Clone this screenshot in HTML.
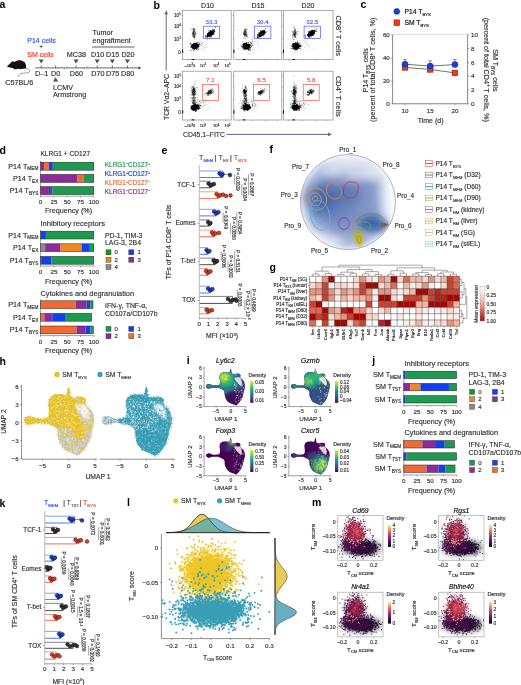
<!DOCTYPE html>
<html><head><meta charset="utf-8"><style>
html,body{margin:0;padding:0;background:#fff;}
body{width:521px;height:685px;overflow:hidden;}
svg{display:block;font-family:"Liberation Sans", sans-serif;will-change:transform;}
</style></head><body>
<svg width="521" height="685" viewBox="0 0 521 685">
<defs><radialGradient id="fg" cx="0.5" cy="0.5" r="0.5">
<stop offset="0" stop-color="#7a90c2"/><stop offset="0.6" stop-color="#8a9ccb"/>
<stop offset="0.88" stop-color="#b4c2e0"/><stop offset="1" stop-color="#e4e9f4"/></radialGradient>
<filter id="blur3" x="-50%" y="-50%" width="200%" height="200%"><feGaussianBlur stdDeviation="3.5"/></filter>
<filter id="blur6" x="-50%" y="-50%" width="200%" height="200%"><feGaussianBlur stdDeviation="6"/></filter>
<clipPath id="fclip"><circle cx="347.9" cy="202.1" r="47.6"/></clipPath>
<linearGradient id="cbr" x1="0" y1="0" x2="0" y2="1">
<stop offset="0" stop-color="#ffffff"/><stop offset="0.25" stop-color="#f7ddd6"/><stop offset="0.5" stop-color="#eba596"/>
<stop offset="0.75" stop-color="#d05848"/><stop offset="1" stop-color="#a80c0c"/></linearGradient>
<filter id="blur1" x="-50%" y="-50%" width="200%" height="200%"><feGaussianBlur stdDeviation="1.0"/></filter>
<clipPath id="hc1"><path d="M24.4 420C24.42 419.07 24.9 417.97 25.5 417.4C26.1 416.83 26.92 416.7 28 416.6C29.08 416.5 30.75 416.5 32 416.8C33.25 417.1 34.17 418.03 35.5 418.4C36.83 418.77 38.58 418.93 40 419C41.42 419.07 42.83 418.97 44 418.8C45.17 418.63 46.17 418.47 47 418C47.83 417.53 48.6 417.33 49 416C49.4 414.67 49.47 412 49.4 410C49.33 408 48.57 405.9 48.6 404C48.63 402.1 48.97 399.93 49.6 398.6C50.23 397.27 51.33 396.67 52.4 396C53.47 395.33 54.4 394.83 56 394.6C57.6 394.37 60.33 394.5 62 394.6C63.67 394.7 65.13 395.63 66 395.2C66.87 394.77 66.8 393.3 67.2 392C67.6 390.7 68 387.57 68.4 387.4C68.8 387.23 69.3 389.57 69.6 391C69.9 392.43 69.63 394.87 70.2 396C70.77 397.13 71.7 397.6 73 397.8C74.3 398 76.33 397.27 78 397.2C79.67 397.13 81.73 397.1 83 397.4C84.27 397.7 85.1 398.27 85.6 399C86.1 399.73 86.07 400.93 86 401.8C85.93 402.67 85 403.47 85.2 404.2C85.4 404.93 86.37 405.43 87.2 406.2C88.03 406.97 89.27 407.67 90.2 408.8C91.13 409.93 92.13 411.47 92.8 413C93.47 414.53 94.03 416.33 94.2 418C94.37 419.67 94.27 420.63 93.8 423C93.33 425.37 92.12 429.37 91.4 432.2C90.68 435.03 90.13 437.95 89.5 440C88.87 442.05 88.52 442.83 87.6 444.5C86.68 446.17 85.18 448.48 84 450C82.82 451.52 81.45 452.7 80.5 453.6C79.55 454.5 79.22 455.3 78.3 455.4C77.38 455.5 76.38 454.73 75 454.2C73.62 453.67 71.5 452.8 70 452.2C68.5 451.6 67.33 451.47 66 450.6C64.67 449.73 63.13 448.53 62 447C60.87 445.47 59.9 443.23 59.2 441.4C58.5 439.57 58.07 437.78 57.8 436C57.53 434.22 58.07 432.2 57.6 430.7C57.13 429.2 56.27 428.05 55 427C53.73 425.95 51.67 425.1 50 424.4C48.33 423.7 46.67 423.1 45 422.8C43.33 422.5 41.58 422.57 40 422.6C38.42 422.63 36.83 422.77 35.5 423C34.17 423.23 33.25 423.77 32 424C30.75 424.23 29.1 424.57 28 424.4C26.9 424.23 26 423.73 25.4 423C24.8 422.27 24.38 420.93 24.4 420Z"/></clipPath>
<clipPath id="hc2"><path d="M102 420C102.02 419.07 102.5 417.97 103.1 417.4C103.7 416.83 104.52 416.7 105.6 416.6C106.68 416.5 108.35 416.5 109.6 416.8C110.85 417.1 111.77 418.03 113.1 418.4C114.43 418.77 116.18 418.93 117.6 419C119.02 419.07 120.43 418.97 121.6 418.8C122.77 418.63 123.77 418.47 124.6 418C125.43 417.53 126.2 417.33 126.6 416C127 414.67 127.07 412 127 410C126.93 408 126.17 405.9 126.2 404C126.23 402.1 126.57 399.93 127.2 398.6C127.83 397.27 128.93 396.67 130 396C131.07 395.33 132 394.83 133.6 394.6C135.2 394.37 137.93 394.5 139.6 394.6C141.27 394.7 142.73 395.63 143.6 395.2C144.47 394.77 144.4 393.3 144.8 392C145.2 390.7 145.6 387.57 146 387.4C146.4 387.23 146.9 389.57 147.2 391C147.5 392.43 147.23 394.87 147.8 396C148.37 397.13 149.3 397.6 150.6 397.8C151.9 398 153.93 397.27 155.6 397.2C157.27 397.13 159.33 397.1 160.6 397.4C161.87 397.7 162.7 398.27 163.2 399C163.7 399.73 163.67 400.93 163.6 401.8C163.53 402.67 162.6 403.47 162.8 404.2C163 404.93 163.97 405.43 164.8 406.2C165.63 406.97 166.87 407.67 167.8 408.8C168.73 409.93 169.73 411.47 170.4 413C171.07 414.53 171.63 416.33 171.8 418C171.97 419.67 171.87 420.63 171.4 423C170.93 425.37 169.72 429.37 169 432.2C168.28 435.03 167.73 437.95 167.1 440C166.47 442.05 166.12 442.83 165.2 444.5C164.28 446.17 162.78 448.48 161.6 450C160.42 451.52 159.05 452.7 158.1 453.6C157.15 454.5 156.82 455.3 155.9 455.4C154.98 455.5 153.98 454.73 152.6 454.2C151.22 453.67 149.1 452.8 147.6 452.2C146.1 451.6 144.93 451.47 143.6 450.6C142.27 449.73 140.73 448.53 139.6 447C138.47 445.47 137.5 443.23 136.8 441.4C136.1 439.57 135.67 437.78 135.4 436C135.13 434.22 135.67 432.2 135.2 430.7C134.73 429.2 133.87 428.05 132.6 427C131.33 425.95 129.27 425.1 127.6 424.4C125.93 423.7 124.27 423.1 122.6 422.8C120.93 422.5 119.18 422.57 117.6 422.6C116.02 422.63 114.43 422.77 113.1 423C111.77 423.23 110.85 423.77 109.6 424C108.35 424.23 106.7 424.57 105.6 424.4C104.5 424.23 103.6 423.73 103 423C102.4 422.27 101.98 420.93 102 420Z"/></clipPath>
<filter id="blur2" x="-50%" y="-50%" width="200%" height="200%"><feGaussianBlur stdDeviation="1.6"/></filter>
<linearGradient id="vir" x1="0" y1="0" x2="0" y2="1"><stop offset="0" stop-color="#fde725"/><stop offset="0.11" stop-color="#b5de2b"/><stop offset="0.22" stop-color="#6ece58"/><stop offset="0.33" stop-color="#35b779"/><stop offset="0.44" stop-color="#1f9e89"/><stop offset="0.56" stop-color="#26828e"/><stop offset="0.67" stop-color="#31688e"/><stop offset="0.78" stop-color="#3e4989"/><stop offset="0.89" stop-color="#482878"/><stop offset="1" stop-color="#440154"/></linearGradient>
<clipPath id="ic1"><path d="M206.05 386.05C206.06 385.54 206.33 384.94 206.66 384.64C207 384.33 207.45 384.26 208.06 384.2C208.66 384.15 209.59 384.15 210.29 384.31C210.99 384.48 211.5 384.98 212.24 385.18C212.99 385.38 213.96 385.47 214.75 385.5C215.55 385.54 216.34 385.49 216.99 385.4C217.64 385.31 218.2 385.22 218.66 384.96C219.13 384.71 219.55 384.6 219.78 383.88C220 383.16 220.04 381.71 220 380.63C219.96 379.55 219.54 378.41 219.55 377.38C219.57 376.35 219.76 375.18 220.11 374.45C220.47 373.73 221.08 373.41 221.68 373.05C222.27 372.68 222.79 372.41 223.68 372.29C224.58 372.16 226.1 372.23 227.03 372.29C227.96 372.34 228.78 372.85 229.27 372.61C229.75 372.38 229.71 371.58 229.93 370.88C230.16 370.18 230.38 368.48 230.6 368.39C230.83 368.3 231.11 369.56 231.27 370.34C231.44 371.11 231.29 372.43 231.61 373.05C231.93 373.66 232.45 373.91 233.17 374.02C233.9 374.13 235.03 373.73 235.96 373.7C236.89 373.66 238.05 373.64 238.75 373.8C239.46 373.97 239.92 374.27 240.2 374.67C240.48 375.07 240.46 375.72 240.43 376.19C240.39 376.66 239.87 377.09 239.98 377.49C240.09 377.88 240.63 378.16 241.1 378.57C241.56 378.99 242.25 379.37 242.77 379.98C243.29 380.59 243.85 381.42 244.22 382.25C244.59 383.08 244.91 384.06 245 384.96C245.1 385.87 245.04 386.39 244.78 387.67C244.52 388.95 243.84 391.12 243.44 392.65C243.04 394.19 242.73 395.77 242.38 396.88C242.03 397.99 241.83 398.41 241.32 399.32C240.81 400.22 239.97 401.47 239.31 402.3C238.65 403.12 237.89 403.76 237.36 404.25C236.83 404.73 236.64 405.17 236.13 405.22C235.62 405.27 235.06 404.86 234.29 404.57C233.52 404.28 232.33 403.81 231.5 403.49C230.66 403.16 230.01 403.09 229.27 402.62C228.52 402.15 227.67 401.5 227.03 400.67C226.4 399.84 225.86 398.63 225.47 397.64C225.08 396.64 224.84 395.68 224.69 394.71C224.54 393.75 224.84 392.65 224.58 391.84C224.32 391.03 223.83 390.41 223.13 389.84C222.42 389.27 221.27 388.81 220.34 388.43C219.41 388.05 218.48 387.73 217.55 387.56C216.62 387.4 215.64 387.44 214.75 387.45C213.87 387.47 212.99 387.54 212.24 387.67C211.5 387.8 210.99 388.09 210.29 388.21C209.59 388.34 208.67 388.52 208.06 388.43C207.44 388.34 206.94 388.07 206.61 387.67C206.27 387.27 206.04 386.55 206.05 386.05Z"/></clipPath>
<clipPath id="ic2"><path d="M290.85 386.05C290.86 385.54 291.13 384.94 291.46 384.64C291.8 384.33 292.25 384.26 292.86 384.2C293.46 384.15 294.39 384.15 295.09 384.31C295.79 384.48 296.3 384.98 297.04 385.18C297.79 385.38 298.76 385.47 299.55 385.5C300.35 385.54 301.14 385.49 301.79 385.4C302.44 385.31 303 385.22 303.46 384.96C303.93 384.71 304.35 384.6 304.58 383.88C304.8 383.16 304.84 381.71 304.8 380.63C304.76 379.55 304.34 378.41 304.35 377.38C304.37 376.35 304.56 375.18 304.91 374.45C305.27 373.73 305.88 373.41 306.48 373.05C307.07 372.68 307.59 372.41 308.48 372.29C309.38 372.16 310.9 372.23 311.83 372.29C312.76 372.34 313.58 372.85 314.07 372.61C314.55 372.38 314.51 371.58 314.73 370.88C314.96 370.18 315.18 368.48 315.4 368.39C315.63 368.3 315.91 369.56 316.07 370.34C316.24 371.11 316.09 372.43 316.41 373.05C316.73 373.66 317.25 373.91 317.97 374.02C318.7 374.13 319.83 373.73 320.76 373.7C321.69 373.66 322.85 373.64 323.55 373.8C324.26 373.97 324.72 374.27 325 374.67C325.28 375.07 325.26 375.72 325.23 376.19C325.19 376.66 324.67 377.09 324.78 377.49C324.89 377.88 325.43 378.16 325.9 378.57C326.36 378.99 327.05 379.37 327.57 379.98C328.09 380.59 328.65 381.42 329.02 382.25C329.39 383.08 329.71 384.06 329.8 384.96C329.9 385.87 329.84 386.39 329.58 387.67C329.32 388.95 328.64 391.12 328.24 392.65C327.84 394.19 327.53 395.77 327.18 396.88C326.83 397.99 326.63 398.41 326.12 399.32C325.61 400.22 324.77 401.47 324.11 402.3C323.45 403.12 322.69 403.76 322.16 404.25C321.63 404.73 321.44 405.17 320.93 405.22C320.42 405.27 319.86 404.86 319.09 404.57C318.32 404.28 317.13 403.81 316.3 403.49C315.46 403.16 314.81 403.09 314.07 402.62C313.32 402.15 312.47 401.5 311.83 400.67C311.2 399.84 310.66 398.63 310.27 397.64C309.88 396.64 309.64 395.68 309.49 394.71C309.34 393.75 309.64 392.65 309.38 391.84C309.12 391.03 308.63 390.41 307.93 389.84C307.22 389.27 306.07 388.81 305.14 388.43C304.21 388.05 303.28 387.73 302.35 387.56C301.42 387.4 300.44 387.44 299.55 387.45C298.67 387.47 297.79 387.54 297.04 387.67C296.3 387.8 295.79 388.09 295.09 388.21C294.39 388.34 293.47 388.52 292.86 388.43C292.24 388.34 291.74 388.07 291.41 387.67C291.07 387.27 290.84 386.55 290.85 386.05Z"/></clipPath>
<clipPath id="ic3"><path d="M206.05 455.25C206.06 454.74 206.33 454.14 206.66 453.84C207 453.53 207.45 453.46 208.06 453.4C208.66 453.35 209.59 453.35 210.29 453.51C210.99 453.68 211.5 454.18 212.24 454.38C212.99 454.58 213.96 454.67 214.75 454.7C215.55 454.74 216.34 454.69 216.99 454.6C217.64 454.51 218.2 454.42 218.66 454.16C219.13 453.91 219.55 453.8 219.78 453.08C220 452.36 220.04 450.91 220 449.83C219.96 448.75 219.54 447.61 219.55 446.58C219.57 445.55 219.76 444.38 220.11 443.65C220.47 442.93 221.08 442.61 221.68 442.25C222.27 441.88 222.79 441.61 223.68 441.49C224.58 441.36 226.1 441.43 227.03 441.49C227.96 441.54 228.78 442.05 229.27 441.81C229.75 441.58 229.71 440.78 229.93 440.08C230.16 439.38 230.38 437.68 230.6 437.59C230.83 437.5 231.11 438.76 231.27 439.54C231.44 440.31 231.29 441.63 231.61 442.25C231.93 442.86 232.45 443.11 233.17 443.22C233.9 443.33 235.03 442.93 235.96 442.9C236.89 442.86 238.05 442.84 238.75 443C239.46 443.17 239.92 443.47 240.2 443.87C240.48 444.27 240.46 444.92 240.43 445.39C240.39 445.86 239.87 446.29 239.98 446.69C240.09 447.08 240.63 447.36 241.1 447.77C241.56 448.19 242.25 448.57 242.77 449.18C243.29 449.79 243.85 450.62 244.22 451.45C244.59 452.28 244.91 453.26 245 454.16C245.1 455.07 245.04 455.59 244.78 456.87C244.52 458.15 243.84 460.32 243.44 461.85C243.04 463.39 242.73 464.97 242.38 466.08C242.03 467.19 241.83 467.61 241.32 468.52C240.81 469.42 239.97 470.67 239.31 471.5C238.65 472.32 237.89 472.96 237.36 473.45C236.83 473.93 236.64 474.37 236.13 474.42C235.62 474.48 235.06 474.06 234.29 473.77C233.52 473.48 232.33 473.01 231.5 472.69C230.66 472.36 230.01 472.29 229.27 471.82C228.52 471.35 227.67 470.7 227.03 469.87C226.4 469.04 225.86 467.83 225.47 466.84C225.08 465.84 224.84 464.88 224.69 463.91C224.54 462.95 224.84 461.85 224.58 461.04C224.32 460.23 223.83 459.61 223.13 459.04C222.42 458.47 221.27 458.01 220.34 457.63C219.41 457.25 218.48 456.93 217.55 456.76C216.62 456.6 215.64 456.64 214.75 456.65C213.87 456.67 212.99 456.74 212.24 456.87C211.5 457 210.99 457.29 210.29 457.41C209.59 457.54 208.67 457.72 208.06 457.63C207.44 457.54 206.94 457.27 206.61 456.87C206.27 456.47 206.04 455.75 206.05 455.25Z"/></clipPath>
<clipPath id="ic4"><path d="M290.85 455.25C290.86 454.74 291.13 454.14 291.46 453.84C291.8 453.53 292.25 453.46 292.86 453.4C293.46 453.35 294.39 453.35 295.09 453.51C295.79 453.68 296.3 454.18 297.04 454.38C297.79 454.58 298.76 454.67 299.55 454.7C300.35 454.74 301.14 454.69 301.79 454.6C302.44 454.51 303 454.42 303.46 454.16C303.93 453.91 304.35 453.8 304.58 453.08C304.8 452.36 304.84 450.91 304.8 449.83C304.76 448.75 304.34 447.61 304.35 446.58C304.37 445.55 304.56 444.38 304.91 443.65C305.27 442.93 305.88 442.61 306.48 442.25C307.07 441.88 307.59 441.61 308.48 441.49C309.38 441.36 310.9 441.43 311.83 441.49C312.76 441.54 313.58 442.05 314.07 441.81C314.55 441.58 314.51 440.78 314.73 440.08C314.96 439.38 315.18 437.68 315.4 437.59C315.63 437.5 315.91 438.76 316.07 439.54C316.24 440.31 316.09 441.63 316.41 442.25C316.73 442.86 317.25 443.11 317.97 443.22C318.7 443.33 319.83 442.93 320.76 442.9C321.69 442.86 322.85 442.84 323.55 443C324.26 443.17 324.72 443.47 325 443.87C325.28 444.27 325.26 444.92 325.23 445.39C325.19 445.86 324.67 446.29 324.78 446.69C324.89 447.08 325.43 447.36 325.9 447.77C326.36 448.19 327.05 448.57 327.57 449.18C328.09 449.79 328.65 450.62 329.02 451.45C329.39 452.28 329.71 453.26 329.8 454.16C329.9 455.07 329.84 455.59 329.58 456.87C329.32 458.15 328.64 460.32 328.24 461.85C327.84 463.39 327.53 464.97 327.18 466.08C326.83 467.19 326.63 467.61 326.12 468.52C325.61 469.42 324.77 470.67 324.11 471.5C323.45 472.32 322.69 472.96 322.16 473.45C321.63 473.93 321.44 474.37 320.93 474.42C320.42 474.48 319.86 474.06 319.09 473.77C318.32 473.48 317.13 473.01 316.3 472.69C315.46 472.36 314.81 472.29 314.07 471.82C313.32 471.35 312.47 470.7 311.83 469.87C311.2 469.04 310.66 467.83 310.27 466.84C309.88 465.84 309.64 464.88 309.49 463.91C309.34 462.95 309.64 461.85 309.38 461.04C309.12 460.23 308.63 459.61 307.93 459.04C307.22 458.47 306.07 458.01 305.14 457.63C304.21 457.25 303.28 456.93 302.35 456.76C301.42 456.6 300.44 456.64 299.55 456.65C298.67 456.67 297.79 456.74 297.04 456.87C296.3 457 295.79 457.29 295.09 457.41C294.39 457.54 293.47 457.72 292.86 457.63C292.24 457.54 291.74 457.27 291.41 456.87C291.07 456.47 290.84 455.75 290.85 455.25Z"/></clipPath>
<clipPath id="lclip"><rect x="162" y="534" width="110" height="104"/></clipPath>
<linearGradient id="mag" x1="0" y1="0" x2="0" y2="1"><stop offset="0" stop-color="#fcfdbf"/><stop offset="0.12" stop-color="#fec287"/><stop offset="0.25" stop-color="#fb8761"/><stop offset="0.38" stop-color="#e55064"/><stop offset="0.5" stop-color="#b5367a"/><stop offset="0.62" stop-color="#812581"/><stop offset="0.75" stop-color="#4f127b"/><stop offset="0.88" stop-color="#1c1044"/><stop offset="1" stop-color="#000004"/></linearGradient>
<clipPath id="mc1"><rect x="337.8" y="515.5" width="45.2" height="44.7"/></clipPath>
<clipPath id="mc2"><rect x="438.8" y="515.5" width="45.2" height="44.7"/></clipPath>
<clipPath id="mc3"><rect x="337.8" y="592.2" width="45.2" height="44.7"/></clipPath>
<clipPath id="mc4"><rect x="438.8" y="592.2" width="45.2" height="44.7"/></clipPath></defs>
<rect width="521" height="685" fill="#fff"/>
<text x="-0.6" y="8.2" font-size="10.5" fill="#000" font-weight="bold">a</text>
<text x="27.3" y="42.6" font-size="7" fill="#2e52f0" stroke="#2e52f0" stroke-width="0.16">P14 cells</text>
<text x="41.2" y="48.2" font-size="5.5" fill="#333" stroke="#333" stroke-width="0.16" text-anchor="middle">+</text>
<text x="27.3" y="57" font-size="7" fill="#f03a26" stroke="#f03a26" stroke-width="0.16">SM cells</text>
<path d="M7.1 66.1 C8.0 65.2 9.0 64.5 9.6 64.0 L11.4 62.2 L12.3 61.2 L13.5 61.5 L14.1 62.1 C15.5 61.4 17.0 60.4 18.7 60.2 C20.5 60.0 22.6 60.6 24.3 62.1 C25.4 63.0 26.1 64.8 26.1 66.7 C26.1 67.6 25.9 68.3 25.5 68.6 L21.2 68.9 L19.8 69.3 L19.2 68.7 L15.2 69.3 L14.5 69.4 L13.8 68.4 L10.1 67.4 L7.7 67.1 Z" fill="#111" />
<path d="M25.6 68.4 C27.5 68.6 29.6 69.4 29.8 70.8 C30.0 72.4 28.0 72.9 25.0 73.0 C22.0 73.1 19.6 73.6 18.9 75.0 C18.5 75.8 18.2 76.5 18.1 77.0" fill="none" stroke="#333" stroke-width="0.45" />
<text x="5.3" y="85.2" font-size="7.2" fill="#333" stroke="#333" stroke-width="0.16">C57BL/6</text>
<line x1="35.2" y1="67.9" x2="64.9" y2="67.9" stroke="#3e4d6e" stroke-width="0.85" />
<line x1="66.6" y1="67.9" x2="84.9" y2="67.9" stroke="#3e4d6e" stroke-width="0.85" />
<line x1="86.7" y1="67.9" x2="139" y2="67.9" stroke="#3e4d6e" stroke-width="0.85" />
<path d="M138.4 66.2 L141.4 67.9 L138.4 69.6 Z" fill="#3e4d6e" />
<path d="M64.3 69.2 L65.5 66.6" fill="none" stroke="#3e4d6e" stroke-width="0.6" />
<path d="M66 69.2 L67.2 66.6" fill="none" stroke="#3e4d6e" stroke-width="0.6" />
<path d="M84.3 69.2 L85.5 66.6" fill="none" stroke="#3e4d6e" stroke-width="0.6" />
<path d="M86.1 69.2 L87.3 66.6" fill="none" stroke="#3e4d6e" stroke-width="0.6" />
<line x1="41.2" y1="65.4" x2="41.2" y2="68.2" stroke="#3e4d6e" stroke-width="0.75" />
<line x1="55.6" y1="65.4" x2="55.6" y2="68.2" stroke="#3e4d6e" stroke-width="0.75" />
<line x1="76" y1="65.4" x2="76" y2="68.2" stroke="#3e4d6e" stroke-width="0.75" />
<line x1="97.2" y1="65.4" x2="97.2" y2="68.2" stroke="#3e4d6e" stroke-width="0.75" />
<line x1="112.3" y1="65.4" x2="112.3" y2="68.2" stroke="#3e4d6e" stroke-width="0.75" />
<line x1="127.4" y1="65.4" x2="127.4" y2="68.2" stroke="#3e4d6e" stroke-width="0.75" />
<path d="M38.7 59.4 h5.0 l-2.5 4.2 z" fill="#3e4d6e" />
<path d="M73.5 59.4 h5.0 l-2.5 4.2 z" fill="#3e4d6e" />
<path d="M94.7 59.4 h5.0 l-2.5 4.2 z" fill="#3e4d6e" />
<path d="M109.8 59.4 h5.0 l-2.5 4.2 z" fill="#3e4d6e" />
<path d="M124.9 59.4 h5.0 l-2.5 4.2 z" fill="#3e4d6e" />
<path d="M53.1 81.4 h5.0 l-2.5 -4.2 z" fill="#3e4d6e" />
<text x="35" y="76" font-size="7.2" fill="#333" stroke="#333" stroke-width="0.16">D–1</text>
<text x="55.6" y="76" font-size="7.2" fill="#333" stroke="#333" stroke-width="0.16" text-anchor="middle">D0</text>
<text x="76.4" y="76" font-size="7.2" fill="#333" stroke="#333" stroke-width="0.16" text-anchor="middle">D60</text>
<text x="97.8" y="76" font-size="7.2" fill="#333" stroke="#333" stroke-width="0.16" text-anchor="middle">D70</text>
<text x="112.6" y="76" font-size="7.2" fill="#333" stroke="#333" stroke-width="0.16" text-anchor="middle">D75</text>
<text x="127.6" y="76" font-size="7.2" fill="#333" stroke="#333" stroke-width="0.16" text-anchor="middle">D80</text>
<text x="76.3" y="57.2" font-size="7.2" fill="#333" stroke="#333" stroke-width="0.16" text-anchor="middle">MC38</text>
<text x="97.6" y="57.2" font-size="7.2" fill="#333" stroke="#333" stroke-width="0.16" text-anchor="middle">D10</text>
<text x="112.6" y="57.2" font-size="7.2" fill="#333" stroke="#333" stroke-width="0.16" text-anchor="middle">D15</text>
<text x="128" y="57.2" font-size="7.2" fill="#333" stroke="#333" stroke-width="0.16" text-anchor="middle">D20</text>
<text x="92.4" y="35.4" font-size="7.2" fill="#333" stroke="#333" stroke-width="0.16">Tumor</text>
<text x="92.4" y="43" font-size="7.2" fill="#333" stroke="#333" stroke-width="0.16">engraftment</text>
<line x1="92.2" y1="47" x2="134.4" y2="47" stroke="#3e4d6e" stroke-width="0.9" />
<text x="53" y="90.2" font-size="7.2" fill="#333" stroke="#333" stroke-width="0.16">LCMV</text>
<text x="53" y="97.4" font-size="7.2" fill="#333" stroke="#333" stroke-width="0.16">Armstrong</text>
<text x="153.6" y="8.8" font-size="10.5" fill="#000" font-weight="bold">b</text>
<text x="207.5" y="7.6" font-size="7" fill="#333" stroke="#333" stroke-width="0.16" text-anchor="middle">D10</text>
<text x="258" y="7.6" font-size="7" fill="#333" stroke="#333" stroke-width="0.16" text-anchor="middle">D15</text>
<text x="308" y="7.6" font-size="7" fill="#333" stroke="#333" stroke-width="0.16" text-anchor="middle">D20</text>
<rect x="182.6" y="10.6" width="48.6" height="49" fill="#fff" stroke="#8a8a8a" stroke-width="0.7" />
<path d="M190.4 43.5h0m1.7 1.2h0m.3-.2h0m.5 0h0m.4.1h0m.1.3h0m.1-.3h0m.2-.6h0m.3.6h0m.3-.1h0m.1-.7h0m.2-.5h0m.1.8h0m0 .7h0m.2-.1h0m.1-1h0m.1.8h0m.1.3h0m.1-.2h0m0-.8h0m0 .2h0m.1-.1h0m0 .3h0m.3-.3h0m.1.6h0m.1-.2h0m.2.6h0m.1-.6h0m.1.4h0m.3-.3h0m.2.3h0m.1-.1h0m0-.1h0m0 .4h0m.1-2.6h0m.2.6h0m.2 1.8h0m.6-.7h0m1.1.6h0m0-.8h0m.8.9h0m-9 2.4h0m.3-.5h0m0 .7h0m.3-1.1h0m.6.9h0m.2-.5h0m0 .8h0m.1-.4h0m.1-.6h0m0 .7h0m.2-.4h0m.1.6h0m0-1.4h0m0 .2h0m0-.7h0m.1.1h0m.1 1.6h0m0-.1h0m.1-1.8h0m0 .5h0m0 0h0m.1.7h0m0-1.3h0m0 2.6h0m.1-.6h0m.1.1h0m0-.5h0m.2-.9h0m0 .1h0m.1.4h0m0 .8h0m0-.3h0m0 .9h0m0-2.1h0m0 .3h0m0 1.4h0m.1 0h0m0-1.8h0m.1.3h0m0 .5h0m0 .9h0m0-1.3h0m.1.1h0m0 .9h0m0-1.8h0m0 1h0m.1.1h0m0 1.3h0m0-1.1h0m0-.2h0m0-.8h0m0 1.6h0m.1-.5h0m0-.5h0m0 .7h0m0-.7h0m0-1h0m.1 2h0m0 .5h0m0-2.3h0m.1 1.9h0m0-1.9h0m0 2.4h0m.1-1.7h0m0 .4h0m0 .3h0m.1 0h0m0-.6h0m.1 1h0m0-.7h0m0-.3h0m0 .7h0m0-.6h0m.1 1.2h0m0-.4h0m.1-.1h0m0-1.4h0m0 1.7h0m0-.7h0m.1-.8h0m0 1.8h0m0-2.4h0m0 1.3h0m0-1.1h0m.1 1.1h0m0-.7h0m0 .2h0m0 .4h0m0 1h0m0 .7h0m0-2.1h0m.1.3h0m0 .3h0m0 .1h0m0-1.2h0m.1.5h0m0 1.8h0m0-1.7h0m.1 1.1h0m0-1.2h0m0-.3h0m0 1.1h0m0-.4h0m0-.1h0m0-1h0m0 2.8h0m0-2.4h0m.1.4h0m0 .7h0m0-.8h0m.1.6h0m0 .9h0m0-.8h0m0 .1h0m.1-.1h0m0-1h0m0 1.8h0m0-2.2h0m0 .1h0m0 1.9h0m.1.4h0m0-.7h0m0 .3h0m.1.3h0m0-2.4h0m0 1.8h0m0 .8h0m0-1.9h0m.1.9h0m.1.3h0m0-.3h0m0-.7h0m0 1.4h0m.1-1.7h0m0 .8h0m0-1.1h0m0 2.4h0m.1-2.2h0m0-.4h0m.1 2.4h0m0-1.3h0m0 .1h0m0-1.1h0m.1 2h0m0-1.7h0m0 2.2h0m0-.4h0m.1-1.8h0m0 1.7h0m.1-.7h0m.1-1.2h0m0 .2h0m0 1.3h0m.1 0h0m0-.6h0m0 1h0m0-.6h0m0-.7h0m0 .2h0m0-.4h0m0-.5h0m0 1.2h0m0 .3h0m0-.9h0m.1.9h0m.1-1.4h0m.2 1.1h0m0-.2h0m.2-.4h0m0 1h0m.1.9h0m.3-1.5h0m.1-.7h0m.2 1.7h0m.2-.7h0m.1-.5h0m0-.2h0m0 .5h0m.1-1h0m.3 1.2h0m-8 4.2h0m1.4-2.5h0m.7.7h0m.3-.6h0m.3 2.1h0m.7-2.3h0m.1 1h0m.1-1.1h0m.1 1.2h0m0-.6h0m.2-.3h0m.6-.1h0m.1.2h0m.2.5h0m.5-.4h0m.2-.4h0m.5 1.2h0m.4-1.1h0m1.3.9h0" stroke="#000" stroke-width="0.9" stroke-linecap="square" stroke-opacity="0.8"/>
<path d="M190.9 44h0m2.1.8h0m.1-.4h0m.3-.4h0m.1.9h0m.6-1.6h0m.2 1.2h0m0 .1h0m0 0h0m.4-.1h0m.1.1h0m.1-.7h0m.3.1h0m0 .6h0m.2-.5h0m.1.7h0m.1-.4h0m.2.5h0m.1-1h0m.2 1h0m.1-1.6h0m.2.5h0m.8.9h0m.6-.1h0m-6.3 1h0m1.1.9h0m.1-.4h0m.2-.6h0m.3-.1h0m.1 2.1h0m.1-2h0m.1 0h0m0 0h0m.1-.1h0m0 0h0m.2.8h0m0 .9h0m0-1.7h0m0 .9h0m.1-.2h0m0-.6h0m0 2h0m0-.5h0m0 .7h0m.1-.9h0m.1-.1h0m0-.2h0m.1-.7h0m0 .9h0m0-.2h0m0 .1h0m0-1.1h0m.1 1.4h0m.1 0h0m.1-.3h0m0 .7h0m0-.3h0m0-1.6h0m0-.3h0m0 1h0m.1 0h0m0-.5h0m0 1.3h0m0-.6h0m.1-.9h0m.1-.1h0m0 2.4h0m0-1.1h0m.1-.1h0m0 .2h0m.1-1.5h0m0 2.6h0m0-1.5h0m.1.8h0m0-.9h0m.1.8h0m0-1.3h0m0 1.4h0m0-.6h0m.1.9h0m.1-1.8h0m0 1.6h0m0-.3h0m0-1.5h0m0-.1h0m.1.7h0m0 1.4h0m.1.5h0m.1 0h0m0-1.3h0m.1.4h0m.1-.7h0m0 1.6h0m.1-1h0m0-1.2h0m0 .4h0m.1.3h0m0-.1h0m.1 0h0m0-.1h0m.1.4h0m0-.9h0m0-.6h0m.1 1.3h0m0 .9h0m0 0h0m.1-1h0m0 .6h0m.1.1h0m0-1.1h0m.5.4h0m.2.5h0m.1-1h0m0 .3h0m.1.3h0m.5-1.2h0m.3.7h0m-5.9 2.1h0m1.2.2h0m1.2.5h0" stroke="#000" stroke-width="1" stroke-linecap="square"/>
<path d="M191.4 29.3h0m1.4 0h0m.2 0h0m.6-1h0m.1.1h0m.2.9h0m.1-.9h0m.5 1.3h0m.1-.3h0m-1.9 3.3h0m.5-1.2h0m0-1.5h0m.1 1.4h0m.1-.2h0m0 1.5h0m0-.1h0m0 .1h0m.1-1.7h0m.3 1.1h0m.3-1h0m.1-1h0m0 1.5h0m0-1.1h0m0 .8h0m.1.9h0m0-1.3h0m.7 2h0m.2-2.9h0m.4 2.7h0m.2-.8h0m-3.1 1.6h0m.1 1.2h0m0 0h0m0-1.7h0m.3.4h0m.1 2h0m.1-2h0m0-.3h0m.2 1.2h0m0 .9h0m.1-.9h0m.1 1.1h0m0 .1h0m0-1.7h0m.2 1.2h0m0 .4h0m.1-2.3h0m.1.9h0m.1-.3h0m.7 2.1h0m0-1.4h0m.1 1.4h0m0-.8h0m.2-1.1h0m0 .5h0m.1-.9h0m0-.2h0m-2.8 2.7h0m.3.7h0m.8-.6h0m.1 1.1h0m.2.2h0m.1-.5h0m.1-.3h0m.1 1h0m.2-.9h0m.1 1h0m.1-1h0m.3-.1h0m.1 1.2h0" stroke="#000" stroke-width="0.7" stroke-linecap="square" stroke-opacity="0.55"/>
<path d="M212.8 29.3h0m1.7.6h0m1-2.7h0m-6.8 5.7h0m.2-.1h0m.1-2h0m.3 1.5h0m0 .5h0m.2.1h0m.4-.1h0m0-1.1h0m.3-.2h0m.1.7h0m.1.3h0m.1.2h0m0-1.1h0m.1-.4h0m0-.2h0m.1-.3h0m.1 0h0m.1.6h0m.1 1.5h0m0-.9h0m.1.9h0m.1-.2h0m.1-1h0m0 .2h0m0 .3h0m.1-.8h0m0 .9h0m0 .4h0m.1-.8h0m.1 1.1h0m0-.2h0m.1-.4h0m0-.5h0m0 1.1h0m0-.8h0m.1.1h0m.1.5h0m0 .2h0m.2-1.4h0m.1 1.3h0m0-.2h0m.1 0h0m0-.1h0m0 .1h0m.1-.3h0m0-.3h0m.1.8h0m.2-1.7h0m.2.7h0m.1-1.2h0m0-.3h0m.1 1.8h0m0-1.2h0m.1 1.1h0m.3.3h0m.1.3h0m.2-2.5h0m.2.1h0m0 .9h0m.1.7h0m.1 0h0m.6-.6h0m-8.9 4.6h0m1.2-.6h0m.4-.2h0m.1-1.3h0m0 .4h0m0 .3h0m.1-1h0m0 2.1h0m0-1h0m.3-.7h0m.2 1.3h0m.1-.3h0m0-1.2h0m.1 2.2h0m.1-.5h0m0-.8h0m0 .3h0m0 .4h0m0-1h0m0 .1h0m0-.7h0m0 1.4h0m0-.7h0m.2 1.4h0m0-1.2h0m0-.3h0m0 1.7h0m.2-1.1h0m0-.6h0m.1 1.5h0m.1-1.4h0m0-.7h0m.1-.2h0m0 2h0m0-.2h0m0-1.3h0m0-.6h0m.1 1.4h0m0-1.7h0m.1 0h0m0 1.8h0m0-1.4h0m.1.1h0m0 1h0m.1.3h0m0 .3h0m.1.2h0m.1-1.7h0m0 .2h0m.1 1h0m0-.9h0m0 1.4h0m0-.1h0m0-1.3h0m.1-.9h0m0 1.8h0m.1-.3h0m0 1.2h0m.1-2.7h0m0 .5h0m0 0h0m.1 1.1h0m0-1.5h0m0-.1h0m.1.5h0m0 1.2h0m0-.5h0m.1-.4h0m0 .7h0m.1-1.2h0m0 .3h0m0-.6h0m0 1.3h0m0-.5h0m.1-.8h0m0 1.3h0m0-1.3h0m0 .6h0m.1-.1h0m0 1.1h0m0-.7h0m0 1.7h0m.1-2h0m.1.3h0m0 .2h0m0 .2h0m0 1.2h0m0-2.4h0m.1.2h0m0 .7h0m0-.4h0m0-.6h0m0 2.2h0m.1-.9h0m0 .6h0m0 1h0m.1-1.2h0m.1.7h0m.2 0h0m0-2.4h0m.1 1.5h0m0-.2h0m.1-.3h0m.4.7h0m.1-1.6h0m0 1h0m0-1h0m.1 1.1h0m.1-.2h0m.1-1h0m.1.6h0m0 .7h0m0-.5h0m0-.8h0m.2.1h0m.3.6h0m0 .6h0m.2-1.1h0m.4 1h0m.1-1h0m-8.2 2.9h0m.1 1.2h0m1.1-1.2h0m.3.2h0m0 1h0m.2-.7h0m.2-.5h0m.4.2h0m.7-.3h0m.3.1h0m.5 0h0m.1.1h0m.2.8h0m.3-.3h0m1-.2h0" stroke="#000" stroke-width="0.9" stroke-linecap="square" stroke-opacity="0.85"/>
<path d="M191.7 34.5h0m2.8-.3h0m2.7-.5h0m5.5 2.5h0m8.7 1.4h0m-22.2 1.4h0m5.6.6h0m4.1 2.1h0m1-1.6h0m7.5-.8h0m.3.4h0m-8.7 3.9h0m0-1h0m.1 0h0m.1 1.3h0m1-1.1h0m1.4.8h0m0-.2h0m1-.6h0m.1-.7h0m.1 1.5h0m2.4.8h0m-12.7 1.9h0m5.6 1.1h0m.7-1.5h0m2.3-.7h0m.3.7h0m.6-.4h0m1.4 1.5h0m1.7.2h0m.1-.2h0m2.5.2h0m-13.7 1.8h0m2-.6h0m.6 1.5h0m3.3-.9h0m1.4-.9h0m1.7 1.9h0m1.2-.3h0m-12.2 2.6h0" stroke="#000" stroke-width="0.5" stroke-linecap="square" stroke-opacity="0.4"/>
<rect x="182.3" y="49.5" width="0.9" height="3.5" fill="#000" />
<rect x="191.6" y="59" width="2.6" height="0.9" fill="#000" />
<rect x="203.3" y="26.2" width="16.4" height="12.4" fill="none" stroke="#4a5cf0" stroke-width="0.7" />
<text x="211.5" y="23.8" font-size="6.2" fill="#4a5cf0" stroke="#4a5cf0" stroke-width="0.16" text-anchor="middle">33.3</text>
<line x1="181.4" y1="15.6" x2="182.6" y2="15.6" stroke="#666" stroke-width="0.4" />
<line x1="181.4" y1="26.2" x2="182.6" y2="26.2" stroke="#666" stroke-width="0.4" />
<line x1="181.4" y1="39" x2="182.6" y2="39" stroke="#666" stroke-width="0.4" />
<line x1="181.4" y1="52.2" x2="182.6" y2="52.2" stroke="#666" stroke-width="0.4" />
<line x1="187.6" y1="59.6" x2="187.6" y2="60.8" stroke="#666" stroke-width="0.4" />
<line x1="193.6" y1="59.6" x2="193.6" y2="60.8" stroke="#666" stroke-width="0.4" />
<line x1="201.6" y1="59.6" x2="201.6" y2="60.8" stroke="#666" stroke-width="0.4" />
<line x1="215" y1="59.6" x2="215" y2="60.8" stroke="#666" stroke-width="0.4" />
<line x1="226" y1="59.6" x2="226" y2="60.8" stroke="#666" stroke-width="0.4" />
<rect x="233.8" y="10.6" width="48" height="49" fill="#fff" stroke="#8a8a8a" stroke-width="0.7" />
<path d="M243 44.6h0m.6-.3h0m.1.5h0m.3-1.3h0m.2.4h0m.1.9h0m0-.2h0m0-.4h0m0-1h0m.2 1.2h0m.1.5h0m0-.2h0m.5-1.3h0m.2.7h0m.1.4h0m0 .4h0m.1-1h0m.1-.2h0m0-.2h0m.3.9h0m.1-.8h0m0 1.3h0m.2-.3h0m.1-.3h0m.2.4h0m0 0h0m.1 0h0m0-2.1h0m.1-.1h0m0 1.7h0m.2-.6h0m.2.9h0m.6-.2h0m0 .3h0m0 0h0m.7.2h0m.1-.5h0m0 .1h0m.2.3h0m0-2h0m.1 2h0m.1-.2h0m.1.4h0m0-.6h0m.8.6h0m.9-2.5h0m.6 1h0m-9.7 3h0m.5-.2h0m.4.7h0m.4-1.9h0m.2 2.3h0m0-1.2h0m.3 1.1h0m0 .2h0m.1-1.9h0m.2.1h0m0 1.8h0m.1.2h0m0-1.8h0m.1-.5h0m.1.4h0m0 2.2h0m.1-1.3h0m0-1.5h0m.2.7h0m0 .9h0m.2-1h0m0-.1h0m.1 1.5h0m0 .3h0m.1-1.1h0m0 1.2h0m0-1.9h0m0 1.1h0m0-.1h0m0 .3h0m.1.8h0m0-1.8h0m.1 1.1h0m0 .2h0m.1-1.4h0m0 1h0m0-.3h0m0-.7h0m.1.9h0m.1-.5h0m0 .6h0m.1.4h0m0-.6h0m0-.4h0m0-.5h0m.1.4h0m0-1.1h0m0 .7h0m0-.6h0m.1.7h0m0 1.9h0m0 .1h0m0-.2h0m.1-1h0m0 .2h0m0-.9h0m0 1.7h0m0-1.6h0m.1 1.4h0m0-.4h0m0-1.9h0m0 2.2h0m0-.1h0m0-.5h0m.1-.1h0m0-.8h0m.1-.5h0m0-.2h0m0 2h0m0-1.1h0m.1.1h0m0-.5h0m0 1.1h0m0 .4h0m.1-1.5h0m.1 1h0m0 .2h0m0 1.1h0m0-.6h0m.1 0h0m0-.3h0m0-1.5h0m0 .6h0m0-.1h0m.1 1h0m0-1.1h0m0 1.3h0m0-2h0m0 0h0m.1 1.1h0m0-.2h0m0-1.1h0m.1 2.5h0m0-1.3h0m.1 1.4h0m0-1h0m0-.3h0m.1-.7h0m0 .5h0m0 1.1h0m.1.1h0m0-.1h0m0-1.6h0m0 1.7h0m.1-2.3h0m0 1.9h0m0-1.4h0m.1 0h0m.1 1.9h0m0-1.4h0m.1.3h0m0-.7h0m.1-.2h0m0 1.7h0m.1-.3h0m0-.8h0m0-.4h0m0 1.5h0m.1.1h0m0-1.9h0m.1-.1h0m0 .2h0m.1.5h0m0 1h0m.1-1.5h0m0 2.1h0m0-.5h0m0 .2h0m.1-.9h0m0 .6h0m.1.5h0m.1-2.2h0m.2.8h0m.1-.8h0m0 1.8h0m.1-2h0m0 2.2h0m.1-.9h0m0-.4h0m0 0h0m0 1.7h0m0-2.3h0m.1 0h0m.1 2.6h0m0-2.4h0m.1 1.9h0m0-2.3h0m.1.3h0m0 1.3h0m.3-1.3h0m.2 1.1h0m.4-1.3h0m.1.1h0m.1 1.9h0m.2.2h0m0-2h0m1.1 1.1h0m.7-1.4h0m-9.1 3h0m.6.1h0m0-.2h0m.4 1.9h0m.2-1.3h0m0 .6h0m.7-1.1h0m0 .6h0m.3-.1h0m.6-.2h0m.1.9h0m.1-1.1h0m.1.5h0m0-.5h0m.2.3h0m.1-.2h0m.1-.1h0m0 .2h0m.2.1h0m.2.1h0m0-.6h0m.1.3h0m.1-.3h0m.3.6h0m.1-.3h0m.2-.2h0m.5.5h0m.3 1h0m.1.3h0m.1-1.8h0m.2 1.8h0m0-1.8h0m.5 1.7h0m.8-1.6h0m.1 2.1h0" stroke="#000" stroke-width="0.9" stroke-linecap="square" stroke-opacity="0.8"/>
<path d="M244.9 44.9h0m.4-.3h0m.1 0h0m.3.3h0m.1-.3h0m.1.2h0m.1-.3h0m0-.3h0m.4-.1h0m0 .5h0m.2 0h0m0 .1h0m.4-.2h0m.1.4h0m0-.3h0m.2.2h0m.7-.1h0m.4.2h0m-5.2 2.8h0m1.3.1h0m.1-1.9h0m0 0h0m.1.1h0m0 .6h0m.1 0h0m.1-.3h0m0 1.6h0m0-1.3h0m.3.8h0m0-.1h0m0-1.1h0m.1.4h0m.1-.4h0m0-.3h0m0 .9h0m.1-.2h0m.1-.7h0m0 2h0m0-2.1h0m0 .6h0m.1.1h0m0 .1h0m.1-1h0m.1-.1h0m.1 1.9h0m0-1.8h0m0-.2h0m0 1.3h0m0-1h0m0 0h0m.1-.1h0m0 .2h0m0 .2h0m0-.3h0m0-.6h0m0 .9h0m.1.6h0m.1-.3h0m0-.8h0m0 1.3h0m.1-.9h0m0 .9h0m0-1.4h0m0 1h0m.1-.7h0m0 .7h0m0-.2h0m0-.1h0m0-.7h0m.1 2.2h0m0-1.7h0m.1-.9h0m0 1h0m0-.9h0m0-.1h0m0 .8h0m0 .2h0m.1.2h0m.1-.1h0m0-.5h0m0 .3h0m0 1.5h0m.2-2.1h0m0 .3h0m0-.1h0m.1.5h0m0 0h0m0 .8h0m0-.4h0m.1.3h0m0-1.7h0m.1.9h0m0 .4h0m.2 0h0m0 0h0m.1.6h0m0 .2h0m.1-.8h0m.1.1h0m0 1h0m0-.5h0m0-1.2h0m0 .9h0m.1-1.1h0m0 .7h0m0-.7h0m0 2.4h0m.1-1.1h0m.1.1h0m.2-.1h0m.2.3h0m.2-.4h0m0-1.7h0m0 .2h0m.1 1.7h0m0-.7h0m-2.7 2.8h0m1.1.1h0m.1-.9h0m.4.4h0" stroke="#000" stroke-width="1" stroke-linecap="square"/>
<path d="M244.5 29h0m.8-.1h0m0 .6h0m.7.1h0m.3-.5h0m1 .4h0m-4 3.2h0m.7-1h0m.1.5h0m.1-1.3h0m.1 1.8h0m0-.8h0m.1.9h0m.1-2.8h0m0 2.1h0m.1.5h0m.2-2.1h0m0 1.3h0m.2-.8h0m0-.8h0m.2 2.1h0m0-.5h0m.2-.9h0m.1 1.3h0m0-.8h0m.7-.4h0m.1.8h0m0 1.1h0m.1-.6h0m.1-1.2h0m-2.8 3h0m.1 0h0m0 0h0m.1-.7h0m0 1.1h0m.3-.6h0m0 .5h0m.1-1.2h0m.1 2.6h0m.2-1.3h0m0-.4h0m.1.5h0m.1.7h0m.2 0h0m0-.7h0m.3-.5h0m0 .1h0m.1.9h0m0-.9h0m0-.2h0m0 .6h0m0 .2h0m.2-1.5h0m0 0h0m.2 0h0m.4 2.2h0m0-.9h0m.2 1h0m.1-.2h0m.2-1.4h0m.1-.6h0m.1 1.3h0m.3.9h0m-3 2.8h0m.3-2.3h0m.9 2.1h0m.2-2.1h0m.6.4h0m1.1-.1h0m.5.9h0" stroke="#000" stroke-width="0.7" stroke-linecap="square" stroke-opacity="0.55"/>
<path d="M265.3 28.9h0m-5.9 4h0m.6 0h0m.3-2.5h0m.1 2.5h0m.2-.5h0m0-.8h0m.5.8h0m.1-.4h0m.2.5h0m0-1.3h0m.1 1h0m0 .5h0m.2-1.2h0m0 .4h0m0 .1h0m0-.3h0m.2.7h0m.2.4h0m.1.1h0m.1-.7h0m0 .6h0m.1-1.6h0m0 1h0m.1-1.6h0m0 1.3h0m0 1h0m0-1.7h0m.1.7h0m0 .9h0m.1-.7h0m0 .3h0m.1.1h0m0-1h0m.1 1.4h0m0-1.5h0m0 1.4h0m0-1.1h0m.1.2h0m0-1.2h0m0 1.8h0m.2.2h0m.1-.4h0m0 .6h0m.1-.3h0m0 .1h0m.1-.5h0m.1-.7h0m0 1.3h0m.1-.8h0m0-.4h0m.1.3h0m0-.4h0m0 1.4h0m.1 0h0m0-1.9h0m.1-.2h0m0 .4h0m.1.8h0m0-1.2h0m.1-.4h0m0 2.1h0m.1-.7h0m0-.5h0m.1 1.5h0m.2-.2h0m0-1.2h0m.3 1.4h0m.2-.4h0m.1-.2h0m.5.3h0m.2-.9h0m-8.2 3.2h0m.1.2h0m.3.1h0m0 .5h0m.2-1.7h0m.2 1h0m.3-1.9h0m.3 2.9h0m.2-.6h0m0-1.4h0m.1.5h0m.2 1.3h0m.1-1.9h0m0 .9h0m0 0h0m.1-.7h0m.1-.4h0m.1 0h0m.2 1h0m0-.3h0m0 .9h0m0 .4h0m.1-.5h0m0-.7h0m.1.3h0m0-.2h0m.1.4h0m0 .4h0m.1-.5h0m0-1.3h0m0-.1h0m0 .8h0m0 .3h0m.1-.8h0m0-.3h0m0 .9h0m.2-.9h0m0 .4h0m0 .9h0m0-.5h0m.1.4h0m0-.9h0m.1.1h0m0 1.3h0m.1-1.9h0m0 .6h0m.1-.4h0m0 1h0m0-1.1h0m.1 1.2h0m0 .3h0m0-1.3h0m0-.2h0m0 .2h0m0 1.4h0m0-.3h0m0-.8h0m.1-.5h0m0-.1h0m0 1.5h0m0-.4h0m0 .2h0m.1-1h0m0-.5h0m.1 2h0m0-1.3h0m0 .2h0m0 1.5h0m0-.6h0m.2-.8h0m0 .8h0m0-.4h0m0-1.3h0m0 1h0m.1-.5h0m0 1.5h0m0-1.3h0m.1 1.1h0m0-.7h0m0 .5h0m.2-.2h0m0-1.4h0m0 0h0m.1 1.1h0m0-1.2h0m.1 1h0m.1.1h0m0-.5h0m.1 1.4h0m0-1.1h0m.1 1h0m.2.1h0m.1-.8h0m.1-.5h0m0-.5h0m0 .2h0m0 .8h0m0-.1h0m.1-.4h0m0 .7h0m0-.3h0m.1.8h0m0-1.7h0m.1 1.5h0m0-1.2h0m.3.1h0m.1-.2h0m.1 0h0m.3 1.2h0m.2-1.1h0m.2-.4h0m-7.3 3.9h0m.1.3h0m.1-.2h0m.6.1h0m.1 1h0m.4-1h0m.6-1.1h0m.2.6h0m.1-.7h0m.1.1h0m.2.6h0m.2.1h0m.2-.3h0m.2-.5h0m0 .1h0m.1-.1h0m.9.2h0" stroke="#000" stroke-width="0.9" stroke-linecap="square" stroke-opacity="0.85"/>
<path d="M245.9 37.4h0m6.4.8h0m.1-1.8h0m-8.1 5.4h0m2.1-2.1h0m5.5-.1h0m.6 1.3h0m0-.6h0m.6 1.2h0m2.6.3h0m1.5-.8h0m-15.4 2.3h0m1.5.7h0m.1-.3h0m3.2.7h0m3.3-.6h0m1.2-.9h0m.3 1.6h0m.2-2.5h0m.4.1h0m.4.5h0m.4 1.9h0m1.5-.4h0m3.4-1.3h0m.8.8h0m-17.9 1.7h0m6.4 2h0m1.5.6h0m.6-1.4h0m1.5.8h0m.8-1.9h0m1-.4h0m1.2 2.8h0m1.3-.8h0m3.6-.9h0m-20.2 2.5h0m11.5-.6h0m2.8 1.5h0m8.4-.1h0m-12.3 3.9h0" stroke="#000" stroke-width="0.5" stroke-linecap="square" stroke-opacity="0.4"/>
<rect x="233.5" y="49.5" width="0.9" height="3.5" fill="#000" />
<rect x="242.8" y="59" width="2.6" height="0.9" fill="#000" />
<rect x="254.5" y="26.2" width="16.4" height="12.4" fill="none" stroke="#4a5cf0" stroke-width="0.7" />
<text x="262.7" y="23.8" font-size="6.2" fill="#4a5cf0" stroke="#4a5cf0" stroke-width="0.16" text-anchor="middle">30.4</text>
<line x1="232.6" y1="15.6" x2="233.8" y2="15.6" stroke="#666" stroke-width="0.4" />
<line x1="232.6" y1="26.2" x2="233.8" y2="26.2" stroke="#666" stroke-width="0.4" />
<line x1="232.6" y1="39" x2="233.8" y2="39" stroke="#666" stroke-width="0.4" />
<line x1="232.6" y1="52.2" x2="233.8" y2="52.2" stroke="#666" stroke-width="0.4" />
<line x1="238.8" y1="59.6" x2="238.8" y2="60.8" stroke="#666" stroke-width="0.4" />
<line x1="244.8" y1="59.6" x2="244.8" y2="60.8" stroke="#666" stroke-width="0.4" />
<line x1="252.8" y1="59.6" x2="252.8" y2="60.8" stroke="#666" stroke-width="0.4" />
<line x1="266.2" y1="59.6" x2="266.2" y2="60.8" stroke="#666" stroke-width="0.4" />
<line x1="277.2" y1="59.6" x2="277.2" y2="60.8" stroke="#666" stroke-width="0.4" />
<rect x="283.4" y="10.6" width="49.6" height="49" fill="#fff" stroke="#8a8a8a" stroke-width="0.7" />
<path d="M292.5 44.5h0m.3-.7h0m.6-.4h0m0 0h0m1.1 1.4h0m.4-1h0m.1 1h0m.2-.2h0m.2.2h0m0-.8h0m0 .4h0m0-1.2h0m.1.9h0m.1.7h0m.1-.3h0m0 .4h0m0-2.1h0m.1 1.9h0m.3-.1h0m.3-.7h0m.2-.3h0m0 1.3h0m.4-.2h0m0-.6h0m0 0h0m0 0h0m.2.1h0m0 .3h0m0-.4h0m.1.7h0m.1-1.7h0m0-1h0m0 1h0m.1.9h0m0 .3h0m.1-1.4h0m.2 2h0m0-1.4h0m.1.8h0m.1.4h0m.2-.3h0m.5-.5h0m1-.1h0m-7.8 2.3h0m0 0h0m.6.6h0m.2-1.6h0m.2 1.9h0m.5-.9h0m0 1h0m.2-.9h0m0 .2h0m0-1.3h0m.1 1h0m0 .2h0m0 .9h0m0-1.5h0m0-.4h0m.3 1.1h0m0 .9h0m0 .3h0m.2-1.8h0m0-.5h0m0 .9h0m0 .5h0m.1-1.4h0m0-.3h0m0 .5h0m.1.9h0m0 .4h0m.1-.5h0m.1.8h0m0 .1h0m0-1.1h0m0 .7h0m.1.7h0m0-.2h0m.1-.4h0m0 .7h0m0-2.6h0m0 1.3h0m.1-1.2h0m0 .1h0m0-.1h0m0 1.4h0m.1 1.1h0m.1-.8h0m0 .3h0m0 .2h0m0-1.7h0m.1.7h0m0 .3h0m.1-1.3h0m0 2.4h0m.1.1h0m0-1.7h0m0 .4h0m.1.9h0m0-2h0m.1.9h0m0-.2h0m0-.8h0m.1.4h0m0 .8h0m0-1h0m.1.3h0m0-.6h0m0 0h0m.1 1.6h0m0-1.6h0m0 1h0m0-.7h0m0-.1h0m.1.4h0m0 .4h0m.1-.7h0m0-.2h0m0 .4h0m.1 1h0m.1-.9h0m0-.6h0m0 2.7h0m.1-.7h0m0-.9h0m0 .2h0m.1.4h0m0-.8h0m0 1.7h0m0-1.7h0m.1.5h0m0 .3h0m0 .8h0m.1-.6h0m0-.1h0m0-2h0m.1 1.7h0m0-.6h0m0-1.1h0m.1 1.4h0m0-1.3h0m0 1.8h0m0 0h0m.1-1.3h0m0 1.2h0m0 .8h0m0-2.6h0m0 1.8h0m0-.4h0m.1-1h0m0 .2h0m0 .4h0m0 1.9h0m0-2.5h0m0-.4h0m.1.3h0m0 .1h0m0 1.2h0m0-.3h0m0 .9h0m0-.1h0m0-1.1h0m.1.6h0m0-1.4h0m0 1.7h0m0-1.8h0m0 .5h0m0 .6h0m0 .9h0m.1-.7h0m0-.7h0m0 .7h0m0-.6h0m0 .1h0m0 .5h0m.1 1.1h0m0 .3h0m0-1.4h0m.1.7h0m0-.5h0m0-.2h0m.1-1.4h0m0 .6h0m.1 2h0m0-2.5h0m.1.3h0m0-.3h0m.1 2.4h0m0-1.1h0m.1-.3h0m0-.7h0m0 .6h0m.1-.3h0m.1.9h0m0-.1h0m0-.7h0m.1 1.2h0m0-2h0m0 1.1h0m0-.6h0m.1 1.5h0m.1-1.4h0m.1.9h0m0-.8h0m0-.2h0m.1 1.8h0m.1-1.6h0m.1.9h0m0-.2h0m.3-1.3h0m.2.8h0m.3.7h0m.2-.5h0m.1-.7h0m.2.7h0m.5-.9h0m.1 1h0m-9.5 2.4h0m1.2-.3h0m.8.7h0m.1-.6h0m.6.1h0m.6.6h0m0-.4h0m0 .5h0m.2-.9h0m0 .8h0m.1-1h0m.2-.1h0m0 1.5h0m.3-.9h0m.2-.6h0m.3 2.8h0m.7-1.8h0m.2 0h0m.2-.7h0m.1 0h0m0 .8h0m.6-1h0m1.6.2h0m.9 0h0" stroke="#000" stroke-width="0.9" stroke-linecap="square" stroke-opacity="0.8"/>
<path d="M294.3 44.5h0m.2-.4h0m0-.3h0m.5-.3h0m1.2 1.3h0m.4-.1h0m.3.2h0m0-.5h0m.2.4h0m.2 0h0m.4-.4h0m.2.5h0m.1-.1h0m-5.5 1.2h0m1-.9h0m.1 1.3h0m.2-.7h0m.3.7h0m0-1.1h0m.1 1.2h0m.1-1.1h0m.1.2h0m.1-.6h0m0 2.1h0m0-.9h0m.1-.2h0m0-.5h0m.1.6h0m0-.6h0m.2 1.5h0m0-.1h0m0-.3h0m0-1.5h0m.1 2.8h0m0-2.3h0m0 .3h0m0 1.7h0m0-2.6h0m0 1h0m.1 0h0m0-.2h0m.1 0h0m0-.4h0m0 0h0m.1 2.3h0m0-1.6h0m0-.4h0m.1-.5h0m0 .6h0m0 .9h0m.1-.8h0m0 .8h0m0 .6h0m.1-1.3h0m0-.4h0m0 1.4h0m0-1.7h0m0-.2h0m.1 1.3h0m0 0h0m0-1.1h0m.1 1.6h0m0 .6h0m.1-.6h0m0-1.1h0m0 .7h0m.1-.9h0m0 .2h0m0 .2h0m0 .2h0m0-.2h0m.1 1.2h0m0-.8h0m0-.4h0m.1 1.7h0m0-2h0m0 .9h0m0 0h0m0 .6h0m.1-.5h0m.1.2h0m0 .2h0m0-1.2h0m0 .5h0m0-.3h0m.2-.6h0m.1.2h0m0 .2h0m0 .7h0m.2-.3h0m0-.6h0m0 .4h0m0-.1h0m0 .3h0m.1-.7h0m.1.6h0m0 .2h0m0-1h0m.1 1.2h0m0-.1h0m.1.3h0m.1-1.7h0m0 .4h0m0 1.3h0m0-.2h0m0 1h0m.3-.6h0m0-1.7h0m.1-.1h0m.1 1.9h0m.3-.8h0m.3.9h0m.1-1.3h0m1.9.8h0m-5.8 1.7h0m1 .6h0m.1-.4h0m.2-.5h0m1.3 1.2h0m1-1.1h0" stroke="#000" stroke-width="1" stroke-linecap="square"/>
<path d="M293.6 26.8h0m.2 2.9h0m.6-2.1h0m.4 1.2h0m.5.6h0m.5-.3h0m-3.3 2.6h0m.4 1h0m.3-.9h0m.7 1.1h0m0-1.2h0m.5-.5h0m.2-1h0m.1 1.2h0m.1.7h0m.1-1.3h0m0 1.3h0m0-.3h0m.1 1.1h0m.2-.7h0m0 .6h0m0-2.4h0m.3.5h0m0 2h0m.2-.3h0m0-1.6h0m.8 1.2h0m.9-.7h0m.8.5h0m-5.8 3.7h0m.3-.9h0m.5-1.6h0m.2 1.6h0m.1-1.2h0m.3-.3h0m0 .3h0m0 1.3h0m.1 0h0m.2-1.4h0m.1 2.4h0m0-1.2h0m.1-.4h0m.2 1h0m0-.7h0m0-.5h0m.1 1.4h0m0-1.4h0m0 .4h0m.3.7h0m0 .5h0m.2-2.1h0m.2-.3h0m.1.8h0m0 .7h0m.2 1.1h0m.1-1.1h0m0-.2h0m.4-.9h0m.2 0h0m1.2.9h0m-5.1 2.4h0m1.2-.8h0m.4 1.6h0m.9-1.2h0m.3.3h0m.1-.3h0m.2.6h0m.3-.2h0m-2.7 2.7h0m1.1-.3h0" stroke="#000" stroke-width="0.7" stroke-linecap="square" stroke-opacity="0.55"/>
<path d="M316.2 28.9h0m-7.4 4h0m0-1.3h0m.2 1.3h0m.4-1.1h0m.6 1h0m.2-.9h0m.1.5h0m0-.3h0m.1.4h0m0-.3h0m.2.2h0m.2-.9h0m.2-.6h0m0 .6h0m0 1.4h0m.1-.7h0m.1-.1h0m0-.2h0m.2.8h0m.1-2h0m.2 0h0m0 2h0m.2-.5h0m0 .7h0m0-.5h0m0-1.6h0m.2 1.6h0m.2-.4h0m0 .9h0m.1-.5h0m0 .1h0m0-1h0m.1-.8h0m.2 1.7h0m.1-.3h0m0-1.8h0m.1 1.1h0m0-.9h0m.1 1.3h0m.1-.1h0m0-.5h0m0-.8h0m.1 1.8h0m.2.2h0m.2.4h0m.2-1.3h0m.2 1.3h0m.1-1.6h0m0-.7h0m.1 1.8h0m0 .1h0m.2 0h0m0 .5h0m0-2.3h0m0 2.2h0m.1-2.1h0m0 1.1h0m.6-1.5h0m.6.9h0m.6.3h0m-11.1 4.2h0m2.4-1.2h0m.3 1.4h0m.1-.6h0m0-.4h0m0 .9h0m.2-1.2h0m0 .9h0m.1-.4h0m.1-1.4h0m0 1.1h0m.1 1h0m.1-1.1h0m.2-1.4h0m0 2.2h0m.2-2.5h0m.1 2.7h0m0-1.2h0m.1-1.1h0m.1 2h0m0-1.1h0m0-.4h0m.1.3h0m.1-.1h0m0-1.1h0m0 1h0m.2.4h0m0-.1h0m0 .8h0m.1-.4h0m0-.1h0m.1-.1h0m0 .6h0m.1-.1h0m0-.8h0m0-.4h0m.1.1h0m0 .5h0m0 .4h0m.1-1.3h0m0-.3h0m0-.2h0m0 .4h0m0 1.2h0m0-.1h0m0 1.1h0m0-1.4h0m0 .4h0m.1-1.2h0m0 .4h0m.1.8h0m0-.1h0m0-.7h0m0 .4h0m.1-.5h0m0-.2h0m0 .4h0m.1 1.1h0m0-.6h0m0-.6h0m0 .2h0m0 .4h0m.1-.3h0m.1.1h0m0-.7h0m0 1.1h0m0 .2h0m0-1.8h0m0 1.5h0m.1.8h0m0-2.1h0m0 2h0m0-1.1h0m.1-.5h0m0-.1h0m0-.3h0m0 2h0m.1-.8h0m0-.2h0m0-.3h0m0-.8h0m.1 1.1h0m0 .1h0m0 .2h0m.1-1.3h0m0-.1h0m.1 1.9h0m0-.2h0m0-1.6h0m.1.8h0m0 1.8h0m0-2h0m0 .4h0m0-.8h0m0 1.8h0m.1-.3h0m0-.4h0m.1-.7h0m0-.1h0m.1 1.6h0m.1-.2h0m0-1.8h0m0 1.3h0m0-1.3h0m0 1.3h0m.1-.9h0m0 .3h0m.1-.9h0m0 1.9h0m0-1.2h0m.1.2h0m0 .3h0m0 .7h0m.1-1.4h0m0 .6h0m.2.1h0m.1-.3h0m0 .4h0m0-1.1h0m0 1.3h0m0 .5h0m.1-1.6h0m.1 1.1h0m0-1.4h0m0 1.4h0m.2.9h0m.1-1.1h0m.1 0h0m.3-1.4h0m.1.5h0m.2 0h0m.4.5h0m-8.6 2.9h0m2.9-.5h0m.3.5h0m.3-.6h0m.5 1.1h0m.6-.6h0m.6-.8h0" stroke="#000" stroke-width="0.9" stroke-linecap="square" stroke-opacity="0.85"/>
<path d="M309.1 35.7h0m-20.8 3.1h0m4.5-1h0m2.9-.8h0m1 1.9h0m6.4-2.7h0m1.7.8h0m-11.1 4.4h0m1.9.4h0m1.7-.2h0m3.3-1.2h0m3.3.2h0m2.6 1.1h0m-11.5 1.5h0m.5-.6h0m1.3 2h0m.3-1.6h0m.9-.4h0m.8-.4h0m1.7.7h0m4.9-.9h0m1.3 1.9h0m.4.3h0m-19.7 3.7h0m8.1-2.2h0m.4 2.1h0m2.9-1.7h0m.5-.8h0m1.6.3h0m1.4-.3h0m2.9 2.3h0m3.2-1.3h0m.4-.4h0m-11.7 3.8h0m1.9-1.4h0m2.3 1.3h0m2.6-.5h0m2.4.3h0m5.8-.3h0m-17.7 3.2h0" stroke="#000" stroke-width="0.5" stroke-linecap="square" stroke-opacity="0.4"/>
<rect x="283.1" y="49.5" width="0.9" height="3.5" fill="#000" />
<rect x="292.4" y="59" width="2.6" height="0.9" fill="#000" />
<rect x="304.1" y="26.2" width="16.4" height="12.4" fill="none" stroke="#4a5cf0" stroke-width="0.7" />
<text x="312.3" y="23.8" font-size="6.2" fill="#4a5cf0" stroke="#4a5cf0" stroke-width="0.16" text-anchor="middle">32.5</text>
<line x1="282.2" y1="15.6" x2="283.4" y2="15.6" stroke="#666" stroke-width="0.4" />
<line x1="282.2" y1="26.2" x2="283.4" y2="26.2" stroke="#666" stroke-width="0.4" />
<line x1="282.2" y1="39" x2="283.4" y2="39" stroke="#666" stroke-width="0.4" />
<line x1="282.2" y1="52.2" x2="283.4" y2="52.2" stroke="#666" stroke-width="0.4" />
<line x1="288.4" y1="59.6" x2="288.4" y2="60.8" stroke="#666" stroke-width="0.4" />
<line x1="294.4" y1="59.6" x2="294.4" y2="60.8" stroke="#666" stroke-width="0.4" />
<line x1="302.4" y1="59.6" x2="302.4" y2="60.8" stroke="#666" stroke-width="0.4" />
<line x1="315.8" y1="59.6" x2="315.8" y2="60.8" stroke="#666" stroke-width="0.4" />
<line x1="326.8" y1="59.6" x2="326.8" y2="60.8" stroke="#666" stroke-width="0.4" />
<rect x="182.6" y="71.2" width="48.6" height="48.8" fill="#fff" stroke="#8a8a8a" stroke-width="0.7" />
<path d="M193.9 103.7h0m.6.9h0m.3 0h0m.6-.8h0m.1.9h0m.1-.6h0m1.4.6h0m1.7.1h0m-7.8 2.2h0m.5.8h0m0-1.4h0m.3 0h0m.1.7h0m.1.6h0m0-.3h0m.1 0h0m.2-.1h0m.1-1.3h0m.1.1h0m0 1.2h0m.3.6h0m0-.8h0m.1-.7h0m.1.1h0m0-.4h0m.1 0h0m.1.7h0m.1-.1h0m.1-.8h0m0 .6h0m.1.7h0m0-1.6h0m.1 1.8h0m0 .4h0m.1 0h0m0 0h0m.1-2h0m0 .9h0m0-.5h0m.1 1.3h0m.1-.7h0m0-.7h0m0 1h0m0-1.7h0m0 .3h0m.1.7h0m0 1.1h0m.1-.6h0m.1-.1h0m0-.4h0m.1.3h0m.1.6h0m0 0h0m0-.8h0m0 .5h0m0-.8h0m0 1.4h0m0-1h0m0 0h0m.1 1.1h0m.1-1h0m0-.1h0m0-.5h0m0 .2h0m.1-.7h0m0 1.9h0m.1.1h0m.1-1.1h0m0-.5h0m0 1.3h0m0-.8h0m0 .8h0m.2.1h0m0-.1h0m0-1.8h0m0 .1h0m0 1.6h0m.1.2h0m0-2.3h0m.1.9h0m0-.6h0m0 1h0m0 .9h0m0 .5h0m.1-1.1h0m.1.9h0m0-.4h0m0-.5h0m0 .7h0m0-1.2h0m.1.2h0m0 .7h0m0-.6h0m.1 0h0m.1 1.2h0m0-.8h0m0 .7h0m.1-.3h0m.1-.6h0m.1-1.4h0m0 1.8h0m0-1.8h0m.1 2.3h0m.1-.6h0m0-1h0m0 1.3h0m0-1.5h0m.1 1.3h0m0 .2h0m0-.1h0m.1-.8h0m0-.1h0m0 .5h0m.1.5h0m.1-.3h0m0-1.6h0m0 2.3h0m0-1.2h0m.2.9h0m0 0h0m0-2.4h0m.1 1.5h0m.1.5h0m0-1.9h0m.2.5h0m0 1.7h0m.2-.3h0m0-.7h0m.1-.6h0m0 1.7h0m.1-.1h0m.1-1.4h0m.5 1.3h0m0-.8h0m0-.8h0m.1 1.3h0m.1-1.6h0m.3.8h0m.3-1h0m.2 1.9h0m1.2-1.3h0m-9.3 2.7h0m.1.8h0m.3-.7h0m.1-.3h0m.3.6h0m0 .1h0m.1-.1h0m0 0h0m.1-.4h0m.4-.2h0m.1.1h0m0 1.2h0m.2.9h0m0-1.6h0m.1-.1h0m0 1h0m.3-.5h0m0 .5h0m.1-1.5h0m.1.4h0m.1.1h0m0-.2h0m.3-.2h0m.1 0h0m.2.2h0m0 2.2h0m.1-1.6h0m0-.9h0m0 .1h0m0 1.7h0m.1-1.9h0m0-.1h0m.1 0h0m0 .7h0m0 .5h0m.1-1h0m.1.2h0m0-.2h0m0 .2h0m.1-.2h0m.2-.2h0m.2 1.1h0m.1-1.1h0m0 2.9h0m0-2.8h0m.1.5h0m.1 1.3h0m0-1.8h0m0 .1h0m.1 1.6h0m0-.8h0m.1-.4h0m0 .7h0m.1.6h0m0-1.2h0m0-.6h0m0 0h0m.1 1h0m.1 1.8h0m.1-2h0m.2-.9h0m.1 1h0m.1 1.6h0m.1-2.6h0m.3.5h0m0-.1h0m.1.5h0m0-.5h0m.1-.2h0m.2.3h0m.7.5h0m.1-1h0m.2.5h0m.1.5h0m.2.2h0m.6-1.2h0m.1 0h0m.4.5h0m-4.4 2.7h0" stroke="#000" stroke-width="0.9" stroke-linecap="square" stroke-opacity="0.85"/>
<path d="M195 81.5h0m0 .4h0m-2.8 4.4h0m1.2 2.3h0m0 1h0m.2-.8h0m.8 1.1h0m-2.2 2.7h0m2.4-.2h0m.2-1.5h0m.4.5h0m-3.2 3.1h0m.4.3h0m.1-1h0m1.1.9h0m.1.1h0m0-1h0m.5.1h0m.1-.7h0m.2 2.3h0m0-.5h0m.4-1.5h0m.4 1.1h0m.3.2h0m.4-.9h0m-5.3 4.3h0m1.2-.2h0m1 .4h0m.2-.4h0m0 .2h0m.2-.5h0m0 0h0m0-.5h0m.2 1.2h0m.3-1.4h0m.2-.2h0m0-.4h0m.1 1.3h0m.1 1.2h0m.5-.5h0m.2-.9h0m.1-.1h0m.1 1h0m.2-.2h0m.8-.8h0m-4.2 3.7h0m.2-.1h0m.4-.1h0m.3-.8h0m.2 1.7h0m0-2.1h0m.1-.5h0m.2-.1h0m.1 1.1h0m0 1.1h0m.2-1h0m.1.6h0m0-.2h0m0 .7h0m.5-.4h0m.1-.6h0m.1-.6h0m0 .2h0m.1.9h0m.1-.1h0m.1.9h0m.4-1.8h0m.2.9h0m.3.9h0m-3 .7h0m0 .1h0m0 .6h0m.3-.9h0m0 1.5h0m.2-.1h0m.1-.8h0m.2-.4h0m.1 2.2h0m.1-1.2h0m0 .1h0m.2.9h0m.3 0h0m.2.4h0m0-2.5h0m.1 1.3h0m.1-.5h0m.3-.4h0m0 2.1h0m.1-1.9h0m.1-.3h0m.2 1.3h0m.2.6h0m0 .4h0m.8-2.6h0m-4.2 3.1h0m.1 1.6h0m.1-1.3h0m0 1.8h0m.2-1.9h0m.2.4h0m.4-.6h0m.1.8h0m.1.2h0m.1.8h0m.1-1.4h0m0 .9h0m.1-.7h0m.2-.3h0m.1.5h0m0 1.3h0m.1.4h0m.1-2h0m0 1.7h0m.1-1.6h0m.2 1.6h0m0-2.3h0m.1.3h0m.1 2h0m.1 0h0m0-.7h0m0-1.6h0m.2 1.7h0m0-.2h0m0 .5h0m.5-1.5h0m.4 1.6h0m.1-1.6h0m0 .7h0m1.2.7h0m-4.4.9h0m.4.1h0m0 .9h0m.1-.2h0m0 .7h0m0-.2h0m.2.5h0m0-.9h0m.1.8h0m0-.2h0m.1-.5h0m0 .4h0m.2-1.1h0m0 .5h0m.1 1h0m0-.4h0m0-.9h0m.1.9h0m.1-.5h0m0 .2h0m.1.1h0m0-.9h0m.1.2h0m.2.1h0m.2 1.2h0m0-.5h0m.3-.1h0m.2 0h0m.1.3h0m.4.2h0m.8-.8h0" stroke="#000" stroke-width="0.7" stroke-linecap="square" stroke-opacity="0.45"/>
<path d="M192 86.9h0m1.3-.4h0m1.1-2.2h0m-2.9 4h0m.8 1.3h0m.6-.1h0m.1-1.5h0m.2-.6h0m0 2h0m0-.3h0m.1-1.8h0m.1-.3h0m.1 2.9h0m0-.9h0m.2-.1h0m0 .8h0m.1-.5h0m0 .2h0m0-.9h0m0 .5h0m.1.4h0m0-1h0m.1.5h0m.4-1h0m.1 1.6h0m.2-.5h0m.1-.1h0m.4.4h0m1.1-1.7h0m1.4.3h0m-6.3 2.8h0m.3.3h0m.4 1.6h0m.2-2h0m.1 1.3h0m0 .2h0m0 .1h0m.1-.5h0m.3.2h0m0-1.2h0m.1 1.1h0m0 1.1h0m.3-2.6h0m.2.8h0m.1.6h0m0-1.1h0m.2-.6h0m0 1.5h0m0-.8h0m.1 1.5h0m0-1.1h0m.1-.7h0m0 1.2h0m0-.7h0m0-.2h0m.1.3h0m.1 1.3h0m0 .4h0m.1-.3h0m0-.6h0m.2.9h0m.1-2.5h0m0 .1h0m.1-.3h0m0 .3h0m0 2.6h0m.6-.9h0m0 .9h0m.3-1.7h0m.2.1h0m-4.6 3.9h0m1.1-1.3h0m.7-.5h0m0 1.2h0m.1-.3h0m0 .6h0m.1-1.4h0m.1 2h0m.2.2h0m0-1.7h0m.1.7h0m.2-.5h0m0-1.1h0m.7 1.7h0m.3-1.6h0m.1 1.1h0m0-1h0m1 .4h0m-3.9 3.8h0m1.9-1.4h0" stroke="#000" stroke-width="0.8" stroke-linecap="square" stroke-opacity="0.55"/>
<path d="M197.5 97.3h0m8.2.5h0m-14.6 1.7h0m2.6.8h0m.8-.7h0m1.2.9h0m1.6-1.2h0m0 .6h0m.8 1.1h0m.9.2h0m.1.1h0m.6 0h0m.3-.6h0m.3.4h0m.6-1h0m.1 1.8h0m1.3-1.3h0m1.4-.1h0m.2.2h0m1.2.1h0m-15.6 2.2h0m3.5.2h0m.5.4h0m.2-1.1h0m.5.8h0m1.7 1.6h0m.2-2.8h0m1.1.1h0m.1 1.9h0m.2-.8h0m.8-.1h0m1.5-.2h0m.3 1.2h0m1-1.1h0m.1-.2h0m2.4-.8h0m.4.4h0m.1-.1h0m0 2.4h0m1.7-2.8h0m.5 2.6h0m2.4-2.1h0m-13.5 2.8h0m1.4 1.6h0m.5-.7h0m.2 1.7h0m1.3-2.4h0m.8 1.7h0m.1-.6h0m.2-1.1h0m.9.4h0m0 1.8h0m.9-1.9h0m.8 1.1h0m.1-.9h0m1.4-.5h0m1.2-.1h0m3.3 1.9h0m-10.6 2.9h0m2.6-1.8h0" stroke="#000" stroke-width="0.5" stroke-linecap="square" stroke-opacity="0.4"/>
<path d="M208.6 89.9h0m2.3-.2h0m.7.2h0m.4-.5h0m.7-1h0m-6.7 4.2h0m1.3-.1h0m.9-1.2h0m.1 1.3h0m0 .1h0m0-.2h0m0-.5h0m.1-.1h0m0-1.4h0m.1 2h0m0-.2h0m0 .5h0m.1-.1h0m.1-.1h0m0-.8h0m.1-.2h0m.4 1.2h0m.1-.8h0m0-1h0m.2.7h0m.2.8h0m0-1.8h0m.2 1.1h0m.1.3h0m0 .4h0m.1-.7h0m0-.5h0m0-.9h0m.1 0h0m0 1.7h0m.2-1.7h0m.1.7h0m0 1.2h0m.2-1.6h0m.1.8h0m0-1.5h0m.1 2.4h0m.1-1.8h0m.1 1h0m0 .8h0m.2-.9h0m0-.8h0m.1.9h0m.1.9h0m0-.2h0m.2.4h0m.3-.1h0m.3-2h0m.6-.6h0m.1 2.5h0m.1-1.2h0m.5.7h0m.3-1.2h0m-9.4 3.4h0m.9-.3h0m1.4-.4h0m.1.2h0m.2 2h0m.2-2.4h0m.2.1h0m.1-.2h0m0 1.5h0m.3-.6h0m0 1.2h0m.1-2.3h0m.2 1.1h0m.1-.7h0m.1.4h0m.1 1.2h0m.3-1.6h0m.2-.1h0m0-.2h0m0 2.5h0m.1-1.5h0m.2-.1h0m.3-.6h0m.1-.1h0m.1.2h0m.1-.4h0m.3.3h0m.3.9h0m.5-1.1h0m.2 0h0m.5.3h0m.1-.2h0" stroke="#000" stroke-width="0.8" stroke-linecap="square" stroke-opacity="0.5"/>
<rect x="182.3" y="110.1" width="0.9" height="3.5" fill="#000" />
<rect x="191.6" y="119.4" width="2.6" height="0.9" fill="#000" />
<rect x="202.4" y="84.4" width="16" height="16.2" fill="none" stroke="#f05a4a" stroke-width="0.7" />
<text x="210.4" y="82" font-size="6.2" fill="#f05a4a" stroke="#f05a4a" stroke-width="0.16" text-anchor="middle">7.1</text>
<line x1="181.4" y1="76.2" x2="182.6" y2="76.2" stroke="#666" stroke-width="0.4" />
<line x1="181.4" y1="86.8" x2="182.6" y2="86.8" stroke="#666" stroke-width="0.4" />
<line x1="181.4" y1="99.6" x2="182.6" y2="99.6" stroke="#666" stroke-width="0.4" />
<line x1="181.4" y1="112.8" x2="182.6" y2="112.8" stroke="#666" stroke-width="0.4" />
<line x1="187.6" y1="120" x2="187.6" y2="121.2" stroke="#666" stroke-width="0.4" />
<line x1="193.6" y1="120" x2="193.6" y2="121.2" stroke="#666" stroke-width="0.4" />
<line x1="201.6" y1="120" x2="201.6" y2="121.2" stroke="#666" stroke-width="0.4" />
<line x1="215" y1="120" x2="215" y2="121.2" stroke="#666" stroke-width="0.4" />
<line x1="226" y1="120" x2="226" y2="121.2" stroke="#666" stroke-width="0.4" />
<rect x="233.8" y="71.2" width="48" height="48.8" fill="#fff" stroke="#8a8a8a" stroke-width="0.7" />
<path d="M241.9 103.2h0m3 .1h0m.5 1.5h0m0-.1h0m0-1.1h0m.4 1.3h0m.3-.7h0m.3.3h0m1.3.4h0m.4-.8h0m.3.8h0m.9-.2h0m2.8-.4h0m-10.3 2.1h0m.4 1.4h0m.9-2h0m.1-.5h0m.1 2.1h0m.2-.8h0m.1-.4h0m0-1.2h0m.2 2.3h0m.1-1.3h0m.1.1h0m.2-.3h0m.1 1h0m0 .3h0m0-1.2h0m.1.6h0m.1 1.1h0m0 .1h0m0-.1h0m0-.3h0m0-.2h0m.1.7h0m0-.3h0m.1-.5h0m.1.3h0m0-1.2h0m.1 1.6h0m.1-.9h0m0 .6h0m0-1h0m.1 1.5h0m0-1h0m.1.6h0m0-1.6h0m0 1.7h0m.3-1.5h0m.1 1.4h0m0-2.3h0m0 1.8h0m.1-1.7h0m.1 2.3h0m0-.9h0m0 .1h0m.1-.1h0m0-.9h0m.1-.1h0m0 1.8h0m0-.7h0m.1-.7h0m0 .4h0m0-.3h0m.1-.9h0m0 .9h0m0 1h0m0-.8h0m.1 0h0m0 1.3h0m.1-.3h0m0-.7h0m.1.3h0m0 .7h0m.1-.2h0m0-2h0m.1 1.9h0m0-1h0m.1-.6h0m0-.7h0m0 2.7h0m.1-.8h0m0 .5h0m0-1.5h0m.1.3h0m.1 1.2h0m.1-1.4h0m.1 1.6h0m0-1.8h0m.1 1.5h0m0-2.2h0m.1 1.9h0m0-2h0m0 2.2h0m0 .3h0m.1-.8h0m0 .1h0m0-1.5h0m0 1.9h0m0 .1h0m0 .5h0m.1-2.2h0m0 .9h0m.1 1.2h0m0-1.2h0m0 .2h0m0 .7h0m.1-1.3h0m0 .4h0m0 .7h0m.1-.6h0m.1-1h0m0 1.4h0m0 .1h0m.1-.7h0m0-.4h0m0 .3h0m0 1.5h0m.1-2.3h0m.1.6h0m0 .4h0m0 .3h0m.1-.3h0m.1 1.2h0m.1-.6h0m.1 0h0m0-1.1h0m0 1.5h0m.1-.1h0m0-.1h0m.1.2h0m0-1.1h0m.1-1.1h0m.2.6h0m0 .5h0m0 .9h0m.2-1.8h0m0 2.1h0m0 .1h0m0-1.5h0m0 .7h0m.1-.3h0m.5 1h0m.1-.7h0m.1.4h0m.3-.4h0m2-1.3h0m-11.7 2.5h0m1.1.6h0m0-.5h0m1.3.7h0m.3.3h0m.5-.9h0m0 .2h0m.1 1.1h0m.2-1.2h0m0 .3h0m.1.7h0m.1-1.1h0m0 .7h0m.1-.1h0m.2-.2h0m0 .2h0m.1-.7h0m.2.9h0m0 .5h0m.2-.4h0m0-1h0m.3-.2h0m0 .7h0m.1.8h0m.1-1.4h0m.1.1h0m0-.1h0m0 1.1h0m.1-.8h0m.1.1h0m.1-.4h0m.1.3h0m0 .8h0m0-.7h0m.1.4h0m0-.9h0m.1.3h0m0 .3h0m.2-.6h0m0 .1h0m.1.1h0m0 1.2h0m0-1.2h0m0-.2h0m0 .6h0m.1-.7h0m0 2.1h0m.1-2.1h0m0 1h0m.2-.4h0m0-.5h0m.2.9h0m.1-.8h0m0 .7h0m0 .9h0m0-1.1h0m.1 1.8h0m0-2.4h0m.1-.1h0m.1.5h0m0 .8h0m0 .6h0m.1-1.8h0m.1 1.2h0m0-1.1h0m.1.6h0m.4-.1h0m0-.6h0m.3.2h0m.2.6h0m.1.3h0m1.3-.8h0m-5.9 2.6h0" stroke="#000" stroke-width="0.9" stroke-linecap="square" stroke-opacity="0.85"/>
<path d="M242.5 85h0m3.3 1.5h0m.1-.6h0m-.2 1.6h0m.3.8h0m.8 1.2h0m-2.9 1.2h0m1 2h0m0-.7h0m.1-.6h0m.6.6h0m-2 2.5h0m.3-.6h0m.6-.5h0m.1.1h0m1.9 1.6h0m.2.2h0m-2.7 1h0m.1 2.2h0m0-.1h0m.4-.6h0m0 .5h0m.3-.4h0m.2.3h0m.1-.4h0m0 .2h0m.1-1.8h0m.4.6h0m.1 1.5h0m.4-1.8h0m0 1.3h0m0 .9h0m.1-.1h0m.2-1h0m.5-1.5h0m-3.9 4.2h0m0 .8h0m.4-.1h0m.5.9h0m.1-1h0m.3.8h0m.1-1.8h0m.1.4h0m.4.6h0m.2-.1h0m0-1.2h0m.3 1.3h0m0-1.3h0m.2-.1h0m.1 1.8h0m0-1.3h0m.1 1.7h0m0-1.7h0m.3-1h0m0 2.7h0m0-1.9h0m.1 1.8h0m0-2.4h0m.1 1h0m0 .8h0m.3-.5h0m0-.9h0m0 1.7h0m.2-2h0m-4.3 5.4h0m.3 0h0m.7-2.5h0m0 .9h0m.2 1.2h0m.5-2.3h0m.2.7h0m.1 1.2h0m0 .9h0m.2-2.5h0m.2 1.2h0m.1-1h0m0 .9h0m.2.2h0m.1-.1h0m0-.2h0m.1.2h0m0 .5h0m.2.1h0m0-.3h0m0 .1h0m.2-1.3h0m0 .9h0m.4-.1h0m.2-.1h0m.1-.5h0m1.6-.8h0m-5 4.4h0m0-1h0m.1 2.5h0m.3-1.4h0m.1.9h0m.1 0h0m.1-1.6h0m0 1.5h0m.1-.4h0m0-1.8h0m.1.6h0m0 1.6h0m.3.4h0m.1-2.2h0m.2 1.7h0m.1-.4h0m.2.2h0m.1.5h0m.1-1.1h0m.1-.6h0m0-.5h0m.2.1h0m0-.2h0m0 1.7h0m0-1.7h0m.1.9h0m0 .3h0m.1.6h0m.1.7h0m.1-1.1h0m.1-1.2h0m.1.5h0m0-.3h0m0 1.3h0m.1.3h0m0-.8h0m.1.6h0m.1.3h0m0-1.3h0m0-.5h0m.1-.5h0m.2 2h0m0 .7h0m.1-2.5h0m-3.1 4.7h0m0-.8h0m.2.6h0m.5-.1h0m.1-.9h0m.1-.1h0m0 1.1h0m0-.5h0m.1-.3h0m.1-.3h0m0-.5h0m.1 0h0m0-.1h0m.2 1.1h0m.1-.4h0m.1.6h0m.1-1h0m0-.2h0m.3 0h0m0 .2h0m.3 1.4h0m.1-1.2h0m0 .7h0m.2-.1h0m.4-.8h0" stroke="#000" stroke-width="0.7" stroke-linecap="square" stroke-opacity="0.45"/>
<path d="M245.1 86h0m-2.3 2h0m1.2 1.5h0m.1-.1h0m.2.3h0m.2 0h0m.7-1.6h0m.1-.3h0m.7-.7h0m.1 2.1h0m0-.9h0m-3.2 3h0m.1.5h0m.1.1h0m.4.2h0m0-1.7h0m.1.4h0m.1-.7h0m0 2.1h0m.5-.7h0m.1.6h0m0-1.1h0m0 1.2h0m0-1.1h0m.1-.9h0m0 2.7h0m.1-2h0m0 .2h0m0 1.4h0m.1-2.3h0m0 0h0m.1 1.5h0m0 .6h0m.1-.8h0m0 .3h0m0-1.4h0m.2 1.2h0m0-1.3h0m0 2.3h0m.1-2.1h0m0 1.8h0m0-.3h0m0 .2h0m.1.6h0m0-1.4h0m.1.3h0m0-.7h0m0 .1h0m0 .1h0m.1.2h0m.1 1.3h0m.1-.6h0m.1-.9h0m0 .7h0m.1-.3h0m0-1.5h0m.2 2.5h0m.1-1.1h0m.1-.4h0m.1.8h0m.2-.4h0m0-.7h0m.5-.3h0m-3.7 5.2h0m.4-2.7h0m.3 0h0m.1.4h0m.4 0h0m.1 2.4h0m.1-1.8h0m.1-.2h0m0 .9h0m0-.7h0m.3-.9h0m.1 2.6h0m.2-1.8h0m.1-.6h0m0 .8h0m.2 1.4h0m.1-2.1h0m.1 2h0m0-1.5h0m.1 1.9h0m.1-1.2h0m0-.8h0m-2.1 2.2h0m.7.9h0m.7 2h0m.1-2.6h0m.8 1.9h0" stroke="#000" stroke-width="0.8" stroke-linecap="square" stroke-opacity="0.55"/>
<path d="M244.7 96.7h0m-3.8 3.8h0m2.2-.9h0m3.3 2.3h0m.4-.9h0m.5-1h0m.2.7h0m1.1-1.4h0m2.3 1.8h0m.3.3h0m0-1.7h0m.2 1h0m.6.8h0m.3.1h0m.9-.1h0m1.2.1h0m-15.2 1.4h0m7.3-.2h0m0 1.1h0m.8.7h0m.4-2.3h0m.1 0h0m1.2.1h0m1 .7h0m.1 1.8h0m2.6-1.3h0m.2-1.1h0m1 1.3h0m.4-.3h0m.7-1.4h0m.4 2.4h0m.5-.9h0m2.7 1.3h0m5.6-2.2h0m-17.3 3.2h0m1.3-.4h0m.9-.1h0m.3 1.4h0m.5 1h0m.2-.6h0m1.3-.3h0m.3.6h0m.5 0h0m1.1-1.8h0m1 2.1h0m.4-1.5h0m.1-.1h0m.2-1.1h0m.3 1.2h0m.6-1.1h0m1 1.5h0m-12.8 4h0m2.4-2.5h0m.8-.2h0m.6 1.9h0m.9-.9h0m.4-.4h0m.5.3h0m3.3.3h0m.8 2.7h0" stroke="#000" stroke-width="0.5" stroke-linecap="square" stroke-opacity="0.4"/>
<path d="M261.1 88.9h0m1.7.8h0m.2.2h0m1.3-.2h0m.1-1h0m1.8 1h0m-8.5 3h0m.7-.8h0m.1.6h0m0-.1h0m0 .1h0m.5.2h0m0-1.3h0m.1.8h0m.1-.7h0m0 1.4h0m.1-.1h0m.1-1.2h0m0 .8h0m.3-.2h0m.1.7h0m.1-.1h0m.1-.4h0m0 .2h0m.1-.9h0m.2-.7h0m0 1.8h0m.1-.7h0m.1.8h0m0-.7h0m.1 0h0m0 .1h0m.2-1.6h0m0 .2h0m.1 1.6h0m.1-1.2h0m.2 1.1h0m0-1.7h0m.1.6h0m0 .5h0m0 .2h0m0 .4h0m0-1.8h0m.1 1.9h0m0-1.6h0m.1 1.5h0m.1-.1h0m.1-.3h0m0 0h0m0-.6h0m0 1.1h0m0 .2h0m.1-.2h0m0-1.1h0m.2 1.2h0m.5.2h0m0-1.7h0m0 .5h0m.1-.2h0m0 1.2h0m.1-2.2h0m.1.3h0m0 1.6h0m.2-1.1h0m.2.2h0m.3.5h0m.4-1.2h0m.3.5h0m.3.8h0m-6.8 1.9h0m.6-.4h0m0 1h0m.6-.8h0m.3.9h0m.3-.5h0m.2-.4h0m.1-.4h0m.1.6h0m.2.6h0m.1-1h0m.1 1.9h0m.1-2.2h0m.1 1.5h0m.1-1.6h0m.1-.1h0m.1 1.6h0m.2-.6h0m.3-.5h0m.4 0h0m.6.3h0" stroke="#000" stroke-width="0.8" stroke-linecap="square" stroke-opacity="0.5"/>
<rect x="233.5" y="110.1" width="0.9" height="3.5" fill="#000" />
<rect x="242.8" y="119.4" width="2.6" height="0.9" fill="#000" />
<rect x="253.6" y="84.4" width="16" height="16.2" fill="none" stroke="#f05a4a" stroke-width="0.7" />
<text x="261.6" y="82" font-size="6.2" fill="#f05a4a" stroke="#f05a4a" stroke-width="0.16" text-anchor="middle">6.5</text>
<line x1="232.6" y1="76.2" x2="233.8" y2="76.2" stroke="#666" stroke-width="0.4" />
<line x1="232.6" y1="86.8" x2="233.8" y2="86.8" stroke="#666" stroke-width="0.4" />
<line x1="232.6" y1="99.6" x2="233.8" y2="99.6" stroke="#666" stroke-width="0.4" />
<line x1="232.6" y1="112.8" x2="233.8" y2="112.8" stroke="#666" stroke-width="0.4" />
<line x1="238.8" y1="120" x2="238.8" y2="121.2" stroke="#666" stroke-width="0.4" />
<line x1="244.8" y1="120" x2="244.8" y2="121.2" stroke="#666" stroke-width="0.4" />
<line x1="252.8" y1="120" x2="252.8" y2="121.2" stroke="#666" stroke-width="0.4" />
<line x1="266.2" y1="120" x2="266.2" y2="121.2" stroke="#666" stroke-width="0.4" />
<line x1="277.2" y1="120" x2="277.2" y2="121.2" stroke="#666" stroke-width="0.4" />
<rect x="283.4" y="71.2" width="49.6" height="48.8" fill="#fff" stroke="#8a8a8a" stroke-width="0.7" />
<path d="M290.9 104.1h0m1.9-.6h0m2.4.2h0m1.3 1h0m3-.9h0m-9.1 4h0m1-1.4h0m.8-.2h0m.1-1.1h0m0 2h0m0 .5h0m.1-1.7h0m.4 1.3h0m.1-.2h0m.1-.1h0m0 0h0m.1-.5h0m0 .1h0m.2.3h0m0 .2h0m.2-.9h0m.4.8h0m0-1.5h0m.1 2.5h0m0-1.3h0m.1 1.3h0m0-1.4h0m.1.6h0m0-1.7h0m0 0h0m.1 2.3h0m0-.6h0m0-.6h0m.1 1.1h0m0-.5h0m0 .6h0m.1-1h0m0-.7h0m0 1.8h0m0-.9h0m0-.1h0m.1-1.1h0m.1.8h0m0 .2h0m0 1.2h0m0-.3h0m0-.9h0m0-.5h0m.1.3h0m0 .7h0m0-.4h0m0 1h0m.1-2h0m.1 1.5h0m0 .5h0m0-1.2h0m0-.5h0m.1 1.1h0m0-.4h0m0-1.2h0m0 0h0m.2 2.2h0m.1 0h0m0-.9h0m0 .3h0m.1.2h0m.1-.4h0m.1-.5h0m0 .6h0m0 .6h0m.2-.9h0m0 1h0m0-2.1h0m.1 1.4h0m0 .3h0m.1.1h0m0 .1h0m0-1.1h0m.1.1h0m0-.2h0m.1.7h0m0 .3h0m0-1.1h0m0 .3h0m.1-.1h0m0 1.4h0m0-2.5h0m0 2.3h0m0-1.8h0m.2 1.1h0m0-.9h0m0-1.1h0m.1 1.9h0m0 .9h0m0-.9h0m.1-.6h0m.1.4h0m0-.4h0m0 1.3h0m0-2.6h0m.1 1.7h0m0-.7h0m0 .3h0m0 .4h0m.1 1.1h0m0 .1h0m0-1.5h0m0 .7h0m.1.1h0m.1-.5h0m.1-1.4h0m0 2.3h0m0-2.3h0m.1.4h0m0-.5h0m.1-.2h0m0 2.9h0m0-.7h0m0-.8h0m.1.1h0m0-.7h0m0-.2h0m0 1h0m0 0h0m.1 0h0m.1-.6h0m0 .3h0m0 1.2h0m.1.1h0m.1-.4h0m0 .3h0m.1 0h0m.3-.8h0m.1.7h0m.2-.2h0m0 .4h0m0-.6h0m.6-1.7h0m.3 1h0m.3 1.3h0m0-.8h0m.6.1h0m.3-1.5h0m-8.7 2.9h0m.1-.1h0m.5.5h0m0-.5h0m0 .2h0m.3.8h0m.1-1.1h0m.3 1.5h0m.2-.7h0m0 .2h0m.1.7h0m0-.2h0m.1.4h0m0-1.5h0m.1.3h0m.1 1h0m.2-.7h0m.3-.7h0m.1.4h0m.1-.1h0m0-.7h0m.1 1.9h0m0-1.4h0m0 .9h0m.3-.3h0m0-.4h0m0 .3h0m.1-.3h0m0 .5h0m0-.3h0m0 .2h0m0 .6h0m.1-1.2h0m0 .9h0m.1-.6h0m.2-.6h0m.1-.1h0m0 .4h0m0-.3h0m0 .3h0m0-.3h0m.1.5h0m.1 1.7h0m0-2.4h0m.2 1.5h0m0 .4h0m.1-1.5h0m.1.7h0m0-.9h0m.1-.2h0m0 2.1h0m0-2.1h0m.3.9h0m.2 1.3h0m.1-1.4h0m0-.2h0m.1-.1h0m0 .5h0m.1-.9h0m.1 1.1h0m0-1h0m.2.7h0m0-.7h0m0-.2h0m.1.3h0m.2-.3h0m.2.3h0m0 0h0m.1.2h0m.6-.2h0m0 1.4h0m.3-1.2h0m0 0h0m.1 2h0m0-1.9h0m.3-.2h0m.2.7h0" stroke="#000" stroke-width="0.9" stroke-linecap="square" stroke-opacity="0.85"/>
<path d="M294.2 75.9h0m-.9 6.9h0m.6.6h0m.3 3.1h0m.8-.7h0m.8-.2h0m.6-.2h0m-2.5 3h0m.8.8h0m1.3-.2h0m-4.8 2.4h0m1.3-1.1h0m1 1.3h0m.8-1.6h0m.2.1h0m.2 2.8h0m.3-1.3h0m.1.1h0m1.8-.7h0m-4.1 3h0m.2-.1h0m.6-.2h0m.6.9h0m.2.3h0m.4-.1h0m.1-1.1h0m.1 1.3h0m.2-.3h0m.1-.9h0m.7 1.1h0m-2.5 2.1h0m.5-.8h0m0 .8h0m0-.2h0m.1 1.9h0m.1-.2h0m0-.9h0m0 .4h0m.1-.5h0m.6-1.2h0m0-.3h0m.1.7h0m.2 1.6h0m0-1.8h0m0 2.4h0m0-.5h0m.2-2.1h0m.3 2.3h0m0-.5h0m-3.2 2.3h0m.2.6h0m1-.2h0m0 .1h0m.4.6h0m.1-1.2h0m.1.8h0m0-.4h0m.1.4h0m0-.3h0m.1-1.1h0m.1.2h0m.1.1h0m0-.2h0m0 1.8h0m0-.1h0m0-1.4h0m.2.5h0m.3.5h0m.1-.5h0m0 .5h0m.1-.9h0m0 .8h0m.3.9h0m1.3-.4h0m-3.9 1.8h0m0-.3h0m.1 1.4h0m.5-.7h0m0-1.1h0m.2.2h0m0 0h0m.2 1.8h0m0-.9h0m0-1.5h0m0 .7h0m.1.8h0m0-.2h0m.1-1.5h0m0 2.5h0m.1-2.4h0m0 2h0m.1-1.5h0m0 .9h0m.1 1.3h0m.1-2.8h0m0 1.1h0m.1-.7h0m.1 1.3h0m.1-1.1h0m.1.7h0m.1-.2h0m.4.4h0m.2-1.2h0m0 2.2h0m.1-1h0m0-.6h0m.1-.8h0m1.5.6h0m-4.4 3h0m0 1.7h0m.1-1.9h0m0 0h0m.4-.4h0m.2.6h0m.3.5h0m.2 1.5h0m.1-1.2h0m0 1.2h0m.1-.3h0m.1-2.3h0m0 .4h0m0 1.7h0m.1-.4h0m.1-.2h0m.1.5h0m.1-.1h0m.1-.6h0m0-.8h0m.1-.2h0m0 2.5h0m0-.3h0m.1-1.3h0m0-.8h0m.2.4h0m0 .9h0m.5-.8h0m.3-.3h0m.3.2h0m0 1.3h0m.1-.5h0m-3.4 1.4h0m.4.1h0m.1 1.4h0m.1-1.6h0m.1 1.2h0m0 .5h0m0-.5h0m.2-.8h0m0 .1h0m.1.7h0m.1.6h0m0 .1h0m.2-1.6h0m.1.4h0m.2-.7h0m.3 1.1h0m0 .2h0m0-.4h0m.2.3h0m.9-.8h0" stroke="#000" stroke-width="0.7" stroke-linecap="square" stroke-opacity="0.45"/>
<path d="M293.4 86.2h0m.8.5h0m.5-1.6h0m-1.5 2.4h0m.4 2.2h0m.1-.9h0m0 .9h0m0 .1h0m.1-2.3h0m0 1.9h0m.2.5h0m.2-.9h0m0 .6h0m0-.5h0m.2.1h0m.1.6h0m.2-2.8h0m.1.6h0m0 2h0m.1-1.8h0m.2.4h0m.2.2h0m.5-1h0m.4.8h0m.4-.3h0m.1 1.8h0m-5.2 1.9h0m1.8-1.5h0m.1 2.5h0m.1.1h0m.1-1h0m0-1.2h0m0 2h0m.2-1.2h0m0 .5h0m.1-1.5h0m.1 2.5h0m.2-2h0m0 .6h0m.2-.5h0m.1 2h0m0-1.6h0m0-.9h0m.1.5h0m0 1.8h0m.2-2.5h0m.1 1.6h0m0 .8h0m0-.4h0m.1-1.5h0m.2 1.1h0m0 1h0m.1-2.1h0m0 2.2h0m.2-1.5h0m0-.6h0m.1-.8h0m0 1.7h0m.1 0h0m.1-.5h0m.4 1h0m.1-.4h0m.1.4h0m-3.8.9h0m.2-.1h0m.4.4h0m.1 1.4h0m.2-.7h0m.1.3h0m0-1.1h0m0 .2h0m.2.3h0m.1-.2h0m.1 1.2h0m.1-.3h0m0 .2h0m.3.4h0m.1-.6h0m0-1.1h0m.1 1.9h0m0-1.6h0m.4.1h0m.2-.8h0m.1.4h0m0 2.1h0m0-.2h0m1.2-2h0m-4.1 3h0m2.5.7h0m1.2 1.2h0" stroke="#000" stroke-width="0.8" stroke-linecap="square" stroke-opacity="0.55"/>
<path d="M298.3 97.3h0m6.7-.2h0m-11.6 1.9h0m.1 1.9h0m2.3-1.3h0m.3 1.5h0m.2-.6h0m.5-.3h0m.2 0h0m.2-.5h0m.9 1.8h0m1-.4h0m.2.4h0m.1-.9h0m1 .6h0m.5 0h0m.6 0h0m1-.9h0m.5.4h0m.9.5h0m-13.5 2.7h0m2.1.9h0m1.2-1.1h0m2-.2h0m1.3 1.3h0m.1-1.3h0m.1.9h0m2.5-.2h0m2.5.4h0m.4.1h0m.7-2.1h0m.1.4h0m.2.1h0m.4 0h0m.1.9h0m.2.3h0m.3.6h0m.9-1.9h0m3.6 1.6h0m-15.6 2.4h0m2.6-.1h0m.5-1.5h0m.8.2h0m.8-.2h0m.2.1h0m1 1.7h0m.7-.4h0m.5-1.7h0m.2.6h0m.2-.3h0m.3 1.2h0m0 .7h0m.8.2h0m1.5-1.6h0m0 .2h0m4.9-1.1h0m-14.4 3.8h0m5.4 2h0m5.6-2.5h0m.1.2h0" stroke="#000" stroke-width="0.5" stroke-linecap="square" stroke-opacity="0.4"/>
<path d="M309.1 89.8h0m1.8 0h0m.1-.6h0m.3.2h0m.5.3h0m1.5-1.5h0m-5.7 3.7h0m.1 0h0m0 .9h0m0-.3h0m.1-.5h0m.2 0h0m0 0h0m.2.5h0m.3-.7h0m.1.4h0m.5-1.7h0m.3 2.4h0m.4-.9h0m0-1.5h0m0 1.7h0m.2.6h0m0-1.7h0m0 1.6h0m.1-1.5h0m0-.9h0m.1-.1h0m0 2h0m.2-1.4h0m0 1.4h0m.1-1.8h0m.2.7h0m0 .6h0m0 .1h0m0 .5h0m0-.9h0m.1-.2h0m.1-.7h0m.1 2.4h0m.1-2.1h0m.1.7h0m.1-1.3h0m0 1h0m0 1h0m.1.6h0m0-1.3h0m.1.7h0m0 .6h0m0-.1h0m0-1h0m.1.5h0m0-.2h0m.4.7h0m.1-1.6h0m.3 1.7h0m.3-2.2h0m.1 1.4h0m0 .2h0m0-1h0m0 .4h0m.2.2h0m.1-1.3h0m.2 1.1h0m0-1h0m.1-.1h0m0 .3h0m1 .5h0m-8.5 2.8h0m1.3.7h0m.6.2h0m0 .1h0m.1 0h0m.1-.8h0m.6.8h0m.3.1h0m.2-1.7h0m.1.9h0m.1 0h0m.1-.4h0m.1-.6h0m0 .2h0m.1-.6h0m.1.6h0m.4-.2h0m.1-.4h0m.6.2h0m.7.8h0m.1-1h0m.4.2h0m.1.4h0" stroke="#000" stroke-width="0.8" stroke-linecap="square" stroke-opacity="0.5"/>
<rect x="283.1" y="110.1" width="0.9" height="3.5" fill="#000" />
<rect x="292.4" y="119.4" width="2.6" height="0.9" fill="#000" />
<rect x="303.2" y="84.4" width="16" height="16.2" fill="none" stroke="#f05a4a" stroke-width="0.7" />
<text x="311.2" y="82" font-size="6.2" fill="#f05a4a" stroke="#f05a4a" stroke-width="0.16" text-anchor="middle">5.8</text>
<line x1="282.2" y1="76.2" x2="283.4" y2="76.2" stroke="#666" stroke-width="0.4" />
<line x1="282.2" y1="86.8" x2="283.4" y2="86.8" stroke="#666" stroke-width="0.4" />
<line x1="282.2" y1="99.6" x2="283.4" y2="99.6" stroke="#666" stroke-width="0.4" />
<line x1="282.2" y1="112.8" x2="283.4" y2="112.8" stroke="#666" stroke-width="0.4" />
<line x1="288.4" y1="120" x2="288.4" y2="121.2" stroke="#666" stroke-width="0.4" />
<line x1="294.4" y1="120" x2="294.4" y2="121.2" stroke="#666" stroke-width="0.4" />
<line x1="302.4" y1="120" x2="302.4" y2="121.2" stroke="#666" stroke-width="0.4" />
<line x1="315.8" y1="120" x2="315.8" y2="121.2" stroke="#666" stroke-width="0.4" />
<line x1="326.8" y1="120" x2="326.8" y2="121.2" stroke="#666" stroke-width="0.4" />
<text x="174" y="17.2" font-size="4.6" fill="#333" stroke="#333" stroke-width="0.16"><tspan>10</tspan><tspan dy="-1.75" font-size="2.85">5</tspan></text>
<text x="174" y="27.8" font-size="4.6" fill="#333" stroke="#333" stroke-width="0.16"><tspan>10</tspan><tspan dy="-1.75" font-size="2.85">4</tspan></text>
<text x="174" y="40.6" font-size="4.6" fill="#333" stroke="#333" stroke-width="0.16"><tspan>10</tspan><tspan dy="-1.75" font-size="2.85">3</tspan></text>
<text x="178.2" y="53.8" font-size="4.6" fill="#333" stroke="#333" stroke-width="0.16">0</text>
<text x="184.4" y="66.6" font-size="4.2" fill="#333" stroke="#333" stroke-width="0.16"><tspan>–10</tspan><tspan dy="-1.6" font-size="2.6">3</tspan></text>
<text x="194" y="66.6" font-size="4.2" fill="#333" stroke="#333" stroke-width="0.16" text-anchor="middle">0</text>
<text x="199.8" y="66.6" font-size="4.2" fill="#333" stroke="#333" stroke-width="0.16"><tspan>10</tspan><tspan dy="-1.6" font-size="2.6">3</tspan></text>
<text x="213" y="66.6" font-size="4.2" fill="#333" stroke="#333" stroke-width="0.16"><tspan>10</tspan><tspan dy="-1.6" font-size="2.6">4</tspan></text>
<text x="224.4" y="66.6" font-size="4.2" fill="#333" stroke="#333" stroke-width="0.16"><tspan>10</tspan><tspan dy="-1.6" font-size="2.6">5</tspan></text>
<text x="174" y="77.8" font-size="4.6" fill="#333" stroke="#333" stroke-width="0.16"><tspan>10</tspan><tspan dy="-1.75" font-size="2.85">5</tspan></text>
<text x="174" y="88.4" font-size="4.6" fill="#333" stroke="#333" stroke-width="0.16"><tspan>10</tspan><tspan dy="-1.75" font-size="2.85">4</tspan></text>
<text x="174" y="101.2" font-size="4.6" fill="#333" stroke="#333" stroke-width="0.16"><tspan>10</tspan><tspan dy="-1.75" font-size="2.85">3</tspan></text>
<text x="178.2" y="114.4" font-size="4.6" fill="#333" stroke="#333" stroke-width="0.16">0</text>
<text x="184.4" y="127.2" font-size="4.2" fill="#333" stroke="#333" stroke-width="0.16"><tspan>–10</tspan><tspan dy="-1.6" font-size="2.6">3</tspan></text>
<text x="194" y="127.2" font-size="4.2" fill="#333" stroke="#333" stroke-width="0.16" text-anchor="middle">0</text>
<text x="199.8" y="127.2" font-size="4.2" fill="#333" stroke="#333" stroke-width="0.16"><tspan>10</tspan><tspan dy="-1.6" font-size="2.6">3</tspan></text>
<text x="213" y="127.2" font-size="4.2" fill="#333" stroke="#333" stroke-width="0.16"><tspan>10</tspan><tspan dy="-1.6" font-size="2.6">4</tspan></text>
<text x="224.4" y="127.2" font-size="4.2" fill="#333" stroke="#333" stroke-width="0.16"><tspan>10</tspan><tspan dy="-1.6" font-size="2.6">5</tspan></text>
<line x1="166.2" y1="70.6" x2="166.2" y2="13" stroke="#5a6a8c" stroke-width="1" />
<path d="M164.3 14.2 L166.2 10.2 L168.1 14.2 Z" fill="#5a6a8c" />
<text x="168.8" y="120" font-size="6.8" fill="#333" stroke="#333" stroke-width="0.16" transform="rotate(-90 168.8 120)"><tspan>TCR Vα2–APC</tspan></text>
<text x="183" y="137.2" font-size="6.8" fill="#333" stroke="#333" stroke-width="0.16">CD45.1–FITC</text>
<line x1="226.4" y1="134.4" x2="329" y2="134.4" stroke="#5a6a8c" stroke-width="1" />
<path d="M328.0 132.5 L332.0 134.4 L328.0 136.3 Z" fill="#5a6a8c" />
<text x="335.9" y="15.4" font-size="7.4" fill="#333" stroke="#333" stroke-width="0.16" transform="rotate(90 335.9 15.4)"><tspan>CD8</tspan><tspan dy="-2.81" font-size="4.59">+</tspan><tspan dy="2.81"> T cells</tspan></text>
<text x="335.9" y="76" font-size="7.4" fill="#333" stroke="#333" stroke-width="0.16" transform="rotate(90 335.9 76)"><tspan>CD4</tspan><tspan dy="-2.81" font-size="4.59">+</tspan><tspan dy="2.81"> T cells</tspan></text>
<text x="360.6" y="8" font-size="10.5" fill="#000" font-weight="bold">c</text>
<circle cx="396.8" cy="11.4" r="2.9" fill="#1a3de8" stroke="#0a1a60" stroke-width="0.5" />
<text x="404.4" y="14" font-size="6.8" stroke="#222" stroke-width="0.16"><tspan>P14 T</tspan><tspan dy="1.7" font-size="4.22">BYS</tspan></text>
<rect x="394" y="19.9" width="5.6" height="5.6" fill="#f03a1a" stroke="#501000" stroke-width="0.5" />
<text x="404.4" y="25.4" font-size="6.8" stroke="#222" stroke-width="0.16"><tspan>SM T</tspan><tspan dy="1.7" font-size="4.22">BYS</tspan></text>
<rect x="392.6" y="34.8" width="75" height="69" fill="none" stroke="#bbb" stroke-width="0.5" />
<line x1="392.6" y1="34.8" x2="392.6" y2="103.8" stroke="#555" stroke-width="0.6" />
<line x1="467.6" y1="34.8" x2="467.6" y2="103.8" stroke="#555" stroke-width="0.6" />
<line x1="392.6" y1="103.8" x2="467.6" y2="103.8" stroke="#555" stroke-width="0.6" />
<line x1="391.1" y1="103.8" x2="392.6" y2="103.8" stroke="#555" stroke-width="0.5" />
<text x="389.8" y="106" font-size="6.2" fill="#333" stroke="#333" stroke-width="0.16" text-anchor="end">0</text>
<line x1="391.1" y1="80.8" x2="392.6" y2="80.8" stroke="#555" stroke-width="0.5" />
<text x="389.8" y="83" font-size="6.2" fill="#333" stroke="#333" stroke-width="0.16" text-anchor="end">20</text>
<line x1="391.1" y1="57.8" x2="392.6" y2="57.8" stroke="#555" stroke-width="0.5" />
<text x="389.8" y="60" font-size="6.2" fill="#333" stroke="#333" stroke-width="0.16" text-anchor="end">40</text>
<line x1="391.1" y1="34.8" x2="392.6" y2="34.8" stroke="#555" stroke-width="0.5" />
<text x="389.8" y="37" font-size="6.2" fill="#333" stroke="#333" stroke-width="0.16" text-anchor="end">60</text>
<line x1="467.6" y1="103.8" x2="469.1" y2="103.8" stroke="#555" stroke-width="0.5" />
<text x="471" y="106" font-size="6.2" fill="#333" stroke="#333" stroke-width="0.16">0</text>
<line x1="467.6" y1="90" x2="469.1" y2="90" stroke="#555" stroke-width="0.5" />
<text x="471" y="92.2" font-size="6.2" fill="#333" stroke="#333" stroke-width="0.16">2</text>
<line x1="467.6" y1="76.2" x2="469.1" y2="76.2" stroke="#555" stroke-width="0.5" />
<text x="471" y="78.4" font-size="6.2" fill="#333" stroke="#333" stroke-width="0.16">4</text>
<line x1="467.6" y1="62.4" x2="469.1" y2="62.4" stroke="#555" stroke-width="0.5" />
<text x="471" y="64.6" font-size="6.2" fill="#333" stroke="#333" stroke-width="0.16">6</text>
<line x1="467.6" y1="48.6" x2="469.1" y2="48.6" stroke="#555" stroke-width="0.5" />
<text x="471" y="50.8" font-size="6.2" fill="#333" stroke="#333" stroke-width="0.16">8</text>
<line x1="467.6" y1="34.8" x2="469.1" y2="34.8" stroke="#555" stroke-width="0.5" />
<text x="471" y="37" font-size="6.2" fill="#333" stroke="#333" stroke-width="0.16">10</text>
<line x1="405" y1="103.8" x2="405" y2="105.3" stroke="#555" stroke-width="0.5" />
<text x="405" y="112.8" font-size="6.2" fill="#333" stroke="#333" stroke-width="0.16" text-anchor="middle">10</text>
<line x1="430.2" y1="103.8" x2="430.2" y2="105.3" stroke="#555" stroke-width="0.5" />
<text x="430.2" y="112.8" font-size="6.2" fill="#333" stroke="#333" stroke-width="0.16" text-anchor="middle">15</text>
<line x1="454.9" y1="103.8" x2="454.9" y2="105.3" stroke="#555" stroke-width="0.5" />
<text x="454.9" y="112.8" font-size="6.2" fill="#333" stroke="#333" stroke-width="0.16" text-anchor="middle">20</text>
<text x="430.6" y="123" font-size="7" fill="#333" stroke="#333" stroke-width="0.16" text-anchor="middle">Time (d)</text>
<text x="368.2" y="70.4" font-size="7.2" fill="#333" stroke="#333" stroke-width="0.16" text-anchor="middle" transform="rotate(-90 368.2 70.4)"><tspan>P14 T</tspan><tspan dy="1.8" font-size="4.46">BYS</tspan><tspan dy="-1.8"> cells</tspan></text>
<text x="375.4" y="69.8" font-size="7.2" fill="#333" stroke="#333" stroke-width="0.16" text-anchor="middle" transform="rotate(-90 375.4 69.8)"><tspan>(percent of total CD8</tspan><tspan dy="-2.74" font-size="4.46">+</tspan><tspan dy="2.74"> T cells, %)</tspan></text>
<text x="492.6" y="70.4" font-size="7.2" fill="#333" stroke="#333" stroke-width="0.16" text-anchor="middle" transform="rotate(90 492.6 70.4)"><tspan>SM T</tspan><tspan dy="1.8" font-size="4.46">BYS</tspan><tspan dy="-1.8"> cells</tspan></text>
<text x="484.2" y="69.8" font-size="7.2" fill="#333" stroke="#333" stroke-width="0.16" text-anchor="middle" transform="rotate(90 484.2 69.8)"><tspan>(percent of total CD4</tspan><tspan dy="-2.74" font-size="4.46">+</tspan><tspan dy="2.74"> T cells, %)</tspan></text>
<path d="M405 64.2 L430.2 66.1 L454.9 64.6" fill="none" stroke="#111" stroke-width="0.6" />
<path d="M405 67.4 L430.2 69.4 L454.9 72.9" fill="none" stroke="#111" stroke-width="0.6" />
<line x1="405" y1="64.2" x2="405" y2="59.6" stroke="#222" stroke-width="0.5" />
<line x1="403.2" y1="59.6" x2="406.8" y2="59.6" stroke="#222" stroke-width="0.5" />
<line x1="430.2" y1="66.1" x2="430.2" y2="60.8" stroke="#222" stroke-width="0.5" />
<line x1="428.4" y1="60.8" x2="432" y2="60.8" stroke="#222" stroke-width="0.5" />
<line x1="454.9" y1="64.6" x2="454.9" y2="59.6" stroke="#222" stroke-width="0.5" />
<line x1="453.1" y1="59.6" x2="456.7" y2="59.6" stroke="#222" stroke-width="0.5" />
<rect x="402.2" y="64.6" width="5.6" height="5.6" fill="#f03a1a" stroke="#501000" stroke-width="0.5" />
<rect x="427.4" y="66.6" width="5.6" height="5.6" fill="#f03a1a" stroke="#501000" stroke-width="0.5" />
<rect x="452.1" y="70.1" width="5.6" height="5.6" fill="#f03a1a" stroke="#501000" stroke-width="0.5" />
<circle cx="405" cy="64.2" r="3" fill="#1a3de8" stroke="#0a1a60" stroke-width="0.5" />
<circle cx="430.2" cy="66.1" r="3" fill="#1a3de8" stroke="#0a1a60" stroke-width="0.5" />
<circle cx="454.9" cy="64.6" r="3" fill="#1a3de8" stroke="#0a1a60" stroke-width="0.5" />
<text x="-0.4" y="154.2" font-size="10.5" fill="#000" font-weight="bold">d</text>
<text x="40.4" y="156.2" font-size="6.6" fill="#333" stroke="#333" stroke-width="0.16">KLRG1 + CD127</text>
<rect x="40.6" y="162.2" width="3.46" height="8" fill="#8e2a9a" />
<rect x="44.06" y="162.2" width="4.79" height="8" fill="#f26a30" />
<rect x="48.85" y="162.2" width="3.99" height="8" fill="#1240f0" />
<rect x="52.84" y="162.2" width="40.96" height="8" fill="#1b9a50" />
<rect x="40.6" y="162.2" width="53.2" height="8" fill="none" stroke="#222" stroke-width="0.5" />
<text x="38.4" y="168.6" font-size="7.2" fill="#333" stroke="#333" stroke-width="0.16" text-anchor="end"><tspan>P14 T</tspan><tspan dy="1.8" font-size="4.75">MEM</tspan></text>
<rect x="40.6" y="174.4" width="36.97" height="8" fill="#8e2a9a" />
<rect x="77.57" y="174.4" width="5.85" height="8" fill="#f26a30" />
<rect x="83.43" y="174.4" width="10.37" height="8" fill="#1b9a50" />
<rect x="40.6" y="174.4" width="53.2" height="8" fill="none" stroke="#222" stroke-width="0.5" />
<text x="38.4" y="180.8" font-size="7.2" fill="#333" stroke="#333" stroke-width="0.16" text-anchor="end"><tspan>P14 T</tspan><tspan dy="1.8" font-size="4.75">EX</tspan></text>
<rect x="40.6" y="186.6" width="8.25" height="8" fill="#8e2a9a" />
<rect x="48.85" y="186.6" width="1.33" height="8" fill="#8a1a10" />
<rect x="50.18" y="186.6" width="2.13" height="8" fill="#1240f0" />
<rect x="52.3" y="186.6" width="41.5" height="8" fill="#1b9a50" />
<rect x="40.6" y="186.6" width="53.2" height="8" fill="none" stroke="#222" stroke-width="0.5" />
<text x="38.4" y="193" font-size="7.2" fill="#333" stroke="#333" stroke-width="0.16" text-anchor="end"><tspan>P14 T</tspan><tspan dy="1.8" font-size="4.75">BYS</tspan></text>
<line x1="40.6" y1="160.8" x2="40.6" y2="196.2" stroke="#444" stroke-width="0.5" />
<line x1="40.6" y1="196.2" x2="93.8" y2="196.2" stroke="#444" stroke-width="0.5" />
<line x1="40.6" y1="196.2" x2="40.6" y2="197.5" stroke="#444" stroke-width="0.5" />
<text x="40.6" y="204.2" font-size="6.2" fill="#333" stroke="#333" stroke-width="0.16" text-anchor="middle">0</text>
<line x1="53.9" y1="196.2" x2="53.9" y2="197.5" stroke="#444" stroke-width="0.5" />
<text x="53.9" y="204.2" font-size="6.2" fill="#333" stroke="#333" stroke-width="0.16" text-anchor="middle">25</text>
<line x1="67.2" y1="196.2" x2="67.2" y2="197.5" stroke="#444" stroke-width="0.5" />
<text x="67.2" y="204.2" font-size="6.2" fill="#333" stroke="#333" stroke-width="0.16" text-anchor="middle">50</text>
<line x1="80.5" y1="196.2" x2="80.5" y2="197.5" stroke="#444" stroke-width="0.5" />
<text x="80.5" y="204.2" font-size="6.2" fill="#333" stroke="#333" stroke-width="0.16" text-anchor="middle">75</text>
<line x1="93.8" y1="196.2" x2="93.8" y2="197.5" stroke="#444" stroke-width="0.5" />
<text x="93.8" y="204.2" font-size="6.2" fill="#333" stroke="#333" stroke-width="0.16" text-anchor="middle">100</text>
<text x="68.5" y="213.4" font-size="7.2" fill="#333" stroke="#333" stroke-width="0.16" text-anchor="middle">Frequency (%)</text>
<text x="104.8" y="167.4" font-size="6.45" fill="#1b9a50" stroke="#1b9a50" stroke-width="0.16"><tspan>KLRG1</tspan><tspan dy="-2.45" font-size="3.55">−</tspan><tspan dy="2.45">CD127</tspan><tspan dy="-2.45" font-size="3.55">+</tspan></text>
<text x="104.8" y="176.3" font-size="6.45" fill="#1240f0" stroke="#1240f0" stroke-width="0.16"><tspan>KLRG1</tspan><tspan dy="-2.45" font-size="3.55">+</tspan><tspan dy="2.45">CD127</tspan><tspan dy="-2.45" font-size="3.55">+</tspan></text>
<text x="104.8" y="185.2" font-size="6.45" fill="#f26a30" stroke="#f26a30" stroke-width="0.16"><tspan>KLRG1</tspan><tspan dy="-2.45" font-size="3.55">+</tspan><tspan dy="2.45">CD127</tspan><tspan dy="-2.45" font-size="3.55">−</tspan></text>
<text x="104.8" y="194" font-size="6.45" fill="#8e2a9a" stroke="#8e2a9a" stroke-width="0.16"><tspan>KLRG1</tspan><tspan dy="-2.45" font-size="3.55">−</tspan><tspan dy="2.45">CD127</tspan><tspan dy="-2.45" font-size="3.55">−</tspan></text>
<text x="40.4" y="226.4" font-size="7.6" fill="#333" stroke="#333" stroke-width="0.16">Inhibitory receptors</text>
<rect x="40.6" y="231.2" width="5.32" height="7.8" fill="#1240f0" />
<rect x="45.92" y="231.2" width="47.88" height="7.8" fill="#1b9a50" />
<rect x="40.6" y="231.2" width="53.2" height="7.8" fill="none" stroke="#222" stroke-width="0.5" />
<text x="38.4" y="237.6" font-size="7.2" fill="#333" stroke="#333" stroke-width="0.16" text-anchor="end"><tspan>P14 T</tspan><tspan dy="1.8" font-size="4.75">MEM</tspan></text>
<rect x="40.6" y="243.8" width="4.52" height="7.8" fill="#8c8c8c" />
<rect x="45.12" y="243.8" width="15.43" height="7.8" fill="#8e2a9a" />
<rect x="60.55" y="243.8" width="21.01" height="7.8" fill="#f08a20" />
<rect x="81.56" y="243.8" width="7.45" height="7.8" fill="#1240f0" />
<rect x="89.01" y="243.8" width="4.79" height="7.8" fill="#1b9a50" />
<rect x="40.6" y="243.8" width="53.2" height="7.8" fill="none" stroke="#222" stroke-width="0.5" />
<text x="38.4" y="250.2" font-size="7.2" fill="#333" stroke="#333" stroke-width="0.16" text-anchor="end"><tspan>P14 T</tspan><tspan dy="1.8" font-size="4.75">EX</tspan></text>
<rect x="40.6" y="256.4" width="0.53" height="7.8" fill="#333" />
<rect x="41.13" y="256.4" width="10.11" height="7.8" fill="#1240f0" />
<rect x="51.24" y="256.4" width="42.56" height="7.8" fill="#1b9a50" />
<rect x="40.6" y="256.4" width="53.2" height="7.8" fill="none" stroke="#222" stroke-width="0.5" />
<text x="38.4" y="262.8" font-size="7.2" fill="#333" stroke="#333" stroke-width="0.16" text-anchor="end"><tspan>P14 T</tspan><tspan dy="1.8" font-size="4.75">BYS</tspan></text>
<line x1="40.6" y1="229.8" x2="40.6" y2="266" stroke="#444" stroke-width="0.5" />
<line x1="40.6" y1="266" x2="93.8" y2="266" stroke="#444" stroke-width="0.5" />
<line x1="40.6" y1="266" x2="40.6" y2="267.3" stroke="#444" stroke-width="0.5" />
<text x="40.6" y="274.4" font-size="6.2" fill="#333" stroke="#333" stroke-width="0.16" text-anchor="middle">0</text>
<line x1="53.9" y1="266" x2="53.9" y2="267.3" stroke="#444" stroke-width="0.5" />
<text x="53.9" y="274.4" font-size="6.2" fill="#333" stroke="#333" stroke-width="0.16" text-anchor="middle">25</text>
<line x1="67.2" y1="266" x2="67.2" y2="267.3" stroke="#444" stroke-width="0.5" />
<text x="67.2" y="274.4" font-size="6.2" fill="#333" stroke="#333" stroke-width="0.16" text-anchor="middle">50</text>
<line x1="80.5" y1="266" x2="80.5" y2="267.3" stroke="#444" stroke-width="0.5" />
<text x="80.5" y="274.4" font-size="6.2" fill="#333" stroke="#333" stroke-width="0.16" text-anchor="middle">75</text>
<line x1="93.8" y1="266" x2="93.8" y2="267.3" stroke="#444" stroke-width="0.5" />
<text x="93.8" y="274.4" font-size="6.2" fill="#333" stroke="#333" stroke-width="0.16" text-anchor="middle">100</text>
<text x="68.5" y="283.6" font-size="7.2" fill="#333" stroke="#333" stroke-width="0.16" text-anchor="middle">Frequency (%)</text>
<text x="105" y="237.6" font-size="6.9" fill="#333" stroke="#333" stroke-width="0.16">PD-1, TIM-3</text>
<text x="105" y="245.2" font-size="6.9" fill="#333" stroke="#333" stroke-width="0.16">LAG-3, 2B4</text>
<rect x="106" y="249.8" width="5" height="5" fill="#149a14" stroke="#333" stroke-width="0.4" />
<text x="114.6" y="254.4" font-size="6" fill="#333" stroke="#333" stroke-width="0.16">0</text>
<rect x="128.8" y="249.8" width="5" height="5" fill="#1240f0" stroke="#333" stroke-width="0.4" />
<text x="137.4" y="254.4" font-size="6" fill="#333" stroke="#333" stroke-width="0.16">1</text>
<rect x="106" y="257.2" width="5" height="5" fill="#f08a20" stroke="#333" stroke-width="0.4" />
<text x="114.6" y="261.8" font-size="6" fill="#333" stroke="#333" stroke-width="0.16">2</text>
<rect x="128.8" y="257.2" width="5" height="5" fill="#8e2a9a" stroke="#333" stroke-width="0.4" />
<text x="137.4" y="261.8" font-size="6" fill="#333" stroke="#333" stroke-width="0.16">3</text>
<rect x="106" y="264.6" width="5" height="5" fill="#8c8c8c" stroke="#333" stroke-width="0.4" />
<text x="114.6" y="269.2" font-size="6" fill="#333" stroke="#333" stroke-width="0.16">4</text>
<text x="40.4" y="295.8" font-size="7.4" fill="#333" stroke="#333" stroke-width="0.16">Cytokines and degranulation</text>
<rect x="40.6" y="300.8" width="35.11" height="7.8" fill="#f26a30" />
<rect x="75.71" y="300.8" width="10.91" height="7.8" fill="#8e2a9a" />
<rect x="86.62" y="300.8" width="3.99" height="7.8" fill="#1240f0" />
<rect x="90.61" y="300.8" width="2.39" height="7.8" fill="#1b9a50" />
<rect x="40.6" y="300.8" width="52.4" height="7.8" fill="none" stroke="#222" stroke-width="0.5" />
<text x="38.4" y="307.2" font-size="7.2" fill="#333" stroke="#333" stroke-width="0.16" text-anchor="end"><tspan>P14 T</tspan><tspan dy="1.8" font-size="4.75">MEM</tspan></text>
<rect x="40.6" y="313.4" width="3.72" height="7.8" fill="#f26a30" />
<rect x="44.32" y="313.4" width="7.98" height="7.8" fill="#8e2a9a" />
<rect x="52.3" y="313.4" width="12.77" height="7.8" fill="#1240f0" />
<rect x="65.07" y="313.4" width="26.6" height="7.8" fill="#1b9a50" />
<rect x="40.6" y="313.4" width="51.07" height="7.8" fill="none" stroke="#222" stroke-width="0.5" />
<text x="38.4" y="319.8" font-size="7.2" fill="#333" stroke="#333" stroke-width="0.16" text-anchor="end"><tspan>P14 T</tspan><tspan dy="1.8" font-size="4.75">EX</tspan></text>
<rect x="40.6" y="326" width="35.91" height="7.8" fill="#f26a30" />
<rect x="76.51" y="326" width="9.04" height="7.8" fill="#8e2a9a" />
<rect x="85.55" y="326" width="5.05" height="7.8" fill="#1240f0" />
<rect x="90.61" y="326" width="2.66" height="7.8" fill="#1b9a50" />
<rect x="40.6" y="326" width="52.67" height="7.8" fill="none" stroke="#222" stroke-width="0.5" />
<text x="38.4" y="332.4" font-size="7.2" fill="#333" stroke="#333" stroke-width="0.16" text-anchor="end"><tspan>P14 T</tspan><tspan dy="1.8" font-size="4.75">BYS</tspan></text>
<line x1="40.6" y1="299.4" x2="40.6" y2="335.6" stroke="#444" stroke-width="0.5" />
<line x1="40.6" y1="335.6" x2="93.8" y2="335.6" stroke="#444" stroke-width="0.5" />
<line x1="40.6" y1="335.6" x2="40.6" y2="336.9" stroke="#444" stroke-width="0.5" />
<text x="40.6" y="344" font-size="6.2" fill="#333" stroke="#333" stroke-width="0.16" text-anchor="middle">0</text>
<line x1="53.9" y1="335.6" x2="53.9" y2="336.9" stroke="#444" stroke-width="0.5" />
<text x="53.9" y="344" font-size="6.2" fill="#333" stroke="#333" stroke-width="0.16" text-anchor="middle">25</text>
<line x1="67.2" y1="335.6" x2="67.2" y2="336.9" stroke="#444" stroke-width="0.5" />
<text x="67.2" y="344" font-size="6.2" fill="#333" stroke="#333" stroke-width="0.16" text-anchor="middle">50</text>
<line x1="80.5" y1="335.6" x2="80.5" y2="336.9" stroke="#444" stroke-width="0.5" />
<text x="80.5" y="344" font-size="6.2" fill="#333" stroke="#333" stroke-width="0.16" text-anchor="middle">75</text>
<line x1="93.8" y1="335.6" x2="93.8" y2="336.9" stroke="#444" stroke-width="0.5" />
<text x="93.8" y="344" font-size="6.2" fill="#333" stroke="#333" stroke-width="0.16" text-anchor="middle">100</text>
<text x="68.5" y="353.2" font-size="7.2" fill="#333" stroke="#333" stroke-width="0.16" text-anchor="middle">Frequency (%)</text>
<text x="105" y="308.2" font-size="6.9" fill="#333" stroke="#333" stroke-width="0.16">IFN-γ, TNF-α,</text>
<text x="105" y="316" font-size="6.9" fill="#333" stroke="#333" stroke-width="0.16">CD107a/CD107b</text>
<rect x="106" y="326.4" width="5" height="5" fill="#1b9a50" stroke="#333" stroke-width="0.4" />
<text x="114.6" y="331" font-size="6" fill="#333" stroke="#333" stroke-width="0.16">0</text>
<rect x="128.8" y="326.4" width="5" height="5" fill="#1240f0" stroke="#333" stroke-width="0.4" />
<text x="137.4" y="331" font-size="6" fill="#333" stroke="#333" stroke-width="0.16">1</text>
<rect x="106" y="333.8" width="5" height="5" fill="#8e2a9a" stroke="#333" stroke-width="0.4" />
<text x="114.6" y="338.4" font-size="6" fill="#333" stroke="#333" stroke-width="0.16">2</text>
<rect x="128.8" y="333.8" width="5" height="5" fill="#f26a30" stroke="#333" stroke-width="0.4" />
<text x="137.4" y="338.4" font-size="6" fill="#333" stroke="#333" stroke-width="0.16">3</text>
<text x="161.6" y="153.6" font-size="10.5" fill="#000" font-weight="bold">e</text>
<text x="199" y="159.8" font-size="7.2" fill="#2a50f0" stroke="#2a50f0" stroke-width="0.16"><tspan>T</tspan><tspan dy="1.8" font-size="4.32">MEM</tspan></text>
<text x="214.6" y="159.6" font-size="7" fill="#333" stroke="#333" stroke-width="0.16">|</text>
<text x="218.6" y="159.8" font-size="7.2" fill="#555" stroke="#555" stroke-width="0.16"><tspan>T</tspan><tspan dy="1.8" font-size="4.32">EX</tspan></text>
<text x="230" y="159.6" font-size="7" fill="#333" stroke="#333" stroke-width="0.16">|</text>
<text x="233.8" y="159.8" font-size="7.2" fill="#f04a30" stroke="#f04a30" stroke-width="0.16"><tspan>T</tspan><tspan dy="1.8" font-size="4.32">BYS</tspan></text>
<line x1="199.3" y1="171" x2="223" y2="171" stroke="#2a55e8" stroke-width="0.7" stroke-opacity="0.8"/>
<line x1="199.3" y1="177.5" x2="223" y2="177.5" stroke="#2a55e8" stroke-width="0.8" />
<line x1="223" y1="171" x2="223" y2="177.5" stroke="#2a55e8" stroke-width="0.7" />
<circle cx="219.5" cy="173.25" r="1.85" fill="#1a40e0" stroke="#111" stroke-width="0.45" />
<circle cx="221.5" cy="175.25" r="1.85" fill="#1a40e0" stroke="#111" stroke-width="0.45" />
<circle cx="222.5" cy="174.25" r="1.85" fill="#1a40e0" stroke="#111" stroke-width="0.45" />
<circle cx="220.5" cy="173.75" r="1.85" fill="#1a40e0" stroke="#111" stroke-width="0.45" />
<circle cx="230" cy="175.05" r="1.85" fill="#1a40e0" stroke="#111" stroke-width="0.45" />
<line x1="199.3" y1="181.2" x2="210" y2="181.2" stroke="#222222" stroke-width="0.7" stroke-opacity="0.8"/>
<line x1="199.3" y1="187.8" x2="210" y2="187.8" stroke="#222222" stroke-width="0.8" />
<line x1="210" y1="181.2" x2="210" y2="187.8" stroke="#222222" stroke-width="0.7" />
<circle cx="208.5" cy="183.5" r="1.85" fill="#333333" stroke="#111" stroke-width="0.45" />
<circle cx="210.5" cy="185.5" r="1.85" fill="#333333" stroke="#111" stroke-width="0.45" />
<circle cx="212.5" cy="184.5" r="1.85" fill="#333333" stroke="#111" stroke-width="0.45" />
<circle cx="214" cy="184" r="1.85" fill="#333333" stroke="#111" stroke-width="0.45" />
<circle cx="211" cy="185.3" r="1.85" fill="#333333" stroke="#111" stroke-width="0.45" />
<line x1="199.3" y1="191.8" x2="218" y2="191.8" stroke="#f04a30" stroke-width="0.7" stroke-opacity="0.8"/>
<line x1="199.3" y1="198.4" x2="218" y2="198.4" stroke="#f04a30" stroke-width="0.8" />
<line x1="218" y1="191.8" x2="218" y2="198.4" stroke="#f04a30" stroke-width="0.7" />
<circle cx="216.5" cy="194.1" r="1.85" fill="#f03a1a" stroke="#111" stroke-width="0.45" />
<circle cx="218.5" cy="196.1" r="1.85" fill="#f03a1a" stroke="#111" stroke-width="0.45" />
<circle cx="220.5" cy="195.1" r="1.85" fill="#f03a1a" stroke="#111" stroke-width="0.45" />
<circle cx="223" cy="194.6" r="1.85" fill="#f03a1a" stroke="#111" stroke-width="0.45" />
<circle cx="226" cy="195.9" r="1.85" fill="#f03a1a" stroke="#111" stroke-width="0.45" />
<circle cx="230.5" cy="195.4" r="1.85" fill="#f03a1a" stroke="#111" stroke-width="0.45" />
<line x1="199.3" y1="209.3" x2="216" y2="209.3" stroke="#2a55e8" stroke-width="0.7" stroke-opacity="0.8"/>
<line x1="199.3" y1="215.9" x2="216" y2="215.9" stroke="#2a55e8" stroke-width="0.8" />
<line x1="216" y1="209.3" x2="216" y2="215.9" stroke="#2a55e8" stroke-width="0.7" />
<circle cx="214" cy="211.6" r="1.85" fill="#1a40e0" stroke="#111" stroke-width="0.45" />
<circle cx="216" cy="213.6" r="1.85" fill="#1a40e0" stroke="#111" stroke-width="0.45" />
<circle cx="217.5" cy="212.6" r="1.85" fill="#1a40e0" stroke="#111" stroke-width="0.45" />
<circle cx="218.5" cy="212.1" r="1.85" fill="#1a40e0" stroke="#111" stroke-width="0.45" />
<line x1="199.3" y1="219.9" x2="209" y2="219.9" stroke="#222222" stroke-width="0.7" stroke-opacity="0.8"/>
<line x1="199.3" y1="226.1" x2="209" y2="226.1" stroke="#222222" stroke-width="0.8" />
<line x1="209" y1="219.9" x2="209" y2="226.1" stroke="#222222" stroke-width="0.7" />
<circle cx="208" cy="222" r="1.85" fill="#333333" stroke="#111" stroke-width="0.45" />
<circle cx="209.5" cy="224" r="1.85" fill="#333333" stroke="#111" stroke-width="0.45" />
<circle cx="210.5" cy="223" r="1.85" fill="#333333" stroke="#111" stroke-width="0.45" />
<line x1="199.3" y1="230.1" x2="214.5" y2="230.1" stroke="#f04a30" stroke-width="0.7" stroke-opacity="0.8"/>
<line x1="199.3" y1="236.7" x2="214.5" y2="236.7" stroke="#f04a30" stroke-width="0.8" />
<line x1="214.5" y1="230.1" x2="214.5" y2="236.7" stroke="#f04a30" stroke-width="0.7" />
<circle cx="212" cy="232.4" r="1.85" fill="#f03a1a" stroke="#111" stroke-width="0.45" />
<circle cx="213.5" cy="234.4" r="1.85" fill="#f03a1a" stroke="#111" stroke-width="0.45" />
<circle cx="215.5" cy="233.4" r="1.85" fill="#f03a1a" stroke="#111" stroke-width="0.45" />
<circle cx="219" cy="232.9" r="1.85" fill="#f03a1a" stroke="#111" stroke-width="0.45" />
<line x1="199.3" y1="247.7" x2="207.8" y2="247.7" stroke="#2a55e8" stroke-width="0.7" stroke-opacity="0.8"/>
<line x1="199.3" y1="254.3" x2="207.8" y2="254.3" stroke="#2a55e8" stroke-width="0.8" />
<line x1="207.8" y1="247.7" x2="207.8" y2="254.3" stroke="#2a55e8" stroke-width="0.7" />
<circle cx="206.5" cy="250" r="1.85" fill="#1a40e0" stroke="#111" stroke-width="0.45" />
<circle cx="208" cy="252" r="1.85" fill="#1a40e0" stroke="#111" stroke-width="0.45" />
<circle cx="209.5" cy="251" r="1.85" fill="#1a40e0" stroke="#111" stroke-width="0.45" />
<line x1="199.3" y1="258.1" x2="215" y2="258.1" stroke="#222222" stroke-width="0.7" stroke-opacity="0.8"/>
<line x1="199.3" y1="264.7" x2="215" y2="264.7" stroke="#222222" stroke-width="0.8" />
<line x1="215" y1="258.1" x2="215" y2="264.7" stroke="#222222" stroke-width="0.7" />
<circle cx="213.5" cy="260.4" r="1.85" fill="#333333" stroke="#111" stroke-width="0.45" />
<circle cx="215" cy="262.4" r="1.85" fill="#333333" stroke="#111" stroke-width="0.45" />
<circle cx="216.5" cy="261.4" r="1.85" fill="#333333" stroke="#111" stroke-width="0.45" />
<circle cx="217" cy="260.9" r="1.85" fill="#333333" stroke="#111" stroke-width="0.45" />
<line x1="199.3" y1="268.4" x2="208" y2="268.4" stroke="#f04a30" stroke-width="0.7" stroke-opacity="0.8"/>
<line x1="199.3" y1="275.3" x2="208" y2="275.3" stroke="#f04a30" stroke-width="0.8" />
<line x1="208" y1="268.4" x2="208" y2="275.3" stroke="#f04a30" stroke-width="0.7" />
<circle cx="206" cy="270.85" r="1.85" fill="#f03a1a" stroke="#111" stroke-width="0.45" />
<circle cx="207.5" cy="272.85" r="1.85" fill="#f03a1a" stroke="#111" stroke-width="0.45" />
<circle cx="209" cy="271.85" r="1.85" fill="#f03a1a" stroke="#111" stroke-width="0.45" />
<circle cx="210.5" cy="271.35" r="1.85" fill="#f03a1a" stroke="#111" stroke-width="0.45" />
<line x1="199.3" y1="286.2" x2="209.5" y2="286.2" stroke="#2a55e8" stroke-width="0.7" stroke-opacity="0.8"/>
<line x1="199.3" y1="293" x2="209.5" y2="293" stroke="#2a55e8" stroke-width="0.8" />
<line x1="209.5" y1="286.2" x2="209.5" y2="293" stroke="#2a55e8" stroke-width="0.7" />
<circle cx="208" cy="288.6" r="1.85" fill="#1a40e0" stroke="#111" stroke-width="0.45" />
<circle cx="210" cy="290.6" r="1.85" fill="#1a40e0" stroke="#111" stroke-width="0.45" />
<circle cx="211.5" cy="289.6" r="1.85" fill="#1a40e0" stroke="#111" stroke-width="0.45" />
<circle cx="212.5" cy="289.1" r="1.85" fill="#1a40e0" stroke="#111" stroke-width="0.45" />
<line x1="199.3" y1="296.4" x2="232.4" y2="296.4" stroke="#222222" stroke-width="0.7" stroke-opacity="0.8"/>
<line x1="199.3" y1="303.4" x2="232.4" y2="303.4" stroke="#222222" stroke-width="0.8" />
<line x1="232.4" y1="296.4" x2="232.4" y2="303.4" stroke="#222222" stroke-width="0.7" />
<circle cx="228" cy="298.9" r="1.85" fill="#333333" stroke="#111" stroke-width="0.45" />
<circle cx="230.5" cy="300.9" r="1.85" fill="#333333" stroke="#111" stroke-width="0.45" />
<circle cx="233" cy="299.9" r="1.85" fill="#333333" stroke="#111" stroke-width="0.45" />
<circle cx="235.5" cy="299.4" r="1.85" fill="#333333" stroke="#111" stroke-width="0.45" />
<circle cx="236.5" cy="300.7" r="1.85" fill="#333333" stroke="#111" stroke-width="0.45" />
<line x1="199.3" y1="307.4" x2="208.5" y2="307.4" stroke="#f04a30" stroke-width="0.7" stroke-opacity="0.8"/>
<line x1="199.3" y1="313.9" x2="208.5" y2="313.9" stroke="#f04a30" stroke-width="0.8" />
<line x1="208.5" y1="307.4" x2="208.5" y2="313.9" stroke="#f04a30" stroke-width="0.7" />
<circle cx="206.5" cy="309.65" r="1.85" fill="#f03a1a" stroke="#111" stroke-width="0.45" />
<circle cx="208" cy="311.65" r="1.85" fill="#f03a1a" stroke="#111" stroke-width="0.45" />
<circle cx="210" cy="310.65" r="1.85" fill="#f03a1a" stroke="#111" stroke-width="0.45" />
<circle cx="212" cy="310.15" r="1.85" fill="#f03a1a" stroke="#111" stroke-width="0.45" />
<line x1="223" y1="174.3" x2="230" y2="174.3" stroke="#111" stroke-width="0.5" />
<line x1="230" y1="172.8" x2="230" y2="175.8" stroke="#111" stroke-width="0.5" />
<line x1="199.3" y1="165" x2="199.3" y2="318.2" stroke="#aaa" stroke-width="0.8" />
<line x1="199.3" y1="318.2" x2="245.55" y2="318.2" stroke="#444" stroke-width="0.5" />
<line x1="199.3" y1="318.2" x2="199.3" y2="319.5" stroke="#444" stroke-width="0.5" />
<text x="199.3" y="325.6" font-size="6.2" fill="#333" stroke="#333" stroke-width="0.16" text-anchor="middle">0</text>
<line x1="208.55" y1="318.2" x2="208.55" y2="319.5" stroke="#444" stroke-width="0.5" />
<text x="208.55" y="325.6" font-size="6.2" fill="#333" stroke="#333" stroke-width="0.16" text-anchor="middle">1</text>
<line x1="217.8" y1="318.2" x2="217.8" y2="319.5" stroke="#444" stroke-width="0.5" />
<text x="217.8" y="325.6" font-size="6.2" fill="#333" stroke="#333" stroke-width="0.16" text-anchor="middle">2</text>
<line x1="227.05" y1="318.2" x2="227.05" y2="319.5" stroke="#444" stroke-width="0.5" />
<text x="227.05" y="325.6" font-size="6.2" fill="#333" stroke="#333" stroke-width="0.16" text-anchor="middle">3</text>
<line x1="236.3" y1="318.2" x2="236.3" y2="319.5" stroke="#444" stroke-width="0.5" />
<text x="236.3" y="325.6" font-size="6.2" fill="#333" stroke="#333" stroke-width="0.16" text-anchor="middle">4</text>
<line x1="245.55" y1="318.2" x2="245.55" y2="319.5" stroke="#444" stroke-width="0.5" />
<text x="245.55" y="325.6" font-size="6.2" fill="#333" stroke="#333" stroke-width="0.16" text-anchor="middle">5</text>
<line x1="197.6" y1="184.6" x2="199.3" y2="184.6" stroke="#444" stroke-width="0.5" />
<text x="195.4" y="186.6" font-size="6.4" fill="#333" stroke="#333" stroke-width="0.16" text-anchor="end">TCF-1</text>
<line x1="197.6" y1="223.4" x2="199.3" y2="223.4" stroke="#444" stroke-width="0.5" />
<text x="195.4" y="225.4" font-size="6.4" fill="#333" stroke="#333" stroke-width="0.16" text-anchor="end">Eomes</text>
<line x1="197.6" y1="261.4" x2="199.3" y2="261.4" stroke="#444" stroke-width="0.5" />
<text x="195.4" y="263.4" font-size="6.4" fill="#333" stroke="#333" stroke-width="0.16" text-anchor="end">T-bet</text>
<line x1="197.6" y1="300.4" x2="199.3" y2="300.4" stroke="#444" stroke-width="0.5" />
<text x="195.4" y="302.4" font-size="6.4" fill="#333" stroke="#333" stroke-width="0.16" text-anchor="end">TOX</text>
<text x="170.6" y="242" font-size="7" fill="#333" stroke="#333" stroke-width="0.16" text-anchor="middle" transform="rotate(-90 170.6 242)"><tspan>TFs of P14 CD8</tspan><tspan dy="-2.66" font-size="4.34">+</tspan><tspan dy="2.66"> T cells</tspan></text>
<text x="222" y="338.4" font-size="6.8" fill="#333" stroke="#333" stroke-width="0.16" text-anchor="middle"><tspan>MFI (×10</tspan><tspan dy="-2.58" font-size="4.22">3</tspan><tspan dy="2.58">)</tspan></text>
<line x1="234.7" y1="174.4" x2="234.7" y2="184.3" stroke="#333" stroke-width="0.45" />
<text x="235.6" y="179.35" font-size="4.7" fill="#333" stroke="#333" stroke-width="0.16" text-anchor="middle" transform="rotate(90 235.6 179.35)">P = 0.0029</text>
<line x1="241.8" y1="184.3" x2="241.8" y2="195" stroke="#333" stroke-width="0.45" />
<text x="242.7" y="189.65" font-size="4.7" fill="#333" stroke="#333" stroke-width="0.16" text-anchor="middle" transform="rotate(90 242.7 189.65)">P = 0.0034</text>
<line x1="248.6" y1="174.4" x2="248.6" y2="195" stroke="#333" stroke-width="0.45" />
<text x="249.5" y="184.7" font-size="4.7" fill="#333" stroke="#333" stroke-width="0.16" text-anchor="middle" transform="rotate(90 249.5 184.7)">P = 0.2887</text>
<line x1="223.1" y1="212.4" x2="223.1" y2="223" stroke="#333" stroke-width="0.45" />
<text x="224" y="217.7" font-size="4.7" fill="#333" stroke="#333" stroke-width="0.16" text-anchor="middle" transform="rotate(90 224 217.7)">P = 0.0049</text>
<line x1="230.6" y1="223" x2="230.6" y2="233.6" stroke="#333" stroke-width="0.45" />
<text x="231.5" y="228.3" font-size="4.7" fill="#333" stroke="#333" stroke-width="0.16" text-anchor="middle" transform="rotate(90 231.5 228.3)">P = 0.0050</text>
<line x1="236.8" y1="212.4" x2="236.8" y2="233.6" stroke="#333" stroke-width="0.45" />
<text x="237.7" y="223" font-size="4.7" fill="#333" stroke="#333" stroke-width="0.16" text-anchor="middle" transform="rotate(90 237.7 223)">P = 0.3954</text>
<line x1="221.2" y1="251.2" x2="221.2" y2="261.2" stroke="#333" stroke-width="0.45" />
<text x="222.1" y="256.2" font-size="4.7" fill="#333" stroke="#333" stroke-width="0.16" text-anchor="middle" transform="rotate(90 222.1 256.2)">P = 0.0006</text>
<line x1="228" y1="261.2" x2="228" y2="271.8" stroke="#333" stroke-width="0.45" />
<text x="228.9" y="266.5" font-size="4.7" fill="#333" stroke="#333" stroke-width="0.16" text-anchor="middle" transform="rotate(90 228.9 266.5)">P = 0.0002</text>
<line x1="234.7" y1="251.2" x2="234.7" y2="271.8" stroke="#333" stroke-width="0.45" />
<text x="235.6" y="261.5" font-size="4.7" fill="#333" stroke="#333" stroke-width="0.16" text-anchor="middle" transform="rotate(90 235.6 261.5)">P = 0.5131</text>
<line x1="237.4" y1="289.9" x2="237.4" y2="299.9" stroke="#333" stroke-width="0.45" />
<text x="238.3" y="294.9" font-size="4.7" fill="#333" stroke="#333" stroke-width="0.16" text-anchor="middle" transform="rotate(90 238.3 294.9)">P = 0.0003</text>
<line x1="244.9" y1="299.9" x2="244.9" y2="310.5" stroke="#333" stroke-width="0.45" />
<text x="245.8" y="305.2" font-size="4.7" fill="#333" stroke="#333" stroke-width="0.16" text-anchor="middle" transform="rotate(90 245.8 305.2)"><tspan>P = 8.2 × 10</tspan><tspan dy="-1.79" font-size="2.91">−6</tspan></text>
<line x1="251.1" y1="289.9" x2="251.1" y2="310.5" stroke="#333" stroke-width="0.45" />
<text x="252" y="300.2" font-size="4.7" fill="#333" stroke="#333" stroke-width="0.16" text-anchor="middle" transform="rotate(90 252 300.2)">P = 0.4899</text>
<text x="269.6" y="152.6" font-size="10.5" fill="#000" font-weight="bold">f</text>
<circle cx="347.9" cy="202.1" r="47.6" fill="url(#fg)" />
<g clip-path="url(#fclip)">
<ellipse cx="322" cy="200" rx="17" ry="16" fill="#3a5aa4" opacity="0.75" filter="url(#blur6)"/>
<ellipse cx="345" cy="194" rx="16" ry="11" fill="#4262aa" opacity="0.55" filter="url(#blur6)"/>
<ellipse cx="374" cy="224" rx="15" ry="8" fill="#2e4e9c" opacity="0.8" filter="url(#blur3)"/>
<ellipse cx="340" cy="215" rx="14" ry="9" fill="#5a74b4" opacity="0.5" filter="url(#blur6)"/>
<ellipse cx="394" cy="196" rx="12" ry="30" fill="#ffffff" opacity="0.9" filter="url(#blur6)"/>
<ellipse cx="380" cy="170" rx="14" ry="9" fill="#ffffff" opacity="0.6" filter="url(#blur6)"/>
<ellipse cx="348" cy="158" rx="24" ry="6" fill="#ffffff" opacity="0.55" filter="url(#blur3)"/>
<ellipse cx="352" cy="168" rx="24" ry="10" fill="#ffffff" opacity="0.55" filter="url(#blur6)"/>
<ellipse cx="326" cy="242" rx="16" ry="7" fill="#ffffff" opacity="0.5" filter="url(#blur3)"/>
<ellipse cx="330" cy="170" rx="10" ry="7" fill="#ffffff" opacity="0.3" filter="url(#blur3)"/>
<ellipse cx="312" cy="240" rx="12" ry="8" fill="#ffffff" opacity="0.55" filter="url(#blur6)"/>
<ellipse cx="303" cy="214" rx="5" ry="14" fill="#ffffff" opacity="0.35" filter="url(#blur3)"/>
<ellipse cx="362" cy="176" rx="16" ry="4" fill="#ffffff" opacity="0.35" filter="url(#blur3)"/>
</g>
<circle cx="347.9" cy="202.1" r="47.6" fill="none" stroke="#777" stroke-width="0.5" />
<path d="M345.5 184.2 C347.5 181.6 352.5 181.0 356.6 183.0 C359.0 184.4 358.4 189.0 357.6 192.0 C357.0 195.4 355.4 197.8 351.0 198.0 C347.4 198.2 344.4 197.2 343.8 194.4 C343.2 191.0 343.6 186.8 345.5 184.2 Z" fill="none" stroke="#e0302a" stroke-width="0.85" />
<ellipse cx="334" cy="190.9" rx="7.2" ry="8.6" fill="none" stroke="#e08a2a" stroke-width="0.8" transform="rotate(-30 334 190.9)"/>
<ellipse cx="316.2" cy="199" rx="10.2" ry="11.4" fill="none" stroke="#c89a58" stroke-width="0.8" transform="rotate(-30 316.2 199)"/>
<ellipse cx="315.2" cy="199.4" rx="6" ry="6.6" fill="none" stroke="#c8a060" stroke-width="0.8" transform="rotate(-30 315.2 199.4)"/>
<ellipse cx="315" cy="198.6" rx="2.8" ry="2.4" fill="none" stroke="#c8a060" stroke-width="0.8" transform="rotate(-30 315 198.6)"/>
<ellipse cx="320" cy="215.4" rx="9.6" ry="15.2" fill="none" stroke="#58b4dc" stroke-width="0.8" transform="rotate(-12 320 215.4)"/>
<ellipse cx="319.2" cy="215.4" rx="4.6" ry="7.8" fill="none" stroke="#4aa8d0" stroke-width="0.8" transform="rotate(-12 319.2 215.4)"/>
<ellipse cx="344" cy="223.5" rx="5.4" ry="6" fill="none" stroke="#8a3aa8" stroke-width="0.8" transform="rotate(0 344 223.5)"/>
<path d="M356.4 221.6 C358.4 215.8 366.0 213.4 373.6 214.0 C380.0 214.6 385.2 218.6 388.6 224.2 C386.2 227.4 380.0 227.8 374.0 227.4 C366.0 228.2 358.6 228.0 356.4 221.6 Z" fill="none" stroke="#8a6a55" stroke-width="0.6" />
<path d="M381.0 222.6 C383.6 222.2 386.6 223.2 388.2 224.4 C386.0 226.6 383.0 226.8 380.6 226.2 Z" fill="#8a5a40" />
<path d="M359.2 224.0 C360.2 218.4 368.0 215.4 375.6 216.2 C381.6 217.0 385.0 221.6 383.2 225.6 C378.4 229.0 368.4 229.2 362.4 228.2 C360.2 227.4 359.2 226.0 359.2 224.0 Z" fill="none" stroke="#22a898" stroke-width="0.6" />
<path d="M364.6 223.4 C365.8 219.8 371.6 218.4 376.6 219.6 C380.4 220.6 381.2 223.6 378.6 225.4 C374.0 226.8 367.6 226.8 365.4 225.6 C364.8 225.0 364.6 224.2 364.6 223.4 Z" fill="none" stroke="#2a9ab0" stroke-width="0.55" />
<path d="M368.6 222.8 C370.2 221.0 374.4 220.8 376.4 222.2 C376.8 223.8 373.6 224.8 370.4 224.6 Z" fill="none" stroke="#3a7ac0" stroke-width="0.5" />
<path d="M354.6 226.0 C357.0 221.6 363.6 220.8 368.6 222.8 C372.0 224.4 371.0 229.0 367.0 231.6 C363.0 234.0 358.0 234.6 355.6 232.2 C354.0 230.6 353.8 228.0 354.6 226.0 Z" fill="none" stroke="#a8a440" stroke-width="0.55" />
<path d="M351.8 233.0 C351.6 228.6 356.4 226.0 361.4 227.8 C365.4 229.6 366.6 235.0 365.4 240.0 C364.4 244.6 361.0 247.4 358.0 246.4 C354.6 245.0 352.0 238.6 351.8 233.0 Z" fill="none" stroke="#b8b030" stroke-width="0.55" />
<path d="M354.0 234.0 C354.0 230.6 357.6 229.0 360.6 230.4 C363.6 232.0 364.2 236.6 363.4 240.4 C362.6 243.6 360.4 245.6 358.6 245.0 C356.2 244.0 354.0 238.6 354.0 234.0 Z" fill="none" stroke="#c0b428" stroke-width="0.55" />
<path d="M355.6 235.4 C355.8 232.6 358.4 231.8 360.4 233.0 C362.4 234.6 362.6 238.4 362.0 241.0 C361.4 243.6 360.0 244.8 358.8 244.4 C357.0 243.6 355.6 239.0 355.6 235.4 Z" fill="#c8b820" stroke="#a89a10" stroke-width="0.4" />
<path d="M357.2 237.0 C357.6 235.4 359.4 235.2 360.2 236.6 C361.0 238.6 360.8 241.6 359.6 242.8 C358.4 242.6 357.2 240.0 357.2 237.0 Z" fill="none" stroke="#8a8010" stroke-width="0.4" />
<text x="347.8" y="151.8" font-size="6.4" fill="#333" stroke="#333" stroke-width="0.16" text-anchor="middle">Pro_1</text>
<text x="382.6" y="166.6" font-size="6.4" fill="#333" stroke="#333" stroke-width="0.16">Pro_8</text>
<text x="309" y="169.2" font-size="6.4" fill="#333" stroke="#333" stroke-width="0.16" text-anchor="end">Pro_7</text>
<text x="297.8" y="197.2" font-size="6.4" fill="#333" stroke="#333" stroke-width="0.16" text-anchor="end">Pro_3</text>
<text x="397" y="197.6" font-size="6.4" fill="#333" stroke="#333" stroke-width="0.16">Pro_4</text>
<text x="301.2" y="228" font-size="6.4" fill="#333" stroke="#333" stroke-width="0.16" text-anchor="end">Pro_9</text>
<text x="394.4" y="228" font-size="6.4" fill="#333" stroke="#333" stroke-width="0.16">Pro_6</text>
<text x="319.6" y="253" font-size="6.4" fill="#333" stroke="#333" stroke-width="0.16" text-anchor="middle">Pro_5</text>
<text x="379.6" y="253" font-size="6.4" fill="#333" stroke="#333" stroke-width="0.16" text-anchor="middle">Pro_2</text>
<rect x="425.4" y="160.7" width="7" height="5.6" fill="#fff" stroke="#e03a3a" stroke-width="0.5" />
<line x1="425.4" y1="163.5" x2="432.4" y2="163.5" stroke="#e03a3a" stroke-width="0.9" />
<text x="435.4" y="165.9" font-size="6.6" fill="#333" stroke="#333" stroke-width="0.16"><tspan>P14 T</tspan><tspan dy="1.65" font-size="4.09">BYS</tspan></text>
<rect x="425.4" y="172.2" width="7" height="5.6" fill="#fff" stroke="#8a6a5a" stroke-width="0.5" />
<line x1="425.4" y1="175" x2="432.4" y2="175" stroke="#8a6a5a" stroke-width="0.9" />
<text x="435.4" y="177.4" font-size="6.6" fill="#333" stroke="#333" stroke-width="0.16"><tspan>P14 T</tspan><tspan dy="1.65" font-size="4.09">MEM</tspan><tspan dy="-1.65"> (D32)</tspan></text>
<rect x="425.4" y="183.7" width="7" height="5.6" fill="#fff" stroke="#2ab0a0" stroke-width="0.5" />
<line x1="425.4" y1="186.5" x2="432.4" y2="186.5" stroke="#2ab0a0" stroke-width="0.9" />
<text x="435.4" y="188.9" font-size="6.6" fill="#333" stroke="#333" stroke-width="0.16"><tspan>P14 T</tspan><tspan dy="1.65" font-size="4.09">MEM</tspan><tspan dy="-1.65"> (D60)</tspan></text>
<rect x="425.4" y="195.2" width="7" height="5.6" fill="#fff" stroke="#a8a040" stroke-width="0.5" />
<line x1="425.4" y1="198" x2="432.4" y2="198" stroke="#a8a040" stroke-width="0.9" />
<text x="435.4" y="200.4" font-size="6.6" fill="#333" stroke="#333" stroke-width="0.16"><tspan>P14 T</tspan><tspan dy="1.65" font-size="4.09">MEM</tspan><tspan dy="-1.65"> (D90)</tspan></text>
<rect x="425.4" y="206.7" width="7" height="5.6" fill="#fff" stroke="#9a5ac0" stroke-width="0.5" />
<line x1="425.4" y1="209.5" x2="432.4" y2="209.5" stroke="#9a5ac0" stroke-width="0.9" />
<text x="435.4" y="211.9" font-size="6.6" fill="#333" stroke="#333" stroke-width="0.16"><tspan>P14 T</tspan><tspan dy="1.65" font-size="4.09">RM</tspan><tspan dy="-1.65"> (kidney)</tspan></text>
<rect x="425.4" y="218.2" width="7" height="5.6" fill="#fff" stroke="#f0a040" stroke-width="0.5" />
<line x1="425.4" y1="221" x2="432.4" y2="221" stroke="#f0a040" stroke-width="0.9" />
<text x="435.4" y="223.4" font-size="6.6" fill="#333" stroke="#333" stroke-width="0.16"><tspan>P14 T</tspan><tspan dy="1.65" font-size="4.09">RM</tspan><tspan dy="-1.65"> (liver)</tspan></text>
<rect x="425.4" y="229.7" width="7" height="5.6" fill="#fff" stroke="#d0b890" stroke-width="0.5" />
<line x1="425.4" y1="232.5" x2="432.4" y2="232.5" stroke="#d0b890" stroke-width="0.9" />
<text x="435.4" y="234.9" font-size="6.6" fill="#333" stroke="#333" stroke-width="0.16"><tspan>P14 T</tspan><tspan dy="1.65" font-size="4.09">RM</tspan><tspan dy="-1.65"> (SG)</tspan></text>
<rect x="425.4" y="241.2" width="7" height="5.6" fill="#fff" stroke="#7ac8e8" stroke-width="0.5" />
<line x1="425.4" y1="244" x2="432.4" y2="244" stroke="#7ac8e8" stroke-width="0.9" />
<text x="435.4" y="246.4" font-size="6.6" fill="#333" stroke="#333" stroke-width="0.16"><tspan>P14 T</tspan><tspan dy="1.65" font-size="4.09">RM</tspan><tspan dy="-1.65"> (siIEL)</tspan></text>
<text x="269.6" y="271.2" font-size="10.5" fill="#000" font-weight="bold">g</text>
<rect x="309.6" y="276.2" width="6.25" height="6.25" fill="#ffffff" />
<rect x="315.85" y="276.2" width="6.25" height="6.25" fill="#ffffff" />
<rect x="322.1" y="276.2" width="6.25" height="6.25" fill="#ea927c" />
<rect x="328.35" y="276.2" width="6.25" height="6.25" fill="#a50606" />
<rect x="334.6" y="276.2" width="6.25" height="6.25" fill="#ffffff" />
<rect x="340.85" y="276.2" width="6.25" height="6.25" fill="#ffffff" />
<rect x="347.1" y="276.2" width="6.25" height="6.25" fill="#ffffff" />
<rect x="353.35" y="276.2" width="6.25" height="6.25" fill="#fadad0" />
<rect x="359.6" y="276.2" width="6.25" height="6.25" fill="#ea927c" />
<rect x="365.85" y="276.2" width="6.25" height="6.25" fill="#fadad0" />
<rect x="372.1" y="276.2" width="6.25" height="6.25" fill="#fcece8" />
<rect x="378.35" y="276.2" width="6.25" height="6.25" fill="#ea927c" />
<rect x="384.6" y="276.2" width="6.25" height="6.25" fill="#f2b6a6" />
<rect x="390.85" y="276.2" width="6.25" height="6.25" fill="#a50606" />
<rect x="397.1" y="276.2" width="6.25" height="6.25" fill="#fadad0" />
<rect x="403.35" y="276.2" width="6.25" height="6.25" fill="#db6a56" />
<rect x="409.6" y="276.2" width="6.25" height="6.25" fill="#f2b6a6" />
<rect x="415.85" y="276.2" width="6.25" height="6.25" fill="#f2b6a6" />
<rect x="422.1" y="276.2" width="6.25" height="6.25" fill="#fadad0" />
<rect x="428.35" y="276.2" width="6.25" height="6.25" fill="#ea927c" />
<rect x="434.6" y="276.2" width="6.25" height="6.25" fill="#fadad0" />
<rect x="440.85" y="276.2" width="6.25" height="6.25" fill="#f2b6a6" />
<rect x="447.1" y="276.2" width="6.25" height="6.25" fill="#cc4230" />
<rect x="453.35" y="276.2" width="6.25" height="6.25" fill="#db6a56" />
<rect x="309.6" y="282.45" width="6.25" height="6.25" fill="#fadad0" />
<rect x="315.85" y="282.45" width="6.25" height="6.25" fill="#f2b6a6" />
<rect x="322.1" y="282.45" width="6.25" height="6.25" fill="#cc4230" />
<rect x="328.35" y="282.45" width="6.25" height="6.25" fill="#fcece8" />
<rect x="334.6" y="282.45" width="6.25" height="6.25" fill="#fadad0" />
<rect x="340.85" y="282.45" width="6.25" height="6.25" fill="#fadad0" />
<rect x="347.1" y="282.45" width="6.25" height="6.25" fill="#fcece8" />
<rect x="353.35" y="282.45" width="6.25" height="6.25" fill="#fadad0" />
<rect x="359.6" y="282.45" width="6.25" height="6.25" fill="#cc4230" />
<rect x="365.85" y="282.45" width="6.25" height="6.25" fill="#a50606" />
<rect x="372.1" y="282.45" width="6.25" height="6.25" fill="#a50606" />
<rect x="378.35" y="282.45" width="6.25" height="6.25" fill="#fadad0" />
<rect x="384.6" y="282.45" width="6.25" height="6.25" fill="#f2b6a6" />
<rect x="390.85" y="282.45" width="6.25" height="6.25" fill="#db6a56" />
<rect x="397.1" y="282.45" width="6.25" height="6.25" fill="#ffffff" />
<rect x="403.35" y="282.45" width="6.25" height="6.25" fill="#f2b6a6" />
<rect x="409.6" y="282.45" width="6.25" height="6.25" fill="#fcece8" />
<rect x="415.85" y="282.45" width="6.25" height="6.25" fill="#fadad0" />
<rect x="422.1" y="282.45" width="6.25" height="6.25" fill="#ea927c" />
<rect x="428.35" y="282.45" width="6.25" height="6.25" fill="#fcece8" />
<rect x="434.6" y="282.45" width="6.25" height="6.25" fill="#ffffff" />
<rect x="440.85" y="282.45" width="6.25" height="6.25" fill="#fadad0" />
<rect x="447.1" y="282.45" width="6.25" height="6.25" fill="#cc4230" />
<rect x="453.35" y="282.45" width="6.25" height="6.25" fill="#db6a56" />
<rect x="309.6" y="288.7" width="6.25" height="6.25" fill="#ea927c" />
<rect x="315.85" y="288.7" width="6.25" height="6.25" fill="#ea927c" />
<rect x="322.1" y="288.7" width="6.25" height="6.25" fill="#cc4230" />
<rect x="328.35" y="288.7" width="6.25" height="6.25" fill="#ea927c" />
<rect x="334.6" y="288.7" width="6.25" height="6.25" fill="#fadad0" />
<rect x="340.85" y="288.7" width="6.25" height="6.25" fill="#ea927c" />
<rect x="347.1" y="288.7" width="6.25" height="6.25" fill="#f2b6a6" />
<rect x="353.35" y="288.7" width="6.25" height="6.25" fill="#ea927c" />
<rect x="359.6" y="288.7" width="6.25" height="6.25" fill="#cc4230" />
<rect x="365.85" y="288.7" width="6.25" height="6.25" fill="#ea927c" />
<rect x="372.1" y="288.7" width="6.25" height="6.25" fill="#fcece8" />
<rect x="378.35" y="288.7" width="6.25" height="6.25" fill="#ea927c" />
<rect x="384.6" y="288.7" width="6.25" height="6.25" fill="#ea927c" />
<rect x="390.85" y="288.7" width="6.25" height="6.25" fill="#fadad0" />
<rect x="397.1" y="288.7" width="6.25" height="6.25" fill="#fcece8" />
<rect x="403.35" y="288.7" width="6.25" height="6.25" fill="#fadad0" />
<rect x="409.6" y="288.7" width="6.25" height="6.25" fill="#f2b6a6" />
<rect x="415.85" y="288.7" width="6.25" height="6.25" fill="#a50606" />
<rect x="422.1" y="288.7" width="6.25" height="6.25" fill="#a50606" />
<rect x="428.35" y="288.7" width="6.25" height="6.25" fill="#cc4230" />
<rect x="434.6" y="288.7" width="6.25" height="6.25" fill="#b8241b" />
<rect x="440.85" y="288.7" width="6.25" height="6.25" fill="#cc4230" />
<rect x="447.1" y="288.7" width="6.25" height="6.25" fill="#cc4230" />
<rect x="453.35" y="288.7" width="6.25" height="6.25" fill="#cc4230" />
<rect x="309.6" y="294.95" width="6.25" height="6.25" fill="#f2b6a6" />
<rect x="315.85" y="294.95" width="6.25" height="6.25" fill="#fadad0" />
<rect x="322.1" y="294.95" width="6.25" height="6.25" fill="#cc4230" />
<rect x="328.35" y="294.95" width="6.25" height="6.25" fill="#ea927c" />
<rect x="334.6" y="294.95" width="6.25" height="6.25" fill="#fcece8" />
<rect x="340.85" y="294.95" width="6.25" height="6.25" fill="#f2b6a6" />
<rect x="347.1" y="294.95" width="6.25" height="6.25" fill="#fadad0" />
<rect x="353.35" y="294.95" width="6.25" height="6.25" fill="#f2b6a6" />
<rect x="359.6" y="294.95" width="6.25" height="6.25" fill="#f2b6a6" />
<rect x="365.85" y="294.95" width="6.25" height="6.25" fill="#ea927c" />
<rect x="372.1" y="294.95" width="6.25" height="6.25" fill="#fcece8" />
<rect x="378.35" y="294.95" width="6.25" height="6.25" fill="#a50606" />
<rect x="384.6" y="294.95" width="6.25" height="6.25" fill="#a50606" />
<rect x="390.85" y="294.95" width="6.25" height="6.25" fill="#fadad0" />
<rect x="397.1" y="294.95" width="6.25" height="6.25" fill="#ffffff" />
<rect x="403.35" y="294.95" width="6.25" height="6.25" fill="#cc4230" />
<rect x="409.6" y="294.95" width="6.25" height="6.25" fill="#cc4230" />
<rect x="415.85" y="294.95" width="6.25" height="6.25" fill="#cc4230" />
<rect x="422.1" y="294.95" width="6.25" height="6.25" fill="#ea927c" />
<rect x="428.35" y="294.95" width="6.25" height="6.25" fill="#cc4230" />
<rect x="434.6" y="294.95" width="6.25" height="6.25" fill="#b8241b" />
<rect x="440.85" y="294.95" width="6.25" height="6.25" fill="#b8241b" />
<rect x="447.1" y="294.95" width="6.25" height="6.25" fill="#a50606" />
<rect x="453.35" y="294.95" width="6.25" height="6.25" fill="#a50606" />
<rect x="309.6" y="301.2" width="6.25" height="6.25" fill="#cc4230" />
<rect x="315.85" y="301.2" width="6.25" height="6.25" fill="#a50606" />
<rect x="322.1" y="301.2" width="6.25" height="6.25" fill="#ffffff" />
<rect x="328.35" y="301.2" width="6.25" height="6.25" fill="#ffffff" />
<rect x="334.6" y="301.2" width="6.25" height="6.25" fill="#ffffff" />
<rect x="340.85" y="301.2" width="6.25" height="6.25" fill="#ffffff" />
<rect x="347.1" y="301.2" width="6.25" height="6.25" fill="#ffffff" />
<rect x="353.35" y="301.2" width="6.25" height="6.25" fill="#ffffff" />
<rect x="359.6" y="301.2" width="6.25" height="6.25" fill="#ffffff" />
<rect x="365.85" y="301.2" width="6.25" height="6.25" fill="#cc4230" />
<rect x="372.1" y="301.2" width="6.25" height="6.25" fill="#ffffff" />
<rect x="378.35" y="301.2" width="6.25" height="6.25" fill="#cc4230" />
<rect x="384.6" y="301.2" width="6.25" height="6.25" fill="#cc4230" />
<rect x="390.85" y="301.2" width="6.25" height="6.25" fill="#cc4230" />
<rect x="397.1" y="301.2" width="6.25" height="6.25" fill="#a50606" />
<rect x="403.35" y="301.2" width="6.25" height="6.25" fill="#a50606" />
<rect x="409.6" y="301.2" width="6.25" height="6.25" fill="#a50606" />
<rect x="415.85" y="301.2" width="6.25" height="6.25" fill="#f2b6a6" />
<rect x="422.1" y="301.2" width="6.25" height="6.25" fill="#f2b6a6" />
<rect x="428.35" y="301.2" width="6.25" height="6.25" fill="#a50606" />
<rect x="434.6" y="301.2" width="6.25" height="6.25" fill="#a50606" />
<rect x="440.85" y="301.2" width="6.25" height="6.25" fill="#a50606" />
<rect x="447.1" y="301.2" width="6.25" height="6.25" fill="#cc4230" />
<rect x="453.35" y="301.2" width="6.25" height="6.25" fill="#f2b6a6" />
<rect x="309.6" y="307.45" width="6.25" height="6.25" fill="#db6a56" />
<rect x="315.85" y="307.45" width="6.25" height="6.25" fill="#db6a56" />
<rect x="322.1" y="307.45" width="6.25" height="6.25" fill="#a50606" />
<rect x="328.35" y="307.45" width="6.25" height="6.25" fill="#ea927c" />
<rect x="334.6" y="307.45" width="6.25" height="6.25" fill="#f2b6a6" />
<rect x="340.85" y="307.45" width="6.25" height="6.25" fill="#b8241b" />
<rect x="347.1" y="307.45" width="6.25" height="6.25" fill="#a50606" />
<rect x="353.35" y="307.45" width="6.25" height="6.25" fill="#ea927c" />
<rect x="359.6" y="307.45" width="6.25" height="6.25" fill="#ea927c" />
<rect x="365.85" y="307.45" width="6.25" height="6.25" fill="#fadad0" />
<rect x="372.1" y="307.45" width="6.25" height="6.25" fill="#ffffff" />
<rect x="378.35" y="307.45" width="6.25" height="6.25" fill="#fadad0" />
<rect x="384.6" y="307.45" width="6.25" height="6.25" fill="#f2b6a6" />
<rect x="390.85" y="307.45" width="6.25" height="6.25" fill="#ffffff" />
<rect x="397.1" y="307.45" width="6.25" height="6.25" fill="#ffffff" />
<rect x="403.35" y="307.45" width="6.25" height="6.25" fill="#fcece8" />
<rect x="409.6" y="307.45" width="6.25" height="6.25" fill="#ffffff" />
<rect x="415.85" y="307.45" width="6.25" height="6.25" fill="#fadad0" />
<rect x="422.1" y="307.45" width="6.25" height="6.25" fill="#fcece8" />
<rect x="428.35" y="307.45" width="6.25" height="6.25" fill="#ffffff" />
<rect x="434.6" y="307.45" width="6.25" height="6.25" fill="#fcece8" />
<rect x="440.85" y="307.45" width="6.25" height="6.25" fill="#fcece8" />
<rect x="447.1" y="307.45" width="6.25" height="6.25" fill="#fadad0" />
<rect x="453.35" y="307.45" width="6.25" height="6.25" fill="#fcece8" />
<rect x="309.6" y="313.7" width="6.25" height="6.25" fill="#a50606" />
<rect x="315.85" y="313.7" width="6.25" height="6.25" fill="#cc4230" />
<rect x="322.1" y="313.7" width="6.25" height="6.25" fill="#b8241b" />
<rect x="328.35" y="313.7" width="6.25" height="6.25" fill="#fadad0" />
<rect x="334.6" y="313.7" width="6.25" height="6.25" fill="#f2b6a6" />
<rect x="340.85" y="313.7" width="6.25" height="6.25" fill="#ea927c" />
<rect x="347.1" y="313.7" width="6.25" height="6.25" fill="#cc4230" />
<rect x="353.35" y="313.7" width="6.25" height="6.25" fill="#a50606" />
<rect x="359.6" y="313.7" width="6.25" height="6.25" fill="#a50606" />
<rect x="365.85" y="313.7" width="6.25" height="6.25" fill="#fadad0" />
<rect x="372.1" y="313.7" width="6.25" height="6.25" fill="#fadad0" />
<rect x="378.35" y="313.7" width="6.25" height="6.25" fill="#ffffff" />
<rect x="384.6" y="313.7" width="6.25" height="6.25" fill="#ffffff" />
<rect x="390.85" y="313.7" width="6.25" height="6.25" fill="#ffffff" />
<rect x="397.1" y="313.7" width="6.25" height="6.25" fill="#fcece8" />
<rect x="403.35" y="313.7" width="6.25" height="6.25" fill="#ffffff" />
<rect x="409.6" y="313.7" width="6.25" height="6.25" fill="#ffffff" />
<rect x="415.85" y="313.7" width="6.25" height="6.25" fill="#fcece8" />
<rect x="422.1" y="313.7" width="6.25" height="6.25" fill="#ffffff" />
<rect x="428.35" y="313.7" width="6.25" height="6.25" fill="#ffffff" />
<rect x="434.6" y="313.7" width="6.25" height="6.25" fill="#ffffff" />
<rect x="440.85" y="313.7" width="6.25" height="6.25" fill="#ffffff" />
<rect x="447.1" y="313.7" width="6.25" height="6.25" fill="#fcece8" />
<rect x="453.35" y="313.7" width="6.25" height="6.25" fill="#fcece8" />
<rect x="309.6" y="319.95" width="6.25" height="6.25" fill="#db6a56" />
<rect x="315.85" y="319.95" width="6.25" height="6.25" fill="#ffffff" />
<rect x="322.1" y="319.95" width="6.25" height="6.25" fill="#cc4230" />
<rect x="328.35" y="319.95" width="6.25" height="6.25" fill="#fcece8" />
<rect x="334.6" y="319.95" width="6.25" height="6.25" fill="#a50606" />
<rect x="340.85" y="319.95" width="6.25" height="6.25" fill="#a50606" />
<rect x="347.1" y="319.95" width="6.25" height="6.25" fill="#fadad0" />
<rect x="353.35" y="319.95" width="6.25" height="6.25" fill="#db6a56" />
<rect x="359.6" y="319.95" width="6.25" height="6.25" fill="#cc4230" />
<rect x="365.85" y="319.95" width="6.25" height="6.25" fill="#ffffff" />
<rect x="372.1" y="319.95" width="6.25" height="6.25" fill="#ffffff" />
<rect x="378.35" y="319.95" width="6.25" height="6.25" fill="#b8241b" />
<rect x="384.6" y="319.95" width="6.25" height="6.25" fill="#a50606" />
<rect x="390.85" y="319.95" width="6.25" height="6.25" fill="#ffffff" />
<rect x="397.1" y="319.95" width="6.25" height="6.25" fill="#ffffff" />
<rect x="403.35" y="319.95" width="6.25" height="6.25" fill="#fcece8" />
<rect x="409.6" y="319.95" width="6.25" height="6.25" fill="#fcece8" />
<rect x="415.85" y="319.95" width="6.25" height="6.25" fill="#f2b6a6" />
<rect x="422.1" y="319.95" width="6.25" height="6.25" fill="#fcece8" />
<rect x="428.35" y="319.95" width="6.25" height="6.25" fill="#fcece8" />
<rect x="434.6" y="319.95" width="6.25" height="6.25" fill="#fadad0" />
<rect x="440.85" y="319.95" width="6.25" height="6.25" fill="#fadad0" />
<rect x="447.1" y="319.95" width="6.25" height="6.25" fill="#ea927c" />
<rect x="453.35" y="319.95" width="6.25" height="6.25" fill="#f2b6a6" />
<line x1="309.6" y1="276.2" x2="459.6" y2="276.2" stroke="#333" stroke-width="0.45" />
<line x1="309.6" y1="282.45" x2="459.6" y2="282.45" stroke="#333" stroke-width="0.45" />
<line x1="309.6" y1="288.7" x2="459.6" y2="288.7" stroke="#333" stroke-width="0.45" />
<line x1="309.6" y1="294.95" x2="459.6" y2="294.95" stroke="#333" stroke-width="0.45" />
<line x1="309.6" y1="301.2" x2="459.6" y2="301.2" stroke="#333" stroke-width="0.45" />
<line x1="309.6" y1="307.45" x2="459.6" y2="307.45" stroke="#333" stroke-width="0.45" />
<line x1="309.6" y1="313.7" x2="459.6" y2="313.7" stroke="#333" stroke-width="0.45" />
<line x1="309.6" y1="319.95" x2="459.6" y2="319.95" stroke="#333" stroke-width="0.45" />
<line x1="309.6" y1="326.2" x2="459.6" y2="326.2" stroke="#333" stroke-width="0.45" />
<line x1="309.6" y1="276.2" x2="309.6" y2="326.2" stroke="#333" stroke-width="0.45" />
<line x1="315.85" y1="276.2" x2="315.85" y2="326.2" stroke="#333" stroke-width="0.45" />
<line x1="322.1" y1="276.2" x2="322.1" y2="326.2" stroke="#333" stroke-width="0.45" />
<line x1="328.35" y1="276.2" x2="328.35" y2="326.2" stroke="#333" stroke-width="0.45" />
<line x1="334.6" y1="276.2" x2="334.6" y2="326.2" stroke="#333" stroke-width="0.45" />
<line x1="340.85" y1="276.2" x2="340.85" y2="326.2" stroke="#333" stroke-width="0.45" />
<line x1="347.1" y1="276.2" x2="347.1" y2="326.2" stroke="#333" stroke-width="0.45" />
<line x1="353.35" y1="276.2" x2="353.35" y2="326.2" stroke="#333" stroke-width="0.45" />
<line x1="359.6" y1="276.2" x2="359.6" y2="326.2" stroke="#333" stroke-width="0.45" />
<line x1="365.85" y1="276.2" x2="365.85" y2="326.2" stroke="#333" stroke-width="0.45" />
<line x1="372.1" y1="276.2" x2="372.1" y2="326.2" stroke="#333" stroke-width="0.45" />
<line x1="378.35" y1="276.2" x2="378.35" y2="326.2" stroke="#333" stroke-width="0.45" />
<line x1="384.6" y1="276.2" x2="384.6" y2="326.2" stroke="#333" stroke-width="0.45" />
<line x1="390.85" y1="276.2" x2="390.85" y2="326.2" stroke="#333" stroke-width="0.45" />
<line x1="397.1" y1="276.2" x2="397.1" y2="326.2" stroke="#333" stroke-width="0.45" />
<line x1="403.35" y1="276.2" x2="403.35" y2="326.2" stroke="#333" stroke-width="0.45" />
<line x1="409.6" y1="276.2" x2="409.6" y2="326.2" stroke="#333" stroke-width="0.45" />
<line x1="415.85" y1="276.2" x2="415.85" y2="326.2" stroke="#333" stroke-width="0.45" />
<line x1="422.1" y1="276.2" x2="422.1" y2="326.2" stroke="#333" stroke-width="0.45" />
<line x1="428.35" y1="276.2" x2="428.35" y2="326.2" stroke="#333" stroke-width="0.45" />
<line x1="434.6" y1="276.2" x2="434.6" y2="326.2" stroke="#333" stroke-width="0.45" />
<line x1="440.85" y1="276.2" x2="440.85" y2="326.2" stroke="#333" stroke-width="0.45" />
<line x1="447.1" y1="276.2" x2="447.1" y2="326.2" stroke="#333" stroke-width="0.45" />
<line x1="453.35" y1="276.2" x2="453.35" y2="326.2" stroke="#333" stroke-width="0.45" />
<line x1="459.6" y1="276.2" x2="459.6" y2="326.2" stroke="#333" stroke-width="0.45" />
<line x1="308.2" y1="279.32" x2="309.6" y2="279.32" stroke="#444" stroke-width="0.4" />
<text x="307.4" y="280.93" font-size="4.6" fill="#333" stroke="#333" stroke-width="0.16" text-anchor="end"><tspan>P14 T</tspan><tspan dy="1.15" font-size="2.85">RM</tspan><tspan dy="-1.15"> (SG)</tspan></text>
<line x1="308.2" y1="285.57" x2="309.6" y2="285.57" stroke="#444" stroke-width="0.4" />
<text x="307.4" y="287.18" font-size="4.6" fill="#333" stroke="#333" stroke-width="0.16" text-anchor="end"><tspan>P14 T</tspan><tspan dy="1.15" font-size="2.85">BYS</tspan><tspan dy="-1.15"> (tumor)</tspan></text>
<line x1="308.2" y1="291.82" x2="309.6" y2="291.82" stroke="#444" stroke-width="0.4" />
<text x="307.4" y="293.43" font-size="4.6" fill="#333" stroke="#333" stroke-width="0.16" text-anchor="end"><tspan>P14 T</tspan><tspan dy="1.15" font-size="2.85">RM</tspan><tspan dy="-1.15"> (liver)</tspan></text>
<line x1="308.2" y1="298.07" x2="309.6" y2="298.07" stroke="#444" stroke-width="0.4" />
<text x="307.4" y="299.68" font-size="4.6" fill="#333" stroke="#333" stroke-width="0.16" text-anchor="end"><tspan>P14 T</tspan><tspan dy="1.15" font-size="2.85">RM</tspan><tspan dy="-1.15"> (kidney)</tspan></text>
<line x1="308.2" y1="304.32" x2="309.6" y2="304.32" stroke="#444" stroke-width="0.4" />
<text x="307.4" y="305.93" font-size="4.6" fill="#333" stroke="#333" stroke-width="0.16" text-anchor="end"><tspan>P14 T</tspan><tspan dy="1.15" font-size="2.85">RM</tspan><tspan dy="-1.15"> (siIEL)</tspan></text>
<line x1="308.2" y1="310.57" x2="309.6" y2="310.57" stroke="#444" stroke-width="0.4" />
<text x="307.4" y="312.18" font-size="4.6" fill="#333" stroke="#333" stroke-width="0.16" text-anchor="end"><tspan>P14 T</tspan><tspan dy="1.15" font-size="2.85">MEM</tspan><tspan dy="-1.15"> (D60)</tspan></text>
<line x1="308.2" y1="316.82" x2="309.6" y2="316.82" stroke="#444" stroke-width="0.4" />
<text x="307.4" y="318.43" font-size="4.6" fill="#333" stroke="#333" stroke-width="0.16" text-anchor="end"><tspan>P14 T</tspan><tspan dy="1.15" font-size="2.85">MEM</tspan><tspan dy="-1.15"> (D32)</tspan></text>
<line x1="308.2" y1="323.07" x2="309.6" y2="323.07" stroke="#444" stroke-width="0.4" />
<text x="307.4" y="324.68" font-size="4.6" fill="#333" stroke="#333" stroke-width="0.16" text-anchor="end"><tspan>P14 T</tspan><tspan dy="1.15" font-size="2.85">MEM</tspan><tspan dy="-1.15"> (D90)</tspan></text>
<line x1="312.73" y1="326.2" x2="312.73" y2="327.6" stroke="#444" stroke-width="0.4" />
<text x="314.23" y="328.8" font-size="4.4" fill="#333" stroke="#333" stroke-width="0.16" text-anchor="end" transform="rotate(-90 314.23 328.8)">Itm</text>
<line x1="318.98" y1="326.2" x2="318.98" y2="327.6" stroke="#444" stroke-width="0.4" />
<text x="320.48" y="328.8" font-size="4.4" fill="#333" stroke="#333" stroke-width="0.16" text-anchor="end" transform="rotate(-90 320.48 328.8)">Ltb4r</text>
<line x1="325.23" y1="326.2" x2="325.23" y2="327.6" stroke="#444" stroke-width="0.4" />
<text x="326.73" y="328.8" font-size="4.4" fill="#333" stroke="#333" stroke-width="0.16" text-anchor="end" transform="rotate(-90 326.73 328.8)">Cxcr6</text>
<line x1="331.48" y1="326.2" x2="331.48" y2="327.6" stroke="#444" stroke-width="0.4" />
<text x="332.98" y="328.8" font-size="4.4" fill="#333" stroke="#333" stroke-width="0.16" text-anchor="end" transform="rotate(-90 332.98 328.8)">Itgb1</text>
<line x1="337.73" y1="326.2" x2="337.73" y2="327.6" stroke="#444" stroke-width="0.4" />
<text x="339.23" y="328.8" font-size="4.4" fill="#333" stroke="#333" stroke-width="0.16" text-anchor="end" transform="rotate(-90 339.23 328.8)">Sell</text>
<line x1="343.98" y1="326.2" x2="343.98" y2="327.6" stroke="#444" stroke-width="0.4" />
<text x="345.48" y="328.8" font-size="4.4" fill="#333" stroke="#333" stroke-width="0.16" text-anchor="end" transform="rotate(-90 345.48 328.8)">Il18r1</text>
<line x1="350.23" y1="326.2" x2="350.23" y2="327.6" stroke="#444" stroke-width="0.4" />
<text x="351.73" y="328.8" font-size="4.4" fill="#333" stroke="#333" stroke-width="0.16" text-anchor="end" transform="rotate(-90 351.73 328.8)">Klrg1</text>
<line x1="356.48" y1="326.2" x2="356.48" y2="327.6" stroke="#444" stroke-width="0.4" />
<text x="357.98" y="328.8" font-size="4.4" fill="#333" stroke="#333" stroke-width="0.16" text-anchor="end" transform="rotate(-90 357.98 328.8)">Tcf7</text>
<line x1="362.73" y1="326.2" x2="362.73" y2="327.6" stroke="#444" stroke-width="0.4" />
<text x="364.23" y="328.8" font-size="4.4" fill="#333" stroke="#333" stroke-width="0.16" text-anchor="end" transform="rotate(-90 364.23 328.8)">Gzmb</text>
<line x1="368.98" y1="326.2" x2="368.98" y2="327.6" stroke="#444" stroke-width="0.4" />
<text x="370.48" y="328.8" font-size="4.4" fill="#333" stroke="#333" stroke-width="0.16" text-anchor="end" transform="rotate(-90 370.48 328.8)">Id2</text>
<line x1="375.23" y1="326.2" x2="375.23" y2="327.6" stroke="#444" stroke-width="0.4" />
<text x="376.73" y="328.8" font-size="4.4" fill="#333" stroke="#333" stroke-width="0.16" text-anchor="end" transform="rotate(-90 376.73 328.8)">Fos</text>
<line x1="381.48" y1="326.2" x2="381.48" y2="327.6" stroke="#444" stroke-width="0.4" />
<text x="382.98" y="328.8" font-size="4.4" fill="#333" stroke="#333" stroke-width="0.16" text-anchor="end" transform="rotate(-90 382.98 328.8)">Jun</text>
<line x1="387.73" y1="326.2" x2="387.73" y2="327.6" stroke="#444" stroke-width="0.4" />
<text x="389.23" y="328.8" font-size="4.4" fill="#333" stroke="#333" stroke-width="0.16" text-anchor="end" transform="rotate(-90 389.23 328.8)">Ahnak</text>
<line x1="393.98" y1="326.2" x2="393.98" y2="327.6" stroke="#444" stroke-width="0.4" />
<text x="395.48" y="328.8" font-size="4.4" fill="#333" stroke="#333" stroke-width="0.16" text-anchor="end" transform="rotate(-90 395.48 328.8)">Pdcd1</text>
<line x1="400.23" y1="326.2" x2="400.23" y2="327.6" stroke="#444" stroke-width="0.4" />
<text x="401.73" y="328.8" font-size="4.4" fill="#333" stroke="#333" stroke-width="0.16" text-anchor="end" transform="rotate(-90 401.73 328.8)">Itgae</text>
<line x1="406.48" y1="326.2" x2="406.48" y2="327.6" stroke="#444" stroke-width="0.4" />
<text x="407.98" y="328.8" font-size="4.4" fill="#333" stroke="#333" stroke-width="0.16" text-anchor="end" transform="rotate(-90 407.98 328.8)">Ptpn1</text>
<line x1="412.73" y1="326.2" x2="412.73" y2="327.6" stroke="#444" stroke-width="0.4" />
<text x="414.23" y="328.8" font-size="4.4" fill="#333" stroke="#333" stroke-width="0.16" text-anchor="end" transform="rotate(-90 414.23 328.8)">Egr2</text>
<line x1="418.98" y1="326.2" x2="418.98" y2="327.6" stroke="#444" stroke-width="0.4" />
<text x="420.48" y="328.8" font-size="4.4" fill="#333" stroke="#333" stroke-width="0.16" text-anchor="end" transform="rotate(-90 420.48 328.8)">Ifng</text>
<line x1="425.23" y1="326.2" x2="425.23" y2="327.6" stroke="#444" stroke-width="0.4" />
<text x="426.73" y="328.8" font-size="4.4" fill="#333" stroke="#333" stroke-width="0.16" text-anchor="end" transform="rotate(-90 426.73 328.8)">Il10</text>
<line x1="431.48" y1="326.2" x2="431.48" y2="327.6" stroke="#444" stroke-width="0.4" />
<text x="432.98" y="328.8" font-size="4.4" fill="#333" stroke="#333" stroke-width="0.16" text-anchor="end" transform="rotate(-90 432.98 328.8)">Nr4a1</text>
<line x1="437.73" y1="326.2" x2="437.73" y2="327.6" stroke="#444" stroke-width="0.4" />
<text x="439.23" y="328.8" font-size="4.4" fill="#333" stroke="#333" stroke-width="0.16" text-anchor="end" transform="rotate(-90 439.23 328.8)">Ccl3</text>
<line x1="443.98" y1="326.2" x2="443.98" y2="327.6" stroke="#444" stroke-width="0.4" />
<text x="445.48" y="328.8" font-size="4.4" fill="#333" stroke="#333" stroke-width="0.16" text-anchor="end" transform="rotate(-90 445.48 328.8)">Ccl4</text>
<line x1="450.23" y1="326.2" x2="450.23" y2="327.6" stroke="#444" stroke-width="0.4" />
<text x="451.73" y="328.8" font-size="4.4" fill="#333" stroke="#333" stroke-width="0.16" text-anchor="end" transform="rotate(-90 451.73 328.8)">Cd69</text>
<line x1="456.48" y1="326.2" x2="456.48" y2="327.6" stroke="#444" stroke-width="0.4" />
<text x="457.98" y="328.8" font-size="4.4" fill="#333" stroke="#333" stroke-width="0.16" text-anchor="end" transform="rotate(-90 457.98 328.8)">Tnf</text>
<path d="M312.73 276.2V274H318.98V276.2M325.23 276.2V273.6H331.48V276.2M315.85 274V271.2H328.35V273.6M337.73 276.2V274.4H343.98V276.2M350.23 276.2V273.4H356.48V276.2M340.85 274.4V272.2H353.35V273.4M362.73 276.2V273.8H368.98V276.2M375.23 276.2V274.4H381.48V276.2M365.85 273.8V271.6H378.35V274.4M347.1 272.2V269.6H372.1V271.6M322.1 271.2V267H359.6V269.6M387.73 276.2V274.2H393.98V276.2M400.23 276.2V273.2H406.48V276.2M390.85 274.2V270.8H403.35V273.2M412.73 276.2V274H418.98V276.2M425.23 276.2V274.6H431.48V276.2M415.85 274V272.6H428.35V274.6M437.73 276.2V273.8H443.98V276.2M450.23 276.2V274.2H456.48V276.2M440.85 273.8V272H453.35V274.2M422.1 272.6V270.2H447.1V272M397.1 270.8V267.8H434.6V270.2M339.1 267V265.2H422.1V267.8" fill="none" stroke="#444" stroke-width="0.45" />
<path d="M459.6 279.32H461.8V285.57H459.6M459.6 291.82H462.2V298.07H459.6M461.8 282.45H464V294.95H462.2M464 288.7H465.8V304.32H459.6M459.6 310.57H461.6V316.82H459.6M461.6 313.7H463V323.07H459.6M465.8 296.51H466.8V318.39H463" fill="none" stroke="#444" stroke-width="0.45" />
<rect x="480" y="286.6" width="4.6" height="34.4" fill="url(#cbr)" stroke="#999" stroke-width="0.3" />
<line x1="480" y1="286.8" x2="481" y2="286.8" stroke="#555" stroke-width="0.3" />
<line x1="483.6" y1="286.8" x2="484.6" y2="286.8" stroke="#555" stroke-width="0.3" />
<text x="486.4" y="288.5" font-size="5" fill="#333" stroke="#333" stroke-width="0.16">0</text>
<line x1="480" y1="295.3" x2="481" y2="295.3" stroke="#555" stroke-width="0.3" />
<line x1="483.6" y1="295.3" x2="484.6" y2="295.3" stroke="#555" stroke-width="0.3" />
<text x="486.4" y="297" font-size="5" fill="#333" stroke="#333" stroke-width="0.16">0.25</text>
<line x1="480" y1="303.8" x2="481" y2="303.8" stroke="#555" stroke-width="0.3" />
<line x1="483.6" y1="303.8" x2="484.6" y2="303.8" stroke="#555" stroke-width="0.3" />
<text x="486.4" y="305.5" font-size="5" fill="#333" stroke="#333" stroke-width="0.16">0.50</text>
<line x1="480" y1="312.3" x2="481" y2="312.3" stroke="#555" stroke-width="0.3" />
<line x1="483.6" y1="312.3" x2="484.6" y2="312.3" stroke="#555" stroke-width="0.3" />
<text x="486.4" y="314" font-size="5" fill="#333" stroke="#333" stroke-width="0.16">0.75</text>
<line x1="480" y1="320.8" x2="481" y2="320.8" stroke="#555" stroke-width="0.3" />
<line x1="483.6" y1="320.8" x2="484.6" y2="320.8" stroke="#555" stroke-width="0.3" />
<text x="486.4" y="322.5" font-size="5" fill="#333" stroke="#333" stroke-width="0.16">1.00</text>
<text x="477.8" y="303.8" font-size="5" fill="#333" stroke="#333" stroke-width="0.16" text-anchor="middle" transform="rotate(-90 477.8 303.8)">Mean expression</text>
<text x="-0.4" y="364.6" font-size="10.5" fill="#000" font-weight="bold">h</text>
<circle cx="57" cy="374.4" r="2.6" fill="#e8c21e" />
<text x="62.2" y="377" font-size="6.8" fill="#333" stroke="#333" stroke-width="0.16"><tspan>SM T</tspan><tspan dy="1.7" font-size="4.22">BYS</tspan></text>
<circle cx="100" cy="374.4" r="2.6" fill="#3a9db6" />
<text x="105.2" y="377" font-size="6.8" fill="#333" stroke="#333" stroke-width="0.16"><tspan>SM T</tspan><tspan dy="1.7" font-size="4.22">MEM</tspan></text>
<line x1="21.6" y1="385" x2="21.6" y2="459.2" stroke="#444" stroke-width="0.6" />
<line x1="21.6" y1="459.2" x2="97.4" y2="459.2" stroke="#444" stroke-width="0.6" />
<line x1="99.6" y1="459.2" x2="175" y2="459.2" stroke="#444" stroke-width="0.6" />
<line x1="20.2" y1="386.5" x2="21.6" y2="386.5" stroke="#444" stroke-width="0.5" />
<text x="18.6" y="388.7" font-size="6.2" fill="#333" stroke="#333" stroke-width="0.16" text-anchor="end">6</text>
<line x1="20.2" y1="404.5" x2="21.6" y2="404.5" stroke="#444" stroke-width="0.5" />
<text x="18.6" y="406.7" font-size="6.2" fill="#333" stroke="#333" stroke-width="0.16" text-anchor="end">3</text>
<line x1="20.2" y1="422.5" x2="21.6" y2="422.5" stroke="#444" stroke-width="0.5" />
<text x="18.6" y="424.7" font-size="6.2" fill="#333" stroke="#333" stroke-width="0.16" text-anchor="end">0</text>
<line x1="20.2" y1="440.5" x2="21.6" y2="440.5" stroke="#444" stroke-width="0.5" />
<text x="18.6" y="442.7" font-size="6.2" fill="#333" stroke="#333" stroke-width="0.16" text-anchor="end">−3</text>
<line x1="20.2" y1="458.5" x2="21.6" y2="458.5" stroke="#444" stroke-width="0.5" />
<text x="18.6" y="460.7" font-size="6.2" fill="#333" stroke="#333" stroke-width="0.16" text-anchor="end">−6</text>
<line x1="42.5" y1="459.2" x2="42.5" y2="460.6" stroke="#444" stroke-width="0.5" />
<text x="42.5" y="468" font-size="6.2" fill="#333" stroke="#333" stroke-width="0.16" text-anchor="middle">−5</text>
<line x1="68.75" y1="459.2" x2="68.75" y2="460.6" stroke="#444" stroke-width="0.5" />
<text x="68.75" y="468" font-size="6.2" fill="#333" stroke="#333" stroke-width="0.16" text-anchor="middle">0</text>
<line x1="95" y1="459.2" x2="95" y2="460.6" stroke="#444" stroke-width="0.5" />
<text x="95" y="468" font-size="6.2" fill="#333" stroke="#333" stroke-width="0.16" text-anchor="middle">5</text>
<line x1="120.1" y1="459.2" x2="120.1" y2="460.6" stroke="#444" stroke-width="0.5" />
<text x="120.1" y="468" font-size="6.2" fill="#333" stroke="#333" stroke-width="0.16" text-anchor="middle">−5</text>
<line x1="146.35" y1="459.2" x2="146.35" y2="460.6" stroke="#444" stroke-width="0.5" />
<text x="146.35" y="468" font-size="6.2" fill="#333" stroke="#333" stroke-width="0.16" text-anchor="middle">0</text>
<line x1="172.6" y1="459.2" x2="172.6" y2="460.6" stroke="#444" stroke-width="0.5" />
<text x="172.6" y="468" font-size="6.2" fill="#333" stroke="#333" stroke-width="0.16" text-anchor="middle">5</text>
<text x="98" y="478.6" font-size="6.8" fill="#333" stroke="#333" stroke-width="0.16" text-anchor="middle">UMAP 1</text>
<text x="6.4" y="421.6" font-size="6.6" fill="#333" stroke="#333" stroke-width="0.16" text-anchor="middle" transform="rotate(-90 6.4 421.6)">UMAP 2</text>
<path d="M24.4 420C24.42 419.07 24.9 417.97 25.5 417.4C26.1 416.83 26.92 416.7 28 416.6C29.08 416.5 30.75 416.5 32 416.8C33.25 417.1 34.17 418.03 35.5 418.4C36.83 418.77 38.58 418.93 40 419C41.42 419.07 42.83 418.97 44 418.8C45.17 418.63 46.17 418.47 47 418C47.83 417.53 48.6 417.33 49 416C49.4 414.67 49.47 412 49.4 410C49.33 408 48.57 405.9 48.6 404C48.63 402.1 48.97 399.93 49.6 398.6C50.23 397.27 51.33 396.67 52.4 396C53.47 395.33 54.4 394.83 56 394.6C57.6 394.37 60.33 394.5 62 394.6C63.67 394.7 65.13 395.63 66 395.2C66.87 394.77 66.8 393.3 67.2 392C67.6 390.7 68 387.57 68.4 387.4C68.8 387.23 69.3 389.57 69.6 391C69.9 392.43 69.63 394.87 70.2 396C70.77 397.13 71.7 397.6 73 397.8C74.3 398 76.33 397.27 78 397.2C79.67 397.13 81.73 397.1 83 397.4C84.27 397.7 85.1 398.27 85.6 399C86.1 399.73 86.07 400.93 86 401.8C85.93 402.67 85 403.47 85.2 404.2C85.4 404.93 86.37 405.43 87.2 406.2C88.03 406.97 89.27 407.67 90.2 408.8C91.13 409.93 92.13 411.47 92.8 413C93.47 414.53 94.03 416.33 94.2 418C94.37 419.67 94.27 420.63 93.8 423C93.33 425.37 92.12 429.37 91.4 432.2C90.68 435.03 90.13 437.95 89.5 440C88.87 442.05 88.52 442.83 87.6 444.5C86.68 446.17 85.18 448.48 84 450C82.82 451.52 81.45 452.7 80.5 453.6C79.55 454.5 79.22 455.3 78.3 455.4C77.38 455.5 76.38 454.73 75 454.2C73.62 453.67 71.5 452.8 70 452.2C68.5 451.6 67.33 451.47 66 450.6C64.67 449.73 63.13 448.53 62 447C60.87 445.47 59.9 443.23 59.2 441.4C58.5 439.57 58.07 437.78 57.8 436C57.53 434.22 58.07 432.2 57.6 430.7C57.13 429.2 56.27 428.05 55 427C53.73 425.95 51.67 425.1 50 424.4C48.33 423.7 46.67 423.1 45 422.8C43.33 422.5 41.58 422.57 40 422.6C38.42 422.63 36.83 422.77 35.5 423C34.17 423.23 33.25 423.77 32 424C30.75 424.23 29.1 424.57 28 424.4C26.9 424.23 26 423.73 25.4 423C24.8 422.27 24.38 420.93 24.4 420Z" fill="#c9c9c9" />
<g clip-path="url(#hc1)">
<path d="M20 410C24.5 404 40.33 395.33 47 392C53.67 388.67 56.17 391 60 390C63.83 389 67 385.33 70 386C73 386.67 75.33 392.33 78 394C80.67 395.67 84.5 394.33 86 396C87.5 397.67 88 402.33 87 404C86 405.67 81.5 404.67 80 406C78.5 407.33 78 410 78 412C78 414 79 416 80 418C81 420 83.17 421.67 84 424C84.83 426.33 85.17 429.67 85 432C84.83 434.33 84.17 436.67 83 438C81.83 439.33 79.5 440.67 78 440C76.5 439.33 75.33 436 74 434C72.67 432 71.67 428.9 70 428C68.33 427.1 66 428.6 64 428.6C62 428.6 59.5 428.27 58 428C56.5 427.73 56.47 427.27 55 427C53.53 426.73 55.03 426.23 49.2 426.4C43.37 426.57 24.87 430.73 20 428C15.13 425.27 15.5 416 20 410Z" fill="#e8c21e" />
<path d="M68.5 389.6h0m.5.7h0m-6.7 4.4h0m3.2 1.1h0m2.5-.2h0m-10.5 3.3h0m.2-.6h0m0-2.2h0m2.5-.1h0m1.1.2h0m.6 1.7h0m1.3.2h0m2.6.1h0m.2-1.1h0m.2-1h0m1 1.4h0m.1.6h0m2.2-1.1h0m5.4.7h0m.6.6h0m1.1 0h0m1.1.4h0m-26.5 2.8h0m.7-2.2h0m.2.5h0m.6 1.6h0m1.5-2.2h0m3.5 2.6h0m1.5-.9h0m2.6-.2h0m2.9.6h0m4.1-.2h0m2.1-.5h0m1.1-1.3h0m.9.2h0m3.7.1h0m.5.1h0m.2 1.3h0m2-1.7h0m.7 1.5h0m.7-.9h0m3.9.5h0m-35.4 2.8h0m1.3-.9h0m1.2 1.9h0m1.3-1.7h0m2.6 1.5h0m.3-.7h0m3.5.9h0m.5-1.9h0m3.2 1.9h0m1.6-1.6h0m.1.6h0m3.6 1.4h0m.7-1.4h0m3 1.1h0m0-1.3h0m.9-.2h0m1.8.5h0m1.1-.2h0m1 1.4h0m.2-2h0m4 2.3h0m4.4-2.4h0m-35.8 3.8h0m.6.1h0m.8.7h0m4.8-.3h0m1 .5h0m.6-1.2h0m3.1 0h0m2.6 1.5h0m.6-1.7h0m1.6-.7h0m3.8 1.9h0m.7-.2h0m5.8.3h0m.4.7h0m.4-1.3h0m.4-.3h0m-21.7 4.6h0m.4-2.4h0m0 1.8h0m.3-1h0m.5 1.3h0m.9.4h0m.2-.4h0m.3-1.8h0m.5-.2h0m2.2.7h0m0-1h0m1.6 0h0m.5 1.1h0m3.2-.2h0m.5.1h0m1.6-1h0m4.2 1.8h0m.2.8h0m.1-.7h0m3.2-1.8h0m2.4 0h0m.8-.2h0m-25.2 4.1h0m2-1.1h0m1.1.1h0m1.2.6h0m1.1.4h0m.3-1.2h0m1.5.5h0m.3 1h0m4.1.9h0m.7-1.7h0m.2.6h0m2.6 1.4h0m.3-2.2h0m.5 2.2h0m1.3-1.7h0m1.2 1.4h0m.4-.6h0m1.8-1.3h0m-24.6 2.8h0m1.5-.1h0m.5.6h0m1.3 2h0m.9-1.7h0m1.9-1h0m1.2.4h0m1 1h0m4.6 1h0m.3-.9h0m6.1-1.6h0m.5 1.3h0m4.1-.8h0m.1 1.1h0m.6 0h0m1.8.8h0m1.1-1.3h0m-49 2.6h0m.3 1h0m3.3-1.1h0m.1.2h0m.3-.3h0m.1 2.1h0m2.2.3h0m8-.7h0m1.8.3h0m4.4-.8h0m1.1.7h0m1.6-2h0m4.3 1.1h0m.5 1.1h0m3.4-2.4h0m.1 1.6h0m1.2-1.6h0m.2.4h0m.4.3h0m1.7.6h0m.1-.5h0m1.3-.2h0m.5.3h0m.2 1h0m1.7-1.2h0m4.5-.8h0m.2 2.5h0m.6-1.1h0m.5.1h0m6.5-.9h0m-52.4 3.8h0m1.8.7h0m.7-.3h0m5.7 1h0m.7-.2h0m2.3-.2h0m1.1-.4h0m.2-.1h0m3.1-.7h0m1.8.9h0m1.8-.1h0m3.7-.4h0m1.7 1h0m1.3-2.3h0m.5-.3h0m.3.9h0m.7 1.2h0m2.2-2h0m1.5.3h0m.2.3h0m4.5.5h0m1.4.5h0m.2.1h0m3.2.6h0m.8-.8h0m.7 1h0m2-.8h0m.8 0h0m.9-1.9h0m.4 2.1h0m.4-1.3h0m1.2 2h0m2-1.6h0m1.2 1.3h0m3.1.1h0m.1-.8h0m.4.2h0m-48.2 1.3h0m14.2-.2h0m3.9 1.8h0m1.8.1h0m1.2.4h0m.4-.9h0m.6-.2h0m8.4-.3h0m1.5 1.4h0m0 .2h0m.3-2.4h0m.8 1.4h0m.9-1.5h0m.4 2.7h0m.7-2.3h0m3.1-.4h0m.1 1.9h0m1-1.1h0m8.1 1.2h0m-25 1.1h0m5 .2h0m1.3 1.7h0m0-1.3h0m.1.6h0m5.8-1.4h0m3.2 2.7h0m.5-1.5h0m3.6-.2h0m4.8 1.3h0m3.1-1.5h0m1 .4h0m.1 1h0m0 .7h0m.4-.5h0m-12.8 1h0m3.2-.3h0m2.2 1.9h0m.3-2h0m.8 1.5h0m3.7-1.5h0m.4.2h0m1.5.4h0m.6 1.7h0m-10.7 1.5h0m.9 1.2h0m1.1-.6h0m1-.3h0m.2-.4h0m1 .3h0m1.7 0h0m2.4-.5h0m-3.5 5.3h0m3-.9h0m-3.6 2.8h0m2.8-1.5h0m.2.1h0" stroke="#d8d0b0" stroke-width="0.8" stroke-linecap="square" stroke-opacity="0.9"/>
<path d="M80.7 407.6h0m1.1-1.9h0m.8.5h0m.3.8h0m.6.3h0m2.7-.6h0m-6.7 1.9h0m1.2 1h0m0 .2h0m3.2-.9h0m.6-.9h0m1.7 2.1h0m.2-.3h0m1.6-1.5h0m0 .4h0m.4 1.9h0m.2-1.8h0m.6 1.2h0m.8-.2h0m.3.5h0m-10.6 1.4h0m.3-.3h0m.3-.4h0m.6 1.7h0m.2-.7h0m1-.5h0m1 1h0m1.9 1.3h0m1.4-.5h0m.2-.7h0m.3-.4h0m.9.6h0m.9-.8h0m2.1-.5h0m.9-.1h0m-11.5 5.1h0m.3 0h0m.1-.7h0m.8-.8h0m1.7.2h0m.7-.5h0m1.9.2h0m.8.9h0m.5.6h0m.6-.3h0m.4.4h0m1.9-1.5h0m.8 1.6h0m.9.1h0m.6-1.2h0m1.4.6h0m-11.8 1.8h0m.4-.9h0m.9 1.2h0m1.9.9h0m.4.1h0m.1-1.9h0m.2 1.7h0m0 .4h0m1-1.5h0m2.3-.2h0m.2 1.3h0m2.8-.6h0m1 1.4h0m-9.6 2.5h0m.4-1.3h0m1.4.2h0m.6-.3h0m1.8.6h0m.9-1h0m.7.8h0m.8.1h0m.5.2h0m.5-.1h0m.2-.1h0m1.1-.6h0m.2-.3h0m.2.3h0m.2 1h0m-6.9 1.3h0m1.2 1.6h0m.3-.5h0m.1.3h0m.1-1.1h0m.6.7h0m.7.2h0m.3.6h0m1-.9h0m.2 1.9h0m.5-.7h0m.1-.8h0m.8-1.1h0m.8 1.1h0m-28.9 4.3h0m20.6-1.9h0m0-.2h0m1 2h0m.7-.1h0m.3-1.4h0m.1.2h0m0-.8h0m1.5 1.2h0m.4.4h0m.1-1.3h0m.4 1.6h0m0-2.1h0m.9-.1h0m1 1.4h0m0 1h0m1.6-1.8h0m0-.5h0m-32.7 5.2h0m.4-2h0m.2-.3h0m.2 1.6h0m.8-1.8h0m1 0h0m1.4.7h0m1.2-.3h0m1.7 1.4h0m.2-.8h0m.3 1.6h0m.8-2.4h0m.1 1.4h0m.2.7h0m.1-1.3h0m1.8 1.4h0m1.7.3h0m.1-.2h0m13.7-1h0m1.3-1h0m.1 1.1h0m.1-.7h0m1.4-.5h0m0 1.5h0m.5-.9h0m1.7.4h0m.5-.2h0m-33.1 1.9h0m.4 2.4h0m3.5-.7h0m.2-1.5h0m.4 2.2h0m.7-1.6h0m.3 1.6h0m.6-1.9h0m.6 1.1h0m.7.6h0m1.1.6h0m.7 0h0m.5-2.4h0m1 .5h0m.2-.9h0m1.5 2.6h0m1-.3h0m2.9.2h0m11.1-2.3h0m1.4 1h0m3-1.3h0m.5.8h0m-32.3 3.5h0m3.7-.7h0m.3.7h0m1.9-.2h0m.2 1.3h0m.3.1h0m.5-.3h0m1-1.2h0m0-.5h0m.9.6h0m.1-.1h0m.1 0h0m.3-.3h0m.3.8h0m.7.1h0m.3-.8h0m1.3 1.4h0m.1-.6h0m.1-1.5h0m.3 1.4h0m.2.5h0m1-2h0m.3 2.4h0m2.4-.1h0m9.1-.4h0m.8-.3h0m.8-.2h0m2.6-.1h0m.1-1h0m.9.9h0m.4-.2h0m0 .4h0m-30.1 3.3h0m.1 1.1h0m.8-1.5h0m1 .3h0m1.9 1.2h0m.3-.8h0m3.7-1.2h0m1.8.8h0m1.6.8h0m3.1-1.8h0m1.1 1.2h0m1.1-.3h0m.9-.5h0m1 1.4h0m.2-.8h0m3.4.5h0m.9-.1h0m1.5-.6h0m.3-.7h0m.9-.3h0m.8.9h0m1.6 1.4h0m.5-.5h0m.1-.5h0m.4 1h0m.5-2.7h0m.1.9h0m.2.9h0m.1-.5h0m.4-1h0m-29.1 4.4h0m.1-.1h0m2 1h0m.5-.6h0m1.8-1.3h0m.6 2h0m.4-2.2h0m.7 2.1h0m.2 0h0m2-1.9h0m1.8 1.6h0m1.9-1.7h0m.1.6h0m1.8-.5h0m.3 1.2h0m.5.8h0m.8-1.3h0m.6.8h0m.5.6h0m.2-1.6h0m.2-.9h0m.2 1.8h0m.3-1.7h0m.1.1h0m.7 0h0m1 .9h0m.8-.9h0m.9.9h0m.2-.6h0m.8.1h0m1 1.5h0m.7-.4h0m1.6.5h0m0-.6h0m3.1-.8h0m-26.2 3.4h0m1.3-.2h0m.2-.8h0m.1-.2h0m.2 0h0m1.6.3h0m.3-.4h0m.9.4h0m.2 2.3h0m.4-.1h0m1.4-1.3h0m.7 0h0m.6-.9h0m.8 1.9h0m1.5-1.4h0m2.2-.5h0m2.1.6h0m1-.6h0m1.9 1.7h0m1.3-1h0m.1 1.6h0m.1-1.7h0m.1.9h0m2.7.1h0m1.7-1.2h0m.2 1.3h0m0-.7h0m-21.1 2.3h0m.2-.1h0m1.1.4h0m1.3 1.3h0m.3-1.5h0m.3.9h0m0 .8h0m1.3-1.6h0m2.3-1h0m0 .6h0m.8 1h0m.8-.6h0m.1.5h0m2.6-.6h0m1.7-.5h0m1.4 1.3h0m.6-1.5h0m.3.4h0m.3 1.3h0m.2.9h0m.2-1.7h0m.9.3h0m.2-.9h0m.2.3h0m.4.6h0m.5.9h0m1.1-1h0m.2-1.3h0m-17.7 3.6h0m2.5 0h0m3 .6h0m.4-.9h0m.3 1.6h0m.4.8h0m.3 0h0m.7-.4h0m.7.2h0m3.3-2.5h0m.1 1.6h0m3.1-1.5h0m1.5 1h0m-5.9 3.3h0m1.5.2h0m.4-.9h0m.9-.8h0" stroke="#e8c21e" stroke-width="0.9" stroke-linecap="square" stroke-opacity="0.9"/>
<path d="M54.7 395.1h0m9.9.2h0m1.3.4h0m.8 0h0m1.2-.9h0m-17.9 3.5h0m.1.5h0m1.2-.3h0m1.7.4h0m.6-1.8h0m.4 1.2h0m1.2-1.2h0m2.2 1.6h0m.9-.9h0m.2 1.1h0m.6-2.3h0m1 .7h0m1.8 1.1h0m2.4-.6h0m.2-.2h0m4.4-.4h0m3.2 1.3h0m1.8.2h0m.8-.7h0m1.8.5h0m2.4-.3h0m-28.9.9h0m1 1.7h0m6.4-1.6h0m1.5 2.4h0m1.3-.9h0m0-.7h0m1-.4h0m2.5 1.7h0m2-.1h0m1.7.7h0m3.9-1.9h0m4.1-.3h0m1.5 0h0m1.5.6h0m1 .7h0m3.5-.4h0m.8-.6h0m1.6.2h0m-34 3.1h0m3.3-1.1h0m.2-.2h0m1.4 2.7h0m1.4-2.1h0m2.7-.3h0m.2 1.9h0m.1.4h0m1.4-.2h0m2.5-.7h0m4.8-1.3h0m.3 2.2h0m2.5-1.9h0m3.2 2.1h0m1.4-2.7h0m.5 2.2h0m1.5-1.9h0m4.7 1.9h0m.1-2.2h0m1.8.2h0m.1-.3h0m-35.2 4.1h0m2.5 1.2h0m.7-.3h0m.7-1.7h0m.7 1.5h0m1.5-1.6h0m.3 2.3h0m.9-1.8h0m.6-.3h0m3.8.8h0m1-.2h0m2.2-.6h0m1.2.6h0m.3 1.4h0m.2-.3h0m1.1-2h0m10.8 1.3h0m.2.7h0m.4.7h0m1.9-1.4h0m3.9-.4h0m1.5 1.8h0m-35.3.2h0m.2.2h0m.3.3h0m3.1.9h0m9.6 1.3h0m.5-.8h0m.3.8h0m1-.3h0m1.2-.2h0m.1.7h0m1-.9h0m4.5-.7h0m.3-1.2h0m4.4 2.1h0m2.5-1.8h0m3.4 2.5h0m1.2-2.4h0m2.7.7h0m1.7 1h0m.2-.6h0m-40 3.4h0m1.4 0h0m.2-.2h0m2.6-1.2h0m1.8 1.4h0m3.7.3h0m.1-2.3h0m.3.8h0m2.5.7h0m2.4-.6h0m2 1.8h0m0 .1h0m.1-.4h0m.3-2.3h0m1.7 1.3h0m1.7-1.4h0m1.4 2.8h0m.7-1.5h0m.9-.9h0m3.8.5h0m.8.1h0m0-.9h0m.5 2.1h0m6.5.5h0m.8-2h0m0 .5h0m2.6.2h0m1 1.3h0m1.9-.6h0m-60.3 3.7h0m25.4-2.1h0m.4 1.4h0m.9-.5h0m1.6-.9h0m2.4-.7h0m3.5.2h0m3.9 1.6h0m2.3-.9h0m1.8-.6h0m0 .1h0m1.5.8h0m.7-1.2h0m.2 1h0m.3.8h0m1.2-.4h0m1.5-.1h0m3.4.3h0m1.1-1.6h0m.6.3h0m.2 0h0m1.4 1.5h0m1.8-.2h0m2.3-1.3h0m3.9.7h0m.4 1.4h0m-67.7 2.6h0m.7-.4h0m2.1-1.2h0m.2.9h0m.9 1.1h0m1.9-2.3h0m0 1.6h0m5.1.7h0m.4-.8h0m5.1 1h0m5.7-1h0m.3-1.3h0m3.5.2h0m.4.8h0m1.6.2h0m.5.5h0m.3-1.9h0m3.1.6h0m.3-.4h0m3.4 2.2h0m2.9-1.3h0m.4.6h0m.3-.6h0m.6-.9h0m.4.9h0m1 .8h0m0 .4h0m1.8-1.3h0m.4-.2h0m2.2.1h0m.7 1.2h0m1.9-1.6h0m4.3.1h0m1.6-.4h0m0 .8h0m.4.9h0m2.8-1.8h0m.1.4h0m.9 2.2h0m3.3-2.5h0m1.1.1h0m.4.4h0m.4.2h0m0 .3h0m1.5-.3h0m2.3-.5h0m-67.2 3.9h0m3 .9h0m2.2-1.2h0m2.3.4h0m.5.6h0m3.6.2h0m3.2-.8h0m5.8 1.2h0m.3 0h0m1.9-2h0m1.4.5h0m.7 1.3h0m4 .1h0m2.2-1.5h0m1.2 1.8h0m.7-2.4h0m1.7 2.1h0m1.1-2.6h0m.6 1h0m4.7-.3h0m.3.4h0m2.1 1.8h0m2.1-2.5h0m1.8 1.4h0m7.1-1h0m.9-.8h0m3.8.4h0m2.3.7h0m1.6.5h0m.8.4h0m.1.4h0m1.2.4h0m1.1-.2h0m.9-.7h0m-46.3 1.1h0m1.4.2h0m10 .4h0m2.4.7h0m1.4 1h0m.9-1h0m2.3-.5h0m1.3-.4h0m.7.4h0m1.6.1h0m.3.6h0m.9.9h0m0-2h0m.8.5h0m.2 1.5h0m2.7-2.4h0m.6.3h0m1.6 1.2h0m1-.8h0m1.9-.5h0m1.1.7h0m2.3 1.7h0m1.2-1.8h0m.4 1.3h0m1.6-1.7h0m.5-.4h0m2.1 2.5h0m.3-1.8h0m1.7.2h0m1.9.9h0m.9-1.1h0m-35.5 5.1h0m0-.1h0m2.4 0h0m5.1-1.4h0m6.2 1.3h0m1.8-2.2h0m.5 1.4h0m.2-.7h0m.7.3h0m5.7 1.3h0m1.2-.5h0m.7-1.8h0m1.4.8h0m1.3-1.1h0m.5 1.1h0m1.5.5h0m-26.4 4.2h0m2.7-2.2h0m.3-.3h0m1.1 2.4h0m1.2-.2h0m0-1.1h0m.1-1.5h0m.3.1h0m1.2 1.7h0m1.6-.3h0m2.1-.8h0m.2-.4h0m3.4.3h0m1.8 0h0m2.1.7h0m5.7-.5h0m1.7 1.3h0m.6-1.3h0m1.5 1.9h0m.9-1.5h0m-29.1 3.2h0m.1.1h0m.3 1.1h0m5.1-2.3h0m1 .5h0m3.4 1.8h0m5.2-.7h0m3 .3h0m4-1.5h0m.2 1.5h0m1.1-1.3h0m1.1-.7h0m.8.8h0m1 0h0m3.2.7h0m1.5-.9h0m-26.3 2.2h0m.3.4h0m4.2 1.3h0m.8 1.2h0m1.2-2.4h0m1.6 1.6h0m2.8.8h0m1.8-2.5h0m1.3 1.2h0m2.1-.2h0m.6.6h0m1.3.2h0m.6-.5h0m.7.3h0m4.7.5h0m-24.4 2.3h0m1.9-1.4h0m1.2-.1h0m.2.9h0m.1.3h0m.2.5h0m.4-.2h0m.2.1h0m.7.2h0m3.2-1.1h0m.7-.4h0m2.7 1.8h0m.3-1.5h0m6.9 1.3h0m.6-.3h0m.7.1h0m0-.8h0m4.2 1h0m-27.9 1.7h0m.4 0h0m2.6.2h0m.8 1.8h0m3.3-2.3h0m1.1.6h0m.4-.2h0m2.1.4h0m.1-.5h0m2.3-.6h0m.3 1.9h0m2.4.1h0m2.1.1h0m.5-2.1h0m1.4.5h0m.7 1.3h0m3.2-2.1h0m.7 2.2h0m.4-2.1h0m-23.6 3.5h0m.2.4h0m.1-1h0m2 1.5h0m3.3.8h0m.9.2h0m1.4.2h0m.4-2.6h0m1.1 1.3h0m7.4 1.4h0m2.2-.6h0m.2 0h0m1-1.2h0m2.3.9h0m1.9.5h0m-20.3 2.9h0m.9-1h0m4.2-.7h0m2.8-.6h0m.4 1.5h0m1.6.5h0m1.3-1h0m.9 1.1h0m1.2-1.9h0m1.1 2.4h0m4.6-1.2h0m-16.2 3h0m.6-.2h0m1.1.5h0m1.6-.3h0m0 .1h0m3 .7h0m.3-1.1h0m.2.5h0m.4.8h0m.4-2.1h0m1 .8h0m.5.3h0m2.1-1.1h0m2.2.3h0m1.6-.6h0m-4.8 4.7h0m.3.2h0" stroke="#ffffff" stroke-width="0.6" stroke-linecap="square" stroke-opacity="0.75"/>
<path d="M75.6 404.6C76.27 404.03 78.5 404.03 80 404C81.5 403.97 83.37 403.73 84.6 404.4C85.83 405.07 86.73 406.4 87.4 408C88.07 409.6 88.57 412.07 88.6 414C88.63 415.93 88.37 419.1 87.6 419.6C86.83 420.1 85.43 418.33 84 417C82.57 415.67 80.33 413.2 79 411.6C77.67 410 76.57 408.57 76 407.4C75.43 406.23 74.93 405.17 75.6 404.6Z" fill="#ffffff" fill-opacity="0.85" filter="url(#blur1)"/>
<path d="M78.3 404.7h0m3.1-.5h0m-3.3 1.1h0m.2 1.7h0m.8.2h0m.7 0h0m0-.9h0m.5 1.3h0m0 .1h0m.7-1.4h0m.9-.3h0m1.7.8h0m-4.8 3.8h0m1.2.1h0m.6-1.6h0m.2 1.6h0m1.2-2.5h0m1.2 2.3h0m.9.3h0m1.5-.5h0m1.5-1.6h0m.1-.7h0m-7.5 3.5h0m1.3 2.2h0m3.5-1.5h0m1.2 2.3h0m.6 1.3h0m1.3-1.2h0m.4.1h0m-.8 2.7h0" stroke="#c8c8c8" stroke-width="0.7" stroke-linecap="square" stroke-opacity="0.9"/>
</g>
<path d="M66.5 389.6h0m.9-.8h0m1.3.1h0m.2-.8h0m.4.4h0m-.4 1.7h0m.6.5h0m.8 1h0m.2.8h0m-16.6 3.1h0m.3 0h0m.2-.6h0m.8-1.1h0m.7.8h0m1.4.2h0m.8-.7h0m1 .9h0m1.1-.4h0m1.5.5h0m.2-.7h0m1.3.9h0m1.2-1.4h0m.7 1.7h0m.4.2h0m1.5-2h0m.1-.4h0m.6-.3h0m2.1.7h0m1 1.8h0m-19.2 1.7h0m.2-.9h0m1-.2h0m17.9.6h0m.8 1.1h0m0-1.2h0m4.4.3h0m.6.6h0m.8-.3h0m.3-1.1h0m.1.9h0m.7-.5h0m.9.3h0m1 1.3h0m.3-.8h0m.4-.6h0m1.7.5h0m.1-.3h0m.1 1.4h0m-34.9 2.7h0m.4-1.6h0m.4 0h0m.6 1.5h0m.2-1.4h0m.8-.2h0m34.5.1h0m-36.1 5.1h0m.4-1.7h0m.3-.9h0m.2 0h0m35.3.1h0m.3 1.3h0m.3.2h0m-37.4 1.7h0m.5.8h0m.3-.1h0m.8-.4h0m0 1.4h0m-1 1.7h0m.6 1.5h0m-.5 1.9h0m0 1.1h0m.2-.7h0m.4-1.4h0m-21 5.2h0m2.4-1.3h0m17.3 1.1h0m.4-1.6h0m.4 2.2h0m.6-1.5h0m.2-.1h0m-25 2.7h0m.4.1h0m.1-.7h0m.1.4h0m1.1.3h0m.6-.6h0m2.8-.3h0m3.2 1.7h0m1.8-1.2h0m.8 1.5h0m.3-.7h0m1.3-.2h0m0 .9h0m.1-.4h0m.6.7h0m.2-.8h0m0-.9h0m1.3 1.6h0m.4-1.2h0m.7.6h0m.5-.2h0m1.7-.7h0m1.3-.1h0m.2.5h0m2.1-.9h0m.5.6h0m.4-.3h0m-22.7 3.2h0m.4 1.8h0m.3-1.7h0m.6 1.2h0m7.3.7h0m3.2-.2h0m2.3-.5h0m.3.1h0m.4-1.2h0m.8 1.9h0m.9-.1h0m1 0h0m.9.1h0m1.6 0h0m.9-.1h0m-20.3 1.8h0m1.8.3h0m.1-1.5h0m1.8.3h0m.4-.1h0m.1.5h0m0 .4h0m.5-1h0m1.9 1h0m1.6.1h0m2.1-1.4h0m1.7.2h0m1.1.1h0m.2-.2h0m3 1.5h0m0-1.2h0m1.2.4h0m1.3-.8h0m.2.1h0m.4.7h0m.7-.5h0m.1 1.3h0m1.8-1.5h0m.4.6h0m2.2 1h0m.2 0h0m.3-.4h0m1.4-.1h0m.1 1h0m.5-.7h0m-24 1.8h0m25.5.2h0" stroke="#e8c21e" stroke-width="0.8" stroke-linecap="square" stroke-opacity="0.9"/>
<path d="M85 404.9h0m1.2-.1h0m0-.5h0m-.1 1.9h0m.7.1h0m2.1 1.3h0m.1-2.1h0m1.8 4.9h0m1 1.8h0m.2 1h0m.6.3h0m0 1.2h0m.7-.7h0m.2 1.2h0m.9.5h0m-.6 2.9h0m0 4.3h0m0-.8h0m1.4.1h0m-41.6 4.7h0m1.2 1.9h0m2.1-.3h0m34.3.3h0m.5.1h0m1.3-.2h0m.5-1.8h0m-36.2 2.7h0m.3 2.2h0m.6-.4h0m.1-.3h0m32.6-.4h0m.2.4h0m.7-.8h0m.6 1.5h0m-35.4 1.8h0m0 1.2h0m.7-.2h0m33.6-2.3h0m.3.7h0m.2.1h0m.2 1.2h0m-34.4 1.3h0m.2-.3h0m0 .1h0m.3 1.1h0m31.8 1.2h0m.6-.1h0m.4-2.6h0m0 1.5h0m.5-1.1h0m0 2.2h0m-33.2 1h0m.9.2h0m0-.4h0m29.8 2.3h0m.3 0h0m.1-.6h0m1 .6h0m0-2.4h0m-31.2 3.8h0m.3 1.7h0m1.1-1h0m27.1-1h0m.6.6h0m.1.1h0m.3-.5h0m-27 3.5h0m.6.6h0m.2.1h0m23.3-.9h0m0 .9h0m.8-.1h0m.8.7h0m-25.3.8h0m2 .1h0m.8 1.1h0m19.5.9h0m.6-1.3h0m.2.5h0m-19.9 1.8h0m.3-.5h0m.7.1h0m.1-.2h0m1.4 1.9h0m.4.1h0m.9-.1h0m1.4-.6h0m.3.7h0m1.2.3h0m.5 0h0m8.3-1.2h0m1.2.6h0m.9-1.8h0m.3.9h0m2.1-.4h0m-13.4 2.6h0m1.5.9h0m1.3-.1h0m1.5-.3h0m.4.7h0m.1 1h0m.6-.6h0m.2.7h0m.5-2h0m1.7.6h0m-2.4 2.4h0" stroke="#c9c9c9" stroke-width="0.8" stroke-linecap="square" stroke-opacity="0.9"/>
<path d="M102 420C102.02 419.07 102.5 417.97 103.1 417.4C103.7 416.83 104.52 416.7 105.6 416.6C106.68 416.5 108.35 416.5 109.6 416.8C110.85 417.1 111.77 418.03 113.1 418.4C114.43 418.77 116.18 418.93 117.6 419C119.02 419.07 120.43 418.97 121.6 418.8C122.77 418.63 123.77 418.47 124.6 418C125.43 417.53 126.2 417.33 126.6 416C127 414.67 127.07 412 127 410C126.93 408 126.17 405.9 126.2 404C126.23 402.1 126.57 399.93 127.2 398.6C127.83 397.27 128.93 396.67 130 396C131.07 395.33 132 394.83 133.6 394.6C135.2 394.37 137.93 394.5 139.6 394.6C141.27 394.7 142.73 395.63 143.6 395.2C144.47 394.77 144.4 393.3 144.8 392C145.2 390.7 145.6 387.57 146 387.4C146.4 387.23 146.9 389.57 147.2 391C147.5 392.43 147.23 394.87 147.8 396C148.37 397.13 149.3 397.6 150.6 397.8C151.9 398 153.93 397.27 155.6 397.2C157.27 397.13 159.33 397.1 160.6 397.4C161.87 397.7 162.7 398.27 163.2 399C163.7 399.73 163.67 400.93 163.6 401.8C163.53 402.67 162.6 403.47 162.8 404.2C163 404.93 163.97 405.43 164.8 406.2C165.63 406.97 166.87 407.67 167.8 408.8C168.73 409.93 169.73 411.47 170.4 413C171.07 414.53 171.63 416.33 171.8 418C171.97 419.67 171.87 420.63 171.4 423C170.93 425.37 169.72 429.37 169 432.2C168.28 435.03 167.73 437.95 167.1 440C166.47 442.05 166.12 442.83 165.2 444.5C164.28 446.17 162.78 448.48 161.6 450C160.42 451.52 159.05 452.7 158.1 453.6C157.15 454.5 156.82 455.3 155.9 455.4C154.98 455.5 153.98 454.73 152.6 454.2C151.22 453.67 149.1 452.8 147.6 452.2C146.1 451.6 144.93 451.47 143.6 450.6C142.27 449.73 140.73 448.53 139.6 447C138.47 445.47 137.5 443.23 136.8 441.4C136.1 439.57 135.67 437.78 135.4 436C135.13 434.22 135.67 432.2 135.2 430.7C134.73 429.2 133.87 428.05 132.6 427C131.33 425.95 129.27 425.1 127.6 424.4C125.93 423.7 124.27 423.1 122.6 422.8C120.93 422.5 119.18 422.57 117.6 422.6C116.02 422.63 114.43 422.77 113.1 423C111.77 423.23 110.85 423.77 109.6 424C108.35 424.23 106.7 424.57 105.6 424.4C104.5 424.23 103.6 423.73 103 423C102.4 422.27 101.98 420.93 102 420Z" fill="#3a9db6" />
<g clip-path="url(#hc2)">
<path d="M100.67 414.1C102.6 412.4 109.34 414.2 112.22 414.7C115.11 415.2 117.21 415.2 118 417.1C118.79 419 118.52 424.3 116.95 426.1C115.37 427.9 111.26 428.1 108.55 427.9C105.84 427.7 101.99 427.2 100.67 424.9C99.36 422.6 98.75 415.8 100.67 414.1Z" fill="#cfcfcf" />
<path d="M126.7 401.6h0m2.5.2h0m.5-.5h0m3 .5h0m.8-.8h0m.1.3h0m3.4.4h0m14.1-.5h0m.4.4h0m2.7-.2h0m1.9.2h0m-26.7.4h0m1.1 1.3h0m2.6-.3h0m2.4 1.2h0m2.7.5h0m1-.1h0m.8-2.3h0m1.3 0h0m3.9 1.2h0m0 .3h0m2.2.7h0m0-.3h0m.3-.7h0m.1.2h0m1.7.5h0m.9-.8h0m.4-.7h0m.4-.7h0m1.6.4h0m.5.6h0m.4 1h0m.8-1.2h0m.1-.5h0m0 .1h0m1.7 2.4h0m1.6-.4h0m-31 1h0m.5 2.2h0m.6-1h0m.3-.5h0m1.7-.3h0m1.6-.7h0m1.1 1.8h0m.9-1h0m.1.6h0m.1-1.2h0m.1-.1h0m.1 1.2h0m.1 1.5h0m.1-.3h0m.1-.9h0m2.4-1.5h0m.7 1.8h0m1.4-.2h0m1.1-.3h0m.1.6h0m.2.4h0m4-1.2h0m.2-.7h0m0 1h0m1.4.2h0m2.2-.1h0m.6-.1h0m6.5 0h0m-26.3 3.1h0m.5-1.4h0m.7 1.3h0m.2.2h0m.1-1.7h0m2 2.7h0m5.2-1.9h0m3.1-.9h0m.7 2.2h0m3.9-1.4h0m.5-.5h0m1 .2h0m2.5 1.2h0m2.4 0h0m1.2 1.1h0m.7 0h0m.2.1h0m-26.8 2.8h0m3.5-2.2h0m.4-.1h0m.4-.4h0m.3 1.4h0m.6-.3h0m1.6-1h0m1.5 1.5h0m2.5-1.5h0m1.3 1.9h0m1.9-.7h0m1.6.8h0m1.7-1.4h0m.7 2h0m.7-2.3h0m.3 1.8h0m1.4-2.2h0m0 2.5h0m1.1-.3h0m1.3-1.8h0m.7.2h0m2.4 2.1h0m.1-1.6h0m.4-1h0m1.6.6h0m2.5 1.9h0m.1-1.2h0m-30.1 2h0m.3 1.5h0m.7-.3h0m.9 1.2h0m2.6-1.7h0m.1 1.8h0m1.1-.2h0m.6-1.9h0m1.1-.7h0m1 1.6h0m1.8.3h0m.1.8h0m1.9-1.7h0m.8 1h0m.5.2h0m.4.6h0m4.5-.3h0m1.7-1.4h0m1.6.8h0m.1.7h0m.9.1h0m1.2-.6h0m2.7.7h0m0-1.5h0m3.5-1.4h0m-33 4.8h0m.2.3h0m.4-1.6h0m.9 2.3h0m2.6-2.4h0m1.7-.1h0m.8 2.3h0m.9-1.2h0m.8 1.4h0m.1-2h0m.5-.1h0m.9-.5h0m1.2 2h0m.3-1.4h0m.9.8h0m.5-1.1h0m1.7 1.7h0m.4-1h0m0 1h0m1.2-1.5h0m10 0h0m.1.8h0m.8-.1h0m.4 0h0m1.6 1.2h0m0-1.9h0m.1 0h0m1.7-.2h0m.3-.2h0m.3 2.2h0m1.3-1.9h0m.6 1.8h0m.2-.2h0m-35 3.5h0m1-2.1h0m.2 2.2h0m2.6-.1h0m3.7 0h0m1.7-1.2h0m.8-.3h0m.3-.5h0m.8 1.5h0m1.2-1.1h0m.2 1.6h0m.5.1h0m1.9-.9h0m.9.8h0m1.1-1.1h0m.8.9h0m.6-2.5h0m1.3 2.1h0m.1-1h0m1.3.1h0m.5-.2h0m0-.1h0m2.1-.2h0m0 1.4h0m2 .2h0m1.5-.6h0m.1 0h0m1.4.2h0m.6.4h0m.9.1h0m.1-1.6h0m2-.2h0m.1.8h0m.1 0h0m1.4.6h0m-30.9 1.5h0m2.5-.3h0m2.3 1h0m.2-1h0m.9 2.5h0m.9-2.6h0m1.4 1.6h0m1-1.4h0m.2 1.6h0m.9.7h0m1.2-1.6h0m1.2-.4h0m2.8.2h0m6.6 1.8h0m.3-.2h0m.4-1.5h0m.9.3h0m1.6.1h0m4.3-1h0m-21.5 3.2h0m0 .1h0m.9.2h0m.7 2h0m.6-2.5h0m1.7.6h0m.4 1.2h0m.4-1.3h0m1.9 0h0m.4 1.9h0m.5-.1h0m.9-1.1h0m1-.8h0m.6.9h0m.3.1h0m3.1-.7h0m0 .7h0m.5 1.1h0m1.3-1.7h0m.3-1h0m2.6 1.3h0m2.9.4h0m0 1.1h0m2-.3h0m.7-2.4h0m-21.1 3.3h0m.9.3h0m3.9.1h0m1.3-.3h0m6.2.3h0m.3-.5h0m1.9-.2h0m.2 2.1h0m1.3 0h0m.4-.7h0m1.3.7h0m1.5-1.3h0m0-.5h0m1 .6h0" stroke="#d8e4e8" stroke-width="0.8" stroke-linecap="square" stroke-opacity="0.95"/>
<path d="M158.3 402.2h0m3.3-.1h0m1.2 5.3h0m1.6-.4h0m-4.5 1.4h0m1-.1h0m4.5 1.8h0m-7 2.4h0m.7-.9h0m.1 1.1h0m3.1.3h0m1.9-1.6h0m1.3.8h0m3.5.9h0m-10.9 3.6h0m.9-2.2h0m1.1 0h0m4.6.9h0m.6.2h0m2.6.9h0m1.8-2h0m1 1.1h0m-5.3 2.5h0m.8-.4h0m.4 1.7h0m.6-.3h0m-5 3.7h0m5.6-1.5h0m.2-1.2h0m-4.5 3.1h0m.2 1.7h0m-2.2 1.9h0m5.3-.6h0m.6 1.4h0m2.3-1.5h0m-19.6 5.6h0m3 0h0m5.1-.5h0m.8-.3h0m.9-1.5h0m.3-.1h0m1.5-.2h0m3.7 0h0m.2 0h0m.1 2.4h0m2.6-2.5h0m.1 1.9h0m-29.3 4h0m2.9-2.6h0m.6 1.8h0m2.8-.9h0m.1 0h0m4.8 1.7h0m4-.3h0m4.4-2.4h0m1.5 1.2h0m1-1.4h0m1.7 2.7h0m2.2-2.2h0m0-.4h0m-28.3 5.7h0m.5-1.1h0m1.8-.6h0m3.1 1.5h0m6-2h0m1.4-.2h0m4.2.3h0m1.7.3h0m.2-.8h0m6.3 1h0m3.8.4h0m-25.6 3.1h0m5.1-1.3h0m.3 1.5h0m5.9.6h0m.7-.5h0m1.5-1.1h0m2.7 1.2h0m1.2-.7h0m-19.5 3.3h0m1.6-1.4h0m1.3.2h0m.9 2h0m6.6-.1h0m.3-.7h0m1 .7h0m2.1-1.8h0m2 .2h0m1.1 1.6h0m1.3 0h0m5.9-.8h0m1.2.5h0m-22.7 3.7h0m1.2-2.8h0m1.8.9h0m.7 1.7h0m3.8-1.7h0m1 1.3h0m.5-.4h0m1 1h0m5.2-.7h0m1.9-.3h0m.2-.2h0m1.8 1h0m2.5-2.6h0m-19.1 4.1h0m.5 1.2h0m.4.2h0m4.6-.7h0m5.3-.7h0m3.1.2h0m2.1 1.4h0m.6-.2h0m-10.4 3.1h0m.8-.4h0m1.9-.8h0m1.6 0h0m0-.6h0m2.7 1h0m-6 1.2h0" stroke="#d8e8ee" stroke-width="0.6" stroke-linecap="square" stroke-opacity="0.8"/>
<path d="M104.7 417.1h0m.3 2.6h0m.3-2.5h0m.1.9h0m.5.8h0m1.3-.9h0m4 1.5h0m1.1-1.1h0m.9.7h0m.4 0h0m.9-.1h0m.3.1h0m.6.8h0m1.2-.8h0m.2.1h0m2 .4h0m-15.2 2.1h0m.6-.8h0m.1-.3h0m2.5 1.1h0m1.4-1.7h0m.3 2.3h0m.2 0h0m1.4-1.4h0m.3 2h0m.5-.2h0m.4-1.9h0m0 1.3h0m.1-.1h0m.2.8h0m.3-1.9h0m0-.3h0m0 .4h0m1.5 1.9h0m.5-.9h0m1.1-.6h0m2.5-.8h0m0-.1h0m.9 1.5h0m-14.7 1.3h0m1.2.4h0m1.4-.1h0m1.5.2h0m.4-.8h0m.6.2h0" stroke="#3a9db6" stroke-width="0.8" stroke-linecap="square" stroke-opacity="0.9"/>
<path d="M146.1 392.4h0m1.1-.4h0m-11.1 3.8h0m4.3 0h0m4-1.1h0m-6 3.4h0m.5.6h0m3.5-2.4h0m2.9 1.2h0m.6-.5h0m0-.9h0m12.6 2.1h0m-29.3 1.3h0m1.1-.4h0m.3-.1h0m1.7.2h0m2.6.7h0m2.8 1.5h0m3.1-1.7h0m3.8.5h0m4.6 1.2h0m.4-1.9h0m2.3 2.1h0m2.2-.1h0m4.1-2.4h0m0 .5h0m1.3 2h0m-31.7 2.1h0m2.8.2h0m.1.9h0m3.9-2.3h0m.7 1.3h0m1.3-1.3h0m1.4 2.1h0m.1-1.7h0m2 1.3h0m2.4-2.2h0m.9 1.1h0m1.7 1.2h0m1.9-.8h0m.1 0h0m.5-.9h0m3.9-.1h0m4.3 2.1h0m3.6.1h0m2.6-2.5h0m-35.5 3.6h0m6.8.2h0m7 .2h0m.3-.9h0m.7 1.2h0m4.4-1.1h0m10 .4h0m.1-.1h0m3.4 1h0m.9.1h0m1-.6h0m2.9-.4h0m.7 1.2h0m.8.8h0m-35.3 2.6h0m6.3-1h0m5-.6h0m1.9-.3h0m4.5 1.5h0m.4-.5h0m.7-.3h0m1.6-.2h0m1.7 1.7h0m4.8-2.6h0m.5 1.5h0m-28.9 4.2h0m1.1-1.2h0m1.7.1h0m3.3-.1h0m.3.5h0m.2-1.6h0m1 1h0m3.1 1.3h0m1-2.1h0m1.3.4h0m.8.6h0m7.6.2h0m.1-1.4h0m2.9 2.1h0m2.5-1h0m5.4-.5h0m1.3 1h0m-34.7 1.6h0m.3-.1h0m.4 2.2h0m.7-.9h0m2.1-.9h0m.4-.9h0m.4-.1h0m1 .5h0m.5 1.5h0m.3.5h0m8.9-1.1h0m2.4-.2h0m2.4-.8h0m.6-.3h0m6.2.3h0m2.9 2.2h0m2.2-2.2h0m.2.4h0m0-.6h0m3.9 1h0m5.1.4h0m2.5 1.3h0m-67.9 1.7h0m.6.5h0m3.9.4h0m2-1.9h0m2.6 1.5h0m14.3-1.8h0m4.2 1.8h0m1 .6h0m1.4-2.3h0m1.7.5h0m3.9 1.6h0m4.6-.1h0m3.5-.7h0m4.7.1h0m.1-.5h0m.8 1.4h0m3.2-2.5h0m.5.7h0m2.5 1.8h0m2.9-1.2h0m1.9.8h0m.6-2.3h0m5.7.1h0m.6 2.6h0m0-1.5h0m-67.6 3.6h0m.2-.9h0m9.2.1h0m.5.2h0m3.4-.4h0m2.8.8h0m3.6.1h0m.2-.8h0m.5.4h0m.2.7h0m8.1.6h0m.8-1.3h0m.8.4h0m0-1.6h0m.7 2.2h0m.3-2.1h0m10.1 2.5h0m4.9-2.6h0m6.8 1.3h0m1.3-.7h0m1.1 1h0m7.3.8h0m2.3-1.3h0m1.5-.5h0m1.1 1.7h0m.4-.9h0m-62.3 2.3h0m21 0h0m3.6 1.8h0m4.4-.2h0m2.5-1.6h0m4.2-.3h0m.9 1.3h0m1.1-1.7h0m1 .9h0m.9.9h0m0-.3h0m.3.1h0m4-1.6h0m1.2 1.3h0m2.1.4h0m5 .9h0m5.8-.5h0m1-.3h0m-35.7 1.1h0m1.1 1.3h0m1.8-1.1h0m.8.6h0m.3-.1h0m2.8 1.3h0m7.2-1.1h0m.4 1h0m.2-1.8h0m1.3.5h0m4.2 1.3h0m1.4-1.8h0m5 1h0m4 1h0m1.4.2h0m5.6-.4h0" stroke="#ffffff" stroke-width="0.6" stroke-linecap="square" stroke-opacity="0.75"/>
<path d="M153.2 404.6C153.87 404.03 156.1 404.03 157.6 404C159.1 403.97 160.97 403.73 162.2 404.4C163.43 405.07 164.33 406.4 165 408C165.67 409.6 166.17 412.07 166.2 414C166.23 415.93 165.97 419.1 165.2 419.6C164.43 420.1 163.03 418.33 161.6 417C160.17 415.67 157.93 413.2 156.6 411.6C155.27 410 154.17 408.57 153.6 407.4C153.03 406.23 152.53 405.17 153.2 404.6Z" fill="#ffffff" fill-opacity="0.85" filter="url(#blur1)"/>
<path d="M156 404.7h0m-2.7.5h0m.3-.2h0m2.1.4h0m1.4 1.8h0m4.5-1.9h0m1.9 2.4h0m.6-.6h0m-7.5 1.7h0m2.7.4h0m.1-.1h0m.1 1.6h0m.9-.4h0m1.2.3h0m1.6-.6h0m.5.6h0m1.1-1.9h0m.4.5h0m-6.9 4.2h0m1.6-2.4h0m.8.2h0m2 2.1h0m3-.9h0m-5 2.1h0m.8.7h0m.3.3h0m.1-.1h0m3.9-.3h0m-1.8 2.9h0m.1.7h0" stroke="#3a9db6" stroke-width="0.7" stroke-linecap="square" stroke-opacity="0.9"/>
</g>
<path d="M145.3 389.9h0m.3-.3h0m0-1.6h0m.8-.4h0m.1 1.2h0m.2-.9h0m.1.7h0m.3 1h0m-2 2.6h0m1.2-1.6h0m.5.2h0m.2-.5h0m.2 1.5h0m.3-.4h0m.5-.4h0m-17.4 3.9h0m3.1.6h0m.2-1.9h0m1.5.9h0m1.2 1.1h0m2.3-1.6h0m.3.6h0m.4.6h0m1 .1h0m.8-1h0m.7.5h0m.4-.2h0m.3.4h0m1.6-1.6h0m3 1.3h0m.4.6h0m.3-.9h0m.6.1h0m.3.5h0m8.7.7h0m-30.2 1.9h0m.8-.2h0m1.1-.3h0m.2-.1h0m.7-.4h0m10-.3h0m8 .5h0m1.7.6h0m.2.7h0m.5-.6h0m0-.2h0m.9.6h0m.1-1h0m.4 1.4h0m1.2-1.6h0m.3.6h0m.7.8h0m1.5-1.1h0m1 .3h0m1.6-.5h0m.3.5h0m1.4.6h0m.5-.1h0m.4-.6h0m.6 1h0m-35.7 3.2h0m.3-.7h0m.3-.3h0m.2 1.5h0m.1-2.5h0m.6.9h0m34.8-1h0m.8 1.1h0m.2-1.1h0m0 1.1h0m.3.6h0m-37.5 1.7h0m.3 1.6h0m36.9.1h0m.2-.8h0m.3.5h0m.2-.2h0m-38.2 3.2h0m.3-1.3h0m.8 1h0m.2-1.6h0m36-.1h0m.6.3h0m0-.2h0m.7.5h0m2.2.9h0m.4.1h0m-39.9 1.4h0m.1.9h0m.4.1h0m38.9-1h0m.5.4h0m.1.4h0m1.7-.8h0m.3.6h0m-42.6 4h0m.3-.8h0m0 .3h0m42.4-.6h0m1.2.5h0m-44.8 3.8h0m.9-1.2h0m.1.5h0m1.6-.5h0m-8.7 3.5h0m.4.6h0m.9.1h0m2-.4h0m.9.2h0m0 .3h0m0-1.6h0m.5-.3h0m.5 1.1h0m.6.3h0m45.6 0h0m1.8-1h0m.3 1.6h0m-53.8 3.1h0m.4.5h0m.5-.3h0m.5-.2h0m.2.7h0m1-1h0m.5.6h0m3.3-.3h0m46.4.7h0m-51.1.7h0m.7-.6h0m.6 1.3h0m.4-1.2h0m0-.1h0m.9 1.2h0m.6-1.1h0m1.2 1.5h0m.1-.4h0m.2-.9h0m0 .5h0m.7 1h0m2.3-.3h0m.2-.7h0m.7.7h0m40.7.1h0m1.5-.6h0m.2-.6h0m-40 2.6h0m1.1 1h0m1.7 1.7h0m35.2.2h0m.5-1.5h0m1.3-.4h0m-36.8 2.5h0m0 2.4h0m.1.5h0m.5 2.3h0m1.4-.2h0m31.6-.4h0m.1.8h0m.6-1.3h0m-32.6 2.8h0m30.9-1.1h0m.4.9h0m.1 1h0m-33.3.8h0m1.7 2.8h0m.4-.1h0m30.1-.8h0m1.8-.1h0m-32.1 1.2h0m.4 2.2h0m.2-2.1h0m.1 1.1h0m.6 1.3h0m27.4.4h0m.7-2.2h0m.1 1.1h0m1.5.6h0m-29.7 1.5h0m0 .1h0m.6-.4h0m.2-.2h0m.1.2h0m.4.3h0m.3.9h0m.5-.1h0m0 .7h0m.6.2h0m23.2-1.4h0m.6-1.2h0m.3.5h0m.2 1.7h0m.7-1.2h0m-24.3 4.7h0m.1-1.9h0m.8 2h0m0 0h0m.4 0h0m0-.8h0m18.7 0h0m1.5-1h0m.4.3h0m-20.3 1.8h0m.2 0h0m2.1 1.9h0m2.4-.3h0m1.2.6h0m1.3.1h0m9 .1h0m.5.2h0m.1-1.1h0m.1.4h0m.6-.1h0m1.1-1.4h0m-11.4 2.6h0m1.1 1.2h0m.4-1.2h0m.5.7h0m.8.9h0m.4-.5h0m.9 1h0m.2-.3h0m.2.4h0m1.2-.9h0m2.7.3h0m-3.5 1.8h0" stroke="#3a9db6" stroke-width="0.8" stroke-linecap="square" stroke-opacity="0.9"/>
<path d="M103.3 416.9h0m1.1-.6h0m5.7-.3h0m.6.2h0m-8.4.9h0m.6 1.8h0m.4-1.5h0m4.3.5h0m1.2.2h0m.8.5h0m.6-1.4h0m3.7.7h0m1 1.1h0m.6-.9h0m2.1-.2h0m.2 1.1h0m.8-1.6h0m-17 3.1h0m.7 0h0m.6 1.5h0m.5.2h0m.3-1.7h0m.4 2h0m5.8.1h0m4.2.1h0m.9-.1h0m.2-.2h0m2.2-2.4h0m1.3 1h0m-11.9 2.8h0m.1.8h0m2.6-.6h0m.6-.1h0m.3.4h0m.4.1h0m.8-.4h0" stroke="#cfcfcf" stroke-width="0.8" stroke-linecap="square" stroke-opacity="0.9"/>
<text x="186.8" y="363.6" font-size="10.5" fill="#000" font-weight="bold">i</text>
<line x1="204.1" y1="366.6" x2="204.1" y2="406.57" stroke="#444" stroke-width="0.5" />
<line x1="204.1" y1="406.57" x2="246.2" y2="406.57" stroke="#444" stroke-width="0.5" />
<line x1="202.9" y1="367.9" x2="204.1" y2="367.9" stroke="#444" stroke-width="0.4" />
<text x="201.7" y="369.7" font-size="5" fill="#333" stroke="#333" stroke-width="0.16" text-anchor="end">6</text>
<line x1="202.9" y1="377.65" x2="204.1" y2="377.65" stroke="#444" stroke-width="0.4" />
<text x="201.7" y="379.45" font-size="5" fill="#333" stroke="#333" stroke-width="0.16" text-anchor="end">3</text>
<line x1="202.9" y1="387.4" x2="204.1" y2="387.4" stroke="#444" stroke-width="0.4" />
<text x="201.7" y="389.2" font-size="5" fill="#333" stroke="#333" stroke-width="0.16" text-anchor="end">0</text>
<line x1="202.9" y1="397.15" x2="204.1" y2="397.15" stroke="#444" stroke-width="0.4" />
<text x="201.7" y="398.95" font-size="5" fill="#333" stroke="#333" stroke-width="0.16" text-anchor="end">−3</text>
<line x1="202.9" y1="406.57" x2="204.1" y2="406.57" stroke="#444" stroke-width="0.4" />
<text x="201.7" y="408.38" font-size="5" fill="#333" stroke="#333" stroke-width="0.16" text-anchor="end">−5</text>
<line x1="216.15" y1="406.57" x2="216.15" y2="407.77" stroke="#444" stroke-width="0.4" />
<text x="216.15" y="413.18" font-size="5" fill="#333" stroke="#333" stroke-width="0.16" text-anchor="middle">−5</text>
<line x1="230.8" y1="406.57" x2="230.8" y2="407.77" stroke="#444" stroke-width="0.4" />
<text x="230.8" y="413.18" font-size="5" fill="#333" stroke="#333" stroke-width="0.16" text-anchor="middle">0</text>
<line x1="245.45" y1="406.57" x2="245.45" y2="407.77" stroke="#444" stroke-width="0.4" />
<text x="245.45" y="413.18" font-size="5" fill="#333" stroke="#333" stroke-width="0.16" text-anchor="middle">5</text>
<text x="225.4" y="363.4" font-size="7" stroke="#222" stroke-width="0.16" text-anchor="middle" font-style="italic">Ly6c2</text>
<text x="192.5" y="387.4" font-size="6" fill="#333" stroke="#333" stroke-width="0.16" text-anchor="middle" transform="rotate(-90 192.5 387.4)">UMAP 2</text>
<path d="M206.05 386.05C206.06 385.54 206.33 384.94 206.66 384.64C207 384.33 207.45 384.26 208.06 384.2C208.66 384.15 209.59 384.15 210.29 384.31C210.99 384.48 211.5 384.98 212.24 385.18C212.99 385.38 213.96 385.47 214.75 385.5C215.55 385.54 216.34 385.49 216.99 385.4C217.64 385.31 218.2 385.22 218.66 384.96C219.13 384.71 219.55 384.6 219.78 383.88C220 383.16 220.04 381.71 220 380.63C219.96 379.55 219.54 378.41 219.55 377.38C219.57 376.35 219.76 375.18 220.11 374.45C220.47 373.73 221.08 373.41 221.68 373.05C222.27 372.68 222.79 372.41 223.68 372.29C224.58 372.16 226.1 372.23 227.03 372.29C227.96 372.34 228.78 372.85 229.27 372.61C229.75 372.38 229.71 371.58 229.93 370.88C230.16 370.18 230.38 368.48 230.6 368.39C230.83 368.3 231.11 369.56 231.27 370.34C231.44 371.11 231.29 372.43 231.61 373.05C231.93 373.66 232.45 373.91 233.17 374.02C233.9 374.13 235.03 373.73 235.96 373.7C236.89 373.66 238.05 373.64 238.75 373.8C239.46 373.97 239.92 374.27 240.2 374.67C240.48 375.07 240.46 375.72 240.43 376.19C240.39 376.66 239.87 377.09 239.98 377.49C240.09 377.88 240.63 378.16 241.1 378.57C241.56 378.99 242.25 379.37 242.77 379.98C243.29 380.59 243.85 381.42 244.22 382.25C244.59 383.08 244.91 384.06 245 384.96C245.1 385.87 245.04 386.39 244.78 387.67C244.52 388.95 243.84 391.12 243.44 392.65C243.04 394.19 242.73 395.77 242.38 396.88C242.03 397.99 241.83 398.41 241.32 399.32C240.81 400.22 239.97 401.47 239.31 402.3C238.65 403.12 237.89 403.76 237.36 404.25C236.83 404.73 236.64 405.17 236.13 405.22C235.62 405.27 235.06 404.86 234.29 404.57C233.52 404.28 232.33 403.81 231.5 403.49C230.66 403.16 230.01 403.09 229.27 402.62C228.52 402.15 227.67 401.5 227.03 400.67C226.4 399.84 225.86 398.63 225.47 397.64C225.08 396.64 224.84 395.68 224.69 394.71C224.54 393.75 224.84 392.65 224.58 391.84C224.32 391.03 223.83 390.41 223.13 389.84C222.42 389.27 221.27 388.81 220.34 388.43C219.41 388.05 218.48 387.73 217.55 387.56C216.62 387.4 215.64 387.44 214.75 387.45C213.87 387.47 212.99 387.54 212.24 387.67C211.5 387.8 210.99 388.09 210.29 388.21C209.59 388.34 208.67 388.52 208.06 388.43C207.44 388.34 206.94 388.07 206.61 387.67C206.27 387.27 206.04 386.55 206.05 386.05Z" fill="#440154" />
<g clip-path="url(#ic1)">
<ellipse cx="232.27" cy="390.65" rx="20.51" ry="19.5" fill="#3e4989" opacity="0.9" filter="url(#blur2)"/>
<ellipse cx="226.41" cy="382.52" rx="13.19" ry="11.38" fill="#26828e" opacity="0.9" filter="url(#blur2)"/>
<ellipse cx="224.94" cy="378.95" rx="8.79" ry="7.8" fill="#35b779" opacity="0.95" filter="url(#blur2)"/>
<ellipse cx="224.35" cy="377.65" rx="5.27" ry="4.55" fill="#b5de2b" opacity="0.95" filter="url(#blur2)"/>
<ellipse cx="224.35" cy="377.32" rx="2.93" ry="2.6" fill="#fde725" opacity="0.9" filter="url(#blur2)"/>
<ellipse cx="211.75" cy="386.42" rx="8.2" ry="4.23" fill="#31688e" opacity="1" filter="url(#blur2)"/>
<ellipse cx="208.53" cy="386.1" rx="3.52" ry="3.25" fill="#26828e" opacity="0.7" filter="url(#blur2)"/>
<ellipse cx="238.12" cy="375.7" rx="4.4" ry="1.95" fill="#26828e" opacity="0.7" filter="url(#blur2)"/>
<ellipse cx="235.2" cy="398.77" rx="10.26" ry="8.12" fill="#440154" opacity="0.8" filter="url(#blur2)"/>
<path d="M230.5 370.1h0m-8.5 3.2h0m2.7-.6h0m1.3-.2h0m.7.5h0m.2 1.3h0m3.3-.5h0m.2 1h0m.4-2.6h0m.6 1.6h0m.8.4h0m3.2.3h0m-13.7 2.5h0m1.9-.3h0m.1-1.7h0m1.1 1.5h0m.8 1h0m1.6-.1h0m.8.5h0m1.3-1.5h0m1.9 0h0m.3-.1h0m.3.9h0m.5-.6h0m.3-1.2h0m.8.1h0m.2.2h0m2.5-.6h0m0 2.3h0m2.6.3h0m-18.5 1h0m.8 1.3h0m0 .7h0m.3.2h0m.5-2.2h0m1.1 1.2h0m.4-1h0m.9 1.5h0m.1-2.2h0m1.6 2.5h0m2.6-2.3h0m.2 2.1h0m.2-2.3h0m10.2 2.6h0m-19 .8h0m1.7 2.1h0m.3-.1h0m.9-1.2h0m2.8-.4h0m1.4.4h0m.3-1h0m1.9.4h0m1.8.1h0m.8 1.1h0m1.6-.3h0m.3-.5h0m.5.7h0m.9.4h0m.6-2.3h0m.9 1.1h0m2.1-.3h0m.2 2h0m.1-.5h0m1.6-1.5h0m.3 1h0m3.2.6h0m-34.9 1.6h0m.4.6h0m3.3-.1h0m.8 0h0m3.5-.2h0m2.7-.4h0m4-.9h0m2.6 1.2h0m1.5.1h0m.6-.7h0m1.9.3h0m.2-.1h0m0 .7h0m3.2-.6h0m.2-.2h0m.5-.2h0m.1 1h0m1.2-1.3h0m1.3 1.4h0m2.4-1.1h0m.8 1.3h0m.5-.7h0m1.5.4h0m.4-1.2h0" stroke="#35b779" stroke-width="0.7" stroke-linecap="square" stroke-opacity="0.7"/>
<path d="M235.4 374.5h0m.7.6h0m-1.7 7.8h0m4.8.4h0m1.9-.5h0m3.2.6h0m-10.2 1.5h0m.7-.4h0m.1 1h0m1.2-1.3h0m.1 2.3h0m3.6-2h0m1.3.6h0m.1 1.4h0m1.4-1h0m.4-1.2h0m-7.3 3.7h0m7.9-.7h0m.3.9h0m-9.9 2.2h0m.5.1h0m.3.1h0m.2 0h0m1 1.5h0m0-.2h0m1.7-1.4h0m1.1 2.1h0m.4-1h0m1.9-1.4h0m.4.4h0m.6.3h0m.4 2h0m-6 2.3h0m1.1.4h0m.2.3h0m.6-1h0m2.1.6h0m1.2-2.5h0m-5.2 4.6h0m2.1.5h0m1.6-2h0m1 2.2h0m.3-.2h0m-6.2 3.1h0m.4-2.2h0m3 2h0m.1-.3h0m1.5-1.7h0m.2 1.2h0m-4 1.8h0" stroke="#ffffff" stroke-width="0.6" stroke-linecap="square" stroke-opacity="0.8"/>
<path d="M234.62 377.7C235 377.4 236.24 377.4 237.08 377.38C237.92 377.36 238.96 377.23 239.65 377.6C240.33 377.96 240.84 378.68 241.21 379.55C241.58 380.41 241.86 381.75 241.88 382.8C241.9 383.84 241.75 385.56 241.32 385.83C240.89 386.1 240.11 385.14 239.31 384.42C238.51 383.7 237.26 382.36 236.52 381.5C235.78 380.63 235.16 379.85 234.85 379.22C234.53 378.59 234.25 378.01 234.62 377.7Z" fill="#fff" fill-opacity="0.8"/>
</g>
<rect x="250.2" y="380.8" width="3.2" height="22" fill="url(#vir)" />
<text x="248.4" y="377" font-size="5.3" fill="#333" stroke="#333" stroke-width="0.16">Density</text>
<line x1="253.4" y1="382.4" x2="254.2" y2="382.4" stroke="#444" stroke-width="0.3" />
<text x="255.2" y="384" font-size="4.6" fill="#333" stroke="#333" stroke-width="0.16">0.05</text>
<line x1="253.4" y1="391.6" x2="254.2" y2="391.6" stroke="#444" stroke-width="0.3" />
<text x="255.2" y="393.2" font-size="4.6" fill="#333" stroke="#333" stroke-width="0.16">0.03</text>
<line x1="253.4" y1="400.8" x2="254.2" y2="400.8" stroke="#444" stroke-width="0.3" />
<text x="255.2" y="402.4" font-size="4.6" fill="#333" stroke="#333" stroke-width="0.16">0.01</text>
<line x1="288.9" y1="366.6" x2="288.9" y2="406.57" stroke="#444" stroke-width="0.5" />
<line x1="288.9" y1="406.57" x2="331" y2="406.57" stroke="#444" stroke-width="0.5" />
<line x1="287.7" y1="367.9" x2="288.9" y2="367.9" stroke="#444" stroke-width="0.4" />
<text x="286.5" y="369.7" font-size="5" fill="#333" stroke="#333" stroke-width="0.16" text-anchor="end">6</text>
<line x1="287.7" y1="377.65" x2="288.9" y2="377.65" stroke="#444" stroke-width="0.4" />
<text x="286.5" y="379.45" font-size="5" fill="#333" stroke="#333" stroke-width="0.16" text-anchor="end">3</text>
<line x1="287.7" y1="387.4" x2="288.9" y2="387.4" stroke="#444" stroke-width="0.4" />
<text x="286.5" y="389.2" font-size="5" fill="#333" stroke="#333" stroke-width="0.16" text-anchor="end">0</text>
<line x1="287.7" y1="397.15" x2="288.9" y2="397.15" stroke="#444" stroke-width="0.4" />
<text x="286.5" y="398.95" font-size="5" fill="#333" stroke="#333" stroke-width="0.16" text-anchor="end">−3</text>
<line x1="287.7" y1="406.57" x2="288.9" y2="406.57" stroke="#444" stroke-width="0.4" />
<text x="286.5" y="408.38" font-size="5" fill="#333" stroke="#333" stroke-width="0.16" text-anchor="end">−5</text>
<line x1="300.95" y1="406.57" x2="300.95" y2="407.77" stroke="#444" stroke-width="0.4" />
<text x="300.95" y="413.18" font-size="5" fill="#333" stroke="#333" stroke-width="0.16" text-anchor="middle">−5</text>
<line x1="315.6" y1="406.57" x2="315.6" y2="407.77" stroke="#444" stroke-width="0.4" />
<text x="315.6" y="413.18" font-size="5" fill="#333" stroke="#333" stroke-width="0.16" text-anchor="middle">0</text>
<line x1="330.25" y1="406.57" x2="330.25" y2="407.77" stroke="#444" stroke-width="0.4" />
<text x="330.25" y="413.18" font-size="5" fill="#333" stroke="#333" stroke-width="0.16" text-anchor="middle">5</text>
<text x="310.2" y="363.4" font-size="7" stroke="#222" stroke-width="0.16" text-anchor="middle" font-style="italic">Gzmb</text>
<text x="277.3" y="387.4" font-size="6" fill="#333" stroke="#333" stroke-width="0.16" text-anchor="middle" transform="rotate(-90 277.3 387.4)">UMAP 2</text>
<path d="M290.85 386.05C290.86 385.54 291.13 384.94 291.46 384.64C291.8 384.33 292.25 384.26 292.86 384.2C293.46 384.15 294.39 384.15 295.09 384.31C295.79 384.48 296.3 384.98 297.04 385.18C297.79 385.38 298.76 385.47 299.55 385.5C300.35 385.54 301.14 385.49 301.79 385.4C302.44 385.31 303 385.22 303.46 384.96C303.93 384.71 304.35 384.6 304.58 383.88C304.8 383.16 304.84 381.71 304.8 380.63C304.76 379.55 304.34 378.41 304.35 377.38C304.37 376.35 304.56 375.18 304.91 374.45C305.27 373.73 305.88 373.41 306.48 373.05C307.07 372.68 307.59 372.41 308.48 372.29C309.38 372.16 310.9 372.23 311.83 372.29C312.76 372.34 313.58 372.85 314.07 372.61C314.55 372.38 314.51 371.58 314.73 370.88C314.96 370.18 315.18 368.48 315.4 368.39C315.63 368.3 315.91 369.56 316.07 370.34C316.24 371.11 316.09 372.43 316.41 373.05C316.73 373.66 317.25 373.91 317.97 374.02C318.7 374.13 319.83 373.73 320.76 373.7C321.69 373.66 322.85 373.64 323.55 373.8C324.26 373.97 324.72 374.27 325 374.67C325.28 375.07 325.26 375.72 325.23 376.19C325.19 376.66 324.67 377.09 324.78 377.49C324.89 377.88 325.43 378.16 325.9 378.57C326.36 378.99 327.05 379.37 327.57 379.98C328.09 380.59 328.65 381.42 329.02 382.25C329.39 383.08 329.71 384.06 329.8 384.96C329.9 385.87 329.84 386.39 329.58 387.67C329.32 388.95 328.64 391.12 328.24 392.65C327.84 394.19 327.53 395.77 327.18 396.88C326.83 397.99 326.63 398.41 326.12 399.32C325.61 400.22 324.77 401.47 324.11 402.3C323.45 403.12 322.69 403.76 322.16 404.25C321.63 404.73 321.44 405.17 320.93 405.22C320.42 405.27 319.86 404.86 319.09 404.57C318.32 404.28 317.13 403.81 316.3 403.49C315.46 403.16 314.81 403.09 314.07 402.62C313.32 402.15 312.47 401.5 311.83 400.67C311.2 399.84 310.66 398.63 310.27 397.64C309.88 396.64 309.64 395.68 309.49 394.71C309.34 393.75 309.64 392.65 309.38 391.84C309.12 391.03 308.63 390.41 307.93 389.84C307.22 389.27 306.07 388.81 305.14 388.43C304.21 388.05 303.28 387.73 302.35 387.56C301.42 387.4 300.44 387.44 299.55 387.45C298.67 387.47 297.79 387.54 297.04 387.67C296.3 387.8 295.79 388.09 295.09 388.21C294.39 388.34 293.47 388.52 292.86 388.43C292.24 388.34 291.74 388.07 291.41 387.67C291.07 387.27 290.84 386.55 290.85 386.05Z" fill="#440154" />
<g clip-path="url(#ic2)">
<ellipse cx="315.6" cy="387.4" rx="23.44" ry="26" fill="#31688e" opacity="0.7" filter="url(#blur2)"/>
<ellipse cx="311.21" cy="379.27" rx="11.72" ry="8.45" fill="#1f9e89" opacity="0.9" filter="url(#blur2)"/>
<ellipse cx="308.28" cy="380.9" rx="5.27" ry="4.55" fill="#6ece58" opacity="0.9" filter="url(#blur2)"/>
<ellipse cx="317.06" cy="377" rx="7.03" ry="3.9" fill="#35b779" opacity="0.8" filter="url(#blur2)"/>
<ellipse cx="295.68" cy="386.42" rx="5.27" ry="2.93" fill="#1f9e89" opacity="0.8" filter="url(#blur2)"/>
<ellipse cx="320.87" cy="396.5" rx="9.96" ry="9.75" fill="#3e4989" opacity="0.8" filter="url(#blur2)"/>
<ellipse cx="315.31" cy="369.85" rx="1.47" ry="2.27" fill="#fde725" opacity="1" filter="url(#blur2)"/>
<path d="M314.8 370.8h0m.4-.3h0m-9.5 3.6h0m2.4.3h0m.7-.8h0m1.3.9h0m1-1.4h0m2.2.9h0m-7.7 1.2h0m.5 2.3h0m1.8-.6h0m4.5.5h0m.3-2h0m.1.8h0m0-.8h0m.1.8h0m.6.8h0m.6-.1h0m.8-1h0m1.3.5h0m6.5.2h0m.7.6h0m-17.6 3.7h0m.2-1h0m2.1-1.5h0m1.5.2h0m1.7-.3h0m1.1 2.6h0m2.2-1.3h0m3.8-1.3h0m.5 1.9h0m.9-1.5h0m.2 1.8h0m1.1-1.4h0m.1-1.1h0m1 1.1h0m1.5-.9h0m1 1.2h0m.2-1.3h0m.8 1.5h0m.1.6h0m1.5-.3h0m-21.8 1.1h0m.7.2h0m.3 1.8h0m4.8-1.7h0m1.9 2.1h0m1.7-.8h0m4.3 1.3h0m.1-2h0m1.5-.5h0m2.7.6h0m.7.4h0m.8-.6h0m.1 1.9h0m.9-.5h0m1.8-2h0m1.2 1.6h0m-34.8 3.4h0m.7-.6h0m.8 0h0m6 0h0m1.6.9h0m1.9-1.8h0m2.2-.6h0m.1.3h0m1.8.4h0m1.1-.4h0m.5 2.2h0m.7-1.7h0m2.2 1.7h0m8.7-.4h0m3.1-1.3h0m.6-.2h0m.2 1.1h0m.7-1.3h0m.9 1.9h0m.4-2.2h0m-31.3 3.2h0m8.8.2h0m5.3.4h0m1 .5h0m3.7.1h0m.4.3h0m1.8-.8h0m1.5.9h0m.7-1.4h0m2.2-.2h0m1.8.6h0m.4-.7h0" stroke="#35b779" stroke-width="0.7" stroke-linecap="square" stroke-opacity="0.7"/>
<path d="M315.7 371h0m5.1 3h0m-11.1 1.7h0m6.4-.5h0m4 1.7h0m3.9-1.3h0m.7.9h0m-14.4 4.2h0m1.2-.1h0m8.6-1.9h0m7.6 2.1h0m-16.6 1.7h0m.7-1.1h0m.2 2.3h0m8.7-.6h0m2 .1h0m3.8.1h0m-35.3 3.4h0m11.5-1.4h0m3.4.3h0m16.1-1.2h0m3.8-.4h0m-15.8 3.3h0m3.9.3h0m5.2.4h0" stroke="#fde725" stroke-width="0.7" stroke-linecap="square" stroke-opacity="0.7"/>
<path d="M307.8 389.4h0m1.6-.2h0m6.2.1h0m5.6.1h0m2.8.1h0m3.6.4h0m-18.9.7h0m.9.2h0m.3.4h0m.5-.4h0m.7-.6h0m1.9 2.5h0m.8-.3h0m.6-1.8h0m2.4.3h0m1.6-.1h0m1.2 2h0m.9-2.3h0m.2 1.8h0m.3-1h0m1.8.3h0m.7.8h0m3 .2h0m.8-1.9h0m-17.4 2.5h0m1.3 2.7h0m3.7-1.3h0m2.6-.6h0m1.6 1.3h0m1.2-.7h0m.6.4h0m1 .5h0m.4-1.2h0m2-.5h0m.7 2.1h0m.8-1.9h0m.1 1.2h0m.3-.4h0m0-1.1h0m.9.5h0m.1 1h0m-16.6 2.7h0m1.3 1h0m.3-.1h0m.2-.3h0m.9-1.9h0m2.3-.5h0m.6 1.9h0m.6-1.5h0m.3 1.3h0m.1-1.3h0m.8 2.1h0m.8-1.6h0m.9.5h0m.5.4h0m.8-1.1h0m.3 1.9h0m2.1-.8h0m.3-1.6h0m.7 2.4h0m1.3-2.3h0m.2-.2h0m1.1.9h0m-12.5 2.2h0m1.5-.1h0m.7 1.5h0m1.3-.1h0m.4.6h0m1.3-1.5h0m4.6 1.1h0m.8-.7h0m-8.5 3.3h0m0-.7h0m1.8-.5h0m.9.1h0m1 .6h0m.2 1.4h0m.2-2h0m0 0h0m1.7.2h0" stroke="#26828e" stroke-width="0.7" stroke-linecap="square" stroke-opacity="0.7"/>
<path d="M322.7 376.6h0m.7.6h0m-4.5 3h0m.9-1.5h0m.2 1.8h0m1.1-1.4h0m.1-1.1h0m1 1.1h0m1.5-.9h0m1 1.2h0m.2-1.3h0m.9 2.1h0m1.5-.3h0m-8.1 4h0m.1-2h0m1.5-.5h0m2.7.6h0m.7.4h0m.8-.6h0m.1 1.9h0m.9-.5h0m3-.4h0m-3.4 2.1h0m.6-.2h0m1.8 1.7h0m-8.4 2.6h0m.7-1.4h0m4 .4h0m.4-.7h0m2.9 2.6h0m-7.1.6h0m.2 1.8h0m.3-1h0m5.5 1.3h0m-2.2 1.2h0m.7 2.1h0m.8-1.9h0m.4.8h0m.9-.6h0m.1 1h0m-8.4 1.8h0m2.5 1.7h0m3.1 0h0m1.3-2.3h0m.2-.2h0m-6.2 3.5h0m.6 3.2h0m.2 1.4h0m.2-2h0m1.7.2h0" stroke="#ffffff" stroke-width="0.6" stroke-linecap="square" stroke-opacity="0.8"/>
<path d="M319.42 377.7C319.8 377.4 321.04 377.4 321.88 377.38C322.72 377.36 323.76 377.23 324.45 377.6C325.13 377.96 325.64 378.68 326.01 379.55C326.38 380.41 326.66 381.75 326.68 382.8C326.7 383.84 326.55 385.56 326.12 385.83C325.69 386.1 324.91 385.14 324.11 384.42C323.31 383.7 322.06 382.36 321.32 381.5C320.58 380.63 319.96 379.85 319.65 379.22C319.33 378.59 319.05 378.01 319.42 377.7Z" fill="#fff" fill-opacity="0.8"/>
</g>
<rect x="335" y="380.8" width="3.2" height="22" fill="url(#vir)" />
<text x="333.2" y="377" font-size="5.3" fill="#333" stroke="#333" stroke-width="0.16">Density</text>
<line x1="338.2" y1="382.4" x2="339" y2="382.4" stroke="#444" stroke-width="0.3" />
<text x="340" y="384" font-size="4.6" fill="#333" stroke="#333" stroke-width="0.16">0.12</text>
<line x1="338.2" y1="387" x2="339" y2="387" stroke="#444" stroke-width="0.3" />
<text x="340" y="388.6" font-size="4.6" fill="#333" stroke="#333" stroke-width="0.16">0.08</text>
<line x1="338.2" y1="391.6" x2="339" y2="391.6" stroke="#444" stroke-width="0.3" />
<text x="340" y="393.2" font-size="4.6" fill="#333" stroke="#333" stroke-width="0.16">0.04</text>
<line x1="338.2" y1="396.2" x2="339" y2="396.2" stroke="#444" stroke-width="0.3" />
<text x="340" y="397.8" font-size="4.6" fill="#333" stroke="#333" stroke-width="0.16">0</text>
<line x1="338.2" y1="400.8" x2="339" y2="400.8" stroke="#444" stroke-width="0.3" />
<text x="340" y="402.4" font-size="4.6" fill="#333" stroke="#333" stroke-width="0.16">−0.04</text>
<line x1="204.1" y1="435.8" x2="204.1" y2="475.78" stroke="#444" stroke-width="0.5" />
<line x1="204.1" y1="475.78" x2="246.2" y2="475.78" stroke="#444" stroke-width="0.5" />
<line x1="202.9" y1="437.1" x2="204.1" y2="437.1" stroke="#444" stroke-width="0.4" />
<text x="201.7" y="438.9" font-size="5" fill="#333" stroke="#333" stroke-width="0.16" text-anchor="end">6</text>
<line x1="202.9" y1="446.85" x2="204.1" y2="446.85" stroke="#444" stroke-width="0.4" />
<text x="201.7" y="448.65" font-size="5" fill="#333" stroke="#333" stroke-width="0.16" text-anchor="end">3</text>
<line x1="202.9" y1="456.6" x2="204.1" y2="456.6" stroke="#444" stroke-width="0.4" />
<text x="201.7" y="458.4" font-size="5" fill="#333" stroke="#333" stroke-width="0.16" text-anchor="end">0</text>
<line x1="202.9" y1="466.35" x2="204.1" y2="466.35" stroke="#444" stroke-width="0.4" />
<text x="201.7" y="468.15" font-size="5" fill="#333" stroke="#333" stroke-width="0.16" text-anchor="end">−3</text>
<line x1="202.9" y1="475.78" x2="204.1" y2="475.78" stroke="#444" stroke-width="0.4" />
<text x="201.7" y="477.58" font-size="5" fill="#333" stroke="#333" stroke-width="0.16" text-anchor="end">−5</text>
<line x1="216.15" y1="475.78" x2="216.15" y2="476.98" stroke="#444" stroke-width="0.4" />
<text x="216.15" y="482.38" font-size="5" fill="#333" stroke="#333" stroke-width="0.16" text-anchor="middle">−5</text>
<line x1="230.8" y1="475.78" x2="230.8" y2="476.98" stroke="#444" stroke-width="0.4" />
<text x="230.8" y="482.38" font-size="5" fill="#333" stroke="#333" stroke-width="0.16" text-anchor="middle">0</text>
<line x1="245.45" y1="475.78" x2="245.45" y2="476.98" stroke="#444" stroke-width="0.4" />
<text x="245.45" y="482.38" font-size="5" fill="#333" stroke="#333" stroke-width="0.16" text-anchor="middle">5</text>
<text x="225.4" y="432.6" font-size="7" stroke="#222" stroke-width="0.16" text-anchor="middle" font-style="italic">Foxp3</text>
<text x="192.5" y="456.6" font-size="6" fill="#333" stroke="#333" stroke-width="0.16" text-anchor="middle" transform="rotate(-90 192.5 456.6)">UMAP 2</text>
<path d="M206.05 455.25C206.06 454.74 206.33 454.14 206.66 453.84C207 453.53 207.45 453.46 208.06 453.4C208.66 453.35 209.59 453.35 210.29 453.51C210.99 453.68 211.5 454.18 212.24 454.38C212.99 454.58 213.96 454.67 214.75 454.7C215.55 454.74 216.34 454.69 216.99 454.6C217.64 454.51 218.2 454.42 218.66 454.16C219.13 453.91 219.55 453.8 219.78 453.08C220 452.36 220.04 450.91 220 449.83C219.96 448.75 219.54 447.61 219.55 446.58C219.57 445.55 219.76 444.38 220.11 443.65C220.47 442.93 221.08 442.61 221.68 442.25C222.27 441.88 222.79 441.61 223.68 441.49C224.58 441.36 226.1 441.43 227.03 441.49C227.96 441.54 228.78 442.05 229.27 441.81C229.75 441.58 229.71 440.78 229.93 440.08C230.16 439.38 230.38 437.68 230.6 437.59C230.83 437.5 231.11 438.76 231.27 439.54C231.44 440.31 231.29 441.63 231.61 442.25C231.93 442.86 232.45 443.11 233.17 443.22C233.9 443.33 235.03 442.93 235.96 442.9C236.89 442.86 238.05 442.84 238.75 443C239.46 443.17 239.92 443.47 240.2 443.87C240.48 444.27 240.46 444.92 240.43 445.39C240.39 445.86 239.87 446.29 239.98 446.69C240.09 447.08 240.63 447.36 241.1 447.77C241.56 448.19 242.25 448.57 242.77 449.18C243.29 449.79 243.85 450.62 244.22 451.45C244.59 452.28 244.91 453.26 245 454.16C245.1 455.07 245.04 455.59 244.78 456.87C244.52 458.15 243.84 460.32 243.44 461.85C243.04 463.39 242.73 464.97 242.38 466.08C242.03 467.19 241.83 467.61 241.32 468.52C240.81 469.42 239.97 470.67 239.31 471.5C238.65 472.32 237.89 472.96 237.36 473.45C236.83 473.93 236.64 474.37 236.13 474.42C235.62 474.48 235.06 474.06 234.29 473.77C233.52 473.48 232.33 473.01 231.5 472.69C230.66 472.36 230.01 472.29 229.27 471.82C228.52 471.35 227.67 470.7 227.03 469.87C226.4 469.04 225.86 467.83 225.47 466.84C225.08 465.84 224.84 464.88 224.69 463.91C224.54 462.95 224.84 461.85 224.58 461.04C224.32 460.23 223.83 459.61 223.13 459.04C222.42 458.47 221.27 458.01 220.34 457.63C219.41 457.25 218.48 456.93 217.55 456.76C216.62 456.6 215.64 456.64 214.75 456.65C213.87 456.67 212.99 456.74 212.24 456.87C211.5 457 210.99 457.29 210.29 457.41C209.59 457.54 208.67 457.72 208.06 457.63C207.44 457.54 206.94 457.27 206.61 456.87C206.27 456.47 206.04 455.75 206.05 455.25Z" fill="#440154" />
<g clip-path="url(#ic3)">
<ellipse cx="231.39" cy="443.6" rx="3.52" ry="3.25" fill="#6ece58" opacity="0.95" filter="url(#blur2)"/>
<ellipse cx="231.39" cy="442.95" rx="1.76" ry="1.62" fill="#fde725" opacity="0.95" filter="url(#blur2)"/>
<ellipse cx="229.04" cy="447.83" rx="2.64" ry="2.6" fill="#26828e" opacity="0.9" filter="url(#blur2)"/>
<ellipse cx="226.41" cy="446.85" rx="7.33" ry="4.88" fill="#482878" opacity="0.6" filter="url(#blur2)"/>
<path d="M234.3 446.9h0m.6 0h0m.5-1.9h0m.4 1.4h0m1.1-.5h0m2.5.7h0m-5.2 3.2h0m3.4.1h0m3.4-1.6h0m.2.2h0m1 .3h0m-7.7 4h0m.5-1.1h0m3.9-1.4h0m.4 2.6h0m.5-.5h0m-6 2.8h0m2.8-.1h0m1.1.8h0m2.4-.1h0m.8-2.6h0m1.7 1h0m.6-.8h0m.6.9h0m-7.2 2.4h0m3.3 1.7h0m-6 .8h0m2.6 2.4h0m1-1.7h0m5.2.6h0m-7.9 2.7h0m1 .9h0m.6.4h0m.2-2.1h0m1.9 2.1h0m.7-1.4h0m2.5 1h0m.9-1.6h0m-8.3 2.9h0m.1 1.2h0m6.2-.9h0m.1-.7h0m.1 2.9h0m.2-1.3h0m.3-.2h0m-7.3 4.2h0m2.1-2.2h0m2.7.9h0m.6.4h0m.7 0h0" stroke="#ffffff" stroke-width="0.6" stroke-linecap="square" stroke-opacity="0.8"/>
<path d="M234.62 446.9C235 446.6 236.24 446.6 237.08 446.58C237.92 446.56 238.96 446.43 239.65 446.8C240.33 447.16 240.84 447.88 241.21 448.75C241.58 449.61 241.86 450.95 241.88 452C241.9 453.04 241.75 454.76 241.32 455.03C240.89 455.3 240.11 454.34 239.31 453.62C238.51 452.9 237.26 451.56 236.52 450.7C235.78 449.83 235.16 449.05 234.85 448.42C234.53 447.79 234.25 447.21 234.62 446.9Z" fill="#fff" fill-opacity="0.8"/>
</g>
<rect x="250.2" y="450" width="3.2" height="22" fill="url(#vir)" />
<text x="248.4" y="446.2" font-size="5.3" fill="#333" stroke="#333" stroke-width="0.16">Density</text>
<line x1="253.4" y1="451.6" x2="254.2" y2="451.6" stroke="#444" stroke-width="0.3" />
<text x="255.2" y="453.2" font-size="4.6" fill="#333" stroke="#333" stroke-width="0.16">0.75</text>
<line x1="253.4" y1="457.73" x2="254.2" y2="457.73" stroke="#444" stroke-width="0.3" />
<text x="255.2" y="459.33" font-size="4.6" fill="#333" stroke="#333" stroke-width="0.16">0.50</text>
<line x1="253.4" y1="463.87" x2="254.2" y2="463.87" stroke="#444" stroke-width="0.3" />
<text x="255.2" y="465.47" font-size="4.6" fill="#333" stroke="#333" stroke-width="0.16">0.25</text>
<line x1="253.4" y1="470" x2="254.2" y2="470" stroke="#444" stroke-width="0.3" />
<text x="255.2" y="471.6" font-size="4.6" fill="#333" stroke="#333" stroke-width="0.16">0</text>
<line x1="288.9" y1="435.8" x2="288.9" y2="475.78" stroke="#444" stroke-width="0.5" />
<line x1="288.9" y1="475.78" x2="331" y2="475.78" stroke="#444" stroke-width="0.5" />
<line x1="287.7" y1="437.1" x2="288.9" y2="437.1" stroke="#444" stroke-width="0.4" />
<text x="286.5" y="438.9" font-size="5" fill="#333" stroke="#333" stroke-width="0.16" text-anchor="end">6</text>
<line x1="287.7" y1="446.85" x2="288.9" y2="446.85" stroke="#444" stroke-width="0.4" />
<text x="286.5" y="448.65" font-size="5" fill="#333" stroke="#333" stroke-width="0.16" text-anchor="end">3</text>
<line x1="287.7" y1="456.6" x2="288.9" y2="456.6" stroke="#444" stroke-width="0.4" />
<text x="286.5" y="458.4" font-size="5" fill="#333" stroke="#333" stroke-width="0.16" text-anchor="end">0</text>
<line x1="287.7" y1="466.35" x2="288.9" y2="466.35" stroke="#444" stroke-width="0.4" />
<text x="286.5" y="468.15" font-size="5" fill="#333" stroke="#333" stroke-width="0.16" text-anchor="end">−3</text>
<line x1="287.7" y1="475.78" x2="288.9" y2="475.78" stroke="#444" stroke-width="0.4" />
<text x="286.5" y="477.58" font-size="5" fill="#333" stroke="#333" stroke-width="0.16" text-anchor="end">−5</text>
<line x1="300.95" y1="475.78" x2="300.95" y2="476.98" stroke="#444" stroke-width="0.4" />
<text x="300.95" y="482.38" font-size="5" fill="#333" stroke="#333" stroke-width="0.16" text-anchor="middle">−5</text>
<line x1="315.6" y1="475.78" x2="315.6" y2="476.98" stroke="#444" stroke-width="0.4" />
<text x="315.6" y="482.38" font-size="5" fill="#333" stroke="#333" stroke-width="0.16" text-anchor="middle">0</text>
<line x1="330.25" y1="475.78" x2="330.25" y2="476.98" stroke="#444" stroke-width="0.4" />
<text x="330.25" y="482.38" font-size="5" fill="#333" stroke="#333" stroke-width="0.16" text-anchor="middle">5</text>
<text x="310.2" y="432.6" font-size="7" stroke="#222" stroke-width="0.16" text-anchor="middle" font-style="italic">Cxcr5</text>
<text x="277.3" y="456.6" font-size="6" fill="#333" stroke="#333" stroke-width="0.16" text-anchor="middle" transform="rotate(-90 277.3 456.6)">UMAP 2</text>
<path d="M290.85 455.25C290.86 454.74 291.13 454.14 291.46 453.84C291.8 453.53 292.25 453.46 292.86 453.4C293.46 453.35 294.39 453.35 295.09 453.51C295.79 453.68 296.3 454.18 297.04 454.38C297.79 454.58 298.76 454.67 299.55 454.7C300.35 454.74 301.14 454.69 301.79 454.6C302.44 454.51 303 454.42 303.46 454.16C303.93 453.91 304.35 453.8 304.58 453.08C304.8 452.36 304.84 450.91 304.8 449.83C304.76 448.75 304.34 447.61 304.35 446.58C304.37 445.55 304.56 444.38 304.91 443.65C305.27 442.93 305.88 442.61 306.48 442.25C307.07 441.88 307.59 441.61 308.48 441.49C309.38 441.36 310.9 441.43 311.83 441.49C312.76 441.54 313.58 442.05 314.07 441.81C314.55 441.58 314.51 440.78 314.73 440.08C314.96 439.38 315.18 437.68 315.4 437.59C315.63 437.5 315.91 438.76 316.07 439.54C316.24 440.31 316.09 441.63 316.41 442.25C316.73 442.86 317.25 443.11 317.97 443.22C318.7 443.33 319.83 442.93 320.76 442.9C321.69 442.86 322.85 442.84 323.55 443C324.26 443.17 324.72 443.47 325 443.87C325.28 444.27 325.26 444.92 325.23 445.39C325.19 445.86 324.67 446.29 324.78 446.69C324.89 447.08 325.43 447.36 325.9 447.77C326.36 448.19 327.05 448.57 327.57 449.18C328.09 449.79 328.65 450.62 329.02 451.45C329.39 452.28 329.71 453.26 329.8 454.16C329.9 455.07 329.84 455.59 329.58 456.87C329.32 458.15 328.64 460.32 328.24 461.85C327.84 463.39 327.53 464.97 327.18 466.08C326.83 467.19 326.63 467.61 326.12 468.52C325.61 469.42 324.77 470.67 324.11 471.5C323.45 472.32 322.69 472.96 322.16 473.45C321.63 473.93 321.44 474.37 320.93 474.42C320.42 474.48 319.86 474.06 319.09 473.77C318.32 473.48 317.13 473.01 316.3 472.69C315.46 472.36 314.81 472.29 314.07 471.82C313.32 471.35 312.47 470.7 311.83 469.87C311.2 469.04 310.66 467.83 310.27 466.84C309.88 465.84 309.64 464.88 309.49 463.91C309.34 462.95 309.64 461.85 309.38 461.04C309.12 460.23 308.63 459.61 307.93 459.04C307.22 458.47 306.07 458.01 305.14 457.63C304.21 457.25 303.28 456.93 302.35 456.76C301.42 456.6 300.44 456.64 299.55 456.65C298.67 456.67 297.79 456.74 297.04 456.87C296.3 457 295.79 457.29 295.09 457.41C294.39 457.54 293.47 457.72 292.86 457.63C292.24 457.54 291.74 457.27 291.41 456.87C291.07 456.47 290.84 455.75 290.85 455.25Z" fill="#440154" />
<g clip-path="url(#ic4)">
<ellipse cx="320.87" cy="464.73" rx="9.96" ry="10.4" fill="#26828e" opacity="0.9" filter="url(#blur2)"/>
<ellipse cx="320.87" cy="464.73" rx="7.62" ry="7.47" fill="#35b779" opacity="0.95" filter="url(#blur2)"/>
<ellipse cx="322.05" cy="463.75" rx="4.1" ry="3.9" fill="#b5de2b" opacity="0.8" filter="url(#blur2)"/>
<ellipse cx="319.12" cy="468.3" rx="2.93" ry="2.6" fill="#b5de2b" opacity="0.7" filter="url(#blur2)"/>
<ellipse cx="314.14" cy="456.6" rx="7.62" ry="5.2" fill="#31688e" opacity="0.6" filter="url(#blur2)"/>
<ellipse cx="296.56" cy="455.62" rx="5.86" ry="2.93" fill="#3e4989" opacity="0.8" filter="url(#blur2)"/>
<path d="M310.8 460.4h0m.3.1h0m.1-.5h0m.8.8h0m.9.4h0m1.7-1.3h0m.1 1.1h0m0 .9h0m.3-1.8h0m.5 0h0m.6 1.6h0m.1-1.6h0m3 1.6h0m.6-1.6h0m2.1 1.1h0m.6-1.2h0m.2.5h0m0 .4h0m.7-.3h0m.2.8h0m.4-1.2h0m.3 1.7h0m.2-.5h0m.5.4h0m.4-1.6h0m-14.3 3h0m.2-.4h0m.2.8h0m1.3-1.6h0m.8 2h0m.6-1h0m1.3-.5h0m.4.4h0m1.9 1.5h0m.5-1h0m.3 1.1h0m.6-1.5h0m1 .7h0m2.1.6h0m0-.1h0m.5-1.9h0m1.1 0h0m.7 0h0m-14.1 4.1h0m1.1-1.3h0m.2.5h0m.5 1.5h0m1.5-.3h0m.3-1.6h0m1.2 1.8h0m.8.1h0m.8-.3h0m0-1.1h0m.6.6h0m.2-.6h0m.7.4h0m.4.6h0m.8-1.6h0m1.4 2.1h0m1.4.6h0m1.1-.9h0m0-1.8h0m.4.6h0m0 1.4h0m.3-.5h0m.5.4h0m.4-1.7h0m1-.2h0m0 2.7h0m.2-1.9h0m-14.4 2.5h0m2.9.7h0m.4.5h0m.9-1.2h0m3.2.4h0m1.9-.3h0m.8 1.5h0m.2-2h0m.3 1.1h0m0 1.5h0m2.7-2.4h0m0 0h0m-9.9 3.2h0m1-.4h0m.2 1h0m.4-.2h0m.7-.2h0m4.3.5h0m.7.4h0m-1.6 1.7h0" stroke="#b5de2b" stroke-width="0.7" stroke-linecap="square" stroke-opacity="0.7"/>
<path d="M309.6 461h0m2.2-.1h0m.8.9h0m.8-.5h0m.4-1h0m.3-.2h0m1.7 1.1h0m.8 0h0m.2-.3h0m1 1h0m5.4-1h0m1.7-1h0m-15 3.8h0m1.4-1.3h0m.8 1.9h0m.4-.4h0m.8-1.4h0m.9.4h0m.9 1.2h0m3.7-.4h0m1.3-1.2h0m.2 2.4h0m4.2-2.8h0m.4 1.8h0m.2-1.8h0m.1 1.5h0m-13.9 3.5h0m.6-1.5h0m.9-.4h0m.2-.1h0m2.2 1.1h0m.8-.5h0m2.5 2h0m.4-1.2h0m2.8.1h0m.4 0h0m1.1.2h0m.6 1h0m.3-2.3h0m.6 1h0m-13.2 1.5h0m.9 1.2h0m1.3-.8h0m4.6 2h0m.2-2.3h0m.1 2.2h0m0-.5h0m1.3-.8h0m1.1.3h0m2.1 1.4h0m.7-1.9h0m.1 1.7h0m-8 1h0m1.9.3h0m.4-.3h0m.3.6h0m.5.3h0m.8 1.5h0m3.2-1.6h0m0-.6h0" stroke="#31688e" stroke-width="0.7" stroke-linecap="square" stroke-opacity="0.7"/>
<path d="M320 444.6h0m.2 1.3h0m1.8-1.3h0m2.1.7h0m-5 2.4h0m0 1.6h0m1.8-.7h0m1.2-.9h0m0 .9h0m1.5-.2h0m.1-.4h0m1.7.9h0m-6.6 2.8h0m2.2.3h0m1-1.1h0m1.2 1.9h0m2.2-1.3h0m.5.7h0m.5-.9h0m-7.5 3h0m4.5-.8h0m.3 2.4h0m3.9-.2h0m1.6-.8h0m-7.3 1.3h0m.4 1h0m4.6.9h0m1.6-.8h0m-8.9 1.8h0m1 .6h0m1.3 1.5h0m.6-1.2h0m.9.6h0m1.6 1.2h0m-6.4 2.7h0m4.2-2.2h0m1.1 0h0m-2.9 4.9h0m2.5-.3h0m0-1.8h0m.4.6h0m.3.9h0m1.9-1.5h0m.2.8h0m-7 2.9h0m1.9-.3h0m.8 1.5h0m.2-2h0m.3 1.1h0m-1.5 5.1h0" stroke="#ffffff" stroke-width="0.6" stroke-linecap="square" stroke-opacity="0.8"/>
<path d="M319.42 446.9C319.8 446.6 321.04 446.6 321.88 446.58C322.72 446.56 323.76 446.43 324.45 446.8C325.13 447.16 325.64 447.88 326.01 448.75C326.38 449.61 326.66 450.95 326.68 452C326.7 453.04 326.55 454.76 326.12 455.03C325.69 455.3 324.91 454.34 324.11 453.62C323.31 452.9 322.06 451.56 321.32 450.7C320.58 449.83 319.96 449.05 319.65 448.42C319.33 447.79 319.05 447.21 319.42 446.9Z" fill="#fff" fill-opacity="0.8"/>
</g>
<rect x="335" y="450" width="3.2" height="22" fill="url(#vir)" />
<text x="333.2" y="446.2" font-size="5.3" fill="#333" stroke="#333" stroke-width="0.16">Density</text>
<line x1="338.2" y1="451.6" x2="339" y2="451.6" stroke="#444" stroke-width="0.3" />
<text x="340" y="453.2" font-size="4.6" fill="#333" stroke="#333" stroke-width="0.16">0.04</text>
<line x1="338.2" y1="457.73" x2="339" y2="457.73" stroke="#444" stroke-width="0.3" />
<text x="340" y="459.33" font-size="4.6" fill="#333" stroke="#333" stroke-width="0.16">0.03</text>
<line x1="338.2" y1="463.87" x2="339" y2="463.87" stroke="#444" stroke-width="0.3" />
<text x="340" y="465.47" font-size="4.6" fill="#333" stroke="#333" stroke-width="0.16">0.02</text>
<line x1="338.2" y1="470" x2="339" y2="470" stroke="#444" stroke-width="0.3" />
<text x="340" y="471.6" font-size="4.6" fill="#333" stroke="#333" stroke-width="0.16">0.01</text>
<text x="226" y="421.2" font-size="6.2" fill="#333" stroke="#333" stroke-width="0.16" text-anchor="middle">UMAP 1</text>
<text x="310.8" y="421.2" font-size="6.2" fill="#333" stroke="#333" stroke-width="0.16" text-anchor="middle">UMAP 1</text>
<text x="226" y="490.2" font-size="6.2" fill="#333" stroke="#333" stroke-width="0.16" text-anchor="middle">UMAP 1</text>
<text x="310.8" y="490.2" font-size="6.2" fill="#333" stroke="#333" stroke-width="0.16" text-anchor="middle">UMAP 1</text>
<text x="372.2" y="364" font-size="10.5" fill="#000" font-weight="bold">j</text>
<text x="404.4" y="365.6" font-size="7.6" fill="#333" stroke="#333" stroke-width="0.16">Inhibitory receptors</text>
<rect x="403.8" y="371.2" width="1.32" height="7.4" fill="#1240f0" />
<rect x="405.12" y="371.2" width="51.48" height="7.4" fill="#1b9a50" />
<rect x="403.8" y="371.2" width="52.8" height="7.4" fill="none" stroke="#222" stroke-width="0.5" />
<text x="401.2" y="377.2" font-size="7.2" fill="#333" stroke="#333" stroke-width="0.16" text-anchor="end"><tspan>SM T</tspan><tspan dy="1.8" font-size="4.75">MEM</tspan></text>
<rect x="403.8" y="383.4" width="6.6" height="7.4" fill="#8e2a9a" />
<rect x="410.4" y="383.4" width="10.03" height="7.4" fill="#f08a20" />
<rect x="420.43" y="383.4" width="28.51" height="7.4" fill="#1240f0" />
<rect x="448.94" y="383.4" width="7.66" height="7.4" fill="#1b9a50" />
<rect x="403.8" y="383.4" width="52.8" height="7.4" fill="none" stroke="#222" stroke-width="0.5" />
<text x="401.2" y="389.4" font-size="7.2" fill="#333" stroke="#333" stroke-width="0.16" text-anchor="end"><tspan>SM T</tspan><tspan dy="1.8" font-size="4.75">TST</tspan></text>
<rect x="403.8" y="395.6" width="1.32" height="7.4" fill="#1240f0" />
<rect x="405.12" y="395.6" width="51.48" height="7.4" fill="#1b9a50" />
<rect x="403.8" y="395.6" width="52.8" height="7.4" fill="none" stroke="#222" stroke-width="0.5" />
<text x="401.2" y="401.6" font-size="7.2" fill="#333" stroke="#333" stroke-width="0.16" text-anchor="end"><tspan>SM T</tspan><tspan dy="1.8" font-size="4.75">BYS</tspan></text>
<line x1="403.8" y1="369.8" x2="403.8" y2="405.6" stroke="#444" stroke-width="0.5" />
<line x1="403.8" y1="405.6" x2="456.6" y2="405.6" stroke="#444" stroke-width="0.5" />
<line x1="403.8" y1="405.6" x2="403.8" y2="406.9" stroke="#444" stroke-width="0.5" />
<text x="403.8" y="413.8" font-size="6.2" fill="#333" stroke="#333" stroke-width="0.16" text-anchor="middle">0</text>
<line x1="417" y1="405.6" x2="417" y2="406.9" stroke="#444" stroke-width="0.5" />
<text x="417" y="413.8" font-size="6.2" fill="#333" stroke="#333" stroke-width="0.16" text-anchor="middle">25</text>
<line x1="430.2" y1="405.6" x2="430.2" y2="406.9" stroke="#444" stroke-width="0.5" />
<text x="430.2" y="413.8" font-size="6.2" fill="#333" stroke="#333" stroke-width="0.16" text-anchor="middle">50</text>
<line x1="443.4" y1="405.6" x2="443.4" y2="406.9" stroke="#444" stroke-width="0.5" />
<text x="443.4" y="413.8" font-size="6.2" fill="#333" stroke="#333" stroke-width="0.16" text-anchor="middle">75</text>
<line x1="456.6" y1="405.6" x2="456.6" y2="406.9" stroke="#444" stroke-width="0.5" />
<text x="456.6" y="413.8" font-size="6.2" fill="#333" stroke="#333" stroke-width="0.16" text-anchor="middle">100</text>
<text x="431.5" y="423.8" font-size="7.2" fill="#333" stroke="#333" stroke-width="0.16" text-anchor="middle">Frequency (%)</text>
<text x="468.6" y="377" font-size="6.9" fill="#333" stroke="#333" stroke-width="0.16">PD-1, TIM-3</text>
<text x="468.6" y="384.6" font-size="6.9" fill="#333" stroke="#333" stroke-width="0.16">LAG-3, 2B4</text>
<rect x="469.6" y="389.4" width="5" height="5" fill="#149a14" stroke="#333" stroke-width="0.4" />
<text x="478.2" y="394" font-size="6" fill="#333" stroke="#333" stroke-width="0.16">0</text>
<rect x="492.4" y="389.4" width="5" height="5" fill="#1240f0" stroke="#333" stroke-width="0.4" />
<text x="501" y="394" font-size="6" fill="#333" stroke="#333" stroke-width="0.16">1</text>
<rect x="469.6" y="396.8" width="5" height="5" fill="#f08a20" stroke="#333" stroke-width="0.4" />
<text x="478.2" y="401.4" font-size="6" fill="#333" stroke="#333" stroke-width="0.16">2</text>
<rect x="492.4" y="396.8" width="5" height="5" fill="#8e2a9a" stroke="#333" stroke-width="0.4" />
<text x="501" y="401.4" font-size="6" fill="#333" stroke="#333" stroke-width="0.16">3</text>
<rect x="469.6" y="404.2" width="5" height="5" fill="#8c8c8c" stroke="#333" stroke-width="0.4" />
<text x="478.2" y="408.8" font-size="6" fill="#333" stroke="#333" stroke-width="0.16">4</text>
<text x="404.4" y="434.8" font-size="7.4" fill="#333" stroke="#333" stroke-width="0.16">Cytokines and degranulation</text>
<rect x="403.8" y="440.6" width="18.48" height="7.4" fill="#f26a30" />
<rect x="422.28" y="440.6" width="13.73" height="7.4" fill="#8e2a9a" />
<rect x="436.01" y="440.6" width="8.71" height="7.4" fill="#1240f0" />
<rect x="444.72" y="440.6" width="9.77" height="7.4" fill="#1b9a50" />
<rect x="403.8" y="440.6" width="50.69" height="7.4" fill="none" stroke="#222" stroke-width="0.5" />
<text x="401.2" y="446.6" font-size="7.2" fill="#333" stroke="#333" stroke-width="0.16" text-anchor="end"><tspan>SM T</tspan><tspan dy="1.8" font-size="4.75">MEM</tspan></text>
<rect x="403.8" y="452.8" width="2.64" height="7.4" fill="#1240f0" />
<rect x="406.44" y="452.8" width="50.16" height="7.4" fill="#1b9a50" />
<rect x="403.8" y="452.8" width="52.8" height="7.4" fill="none" stroke="#222" stroke-width="0.5" />
<text x="401.2" y="458.8" font-size="7.2" fill="#333" stroke="#333" stroke-width="0.16" text-anchor="end"><tspan>SM T</tspan><tspan dy="1.8" font-size="4.75">TST</tspan></text>
<rect x="403.8" y="465" width="22.7" height="7.4" fill="#f26a30" />
<rect x="426.5" y="465" width="11.88" height="7.4" fill="#8e2a9a" />
<rect x="438.38" y="465" width="6.86" height="7.4" fill="#1240f0" />
<rect x="445.25" y="465" width="9.77" height="7.4" fill="#1b9a50" />
<rect x="403.8" y="465" width="51.22" height="7.4" fill="none" stroke="#222" stroke-width="0.5" />
<text x="401.2" y="471" font-size="7.2" fill="#333" stroke="#333" stroke-width="0.16" text-anchor="end"><tspan>SM T</tspan><tspan dy="1.8" font-size="4.75">BYS</tspan></text>
<line x1="403.8" y1="439.2" x2="403.8" y2="475" stroke="#444" stroke-width="0.5" />
<line x1="403.8" y1="475" x2="456.6" y2="475" stroke="#444" stroke-width="0.5" />
<line x1="403.8" y1="475" x2="403.8" y2="476.3" stroke="#444" stroke-width="0.5" />
<text x="403.8" y="483.2" font-size="6.2" fill="#333" stroke="#333" stroke-width="0.16" text-anchor="middle">0</text>
<line x1="417" y1="475" x2="417" y2="476.3" stroke="#444" stroke-width="0.5" />
<text x="417" y="483.2" font-size="6.2" fill="#333" stroke="#333" stroke-width="0.16" text-anchor="middle">25</text>
<line x1="430.2" y1="475" x2="430.2" y2="476.3" stroke="#444" stroke-width="0.5" />
<text x="430.2" y="483.2" font-size="6.2" fill="#333" stroke="#333" stroke-width="0.16" text-anchor="middle">50</text>
<line x1="443.4" y1="475" x2="443.4" y2="476.3" stroke="#444" stroke-width="0.5" />
<text x="443.4" y="483.2" font-size="6.2" fill="#333" stroke="#333" stroke-width="0.16" text-anchor="middle">75</text>
<line x1="456.6" y1="475" x2="456.6" y2="476.3" stroke="#444" stroke-width="0.5" />
<text x="456.6" y="483.2" font-size="6.2" fill="#333" stroke="#333" stroke-width="0.16" text-anchor="middle">100</text>
<text x="431.5" y="493.4" font-size="7.2" fill="#333" stroke="#333" stroke-width="0.16" text-anchor="middle">Frequency (%)</text>
<text x="468.6" y="447" font-size="6.9" fill="#333" stroke="#333" stroke-width="0.16">IFN-γ, TNF-α,</text>
<text x="468.6" y="454.8" font-size="6.9" fill="#333" stroke="#333" stroke-width="0.16">CD107a/CD107b</text>
<rect x="469.6" y="460.2" width="5" height="5" fill="#1b9a50" stroke="#333" stroke-width="0.4" />
<text x="478.2" y="464.8" font-size="6" fill="#333" stroke="#333" stroke-width="0.16">0</text>
<rect x="492.4" y="460.2" width="5" height="5" fill="#1240f0" stroke="#333" stroke-width="0.4" />
<text x="501" y="464.8" font-size="6" fill="#333" stroke="#333" stroke-width="0.16">1</text>
<rect x="469.6" y="467.6" width="5" height="5" fill="#8e2a9a" stroke="#333" stroke-width="0.4" />
<text x="478.2" y="472.2" font-size="6" fill="#333" stroke="#333" stroke-width="0.16">2</text>
<rect x="492.4" y="467.6" width="5" height="5" fill="#f26a30" stroke="#333" stroke-width="0.4" />
<text x="501" y="472.2" font-size="6" fill="#333" stroke="#333" stroke-width="0.16">3</text>
<text x="-0.4" y="506.8" font-size="10.5" fill="#000" font-weight="bold">k</text>
<text x="44" y="505.4" font-size="7" fill="#2a50f0" stroke="#2a50f0" stroke-width="0.16"><tspan>T</tspan><tspan dy="1.75" font-size="4.34">MEM</tspan></text>
<text x="63.2" y="505" font-size="6.6" fill="#333" stroke="#333" stroke-width="0.16">|</text>
<text x="66.6" y="505.4" font-size="7" fill="#555" stroke="#555" stroke-width="0.16"><tspan>T</tspan><tspan dy="1.75" font-size="4.34">TST</tspan></text>
<text x="79.8" y="505" font-size="6.6" fill="#333" stroke="#333" stroke-width="0.16">|</text>
<text x="83" y="505.4" font-size="7" fill="#f04a30" stroke="#f04a30" stroke-width="0.16"><tspan>T</tspan><tspan dy="1.75" font-size="4.34">BYS</tspan></text>
<line x1="44.8" y1="516.2" x2="74.5" y2="516.2" stroke="#2a55e8" stroke-width="0.7" stroke-opacity="0.8"/>
<line x1="44.8" y1="523" x2="74.5" y2="523" stroke="#2a55e8" stroke-width="0.8" />
<line x1="74.5" y1="516.2" x2="74.5" y2="523" stroke="#2a55e8" stroke-width="0.7" />
<circle cx="69.5" cy="518.6" r="1.85" fill="#1a40e0" stroke="#111" stroke-width="0.45" />
<circle cx="71.5" cy="520.6" r="1.85" fill="#1a40e0" stroke="#111" stroke-width="0.45" />
<circle cx="73" cy="519.6" r="1.85" fill="#1a40e0" stroke="#111" stroke-width="0.45" />
<circle cx="72" cy="519.1" r="1.85" fill="#1a40e0" stroke="#111" stroke-width="0.45" />
<circle cx="82" cy="520.4" r="1.85" fill="#1a40e0" stroke="#111" stroke-width="0.45" />
<line x1="44.8" y1="527.3" x2="56.5" y2="527.3" stroke="#222222" stroke-width="0.7" stroke-opacity="0.8"/>
<line x1="44.8" y1="533.5" x2="56.5" y2="533.5" stroke="#222222" stroke-width="0.8" />
<line x1="56.5" y1="527.3" x2="56.5" y2="533.5" stroke="#222222" stroke-width="0.7" />
<circle cx="53" cy="529.4" r="1.85" fill="#333333" stroke="#111" stroke-width="0.45" />
<circle cx="55" cy="531.4" r="1.85" fill="#333333" stroke="#111" stroke-width="0.45" />
<circle cx="57" cy="530.4" r="1.85" fill="#333333" stroke="#111" stroke-width="0.45" />
<circle cx="58" cy="529.9" r="1.85" fill="#333333" stroke="#111" stroke-width="0.45" />
<line x1="44.8" y1="537.4" x2="76" y2="537.4" stroke="#f04a30" stroke-width="0.7" stroke-opacity="0.8"/>
<line x1="44.8" y1="543.9" x2="76" y2="543.9" stroke="#f04a30" stroke-width="0.8" />
<line x1="76" y1="537.4" x2="76" y2="543.9" stroke="#f04a30" stroke-width="0.7" />
<circle cx="75.5" cy="539.65" r="1.85" fill="#f03a1a" stroke="#111" stroke-width="0.45" />
<circle cx="77.5" cy="541.65" r="1.85" fill="#f03a1a" stroke="#111" stroke-width="0.45" />
<circle cx="79.5" cy="540.65" r="1.85" fill="#f03a1a" stroke="#111" stroke-width="0.45" />
<circle cx="81" cy="540.15" r="1.85" fill="#f03a1a" stroke="#111" stroke-width="0.45" />
<circle cx="87" cy="541.45" r="1.85" fill="#f03a1a" stroke="#111" stroke-width="0.45" />
<line x1="44.8" y1="555.1" x2="53" y2="555.1" stroke="#2a55e8" stroke-width="0.7" stroke-opacity="0.8"/>
<line x1="44.8" y1="561.1" x2="53" y2="561.1" stroke="#2a55e8" stroke-width="0.8" />
<line x1="53" y1="555.1" x2="53" y2="561.1" stroke="#2a55e8" stroke-width="0.7" />
<circle cx="51.5" cy="557.1" r="1.85" fill="#1a40e0" stroke="#111" stroke-width="0.45" />
<circle cx="53" cy="559.1" r="1.85" fill="#1a40e0" stroke="#111" stroke-width="0.45" />
<circle cx="54.5" cy="558.1" r="1.85" fill="#1a40e0" stroke="#111" stroke-width="0.45" />
<circle cx="55" cy="557.6" r="1.85" fill="#1a40e0" stroke="#111" stroke-width="0.45" />
<line x1="44.8" y1="565.5" x2="48.5" y2="565.5" stroke="#222222" stroke-width="0.7" stroke-opacity="0.8"/>
<line x1="44.8" y1="571.2" x2="48.5" y2="571.2" stroke="#222222" stroke-width="0.8" />
<line x1="48.5" y1="565.5" x2="48.5" y2="571.2" stroke="#222222" stroke-width="0.7" />
<circle cx="46.5" cy="567.35" r="1.85" fill="#333333" stroke="#111" stroke-width="0.45" />
<circle cx="48" cy="569.35" r="1.85" fill="#333333" stroke="#111" stroke-width="0.45" />
<circle cx="49.5" cy="568.35" r="1.85" fill="#333333" stroke="#111" stroke-width="0.45" />
<circle cx="50.5" cy="567.85" r="1.85" fill="#333333" stroke="#111" stroke-width="0.45" />
<line x1="44.8" y1="576" x2="52" y2="576" stroke="#f04a30" stroke-width="0.7" stroke-opacity="0.8"/>
<line x1="44.8" y1="582.4" x2="52" y2="582.4" stroke="#f04a30" stroke-width="0.8" />
<line x1="52" y1="576" x2="52" y2="582.4" stroke="#f04a30" stroke-width="0.7" />
<circle cx="50" cy="578.2" r="1.85" fill="#f03a1a" stroke="#111" stroke-width="0.45" />
<circle cx="51.5" cy="580.2" r="1.85" fill="#f03a1a" stroke="#111" stroke-width="0.45" />
<circle cx="53" cy="579.2" r="1.85" fill="#f03a1a" stroke="#111" stroke-width="0.45" />
<circle cx="54.5" cy="578.7" r="1.85" fill="#f03a1a" stroke="#111" stroke-width="0.45" />
<line x1="44.8" y1="593.2" x2="58.7" y2="593.2" stroke="#2a55e8" stroke-width="0.7" stroke-opacity="0.8"/>
<line x1="44.8" y1="599.4" x2="58.7" y2="599.4" stroke="#2a55e8" stroke-width="0.8" />
<line x1="58.7" y1="593.2" x2="58.7" y2="599.4" stroke="#2a55e8" stroke-width="0.7" />
<circle cx="57" cy="595.3" r="1.85" fill="#1a40e0" stroke="#111" stroke-width="0.45" />
<circle cx="58.5" cy="597.3" r="1.85" fill="#1a40e0" stroke="#111" stroke-width="0.45" />
<circle cx="60" cy="596.3" r="1.85" fill="#1a40e0" stroke="#111" stroke-width="0.45" />
<circle cx="61" cy="595.8" r="1.85" fill="#1a40e0" stroke="#111" stroke-width="0.45" />
<line x1="44.8" y1="603.3" x2="63" y2="603.3" stroke="#222222" stroke-width="0.7" stroke-opacity="0.8"/>
<line x1="44.8" y1="610.6" x2="63" y2="610.6" stroke="#222222" stroke-width="0.8" />
<line x1="63" y1="603.3" x2="63" y2="610.6" stroke="#222222" stroke-width="0.7" />
<circle cx="61.5" cy="605.95" r="1.85" fill="#333333" stroke="#111" stroke-width="0.45" />
<circle cx="63" cy="607.95" r="1.85" fill="#333333" stroke="#111" stroke-width="0.45" />
<circle cx="64.5" cy="606.95" r="1.85" fill="#333333" stroke="#111" stroke-width="0.45" />
<circle cx="66" cy="606.45" r="1.85" fill="#333333" stroke="#111" stroke-width="0.45" />
<line x1="44.8" y1="614.5" x2="57" y2="614.5" stroke="#f04a30" stroke-width="0.7" stroke-opacity="0.8"/>
<line x1="44.8" y1="620.3" x2="57" y2="620.3" stroke="#f04a30" stroke-width="0.8" />
<line x1="57" y1="614.5" x2="57" y2="620.3" stroke="#f04a30" stroke-width="0.7" />
<circle cx="55" cy="616.4" r="1.85" fill="#f03a1a" stroke="#111" stroke-width="0.45" />
<circle cx="56.5" cy="618.4" r="1.85" fill="#f03a1a" stroke="#111" stroke-width="0.45" />
<circle cx="58" cy="617.4" r="1.85" fill="#f03a1a" stroke="#111" stroke-width="0.45" />
<circle cx="59.5" cy="616.9" r="1.85" fill="#f03a1a" stroke="#111" stroke-width="0.45" />
<line x1="44.8" y1="631.4" x2="61" y2="631.4" stroke="#2a55e8" stroke-width="0.7" stroke-opacity="0.8"/>
<line x1="44.8" y1="638.3" x2="61" y2="638.3" stroke="#2a55e8" stroke-width="0.8" />
<line x1="61" y1="631.4" x2="61" y2="638.3" stroke="#2a55e8" stroke-width="0.7" />
<circle cx="59" cy="633.85" r="1.85" fill="#1a40e0" stroke="#111" stroke-width="0.45" />
<circle cx="60.5" cy="635.85" r="1.85" fill="#1a40e0" stroke="#111" stroke-width="0.45" />
<circle cx="61.5" cy="634.85" r="1.85" fill="#1a40e0" stroke="#111" stroke-width="0.45" />
<circle cx="62.5" cy="634.35" r="1.85" fill="#1a40e0" stroke="#111" stroke-width="0.45" />
<line x1="44.8" y1="642.3" x2="73" y2="642.3" stroke="#222222" stroke-width="0.7" stroke-opacity="0.8"/>
<line x1="44.8" y1="648.3" x2="73" y2="648.3" stroke="#222222" stroke-width="0.8" />
<line x1="73" y1="642.3" x2="73" y2="648.3" stroke="#222222" stroke-width="0.7" />
<circle cx="67.5" cy="644.3" r="1.85" fill="#333333" stroke="#111" stroke-width="0.45" />
<circle cx="70" cy="646.3" r="1.85" fill="#333333" stroke="#111" stroke-width="0.45" />
<circle cx="73" cy="645.3" r="1.85" fill="#333333" stroke="#111" stroke-width="0.45" />
<circle cx="75" cy="644.8" r="1.85" fill="#333333" stroke="#111" stroke-width="0.45" />
<circle cx="77" cy="646.1" r="1.85" fill="#333333" stroke="#111" stroke-width="0.45" />
<line x1="44.8" y1="651.9" x2="56" y2="651.9" stroke="#f04a30" stroke-width="0.7" stroke-opacity="0.8"/>
<line x1="44.8" y1="659.1" x2="56" y2="659.1" stroke="#f04a30" stroke-width="0.8" />
<line x1="56" y1="651.9" x2="56" y2="659.1" stroke="#f04a30" stroke-width="0.7" />
<circle cx="52" cy="654.5" r="1.85" fill="#f03a1a" stroke="#111" stroke-width="0.45" />
<circle cx="54" cy="656.5" r="1.85" fill="#f03a1a" stroke="#111" stroke-width="0.45" />
<circle cx="56" cy="655.5" r="1.85" fill="#f03a1a" stroke="#111" stroke-width="0.45" />
<circle cx="58" cy="655" r="1.85" fill="#f03a1a" stroke="#111" stroke-width="0.45" />
<circle cx="59.5" cy="656.3" r="1.85" fill="#f03a1a" stroke="#111" stroke-width="0.45" />
<line x1="74.5" y1="519.6" x2="80" y2="519.6" stroke="#111" stroke-width="0.5" />
<line x1="80" y1="518.1" x2="80" y2="521.1" stroke="#111" stroke-width="0.5" />
<line x1="44.8" y1="511" x2="44.8" y2="663.8" stroke="#aaa" stroke-width="0.8" />
<line x1="44.8" y1="663.8" x2="92.05" y2="663.8" stroke="#444" stroke-width="0.5" />
<line x1="44.8" y1="663.8" x2="44.8" y2="665.1" stroke="#444" stroke-width="0.5" />
<text x="44.8" y="671.2" font-size="6.2" fill="#333" stroke="#333" stroke-width="0.16" text-anchor="middle">0</text>
<line x1="54.25" y1="663.8" x2="54.25" y2="665.1" stroke="#444" stroke-width="0.5" />
<text x="54.25" y="671.2" font-size="6.2" fill="#333" stroke="#333" stroke-width="0.16" text-anchor="middle">1</text>
<line x1="63.7" y1="663.8" x2="63.7" y2="665.1" stroke="#444" stroke-width="0.5" />
<text x="63.7" y="671.2" font-size="6.2" fill="#333" stroke="#333" stroke-width="0.16" text-anchor="middle">2</text>
<line x1="73.15" y1="663.8" x2="73.15" y2="665.1" stroke="#444" stroke-width="0.5" />
<text x="73.15" y="671.2" font-size="6.2" fill="#333" stroke="#333" stroke-width="0.16" text-anchor="middle">3</text>
<line x1="82.6" y1="663.8" x2="82.6" y2="665.1" stroke="#444" stroke-width="0.5" />
<text x="82.6" y="671.2" font-size="6.2" fill="#333" stroke="#333" stroke-width="0.16" text-anchor="middle">4</text>
<line x1="92.05" y1="663.8" x2="92.05" y2="665.1" stroke="#444" stroke-width="0.5" />
<text x="92.05" y="671.2" font-size="6.2" fill="#333" stroke="#333" stroke-width="0.16" text-anchor="middle">5</text>
<line x1="43.1" y1="530" x2="44.8" y2="530" stroke="#444" stroke-width="0.5" />
<text x="41.4" y="532" font-size="6.4" fill="#333" stroke="#333" stroke-width="0.16" text-anchor="end">TCF-1</text>
<line x1="43.1" y1="568.8" x2="44.8" y2="568.8" stroke="#444" stroke-width="0.5" />
<text x="41.4" y="570.8" font-size="6.4" fill="#333" stroke="#333" stroke-width="0.16" text-anchor="end">Eomes</text>
<line x1="43.1" y1="607.4" x2="44.8" y2="607.4" stroke="#444" stroke-width="0.5" />
<text x="41.4" y="609.4" font-size="6.4" fill="#333" stroke="#333" stroke-width="0.16" text-anchor="end">T-bet</text>
<line x1="43.1" y1="645.6" x2="44.8" y2="645.6" stroke="#444" stroke-width="0.5" />
<text x="41.4" y="647.6" font-size="6.4" fill="#333" stroke="#333" stroke-width="0.16" text-anchor="end">TOX</text>
<text x="16.8" y="591.6" font-size="7" fill="#333" stroke="#333" stroke-width="0.16" text-anchor="middle" transform="rotate(-90 16.8 591.6)"><tspan>TFs of SM CD4</tspan><tspan dy="-2.66" font-size="4.34">+</tspan><tspan dy="2.66"> T cells</tspan></text>
<text x="68.4" y="683.6" font-size="6.8" fill="#333" stroke="#333" stroke-width="0.16" text-anchor="middle"><tspan>MFI (×10</tspan><tspan dy="-2.58" font-size="4.22">3</tspan><tspan dy="2.58">)</tspan></text>
<line x1="90.4" y1="518.7" x2="90.4" y2="528.8" stroke="#333" stroke-width="0.45" />
<text x="91.3" y="523.75" font-size="4.7" fill="#333" stroke="#333" stroke-width="0.16" text-anchor="middle" transform="rotate(90 91.3 523.75)">P = 0.0072</text>
<line x1="98.7" y1="527.3" x2="98.7" y2="540.3" stroke="#333" stroke-width="0.45" />
<text x="99.6" y="533.8" font-size="4.7" fill="#333" stroke="#333" stroke-width="0.16" text-anchor="middle" transform="rotate(90 99.6 533.8)">P = 0.0001</text>
<line x1="105" y1="518.7" x2="105" y2="540.3" stroke="#333" stroke-width="0.45" />
<text x="105.9" y="529.5" font-size="4.7" fill="#333" stroke="#333" stroke-width="0.16" text-anchor="middle" transform="rotate(90 105.9 529.5)">P = 0.3582</text>
<line x1="61.3" y1="557.5" x2="61.3" y2="568.3" stroke="#333" stroke-width="0.45" />
<text x="62.2" y="562.9" font-size="4.7" fill="#333" stroke="#333" stroke-width="0.16" text-anchor="middle" transform="rotate(90 62.2 562.9)">P = 0.0039</text>
<line x1="68.8" y1="568.3" x2="68.8" y2="579.9" stroke="#333" stroke-width="0.45" />
<text x="69.7" y="574.1" font-size="4.7" fill="#333" stroke="#333" stroke-width="0.16" text-anchor="middle" transform="rotate(90 69.7 574.1)">P = 0.0040</text>
<line x1="74.5" y1="557.5" x2="74.5" y2="579.9" stroke="#333" stroke-width="0.45" />
<text x="75.4" y="568.7" font-size="4.7" fill="#333" stroke="#333" stroke-width="0.16" text-anchor="middle" transform="rotate(90 75.4 568.7)">P = 0.6669</text>
<line x1="70.5" y1="595.8" x2="70.5" y2="606.6" stroke="#333" stroke-width="0.45" />
<text x="71.4" y="601.2" font-size="4.7" fill="#333" stroke="#333" stroke-width="0.16" text-anchor="middle" transform="rotate(90 71.4 601.2)">P = 0.0015</text>
<line x1="77.7" y1="606.6" x2="77.7" y2="617.4" stroke="#333" stroke-width="0.45" />
<text x="78.6" y="612" font-size="4.7" fill="#333" stroke="#333" stroke-width="0.16" text-anchor="middle" transform="rotate(90 78.6 612)"><tspan>P = 1.5 × 10</tspan><tspan dy="-1.79" font-size="2.91">−4</tspan></text>
<line x1="84.9" y1="595.8" x2="84.9" y2="617.4" stroke="#333" stroke-width="0.45" />
<text x="85.8" y="606.6" font-size="4.7" fill="#333" stroke="#333" stroke-width="0.16" text-anchor="middle" transform="rotate(90 85.8 606.6)">P = 0.1807</text>
<line x1="81.5" y1="634.7" x2="81.5" y2="645.5" stroke="#333" stroke-width="0.45" />
<text x="82.4" y="640.1" font-size="4.7" fill="#333" stroke="#333" stroke-width="0.16" text-anchor="middle" transform="rotate(90 82.4 640.1)">P = 0.0039</text>
<line x1="88.7" y1="645.5" x2="88.7" y2="655.5" stroke="#333" stroke-width="0.45" />
<text x="89.6" y="650.5" font-size="4.7" fill="#333" stroke="#333" stroke-width="0.16" text-anchor="middle" transform="rotate(90 89.6 650.5)">P = 0.0002</text>
<line x1="95" y1="634.7" x2="95" y2="655.5" stroke="#333" stroke-width="0.45" />
<text x="95.9" y="645.1" font-size="4.7" fill="#333" stroke="#333" stroke-width="0.16" text-anchor="middle" transform="rotate(90 95.9 645.1)">P = 0.1460</text>
<text x="127" y="506.2" font-size="10.5" fill="#000" font-weight="bold">l</text>
<circle cx="175.8" cy="500.8" r="2.6" fill="#ecc624" />
<text x="181" y="503.4" font-size="6.8" fill="#333" stroke="#333" stroke-width="0.16"><tspan>SM T</tspan><tspan dy="1.7" font-size="4.22">BYS</tspan></text>
<circle cx="219.6" cy="500.8" r="2.6" fill="#3a9db6" />
<text x="224.8" y="503.4" font-size="6.8" fill="#333" stroke="#333" stroke-width="0.16"><tspan>SM T</tspan><tspan dy="1.7" font-size="4.22">MEM</tspan></text>
<line x1="161.4" y1="534.2" x2="161.4" y2="638.6" stroke="#444" stroke-width="0.6" />
<line x1="161.4" y1="638.6" x2="270" y2="638.6" stroke="#444" stroke-width="0.6" />
<line x1="160" y1="548.1" x2="161.4" y2="548.1" stroke="#444" stroke-width="0.5" />
<text x="158.2" y="550.3" font-size="6.2" fill="#333" stroke="#333" stroke-width="0.16" text-anchor="end">0</text>
<line x1="160" y1="582.4" x2="161.4" y2="582.4" stroke="#444" stroke-width="0.5" />
<text x="158.2" y="584.6" font-size="6.2" fill="#333" stroke="#333" stroke-width="0.16" text-anchor="end">−0.05</text>
<line x1="160" y1="616.7" x2="161.4" y2="616.7" stroke="#444" stroke-width="0.5" />
<text x="158.2" y="618.9" font-size="6.2" fill="#333" stroke="#333" stroke-width="0.16" text-anchor="end">−0.10</text>
<line x1="171.8" y1="638.6" x2="171.8" y2="640" stroke="#444" stroke-width="0.5" />
<text x="171.8" y="648" font-size="6.2" fill="#333" stroke="#333" stroke-width="0.16" text-anchor="middle">−0.2</text>
<line x1="191.3" y1="638.6" x2="191.3" y2="640" stroke="#444" stroke-width="0.5" />
<text x="191.3" y="648" font-size="6.2" fill="#333" stroke="#333" stroke-width="0.16" text-anchor="middle">−0.1</text>
<line x1="210.8" y1="638.6" x2="210.8" y2="640" stroke="#444" stroke-width="0.5" />
<text x="210.8" y="648" font-size="6.2" fill="#333" stroke="#333" stroke-width="0.16" text-anchor="middle">0</text>
<line x1="230.3" y1="638.6" x2="230.3" y2="640" stroke="#444" stroke-width="0.5" />
<text x="230.3" y="648" font-size="6.2" fill="#333" stroke="#333" stroke-width="0.16" text-anchor="middle">0.1</text>
<line x1="249.8" y1="638.6" x2="249.8" y2="640" stroke="#444" stroke-width="0.5" />
<text x="249.8" y="648" font-size="6.2" fill="#333" stroke="#333" stroke-width="0.16" text-anchor="middle">0.2</text>
<line x1="269.3" y1="638.6" x2="269.3" y2="640" stroke="#444" stroke-width="0.5" />
<text x="269.3" y="648" font-size="6.2" fill="#333" stroke="#333" stroke-width="0.16" text-anchor="middle">0.3</text>
<text x="217.6" y="659.6" font-size="6.8" fill="#333" stroke="#333" stroke-width="0.16" text-anchor="middle"><tspan>T</tspan><tspan dy="1.7" font-size="4.22">CM</tspan><tspan dy="-1.7"> score</tspan></text>
<text x="134.2" y="586" font-size="7" fill="#333" stroke="#333" stroke-width="0.16" text-anchor="middle" transform="rotate(-90 134.2 586)"><tspan>T</tspan><tspan dy="1.75" font-size="4.34">SM</tspan><tspan dy="-1.75"> score</tspan></text>
<g clip-path="url(#lclip)">
<ellipse cx="208.5" cy="574.0" rx="22" ry="20" fill="#ecc624" filter="url(#blur6)"/>
<path d="M179.5 533h0m18.8 3.3h0m-8.9.9h0m4.1 2.6h0m18.5-.7h0m.3-.3h0m-13 1.3h0m.2 1.8h0m3.3.1h0m15.8-.4h0m6.7 1.3h0m9.6-.6h0m-40.2 2.6h0m11.1-.7h0m.6.4h0m2.2 1h0m2-.1h0m.8-2.4h0m1.6 1h0m.1 0h0m2.2.8h0m6.4-1.3h0m-34.8 4.9h0m.3-.5h0m4-1.4h0m1.8 1.2h0m1.4-.7h0m3.6-.2h0m3 .9h0m3.2-.1h0m4.1-.4h0m3.4-.5h0m6.2.2h0m2.2-.5h0m3.7 2h0m4.5.1h0m-51.3 1.6h0m17.8-.4h0m.9-.2h0m1.9 1.8h0m3.4-1.5h0m1.4 1.9h0m.7-2.6h0m1.7 1.3h0m.5-.3h0m2.3-.1h0m.2.7h0m4.3-.4h0m2.3-.3h0m.1.9h0m.6.4h0m.6-2.1h0m2.7.3h0m2.9.2h0m3.2 1h0m.4-1.2h0m1-.6h0m4.8 1.3h0m3.5-.1h0m-56.8 3.9h0m9.4.8h0m2.4 0h0m2.4-.8h0m0-1.5h0m.1.6h0m.5-1h0m1.9 1h0m.2 1.6h0m.5-.5h0m.8.2h0m.3-1.5h0m3.2 1.8h0m.8-1.3h0m.1-.8h0m1-.5h0m1.1.2h0m1.5 0h0m.5 2h0m.8-2.4h0m.2 1.1h0m.4-.6h0m1 .3h0m.7-.4h0m.5 1.6h0m1.4.5h0m1.1.2h0m5.9.1h0m.1-.4h0m1.6-1.1h0m1.2 1.5h0m2.9-.5h0m.7-1.8h0m6 .4h0m.4-.1h0m2.4 1.2h0m2.2.9h0m-52.1 2.1h0m0 .2h0m.9 0h0m5.5.5h0m.6-.3h0m1.9-1.3h0m1.9-.8h0m1.4 2.1h0m1.2.5h0m6.1-1.8h0m.8-1h0m.1.5h0m.2 1h0m.9.7h0m2.5-.3h0m.7-1.6h0m.5 1.8h0m0-.1h0m.5-.6h0m.2.3h0m1 .1h0m.1.9h0m0-.5h0m1.3-2.3h0m.5 2.6h0m0-1.9h0m.9.8h0m.5-1h0m.6.7h0m1.6.2h0m.1-.5h0m.2.3h0m1.4-.5h0m1.7.7h0m.3-.6h0m1.2.3h0m1.8-.3h0m.5.8h0m1.2.8h0m.5-2.3h0m3.3 2.4h0m.1-2h0m.9 1.2h0m.8-.9h0m3.6 2h0m4.1-2.5h0m-51.1 4.1h0m1.7-1.3h0m2.4 1.7h0m3.4.3h0m.7-1.1h0m1.3 1.7h0m.2-.4h0m.8-1.8h0m0 .9h0m.2.1h0m1.1.2h0m.2-.5h0m1.3-.1h0m.2-.8h0m0 .4h0m.5 2h0m.7-2h0m.1-.3h0m.2 1.3h0m.9-1.3h0m0 2.3h0m.1-2.4h0m.4 1.5h0m.3-.9h0m.3-.8h0m.6 1.6h0m.1-.7h0m.4 1.1h0m.5-1.3h0m.1 1.7h0m.5-1.6h0m.3 1.7h0m.6-2.5h0m1.6 2h0m.2-1.4h0m.4 1.9h0m.2-1.4h0m.8.1h0m.2-.9h0m0 1.3h0m.2.9h0m.3-1h0m.2-.7h0m.2 1.7h0m.9-2.4h0m.3.1h0m0 0h0m.1-.3h0m.4 2.7h0m.2-1.1h0m.1-.4h0m0-.1h0m0 .7h0m.3-.7h0m.2-.2h0m.1.9h0m.2-1.1h0m.4 1.8h0m.6-1.3h0m.3 1.2h0m.8.4h0m.1-1.6h0m.7 1.3h0m.4-1.3h0m1.2 1.3h0m.3-1.6h0m0-.3h0m1.4-.5h0m.1 1.8h0m.5.8h0m.7-2.6h0m.1 1.3h0m.9 1.5h0m.4-.9h0m0 .5h0m1.3-.1h0m.2-.2h0m1.5-.1h0m1-1.8h0m1.6 1.8h0m.1-1.9h0m.2 1.8h0m1.2-.1h0m0 .5h0m1.4-1.7h0m.7.6h0m1.9 1.4h0m2.8-2.7h0m9.2 2.2h0m-74.2 3.3h0m5.7-1.2h0m6.8-.3h0m2.8.8h0m1-.9h0m2-.5h0m2.2 2.4h0m.1-1h0m.1-.5h0m.4.1h0m1.5 1.1h0m.3-.6h0m1.8-1.3h0m.7-.6h0m0 1.4h0m.4 1.1h0m.4-.1h0m.6.4h0m.3-1.7h0m.4.4h0m.1-1.5h0m0 0h0m.9 2.4h0m0-.8h0m.6-.1h0m.7-1.1h0m.7.1h0m.7 1.2h0m.4-1.4h0m.5 1.7h0m.2-1.6h0m.9 2.3h0m0-1.6h0m.5 1.5h0m.3.2h0m.4 0h0m.6-2.5h0m.8 1.4h0m.3.9h0m.1-1.7h0m.1.8h0m.1.5h0m.5-2.2h0m.3.8h0m.8 1.3h0m0-1.7h0m.4.6h0m.9-.2h0m0-.3h0m0 .3h0m.1-.4h0m.6.1h0m.4.7h0m.3-.3h0m.8 2h0m.1-.2h0m.3-.8h0m0-.1h0m.4 1.1h0m.6-2.9h0m.4.7h0m.1 1.2h0m.5-.7h0m.4-.7h0m1 2h0m.4-.1h0m.3.1h0m.1-.7h0m.1.9h0m.3-.3h0m0-.8h0m.3-.2h0m0-1.2h0m.1 2.6h0m.2-2.5h0m1 .5h0m.6 1.4h0m.1.1h0m.8-2.2h0m.2 2.2h0m.1-2.1h0m1.1 0h0m.5 1.5h0m.4 1.1h0m.3-.8h0m0-.8h0m.7 1.4h0m1.5-.4h0m.5-1h0m0-1.2h0m.2 1h0m.1.7h0m.8-1h0m0 2.2h0m2.2-1.5h0m.5.8h0m.6.5h0m.6-2.5h0m.3 0h0m2.1 2.6h0m.3-1.5h0m.6.4h0m1.5 1.1h0m.9 0h0m.8-.4h0m3.6-.3h0m-64 .9h0m3.8 2.1h0m2-.1h0m3.6-2h0m1.6 1.8h0m0 .7h0m0-.1h0m.9-1.5h0m.3-.6h0m.8 1.9h0m.1-2.1h0m.1 1.5h0m.9.3h0m.4-1.1h0m0 .1h0m1 1.5h0m.1-1.8h0m.5.2h0m.3 1.7h0m.3-1.9h0m.5-.1h0m.3.2h0m.5.4h0m.5.9h0m.2-.5h0m.8.2h0m.1.4h0m.4.3h0m.2.2h0m.1-1.2h0m1-.5h0m.8-.3h0m.4 1.9h0m.4-.1h0m.4-.1h0m.1-.4h0m.3-1.8h0m.3 2.5h0m1-.6h0m1.1-2h0m.4.7h0m.4.1h0m.1 1.7h0m0-2.1h0m0 2.5h0m.1-.1h0m.1-.5h0m.2-1.9h0m.5 0h0m.1.7h0m.2 1.4h0m.9 0h0m.1-1.5h0m0-.1h0m.2-.4h0m0 .5h0m.7 0h0m.1-.9h0m.3-.1h0m0 0h0m.5.4h0m.4 1.6h0m.2-.1h0m.3.3h0m.6.7h0m.1-2.4h0m.1 2.2h0m.1.2h0m1.9-.3h0m.2-2.3h0m.2.6h0m0 .6h0m.2 0h0m.2-.6h0m.2 1h0m.1-1.4h0m.8 2.4h0m.1-2.4h0m.2 2h0m.1-.3h0m.1.5h0m.1-1h0m0 .5h0m.1-1.9h0m.1 1h0m.2 1h0m.2 0h0m.5-.1h0m0-2.1h0m.3 2.2h0m0-2.1h0m.1 1h0m0 .4h0m.4 1h0m.1-2h0m.2 2.1h0m.3-.3h0m.2-2.4h0m.1 2.9h0m0-.5h0m0-1.3h0m.3 0h0m.1 1.4h0m.7-1.7h0m1.1-.4h0m.5 1h0m.3-.7h0m.2.9h0m.1-1.1h0m0 2.1h0m.1-.6h0m.1-.8h0m.2-1.2h0m0 2.6h0m.3-2.5h0m0 .4h0m.6.1h0m.3.8h0m0-1.1h0m1.9-.1h0m.5 1.3h0m.7-.1h0m.1-1.1h0m.7 1.4h0m1.2-.7h0m.2.1h0m.8.9h0m.3-.9h0m.4-.7h0m.5.8h0m0 .4h0m.7-.8h0m2.9 1.4h0m1.4-1.5h0m4.4.2h0m.9 1.7h0m3.8-2.5h0m-71.1 4.5h0m.7-.5h0m8.6 1.7h0m.1-1.9h0m.2-.9h0m1.6 1.9h0m1.2-.8h0m1.5-.9h0m1.4 1.7h0m.5-1h0m.8.9h0m2.1.1h0m.1-.1h0m0-1.4h0m1.7.7h0m.4-.7h0m.4.7h0m.7 1.4h0m0-.9h0m2-.3h0m1.4 1h0m.1.6h0m.6-1.9h0m0 0h0m.1 1.5h0m.3-1h0m.5.5h0m.1 0h0m.3-1.3h0m.1-.4h0m0 2h0m.3-1.5h0m.4 1.5h0m.2-2h0m.5 2.1h0m.2.3h0m0-.7h0m.5.5h0m0 .1h0m.3-.5h0m.1-1.7h0m1 1.2h0m0-.3h0m0 1.6h0m.4-2.8h0m0 2.7h0m.2-.7h0m0-.7h0m.7-1h0m.1.4h0m.5 1.4h0m.3-1.6h0m0 .8h0m.5-.8h0m0 1.7h0m.1-1.1h0m.6-.6h0m.6 2h0m.2-.5h0m.7-2h0m0 .9h0m.8 1.3h0m.1.2h0m.3-2.5h0m.1.5h0m.1.6h0m.1.3h0m.2.6h0m.1-1.2h0m.5-.1h0m.5.6h0m.3 1.5h0m0-1.5h0m.5 1.5h0m.3-2.7h0m.2 2.7h0m0-.8h0m.1-1h0m.1 1.7h0m.2-2.7h0m.2 1.8h0m.1-.1h0m.2-1.6h0m.2 2h0m.1-1.2h0m.1.7h0m.3.9h0m.1-1.8h0m.4 1.4h0m.1-.1h0m.4-.8h0m.3-.7h0m.3 1.7h0m.1-.6h0m.2 1.3h0m.5 0h0m.3-1.3h0m.3-.4h0m0 1h0m.2-2.1h0m.1 2.3h0m.5-.1h0m.1.4h0m.1-.7h0m0 .1h0m.2.8h0m.1-1.8h0m.1 0h0m1.4 1.6h0m0-2.2h0m.2 2.4h0m.2-2.9h0m.3 2.8h0m.6-2.7h0m0 1h0m.1 0h0m0 .2h0m.1 1.5h0m.1-.3h0m.1-.6h0m.2-.8h0m1.2.8h0m1.7.8h0m.3-.6h0m0-2.1h0m.3.5h0m.1 1.2h0m.9 1.1h0m1.2-1.9h0m.5 1.7h0m.5-.4h0m.4-.8h0m2 1.3h0m.2-.1h0m.2-.9h0m.3-.9h0m0 1.4h0m3.8.6h0m2.5-1.1h0m2.6.3h0m-58.1 2.1h0m.5-.7h0m1-.2h0m1.4-.2h0m1.4 2.7h0m2.4-1.5h0m.1-.7h0m.6-.1h0m1.8.2h0m.8.1h0m.2.8h0m.3-.3h0m.9.7h0m1-1.6h0m.4 2.5h0m.1-.6h0m.2.5h0m.1-1.6h0m.6-1h0m1 2.8h0m.4-2.5h0m.1-.4h0m0 2.9h0m.1-.8h0m1.6-1.4h0m1.4-.3h0m.3 1.6h0m.6-.1h0m.1-.1h0m.4-.6h0m.5-.9h0m.4.8h0m.3 1.5h0m.1-2.5h0m.1 2.6h0m.5-2.3h0m.2 0h0m0 .7h0m.5 1.8h0m.2-2.7h0m.5 2.5h0m.1-1.7h0m.3.7h0m.3-.7h0m.5.2h0m.7 1h0m.1-.3h0m0 .2h0m.1-1.8h0m.1.8h0m.5-.2h0m.3-.2h0m.1 1.5h0m.1-.5h0m.1-.4h0m0 1.2h0m.2-.2h0m.3-1h0m0-.6h0m.1.7h0m.1-.1h0m0-1.2h0m0 1.9h0m.2-.2h0m.1-.7h0m0-.2h0m.1 0h0m.1.2h0m.5 1.3h0m0-1.7h0m.1 1.1h0m1.1-.8h0m.2.7h0m.2-.2h0m.2 1.4h0m0-1.5h0m.1-.1h0m0 0h0m0-.6h0m.5 2.2h0m.2-2.8h0m1 1.5h0m.2-1.5h0m.4 2.6h0m.8-1.1h0m0 .3h0m.7.5h0m0-2.4h0m.1 2.1h0m0 .1h0m.1-2h0m.1-.1h0m.1 1.7h0m.3.7h0m0-.8h0m.7.6h0m.3-.5h0m.1.8h0m.8-2.6h0m.5 1.3h0m1.1 1.1h0m.3-2h0m.2 1.3h0m.1-.8h0m.4 1h0m0-1.8h0m.2 2.7h0m.1-.8h0m.2.3h0m.1-.2h0m.4-.4h0m.3-1.1h0m0 .2h0m.2 1.5h0m0-1.8h0m.4 1.1h0m.4 1.1h0m.1.1h0m.5-2.8h0m2.2 2.3h0m.7 0h0m.1-1.1h0m1.2 1.5h0m4.7-1.2h0m1 .5h0m1.7-.1h0m.3-1.4h0m.6.1h0m.6.5h0m4.8-1.1h0m1.6 1.8h0m-57.3 3.1h0m.1-1.9h0m2.1 2.3h0m.2-1.6h0m.5.2h0m0 1.5h0m.7.3h0m.1-.2h0m.5-2.4h0m.2 1.7h0m0-1.5h0m.8-.3h0m1.2 1.5h0m.3-1h0m.4 1.8h0m.3-1.2h0m.3-.6h0m1.3 1.5h0m.5.6h0m.2-.2h0m.5-2.3h0m.1.8h0m.7 1.6h0m.4-2.5h0m.1.6h0m0 1h0m0-1.3h0m.2 0h0m.2.2h0m.1 0h0m1.4 1.1h0m.1.2h0m.5-.4h0m.4 1.1h0m.1-1.8h0m.5-.7h0m.3 1.7h0m.3.2h0m.3-1.9h0m.6.9h0m.1 1.5h0m.1-.8h0m.1.9h0m.6-.9h0m.3-.3h0m0-1.1h0m.3 2h0m.3-.5h0m.1-1.3h0m.3 2.1h0m.2-1.7h0m.4 1.7h0m.4-2h0m.6.8h0m.6.5h0m.1.9h0m.3-2.2h0m.1 1h0m.5.9h0m0 .1h0m.5-2.1h0m.2 2h0m0-2.1h0m.1.9h0m0 1.2h0m.2-.6h0m.3 1h0m.2-1.2h0m.5.9h0m.5-2.1h0m.3 2h0m0-1h0m0 1.2h0m.2-1.2h0m.5-1h0m.3 1.5h0m.5 0h0m0-1.3h0m.8 1h0m.6-1.4h0m0 1.3h0m.4-.1h0m.1.9h0m.2-1.2h0m.7-1.1h0m.3 0h0m0 2.1h0m.1.4h0m.4-2.3h0m.2.9h0m.3 1.8h0m.3-2.1h0m0 1.2h0m.4-1.3h0m.1 1.1h0m.1.3h0m.1.1h0m.6-1.9h0m0 1.8h0m.8.7h0m.1-2.5h0m.6 1.6h0m0-.7h0m.1 1.4h0m0-.1h0m.2-.6h0m.2 1h0m.5-1.8h0m.4-1h0m.3 1.6h0m0 1.2h0m.3-2.5h0m.2.1h0m1 0h0m0 .6h0m.6.8h0m.3.4h0m0-.1h0m.4-1.2h0m1.4-.3h0m.8-.4h0m.2.9h0m.2-.5h0m.7.4h0m1.1-.9h0m.2 1.2h0m.2-.6h0m.4-.4h0m.5 0h0m0 .5h0m1.3-.7h0m.1.3h0m1.4 2h0m0-1.7h0m.7 1.6h0m.5.3h0m4.3-1.5h0m2.2-1.1h0m.1 2.7h0m1.3-.2h0m2.1-2.6h0m.5 2.4h0m-63.4 1.4h0m4.2.8h0m.9-.2h0m1.9 1.4h0m0-2.2h0m0 2.3h0m.7-2.9h0m.6 1.8h0m.1-1.8h0m1.9 1.7h0m.3.3h0m.9-.6h0m0-.2h0m.9-1.2h0m1.6.5h0m.5 1.8h0m.3-.8h0m0-1.4h0m.4 2.2h0m.6 0h0m.5-.7h0m.1-1.1h0m.2-.5h0m.3 2.8h0m.5-2.7h0m.3 2.4h0m.2-1.1h0m.1.1h0m.6.4h0m.2.7h0m.9-2.3h0m0 1.1h0m.8-.3h0m.1-.2h0m.8.7h0m1.1.8h0m.7-1.8h0m.1 1.5h0m.4-.8h0m.1-.8h0m1.1 0h0m.3 2.2h0m.3-2.2h0m.1 1.3h0m.7-1.1h0m.1 1.3h0m.1 0h0m0-.5h0m.5.2h0m.1-.5h0m.5-.1h0m.1-.3h0m.1 1.5h0m.4-1.9h0m.2-.4h0m.1 2h0m.5-1.5h0m1.1 2.3h0m.3-2.3h0m1 1.8h0m0-2.3h0m.5 1.9h0m.1-.5h0m.1-.8h0m1.6 1.6h0m.5-1.7h0m.2 2.2h0m.1-1h0m.4-.5h0m.2.6h0m.3.4h0m.1-.2h0m.4-.6h0m.2-.6h0m.2 1.8h0m0-1.5h0m.1 1.8h0m.1-2.3h0m.1 2.3h0m.2-2.8h0m1 2.7h0m.2.1h0m.1-.9h0m.2-1.8h0m.2 2.5h0m.4-1h0m.2-.4h0m.1-.2h0m.3 1.6h0m0-1.8h0m.3.7h0m.1.3h0m1.5.2h0m1.2-1.3h0m0 1.2h0m.2.3h0m.6.2h0m.4-2.1h0m.1 2.5h0m.1-1.3h0m.1-1.1h0m2 1.7h0m.1 0h0m.3-.4h0m.3-1.7h0m.9.8h0m.1 1.6h0m.2-1.8h0m.7 1.8h0m.3-.2h0m0-2h0m1.2-.1h0m.1 2.6h0m.1-1.7h0m3 1.3h0m1.4-1.2h0m0-.5h0m.7.4h0m9.5-.2h0m1.5 1.9h0m-67.2 1.3h0m3.2 1.4h0m1.7-2.5h0m1.7.5h0m.1 1.6h0m.2-.3h0m.9.3h0m.3-1.5h0m1.8 1.8h0m2.4-2.1h0m2 1.7h0m0-.2h0m.8-1.1h0m.4-.5h0m.1 1.7h0m.2-.1h0m0-.8h0m.3-.6h0m.2-.2h0m.9 1.9h0m.6.7h0m.3-1.1h0m.3-1.6h0m.4 1.2h0m.6-.9h0m.7 2h0m.1-1.6h0m1.3.4h0m.2.3h0m.1-1.1h0m.1-.2h0m.8.6h0m.2.7h0m.9 1.1h0m.1-1.3h0m.2 1.5h0m1.3-.2h0m0-.7h0m.4.7h0m0-.1h0m.3-1.4h0m.4 0h0m.5.1h0m.1.9h0m.2-1.6h0m.5.6h0m0-.8h0m.4 1h0m0 .7h0m.1-1.5h0m.4-.5h0m.2.3h0m.1-.2h0m.1.4h0m.1.1h0m.2-.2h0m0-.3h0m.2 1.1h0m.4-.7h0m.3 1.2h0m.1-.4h0m.2-.6h0m.3 1.3h0m0-1.7h0m.1 1.6h0m0 0h0m.3.5h0m.2-.4h0m0 .1h0m0-.1h0m.3-.5h0m0-.8h0m0 1.2h0m.1.9h0m.3-2.8h0m.4.9h0m.1-.6h0m.1 0h0m.1 2h0m.3-1.7h0m0 1.9h0m.1-.1h0m0-1.8h0m.1 1.3h0m0-.9h0m.5.2h0m.1-1h0m.3 1.6h0m.4-1.2h0m0 2.1h0m.8-2.7h0m.9.3h0m0 2.2h0m.2.4h0m.6-1.9h0m.1 0h0m.3-.1h0m.1 1.9h0m.5-1.2h0m1.4.5h0m.2 0h0m0-.6h0m.1-.7h0m.6 1.9h0m.3-1.4h0m.4-.3h0m0-.2h0m.3.3h0m.1-.6h0m.1 2h0m.1-1.9h0m.6.5h0m.3.9h0m.7.7h0m.3-1.7h0m.1-1h0m.4 2.8h0m.9-.3h0m.3.1h0m.3-1.9h0m.4.1h0m.5.1h0m.3 1.6h0m.4-.2h0m.1-1.4h0m.5-.2h0m.4-.5h0m0 1.9h0m.7-.1h0m.1-1.6h0m.1 2.1h0m.1-.6h0m1.8-1.2h0m1.4 1.2h0m.1 1h0m.8 0h0m1.2-1.4h0m2.1-1.1h0m.9 1.7h0m.3.5h0m.9.2h0m-66.3 2.5h0m5-2.1h0m5 1.1h0m4.6-.7h0m1.7-.5h0m2.1 2.2h0m0-.5h0m.7-1.8h0m1.3.2h0m.9 1.1h0m1.3 1.6h0m.5-.4h0m.2-1.9h0m0-.2h0m.1 2.4h0m.1-1.2h0m.1-.5h0m.2-.3h0m.9-.7h0m.3.1h0m.6 1.4h0m.1.2h0m.4-1.4h0m.1 1h0m.4.1h0m.3-.7h0m1 1.5h0m.4-1h0m.4.2h0m.3-1.4h0m.5 0h0m.4.9h0m.1 1.7h0m.8-.9h0m.2.4h0m.9-.7h0m.3.4h0m0 1h0m.3-2.3h0m.7 1.7h0m.8-1.5h0m.1-.3h0m.2-.3h0m.9.6h0m.1-.4h0m.1.2h0m0 1.2h0m.3-1.5h0m.9.3h0m0-.5h0m.3 1.5h0m.5-.7h0m.2.1h0m.8.2h0m.5 0h0m0-.5h0m.1 1.7h0m.4-1.9h0m.1 1.1h0m0 .3h0m.1.2h0m0-.7h0m.3.9h0m.1-1.8h0m.4-.4h0m.2-.1h0m.1.4h0m.2 1.7h0m.2-1.6h0m.2 1.8h0m.1-1.6h0m.2 1.5h0m.3-.3h0m.1-1.3h0m.7 0h0m.2 1.3h0m.2-1.9h0m.2 2.1h0m1-1.8h0m.2-.2h0m1.2.9h0m.7-.7h0m.7 2.5h0m.3-.3h0m.8-1.9h0m.4-.6h0m.2 2h0m.2-1.7h0m.3-.1h0m0 1.5h0m.7-1.7h0m0 2.1h0m4.7-1.3h0m.1 1.3h0m.7-2.1h0m.3 2.8h0m2.3-1.8h0m1-1h0m.4 1.2h0m.1 1.6h0m4.9-.8h0m3.9-.1h0m4.4 1h0m14.9-.8h0m-87.3 1.2h0m7.2 1.8h0m6.4.2h0m.2 0h0m5.2-1.8h0m.2.4h0m.7.1h0m1.2-.8h0m.1 1.2h0m.8-.6h0m.6.3h0m.6-.5h0m.1.1h0m0 0h0m1.1 1.9h0m1.4-2h0m.4-.4h0m.6-.1h0m1.1 1.1h0m.3-.6h0m.1 1.3h0m.6-1.9h0m.8 1h0m.3 1h0m1.6-.3h0m0-.1h0m1.7.8h0m.3-2.4h0m.1 1.1h0m.1 1.5h0m.4-.1h0m.7.4h0m.1-.2h0m0-2.5h0m.5 0h0m.3-.2h0m.6.7h0m.1 1.3h0m.1-.5h0m.1 1.1h0m.2-.1h0m.7-1.3h0m.5 1h0m0-.9h0m.3-.3h0m.1 1h0m0 .2h0m.2-1.8h0m.4 2.4h0m.2-1.5h0m.6 1.1h0m.9.4h0m.9-2.2h0m.1 0h0m.7.2h0m.2-.1h0m.3 0h0m.7 0h0m.3.5h0m.3.2h0m.8.7h0m0-1.8h0m.1 1.5h0m.4-.9h0m.2 1.9h0m.2-.9h0m.6-.2h0m.5.2h0m.6-.9h0m.2-.3h0m.5-.2h0m.3 1h0m.9 1.2h0m.2.2h0m0-.6h0m.1.5h0m.8-2.5h0m2.4.4h0m.4.4h0m.8 1.3h0m1.2-1.2h0m3.3 1.5h0m2-2h0m-54 2.5h0m1 .3h0m2.3 1.4h0m.3-.1h0m.2 0h0m1.6.3h0m.8-1.4h0m3.4 2.2h0m.9-2.8h0m1.3.2h0m4.4.9h0m.2 1.4h0m1.2-2h0m.1.7h0m.5.3h0m1.2 1h0m.3-2.4h0m.2.8h0m.2-.4h0m.5 1.6h0m1.7-.2h0m.5-.6h0m1.1-1.2h0m.5.5h0m0-.7h0m.9 0h0m.7 1.1h0m3.4.6h0m.5-.6h0m1 .4h0m1 1.4h0m.2-1.2h0m.2-.3h0m.2-.3h0m.9 1.3h0m0 .1h0m1.3-1.8h0m.1.5h0m.2-.6h0m0-.5h0m0 2.4h0m.2-.6h0m.5.7h0m.3-1.3h0m.5.8h0m.6-1.7h0m0 1.5h0m.6.2h0m.5.1h0m1.2-1.8h0m1.2.2h0m2 1.5h0m0-1.5h0m.3-.2h0m.3 2.1h0m.2-1h0m.1-1.5h0m1.6 2.5h0m5.9-1.5h0m1.2.1h0m.8.4h0m4.7.3h0m2-.1h0m-64.6 2.5h0m7 .9h0m8-.4h0m.7-.3h0m3.1.5h0m.5-.7h0m.2-.6h0m3.6 1.9h0m.2-.7h0m.8-1h0m.7-.8h0m1.8 2.9h0m.2-2.6h0m.3 1.6h0m.9-1.6h0m.6.8h0m.5-.7h0m2.9 1.6h0m.4.8h0m.9 0h0m.1-1.4h0m.1-1.1h0m1.2 1.1h0m.5-.9h0m.3 1.4h0m.3-.5h0m0 .1h0m.5-.6h0m.3.1h0m1.1-.4h0m.4-.4h0m1.1 2h0m1.2-.2h0m1-1h0m1.9 1.3h0m1.4-.6h0m.1-.2h0m2.3-.1h0m2.4.9h0m.6-.9h0m1.1-1.1h0m1 2.4h0m1.2-.7h0m1-2h0m.9.1h0m.2.3h0m1.5.7h0m5.2-.7h0m-49.7 2.9h0m1.5.5h0m2.7 1.5h0m1.6-2.2h0m4.3 2.3h0m.4-.4h0m1.7-.4h0m1.4-.5h0m.5 1.6h0m1.6.2h0m5.2-.3h0m4.4-.8h0m.6.3h0m2 .6h0m2.2-1.9h0m0 .9h0m.6 1h0m1-.9h0m0-1.1h0m.6.9h0m1.2.8h0m.2-.9h0m6.5-.6h0m7.6 1h0m-50.9 3.3h0m14.1-1h0m4.2.7h0m3.3-.7h0m3.7.3h0m3-.4h0m.2-.8h0m2.1.9h0m.3.4h0m1.9-.5h0m2.1.5h0m3.8.5h0m12.5.2h0m-37.7 3.3h0m.6-.7h0m8.3.7h0m2.4-2.1h0m2.7 1.1h0m.9-.8h0m3.5 1.2h0m5.6-1h0m.1-.2h0m2.5-.6h0m-11.7 3.4h0m8.3.3h0m-12.6 4.1h0m-24.3 3.3h0m17.4-.7h0m-2.9 2.3h0m22.6-.4h0" stroke="#ecc624" stroke-width="1.9" stroke-linecap="round"/>
<ellipse cx="213" cy="611.5" rx="30" ry="11" fill="#3a9db6" filter="url(#blur3)"/>
<path d="M189.9 586.4h0m13.8-.9h0m-4.1 4.6h0m1.3.7h0m1.7-1.4h0m5.2.5h0m16.1-.9h0m.1.2h0m16.6 1.2h0m20.6.3h0m-71.4 2.2h0m3.3-1.8h0m10.3 1.4h0m1.3 1.4h0m10.2-1.6h0m.1-.8h0m3.1.9h0m1.6.8h0m.2-.2h0m.5-.6h0m8.1-.9h0m5.9.5h0m.3-.1h0m.5 1h0m13.7.5h0m5.6-.5h0m-73.4 3.3h0m9.4-.1h0m.4.7h0m3.7-2.6h0m.2.2h0m2.4.9h0m.2.7h0m1.2.9h0m1.4-.8h0m1.3.8h0m.6-.5h0m.2-.5h0m5.8-1.2h0m1.3 1.7h0m1.8-.8h0m4.9-.4h0m.1-1h0m1.1 2.5h0m3.8.2h0m1.2-2.8h0m3.2.5h0m3.4.8h0m4 .7h0m2.6-.7h0m1.1 1.2h0m2.5-1.8h0m8.3 2.1h0m2.4-1h0m-67.4 2.1h0m.5 1.9h0m0-2h0m.8 0h0m2.4-.2h0m4.2-.3h0m.5 2.4h0m.7-2.6h0m1.3 1h0m.2 1.6h0m2.7-.3h0m.4-2.2h0m1.4.7h0m1-.9h0m0 1.8h0m1-.9h0m.7 1.6h0m1.5-.9h0m.1-.4h0m.9 1.4h0m2.2.1h0m1-2.8h0m.3 1.8h0m.5-1.2h0m.3 1h0m1.5 1h0m.6-1.4h0m.2-.8h0m0 2.3h0m.3-1.3h0m.4.9h0m.2-.5h0m1-1h0m.1.4h0m.1.7h0m1.3-1.4h0m3.2 1.9h0m1.3-2.2h0m.5 1.5h0m.3-1.4h0m.7 2.4h0m1.7-.8h0m1-1.4h0m.2-.4h0m.5 2h0m.1.3h0m.8-.4h0m.6.3h0m.8-.7h0m.8.5h0m.9-.1h0m.8.9h0m1.4-1.9h0m.6 0h0m.3-.3h0m.4.1h0m14.4 1.9h0m2.1-1.1h0m-83.2 1.5h0m2 2.8h0m4.9-1.1h0m6.5-.1h0m1.5-1.2h0m1.1 1.5h0m2.2-1.8h0m2.6.5h0m1.6 1.1h0m2.1 1h0m.3-2.4h0m3.3 2.1h0m.7-2.4h0m1 2.6h0m1.8-1.3h0m.1.6h0m1.1-1.7h0m.7.9h0m.7 1.2h0m.2-.9h0m.2.9h0m.4-.2h0m.2.1h0m.1-1.2h0m.1 1.8h0m0 0h0m1.1-1.9h0m.5 1.7h0m.1 0h0m.5-1h0m1.9-.6h0m.1-.8h0m.1-.2h0m.1 2.2h0m1.1-.9h0m.1.3h0m.6-1.4h0m.3 0h0m.4 1h0m.3.8h0m.6-.8h0m1 1.5h0m0-.3h0m.3.3h0m.6-2.5h0m.5 1h0m.7 1.4h0m.1-.4h0m0-.1h0m1 .7h0m1.5-.5h0m.9.5h0m.4-2h0m.1 1.3h0m1.1-.6h0m.3.5h0m.1-.2h0m0 .7h0m.1-1.7h0m1 1.1h0m.8-.6h0m.7.5h0m.1-.9h0m.3-.3h0m.2-.4h0m.7 2.5h0m.1-2.5h0m.1.4h0m.7.8h0m.2 1.3h0m.3-.5h0m.9-.4h0m1.1-.4h0m.3 1.3h0m1.8-.2h0m.8-.3h0m.3-2.1h0m.1 2.5h0m.1.2h0m.3-.6h0m1.1-.8h0m.8-1.1h0m.4-.4h0m.6 2.4h0m1.8-1.2h0m.8.3h0m.4-.2h0m.9-.3h0m.5 1.5h0m.3 0h0m.5-.1h0m1.3-1.9h0m0 1.3h0m.3.2h0m2.8-.9h0m.8 1.8h0m1-.5h0m.9-.3h0m.9-2h0m.4.2h0m.7-.1h0m.7-.1h0m.9 1.9h0m.4-1.4h0m.3.6h0m.4 1.5h0m2.1-.4h0m3.7.4h0m3.9-.3h0m-94.3 2.7h0m1.9-1.9h0m1.9.8h0m8.9.8h0m.6.9h0m1.8-.8h0m2.6-.9h0m3 .2h0m1.2-.1h0m1.1 1.3h0m.1-.8h0m1.9-.8h0m.3.9h0m1.3.7h0m0-.7h0m0 .5h0m.1-1.8h0m.2 1.7h0m.4-.2h0m.2-.4h0m.5.4h0m.7-.6h0m.2-.4h0m.4.9h0m.3.6h0m.4-2.4h0m1.4 2.6h0m.7-1.4h0m.1 1.4h0m.8-.3h0m2.4-2.3h0m.9 2.6h0m0-2h0m0-.2h0m.6-.2h0m0 1.2h0m.7-1.1h0m.3 1h0m.7 1h0m.2-1.6h0m.4 1.2h0m0 .8h0m.3-1.8h0m0 1.2h0m.1-1.2h0m.2 1.5h0m.8-.5h0m.1-.8h0m.1 1.5h0m.2-2h0m.4 2.3h0m.3-1.8h0m.1 1.7h0m.3-1h0m.3.6h0m0-.1h0m.7-.5h0m1-.1h0m0 1.2h0m.1-.9h0m.1-1h0m.3-.5h0m.9-.2h0m.1.5h0m.1 1.6h0m.2-.8h0m.7 1.3h0m.4-1.9h0m.1.2h0m.3-.9h0m.5.8h0m.2 1h0m.1-1.6h0m.5 2.4h0m.3-.3h0m.1-1.7h0m.4-.1h0m.6 1.2h0m0-1.7h0m1 2h0m.5-1.3h0m.5 1.7h0m.1-.7h0m.2-1h0m.3 1.4h0m.5-.2h0m.2-.7h0m.2-.7h0m0 .6h0m.1 1.4h0m.2-.4h0m.1-1.2h0m.2.8h0m.5-.6h0m.1-1.4h0m.2 1.6h0m0 .7h0m0-1.1h0m.2 0h0m.5 0h0m0 1.7h0m.1-1.8h0m.4 1.2h0m0-1.3h0m.3 1.9h0m1.1-1.5h0m.1 1.5h0m.5-.9h0m0-1.3h0m.7 1.6h0m.4.3h0m1.9-1.6h0m.2 1.7h0m.2-2.6h0m.1 2.4h0m.2.3h0m.2-.7h0m.3-1.9h0m.1 2.3h0m.1-2h0m.4 1h0m.8.8h0m0 .3h0m.2-.9h0m.1-1h0m.3 1.5h0m.7-.5h0m.7-.4h0m.1-.7h0m.3 1.5h0m1-.3h0m0-.2h0m.4-.9h0m1.2 2h0m0-.6h0m.1-.8h0m1.2-1.1h0m.5.4h0m.6.1h0m.1 1.5h0m.3-1h0m.1.9h0m.1-.5h0m.3.3h0m.3-.5h0m.2.6h0m1.2-2h0m.7 2.3h0m.5-.7h0m.2-1.4h0m.3 1.5h0m1.7.9h0m.1-1.6h0m.7 1.5h0m.4.4h0m.4-.3h0m.1-1.5h0m.2.2h0m.3.7h0m1 .2h0m.7.7h0m1-1.3h0m.3 1.1h0m.4-2.6h0m.2.1h0m.1 1.6h0m5.4-.2h0m.2-1.4h0m.9 1.8h0m2-.2h0m5.5-.9h0m2.2 1.1h0m-87.5 2h0m1.8 1.3h0m1.4.6h0m2.4-.6h0m1.8.2h0m3.7-.7h0m.2 1.1h0m.1-2.4h0m0 1.9h0m.6.5h0m.4-2.6h0m.3 1.4h0m.2-.4h0m.7.9h0m.7-.9h0m.1-1.3h0m.8 2.1h0m.3.4h0m.9.3h0m.7-1.9h0m.1 1h0m.2-1.1h0m.6 1h0m.1-1.7h0m0 2.4h0m.4-.3h0m1.4-1.8h0m.1.8h0m0-.9h0m.3 1.5h0m.1.9h0m.6-2.1h0m.3 1.3h0m.8 1h0m.6-1.7h0m.1-.1h0m.2-.7h0m.9 1.3h0m.2.8h0m.2-1.6h0m.6 1.5h0m.3-1h0m0 .2h0m.3-1.5h0m.3 1.7h0m.1.8h0m.5-2.3h0m0 1.4h0m.6.3h0m.4-1.2h0m1 .6h0m0 .1h0m.5 1.4h0m0-1.7h0m.7.9h0m.1-1.7h0m.1 1.5h0m.6-.3h0m0 .7h0m.1-1.9h0m.4 1.1h0m.2 1.4h0m0-.9h0m.3.7h0m.1.1h0m.3-.2h0m0-2h0m.8-.4h0m.1.3h0m0 .8h0m.1 1h0m0 .3h0m.1-1.3h0m0 1.3h0m.1-1.6h0m.1.1h0m.1-.9h0m.1 2.6h0m0-.4h0m.1.1h0m.1-2h0m.6 2.2h0m0-1.1h0m1.3-.8h0m.1 1.9h0m.2-.5h0m.2-2.1h0m.3 2.7h0m.1-1.4h0m1.1.1h0m.1.7h0m1.3.5h0m.1-.8h0m.1-.2h0m.4.9h0m.7-.9h0m.1-1.1h0m.3 2.1h0m0-2.6h0m.6 1.1h0m.4.9h0m.4-1.1h0m.3-1h0m0 2.2h0m.1-1.2h0m0 .2h0m.1.5h0m.2-1.3h0m0 1.6h0m.5-.4h0m0-.1h0m0 .5h0m0 0h0m0 0h0m.2-.3h0m.1-.4h0m.1.5h0m.2.8h0m.4-2.1h0m.2 1.4h0m.1 0h0m.3.3h0m1.1 0h0m0-.5h0m.3-1.5h0m.2 2.4h0m.9.3h0m.2-2.8h0m.4 1.7h0m.4-1h0m0 1.5h0m0-1.5h0m.5 1.6h0m.3-1.7h0m0 2h0m.3-1.4h0m1.1-.9h0m.2 2h0m0-.5h0m0 .4h0m.2-2.1h0m0 2.4h0m.5-1.1h0m1-.1h0m0-.5h0m.6-.9h0m.3 1.7h0m.1-.9h0m.1.1h0m.9-.6h0m.1 2.5h0m.4.1h0m.2-2.6h0m.1 2.6h0m.3-.7h0m.2-1.7h0m.2.1h0m.2 1.3h0m.9-.3h0m.3-1.2h0m0 .3h0m.2-.7h0m.1 2.6h0m.1-1.8h0m0 2.1h0m.9-1.4h0m.2-.9h0m.6 1.7h0m.3.6h0m1.1-1h0m1.4-.2h0m.7 1.1h0m.2-.1h0m.3-1.2h0m0-.1h0m.5-1.4h0m.6 1.2h0m0 1.3h0m.1-1.9h0m.1.2h0m.1-.6h0m.3 2.4h0m.1-1.8h0m0 1.3h0m.7.5h0m.5-2.1h0m.1.6h0m.3-.5h0m.5 1.7h0m.6-.5h0m.1-1.1h0m.2.8h0m.7.2h0m1.4.1h0m.9 1.1h0m1-2.5h0m1.7 2.1h0m2.1-.5h0m2-1.2h0m.1 1.2h0m3.7-1.4h0m.4.7h0m3.3.6h0m-88.6 1.6h0m2 2.2h0m.9-2.1h0m2.5-.2h0m4.2 0h0m.6 1.1h0m.6.3h0m.2-.4h0m.6-.8h0m.6-.5h0m1.4 1h0m1.3-1h0m1.2 1h0m1.4 1.8h0m.5-2.4h0m.6 1.2h0m.1-.1h0m1.5-.9h0m1 .4h0m.2 1.8h0m.3-1.7h0m.6 1h0m.5-1.1h0m.1-.4h0m.8.7h0m.3.1h0m.1 1.2h0m0-2.6h0m.6 1.2h0m.3 1.3h0m.8-2.1h0m.5 1.9h0m.4-.8h0m.3 1.1h0m.3-.3h0m.2-1.5h0m.1.4h0m0-.9h0m.1 1.7h0m.1.6h0m.1 0h0m.1-1.8h0m0 1.9h0m.3-.1h0m.5-.2h0m.2 0h0m.3-.2h0m.1-1.7h0m.1 2h0m.2-1.3h0m.1-.7h0m0 .2h0m.5 1.1h0m.4-1h0m.1.2h0m.2-.4h0m.1-.4h0m.3 1.3h0m.7-.4h0m.1-.7h0m.1.6h0m.4-1h0m.5 1.6h0m.3 1.2h0m.2-2.9h0m.1 1.9h0m.3-1.7h0m.1 2.4h0m0-1.3h0m.2 1h0m.5-2h0m.3.2h0m.1.7h0m.7 1.3h0m.1-.3h0m0-1.8h0m.1 0h0m.6 1.7h0m.1 0h0m.2-1.2h0m.2-.4h0m.1.4h0m.2-.6h0m0 .3h0m.1 1.3h0m.4.3h0m.2-.7h0m.1.4h0m.5-1.6h0m0 1.8h0m.1-1.1h0m.5 1.2h0m.2.2h0m.1-1.8h0m.1.4h0m.2.8h0m0-.4h0m.1-.5h0m.3-.6h0m.1.6h0m.3-.6h0m.1 2.5h0m.2-1h0m.1 1.1h0m.1-1.7h0m.5-.8h0m.1.2h0m.1 1h0m.1 1.1h0m.1-1.8h0m.1 1.2h0m0-.8h0m.2-.3h0m.1.5h0m.2-1h0m.1-.4h0m.1 0h0m.4 2.1h0m.2.3h0m.2-1.6h0m.4 2h0m.4-.1h0m.2-1.2h0m.6 0h0m.1-1.5h0m.4 1.6h0m0-1.1h0m.4 2h0m.3-.5h0m.4-.9h0m.5.3h0m.2-.6h0m.2-.2h0m.1-.2h0m.1.2h0m0-.2h0m.2 2.3h0m.1-1.6h0m.2.4h0m.1-1.2h0m.2 1.4h0m.2-.4h0m.1 1.3h0m.2-1.4h0m0 0h0m.2-.8h0m.3 1.6h0m0-1.7h0m.1.7h0m.1-.9h0m.1 2.4h0m.1-2.1h0m.1 1.7h0m.2.4h0m.1-.3h0m.2-1.3h0m.4.7h0m.1.4h0m.1-1.2h0m0 0h0m.4 1.1h0m0 .3h0m0-.9h0m.1-1.2h0m0 .4h0m.4-.4h0m.2 1.6h0m.1-.8h0m.3-.9h0m.1 2.3h0m.2-1h0m.7.2h0m.2 0h0m.1-.4h0m.4 1h0m.1-.2h0m.1-1.4h0m.2 1.8h0m.5-1.1h0m.3 1.3h0m.7-1.6h0m.1 1.4h0m.1-1h0m0 .4h0m0 .4h0m0-2.1h0m.2.8h0m0 1.8h0m.2-1.6h0m.1 1.7h0m.8-1h0m0-.2h0m0-1.2h0m.1 1.7h0m.3-.4h0m.1.9h0m.1-1.4h0m0-.7h0m.4.9h0m.7.5h0m.2-.1h0m0-.8h0m.8.8h0m.2-1.3h0m0 1.6h0m.4-.3h0m.4-1.8h0m0 .7h0m.1.4h0m.1-.2h0m.1.7h0m.3-1h0m.1.4h0m.3-.1h0m0 2h0m.3-1.4h0m0 1.2h0m1-1.3h0m1.6 1.1h0m0-2h0m.1.7h0m1.2 1.1h0m.1.4h0m.1-.4h0m.4.3h0m.2-.4h0m.7-.9h0m.1 1h0m.4-.2h0m.4.4h0m.2-2.4h0m.5 2.1h0m.2-1.3h0m.2-.6h0m1.3.1h0m.1.8h0m.8 1h0m1.2-.4h0m3.9 1h0m1.9-1.8h0m1.7-.8h0m18.4 2.6h0m-108.9.9h0m.5.5h0m1 1h0m3.5-.9h0m4.4.9h0m3 .5h0m3-1.6h0m3.4.6h0m1-.1h0m.6-1h0m1.6.5h0m.9-.3h0m.7-.2h0m.4.2h0m.1.7h0m.3-1.4h0m.5 1.1h0m2.2-.7h0m.8.3h0m.3 1.9h0m.2-2.6h0m.1.5h0m.5.6h0m.2.7h0m1.1.4h0m.3-2.2h0m0 2h0m.8-1.8h0m.4.6h0m.4-.5h0m.2 1.2h0m.3-.4h0m.1 1.3h0m.9-1.4h0m.3-.9h0m.2 1.1h0m.2 1.3h0m.3-.8h0m.2-1.5h0m.2 2.3h0m0-.3h0m.2-2.3h0m0 2.1h0m.2.3h0m.1.2h0m.2-1h0m0-.3h0m.5 1.3h0m.5.1h0m.3-.7h0m.6-.1h0m.1-.3h0m.1.9h0m0-1.5h0m.2 1.3h0m.5-.9h0m.3.4h0m.2-1.2h0m0-.3h0m.3 2.3h0m0-1.5h0m.3-.1h0m0 .3h0m.1.4h0m0-.3h0m.4-.6h0m.6-.3h0m.3 2h0m0-.7h0m.9.9h0m0-2.4h0m.2 1.1h0m0-.8h0m.2 1.9h0m0-1.1h0m.2-.1h0m.1.1h0m.7 1h0m.1.3h0m.3-1.3h0m.2.4h0m0-.2h0m.4.8h0m.1.3h0m.1-.8h0m.1-.6h0m.8-.2h0m0 .3h0m.7 1.5h0m0-2.8h0m0 .7h0m.2.9h0m.5-1.1h0m.1.3h0m.1-.1h0m.5.1h0m.2 1.6h0m0-2.5h0m.1 2.7h0m0-1.9h0m.1-.6h0m.3 2.2h0m.5.1h0m.4-1.1h0m.2-.4h0m.4-.8h0m.2.5h0m.1.8h0m.6 1.3h0m.3-.6h0m.5-1.3h0m.5 1.5h0m0-2h0m.1.6h0m.5-.1h0m.1.3h0m.2.7h0m.2.9h0m.1-1.7h0m.1 0h0m.1-.6h0m.2.5h0m.1-.5h0m.4.7h0m.4.4h0m.1-.2h0m0 1h0m.3-.9h0m.3-.6h0m.1.9h0m.1.1h0m.1 1h0m.2-2.7h0m.5 2h0m.4-1.7h0m.3 1.7h0m.2-.7h0m0-1.5h0m.3.1h0m.1 2.3h0m.4-1.7h0m.1.7h0m.4-.7h0m.3.5h0m.2.5h0m.1.2h0m.7-1h0m0 .4h0m.3-.6h0m0 .8h0m.6 1.2h0m.5-2.4h0m.9 2h0m0-1h0m.2.6h0m.4.3h0m0-1.2h0m.1-.8h0m.5.8h0m0 .5h0m.7-.9h0m.7-.2h0m.2.8h0m0 .9h0m.1-.3h0m.2.6h0m.1-1.2h0m.2-.5h0m.4.4h0m.1 1.8h0m1.1-1.7h0m0-.2h0m.2 1.3h0m.4-2.3h0m.2.1h0m.6 1.3h0m.2-1.2h0m.2 2.4h0m.9-1.6h0m0-.1h0m.5-.4h0m.2.4h0m.2 1.8h0m.6-.8h0m0-1.3h0m.2.7h0m.7-.5h0m.4 0h0m.2 2h0m.3-1.3h0m.7-.8h0m.6-.5h0m.6 1.6h0m.1-.4h0m1.1-1.2h0m0 2.1h0m.2 0h0m0-1h0m.3-1.1h0m0 2.4h0m.1-1h0m.8 0h0m1.4 1.1h0m.7-.2h0m.5-2.4h0m.3 2.3h0m.5 0h0m.1-1.5h0m1.2.3h0m1.4 1h0m0 .4h0m.9-1.2h0m1 1.4h0m12.2-.9h0m27.6-.1h0m-123.5 3.2h0m16-.1h0m1 .7h0m1.7-.4h0m.9-1.5h0m.7-.4h0m.3-.3h0m.5 2.1h0m.3-1.8h0m.3 1.8h0m1.1-1.9h0m2.1 2.1h0m1-1.7h0m.2 1.2h0m.1-.5h0m1.2 1.1h0m.3.1h0m0-1.3h0m1.1-1.1h0m1.2.8h0m.4-.4h0m.7-.4h0m.3.8h0m.1-.4h0m.2 1.5h0m.9.4h0m.9-1.2h0m.3.7h0m0-1.9h0m.4 1.3h0m0 .9h0m.1-1h0m0-.1h0m.1-.3h0m.5 2.1h0m.2-1.2h0m.2 1.2h0m.1-1.4h0m0 0h0m.1 1.3h0m.2-1.9h0m.2-.8h0m.1.3h0m.2 1.7h0m0-2.1h0m.1 0h0m.3 2.2h0m0-1.8h0m1.1-.4h0m0 1.1h0m.1-.2h0m.6-.4h0m.2 1.4h0m.4-1.9h0m.8 1.7h0m.9.5h0m.3-1.5h0m.6 1.6h0m0 .6h0m.3-2.6h0m.2.7h0m.5-.5h0m.1 0h0m1.4-.4h0m.6 1h0m.3 1.6h0m.3.1h0m.5-1.3h0m.1.4h0m.1-.5h0m.4 1.5h0m.3-1h0m.1-.7h0m.1-.1h0m.1 1.7h0m.6-.2h0m.2-2.3h0m.1.4h0m.2 1.5h0m0-.3h0m.3-1.4h0m.3.6h0m0-.1h0m.1.3h0m.7-.4h0m.3.1h0m.2 1h0m0 .3h0m.1-2h0m.5 1.7h0m.2-.3h0m.2-.2h0m.1 1.3h0m.3-2.4h0m.1-.3h0m0 2.7h0m.4-1.4h0m.2-.6h0m.3-.3h0m.6-.4h0m.1 2.6h0m0-.7h0m0-1.7h0m.3 1h0m.8 1.2h0m.3-2.2h0m.4 2.6h0m0-2.5h0m.1.8h0m.1-.6h0m.3 0h0m0 1.7h0m.4-1.8h0m.2 2.4h0m.1-2h0m.3-.5h0m.3.7h0m.8-.1h0m.1 1.1h0m.8.3h0m.1-1.6h0m.3 1h0m0-.3h0m.3 1.2h0m0 .2h0m.2-.2h0m.4.2h0m.7-2.4h0m.3-.4h0m.1 2.5h0m.2 0h0m0-2h0m.1-.6h0m.4 1.6h0m.4.9h0m.4-1.6h0m.8 0h0m.3-.1h0m.6-.1h0m.3 1.2h0m.1-1.9h0m.1 1.3h0m0-.5h0m0 1.9h0m.2-1.8h0m1.1-.8h0m0 2h0m1.3.7h0m.4-.5h0m1.2-1.3h0m.3 1.6h0m.5-1.7h0m.1.3h0m.1.6h0m.1.1h0m.4 1h0m0-.6h0m.8-1.7h0m.1 1.3h0m.8.6h0m.8-1.9h0m.5 1h0m.5.3h0m.2-.2h0m1.7-1.4h0m.9.1h0m.1.4h0m.2.7h0m.1.6h0m1.7-2h0m1.4.7h0m3.4-.2h0m2.7-.6h0m2.4 1h0m3.2.3h0m-87.8 1.8h0m9 1h0m.2-.5h0m3.5 1.5h0m2.5.4h0m.7-1.3h0m.3.8h0m1.3.7h0m.5-.1h0m1.2-.2h0m1.6.3h0m.3-.8h0m3.3-1.3h0m0 .2h0m.5 1.2h0m1.3-.7h0m.7-1.3h0m.3.3h0m1.1 2.1h0m1.6-2.1h0m1.5 0h0m.2 1h0m.3.6h0m.8-1.6h0m0 2.1h0m.2-2h0m.9 1h0m.8.9h0m.4-.1h0m.5.4h0m.3.1h0m.1-1.3h0m1.5-.4h0m.8 1.6h0m.1-.4h0m.2-1.7h0m.7-.4h0m.1.2h0m.9 1.4h0m.2-.7h0m1.7-.8h0m2.1-.1h0m.4 0h0m.2 1.1h0m.2 1.3h0m.1-2.1h0m.1 0h0m.5 1.4h0m.3-1.3h0m.3-.3h0m.3 2.2h0m.1-1.9h0m0 1.1h0m.2-.1h0m.1-1h0m.1-.2h0m.3.7h0m0-.9h0m.6 2.6h0m.1-2.3h0m.1-.4h0m.4 2.3h0m.4-2.1h0m0 .4h0m0 0h0m.1 2.3h0m.1-.4h0m.1-.6h0m.1-.6h0m.5-.9h0m0 1.8h0m.2-1.4h0m.1 1.1h0m1.9-.9h0m.7 1.5h0m.2-1.7h0m.4-.5h0m.1.6h0m.3 1.1h0m.2-1.5h0m0 1.9h0m.2-1.6h0m.3 2.1h0m.3-1.7h0m.5 1.3h0m.1-.8h0m.4-.9h0m1.5 1.6h0m.1-.9h0m.1.3h0m.1.2h0m.5-1.7h0m.7 1.8h0m.3 0h0m.7-1.6h0m.2 2.1h0m.7-.5h0m.8-1.3h0m1.6.8h0m.4-.4h0m1.4 1.7h0m.8-1.5h0m.5 1.5h0m0-1.6h0m.8 1.5h0m0-2.5h0m.3.7h0m.6-.5h0m.4.7h0m0 .6h0m.9-1.7h0m.2 2.4h0m0-1.5h0m.1 1.1h0m.5-1.5h0m.4 0h0m3.8 1.5h0m7.3-.2h0m.2-1.9h0m.9.3h0m.1 1.1h0m11.3-.1h0m-89.9 2.8h0m1 0h0m3.8.5h0m5.5.6h0m2.2.4h0m.8.2h0m.7-2.3h0m2.9 2.3h0m5-2.8h0m1.2 1.1h0m1-1.1h0m.3 2h0m.1-.3h0m.9 0h0m.8-.2h0m1.6-1.1h0m1.2 1.3h0m1-1.4h0m.4 2.6h0m.3-2.3h0m.2-.2h0m.9.3h0m.2.1h0m.6.2h0m.3-.9h0m.5 2.7h0m.9-.4h0m.3-2h0m1.3 1.6h0m1.2.5h0m.6-2.2h0m.6-.2h0m.7 1.6h0m.4-.4h0m.5-.9h0m.1.8h0m.6 1h0m1.8-1.5h0m.1.3h0m.5.5h0m1.3-.5h0m0 0h0m1.6.7h0m.8-.4h0m0 1.1h0m.5.4h0m.6-1h0m.7.1h0m.3-1.6h0m.9-.3h0m0 1.4h0m.1.1h0m.8.8h0m.1-.4h0m.5-1.6h0m.3-.3h0m.4 1.6h0m.9-.6h0m1.6-.2h0m.5-.4h0m1 1.1h0m0 .6h0m0-1.4h0m.9.6h0m.9-1.1h0m.7.7h0m.3.2h0m1.4 1.4h0m1.7.1h0m1.6 0h0m.6-2.4h0m1.6 2h0m7.4-.6h0m2.3-.3h0m.3.8h0m1.3-.3h0m1-.6h0m.2-.2h0m3.3.5h0m-79.4 1.6h0m3.9.3h0m2.4-.1h0m5.4-.3h0m0 .8h0m2.1.6h0m4.3.3h0m5.8.9h0m.5-.3h0m1.4.3h0m1.3-2.2h0m.1 1.3h0m1.3-.2h0m.5 1.2h0m.1.2h0m.7-2.8h0m.2 2.4h0m2.5-1.4h0m.1.1h0m1.6 1h0m.2-2.2h0m.4 1.1h0m.6.1h0m.4.9h0m1-.1h0m1.1.7h0m.6-1.5h0m.1.9h0m.6-1.9h0m1 .3h0m1.1 2.1h0m.2-1.8h0m1.2-.4h0m.5 1.4h0m1.3-1.7h0m.4.5h0m4.6 1.8h0m.1.1h0m.1-2h0m.6.7h0m.1-.4h0m1.4-.3h0m1 .8h0m3.9-1h0m2 2.5h0m.5-1.5h0m.6 1.4h0m10.7-2.5h0m.2 1h0m3.7 1.6h0m1.6-1.1h0m-65.4 3.9h0m14.9-.7h0m6.2.6h0m6.1-1.7h0m3-.1h0m2.2 1.2h0m3.9 1h0m.3-1.6h0m3.2.7h0m1.3-1.4h0m4.9 1.6h0m5.3-1.6h0m.3 2.2h0m1.3-.7h0m22.6-.4h0m-82.1 3.8h0m52.7-.1h0m3.9-2h0m-41.3 2.8h0m9.6 4.9h0" stroke="#3a9db6" stroke-width="1.9" stroke-linecap="round"/>
<path d="M200.2 559.9h0m22.3 2.1h0m-3.4 3.8h0m7.5 1h0m-25.5 1.3h0m17.2 1h0m.3.5h0m.1-.8h0m3.8 1.1h0m4.4-1.6h0m2.1-1.3h0m-29.4 5.2h0m.5-.1h0m16.3-.9h0m4.8-.8h0m-23.4 5.5h0m0-2.1h0m.7 1h0m3.1.9h0m1.4-1.2h0m5.3-.5h0m4.6 1.9h0m8.7-2.6h0m-39.3 4.6h0m11.6.6h0m4-2.1h0m6 1.8h0m.9-.5h0m1.6-1.3h0m6.2-.1h0m1.9 1.5h0m2.8-1.7h0m25.6 1h0m18.9.4h0m-92.2 1.9h0m2.6 2h0m19.2.5h0m8.4-2.3h0m14.6.9h0m10.6-.2h0m5.3 0h0m-50.6 2.8h0m15.7-.2h0m2.7 1.9h0m1.1-1.6h0m6.7 1h0m14-1.2h0m23.2.2h0m-61 4.3h0m1-2.1h0m20.1 1h0m.3 1.3h0m1.7-.6h0m5.2-.1h0m3.5-.9h0m-41.2 2.8h0m8.9 2h0m6.2-.2h0m5.5-2.4h0m2.2 1.8h0m5.6-1h0m8.2 1.2h0m.1.2h0m14.3-1.5h0m7.6.5h0m-31.9 4.2h0m14.8-.6h0m3.2.7h0m1.2.1h0m8.1-1.2h0m.3-1.6h0m6 2.2h0m-48 1.6h0m.6-.3h0m14.8.7h0m4.2-.7h0m9.6.2h0m5.9 0h0m.4 1.9h0m4.8-1.7h0m-35.8 4.4h0m33.9-1.3h0m-12.1 4.4h0m5.9-1.4h0m.1.7h0m.1 1.1h0m1.4-.2h0m-25.3.3h0m20.7 4.9h0m-27 4.6h0" stroke="#3a9db6" stroke-width="1.8" stroke-linecap="round"/>
</g>
<path d="M166.4 532.6L166.4 532.59L167.71 532.59L169.01 532.58L170.32 532.56L171.62 532.54L172.93 532.5L174.23 532.44L175.54 532.36L176.84 532.23L178.15 532.05L179.45 531.81L180.76 531.47L182.06 531.03L183.37 530.45L184.67 529.73L185.98 528.85L187.28 527.8L188.59 526.57L189.89 525.2L191.2 523.7L192.5 522.11L193.81 520.51L195.11 518.95L196.42 517.5L197.72 516.26L199.03 515.27L200.33 514.61L201.64 514.31L202.94 514.4L204.25 514.86L205.55 515.67L206.86 516.78L208.16 518.12L209.47 519.63L210.77 521.22L212.08 522.82L213.38 524.38L214.69 525.82L215.99 527.14L217.3 528.28L218.6 529.26L219.91 530.07L221.21 530.73L222.52 531.24L223.82 531.63L225.13 531.93L226.43 532.14L227.74 532.29L229.04 532.4L230.35 532.47L231.65 532.52L232.96 532.55L234.26 532.57L235.57 532.58L236.87 532.59L238.18 532.59L239.48 532.6L240.79 532.6L242.09 532.6L243.4 532.6L244.7 532.6L246.01 532.6L247.31 532.6L248.62 532.6L249.92 532.6L251.23 532.6L252.53 532.6L253.84 532.6L255.14 532.6L256.45 532.6L257.75 532.6L259.06 532.6L260.36 532.6L261.67 532.6L262.97 532.6L264.28 532.6L265.58 532.6L266.89 532.6L268.19 532.6L269.5 532.6L269.5 532.6Z" fill="#e8cc58" stroke="#222" stroke-width="0.5" />
<path d="M166.4 532.6L166.4 532.51L167.71 532.48L169.01 532.44L170.32 532.39L171.62 532.32L172.93 532.24L174.23 532.14L175.54 532.02L176.84 531.87L178.15 531.68L179.45 531.46L180.76 531.2L182.06 530.9L183.37 530.55L184.67 530.14L185.98 529.69L187.28 529.17L188.59 528.6L189.89 527.98L191.2 527.31L192.5 526.58L193.81 525.83L195.11 525.04L196.42 524.23L197.72 523.42L199.03 522.61L200.33 521.83L201.64 521.09L202.94 520.4L204.25 519.78L205.55 519.25L206.86 518.82L208.16 518.49L209.47 518.29L210.77 518.2L212.08 518.24L213.38 518.41L214.69 518.69L215.99 519.09L217.3 519.59L218.6 520.17L219.91 520.84L221.21 521.56L222.52 522.33L223.82 523.13L225.13 523.95L226.43 524.76L227.74 525.55L229.04 526.32L230.35 527.06L231.65 527.75L232.96 528.39L234.26 528.98L235.57 529.51L236.87 529.99L238.18 530.41L239.48 530.78L240.79 531.1L242.09 531.38L243.4 531.61L244.7 531.81L246.01 531.97L247.31 532.1L248.62 532.21L249.92 532.3L251.23 532.37L252.53 532.42L253.84 532.47L255.14 532.5L256.45 532.53L257.75 532.55L259.06 532.56L260.36 532.57L261.67 532.58L262.97 532.59L264.28 532.59L265.58 532.59L266.89 532.6L268.19 532.6L269.5 532.6L269.5 532.6Z" fill="#4aa6bc" stroke="#222" stroke-width="0.5" fill-opacity="0.72"/>
<path d="M166.4 532.6L166.4 532.59L167.71 532.59L169.01 532.58L170.32 532.56L171.62 532.54L172.93 532.5L174.23 532.44L175.54 532.36L176.84 532.23L178.15 532.05L179.45 531.81L180.76 531.47L182.06 531.03L183.37 530.45L184.67 529.73L185.98 528.85L187.28 527.8L188.59 526.57L189.89 525.2L191.2 523.7L192.5 522.11L193.81 520.51L195.11 518.95L196.42 517.5L197.72 516.26L199.03 515.27L200.33 514.61L201.64 514.31L202.94 514.4L204.25 514.86L205.55 515.67L206.86 516.78L208.16 518.12L209.47 519.63L210.77 521.22L212.08 522.82L213.38 524.38L214.69 525.82L215.99 527.14L217.3 528.28L218.6 529.26L219.91 530.07L221.21 530.73L222.52 531.24L223.82 531.63L225.13 531.93L226.43 532.14L227.74 532.29L229.04 532.4L230.35 532.47L231.65 532.52L232.96 532.55L234.26 532.57L235.57 532.58L236.87 532.59L238.18 532.59L239.48 532.6L240.79 532.6L242.09 532.6L243.4 532.6L244.7 532.6L246.01 532.6L247.31 532.6L248.62 532.6L249.92 532.6L251.23 532.6L252.53 532.6L253.84 532.6L255.14 532.6L256.45 532.6L257.75 532.6L259.06 532.6L260.36 532.6L261.67 532.6L262.97 532.6L264.28 532.6L265.58 532.6L266.89 532.6L268.19 532.6L269.5 532.6L269.5 532.6Z" fill="none" stroke="#222" stroke-width="0.5" />
<path d="M275 538L275 538L275 539.23L275 540.45L275.01 541.68L275.01 542.9L275.02 544.13L275.03 545.35L275.05 546.58L275.07 547.8L275.11 549.03L275.17 550.25L275.25 551.48L275.37 552.7L275.52 553.93L275.73 555.15L275.99 556.38L276.34 557.61L276.76 558.83L277.28 560.06L277.9 561.28L278.61 562.51L279.42 563.73L280.32 564.96L281.27 566.18L282.26 567.41L283.26 568.63L284.22 569.86L285.1 571.08L285.86 572.31L286.46 573.53L286.88 574.76L287.08 575.98L287.06 577.21L286.82 578.44L286.38 579.66L285.75 580.89L284.96 582.11L284.07 583.34L283.1 584.56L282.1 585.79L281.12 587.01L280.17 588.24L279.29 589.46L278.49 590.69L277.79 591.91L277.19 593.14L276.69 594.36L276.28 595.59L275.95 596.82L275.69 598.04L275.49 599.27L275.35 600.49L275.24 601.72L275.16 602.94L275.11 604.17L275.07 605.39L275.04 606.62L275.03 607.84L275.02 609.07L275.01 610.29L275.01 611.52L275 612.74L275 613.97L275 615.19L275 616.42L275 617.65L275 618.87L275 620.1L275 621.32L275 622.55L275 623.77L275 625L275 626.22L275 627.45L275 628.67L275 629.9L275 631.12L275 632.35L275 633.57L275 634.8L275 634.8Z" fill="#e8cc58" stroke="#222" stroke-width="0.5" />
<path d="M275 538L275 538L275 539.23L275 540.45L275 541.68L275 542.9L275 544.13L275 545.35L275 546.58L275 547.8L275 549.03L275 550.25L275 551.48L275 552.7L275 553.93L275 555.15L275 556.38L275 557.61L275 558.83L275 560.06L275 561.28L275 562.51L275 563.73L275 564.96L275 566.18L275 567.41L275 568.63L275 569.86L275 571.08L275 572.31L275 573.53L275 574.76L275 575.98L275 577.21L275 578.44L275 579.66L275 580.89L275 582.11L275 583.34L275 584.56L275 585.79L275 587.01L275.01 588.24L275.02 589.46L275.05 590.69L275.09 591.91L275.17 593.14L275.31 594.36L275.54 595.59L275.91 596.82L276.46 598.04L277.27 599.27L278.38 600.49L279.85 601.72L281.68 602.94L283.86 604.17L286.3 605.39L288.85 606.62L291.33 607.84L293.52 609.07L295.2 610.29L296.19 611.52L296.37 612.74L295.73 613.97L294.33 615.19L292.34 616.42L289.96 617.65L287.41 618.87L284.9 620.1L282.6 621.32L280.61 622.55L278.98 623.77L277.72 625L276.78 626.22L276.13 627.45L275.68 628.67L275.4 629.9L275.22 631.12L275.12 632.35L275.06 633.57L275.03 634.8L275 634.8Z" fill="#68b0c0" stroke="#222" stroke-width="0.5" />
<text x="312" y="506.2" font-size="10.5" fill="#000" font-weight="bold">m</text>
<text x="360.4" y="512.5" font-size="6.8" stroke="#222" stroke-width="0.16" text-anchor="middle" font-style="italic">Cd69</text>
<rect x="337.8" y="515.5" width="45.2" height="44.7" fill="#fff" stroke="#999" stroke-width="0.6" />
<g clip-path="url(#mc1)">
<ellipse cx="361.06" cy="547.52" rx="19" ry="6" fill="#120822" filter="url(#blur3)"/>
<path d="M373.5 535.9h0m-22.9 4h0m7.5-.2h0m4.1-.6h0m3.6-.3h0m0 .4h0m.4.4h0m6.6-.3h0m-24.7 2h0m2.7-.7h0m2.2.4h0m.8-.2h0m.7 1.6h0m0-1.1h0m.1.1h0m.1 1.1h0m.5-1.4h0m.2.7h0m.6-.8h0m.2-.1h0m.9.1h0m.4 1.6h0m.2.1h0m.3-1.4h0m.1 0h0m.6.5h0m1.5.1h0m.7-1.9h0m.1 2.2h0m.4.3h0m1-.3h0m0-.1h0m.2.8h0m.1-.8h0m0 .7h0m1.4-1.3h0m1-.7h0m.8 1.9h0m.3-.3h0m.9-2.2h0m1.1.4h0m.3.8h0m.5.6h0m1.3.4h0m2.9-.6h0m.6-.7h0m.4 1.1h0m.4-1.3h0m1.1.9h0m-32.3 1.8h0m.3.4h0m1.8 1.2h0m.7.2h0m1.6-.4h0m0-.8h0m.2 1.2h0m.7.1h0m0-2h0m.5 1.5h0m.8-1.2h0m.1.6h0m.1 1.4h0m.1-1.4h0m.3 1.4h0m.1-2.6h0m.8 1.9h0m1-.3h0m.8.1h0m.2-.1h0m.3 0h0m.3-1.7h0m0 .8h0m.1-.1h0m.1-.1h0m.1.2h0m.1-.7h0m.3 1.4h0m0 .2h0m.9.7h0m0 .2h0m.2-1h0m.2.7h0m.2-.3h0m.1-1.9h0m.6 2.7h0m.1-.4h0m.2-1.6h0m.3 2h0m.1 0h0m.2-.7h0m.3-.7h0m.1-1.5h0m0 2.9h0m.1-1.1h0m0-1.7h0m.1 1.3h0m.1-.8h0m.2 1.9h0m.2.4h0m0-1.3h0m.2.9h0m.2 0h0m.1.2h0m.3-2.5h0m.1 2.2h0m0-.8h0m.2-.8h0m.3-.1h0m0 .2h0m.2.2h0m.1.7h0m.1-1.2h0m.3 1.5h0m0 .4h0m.1-2.1h0m.1.9h0m0 1.5h0m.1-.8h0m.2.7h0m.4-2h0m.1 1.8h0m.1-.9h0m.1 1h0m0-2.4h0m.1 2.3h0m.2-1.6h0m0 1.7h0m0-1h0m.1-.7h0m0 .2h0m0 0h0m.3-.8h0m0 .2h0m.4 1.8h0m1 0h0m.1-1.8h0m0 .4h0m.1 2h0m.1-1.3h0m0-1.6h0m0 2h0m.1-.4h0m0 0h0m.2.9h0m.2-.9h0m.1.8h0m.2.4h0m.1-.3h0m.1-.4h0m.2-1.3h0m.2 1.7h0m0-2.5h0m.1 1.8h0m.1.9h0m.2-.2h0m0-.7h0m.1-1.8h0m.2 2h0m0 .3h0m.3-.9h0m.1-.1h0m.2-.4h0m.1-.9h0m0 .2h0m.1 2.4h0m0-1.1h0m.1 1.3h0m.4-1.1h0m0-1.3h0m.6 2.5h0m0-1.9h0m.1 1.6h0m0 0h0m.2-.2h0m.1-.4h0m.1-1.3h0m.1-.5h0m.1 1.9h0m.1-1.2h0m.2.4h0m.4 1h0m.4-2h0m0 1.4h0m.6-.7h0m.1.8h0m.1 0h0m.7-1.3h0m.9 1.4h0m.5.2h0m.8-1.9h0m.3 2.1h0m.2-.5h0m0 .5h0m.7 0h0m.2-.4h0m3.1-.7h0m1.5.6h0m0 .4h0m-41.8 1.6h0m6.4-.6h0m1.7.6h0m.7.6h0m1.1.8h0m.8-1.8h0m.9.4h0m.5-.5h0m.2-.3h0m.2.9h0m.1 1.4h0m.2-2.2h0m0 1.3h0m.3 1.5h0m.3-.2h0m.1-1h0m0-1.5h0m.1 2.5h0m1-1.1h0m.1 1.1h0m.6-1.3h0m.1-.3h0m.1.2h0m.1.7h0m0-.6h0m0-.3h0m.1-.5h0m.1.5h0m0 1.2h0m.1-2.3h0m0 2.3h0m0-1.8h0m.3 1.7h0m0 .7h0m.1-.3h0m.1-2.2h0m.1.6h0m.2.5h0m.3-1.3h0m.1 2.7h0m.2-2.4h0m.1.5h0m.3 1.9h0m0-.6h0m.1-.8h0m.2.2h0m.1.4h0m0-.2h0m0 .9h0m.1-.6h0m.1-1h0m.2.8h0m0 .2h0m.1.2h0m0-1.2h0m0 1.3h0m.1-1.1h0m.1-.4h0m.1-.9h0m0 0h0m.1 2.2h0m0-.7h0m.1.4h0m0 .1h0m0 .1h0m.3 0h0m.1.6h0m0-1.5h0m.1-.4h0m0-.7h0m0 1.2h0m.1.9h0m.2.4h0m.3-.9h0m0-.1h0m.1-1.2h0m0-.4h0m.1 1.9h0m.1-1.4h0m0 .6h0m0-.6h0m.1-.1h0m.1-.4h0m0 1.9h0m.2-1.4h0m.1 1.3h0m0-1.6h0m.1 1.3h0m.1-1h0m.1-.2h0m0-.2h0m0 .2h0m.1.5h0m0 .7h0m.2.6h0m.1-.5h0m.1-.7h0m0 1.3h0m.1-.6h0m0 1.2h0m.1-1.1h0m.2 1h0m.1-2.5h0m.1.4h0m.1.5h0m0-.2h0m0 .7h0m.2-1.5h0m0 1.7h0m0 .3h0m0 .3h0m.1-2.4h0m0 1.4h0m0 0h0m0 .3h0m.2-1.7h0m0 1.2h0m.1 1h0m0-1.4h0m.1 1.4h0m.1-1.3h0m0 1.7h0m.1-2.2h0m.3.6h0m.1-.3h0m.2.2h0m.2-.7h0m0 .2h0m.3.5h0m.1.4h0m.2-.5h0m.1 1.7h0m.1-2.1h0m.2.3h0m0-.8h0m0 2.4h0m.4-1.3h0m0 .7h0m0 .2h0m0-.6h0m.1 1h0m0-2.4h0m0 .8h0m.1.7h0m.1-.5h0m0 1.7h0m.2-2.3h0m.2 1h0m.2-.2h0m0 .2h0m0-.7h0m.1.9h0m.1-.9h0m0 1.3h0m.1-1.1h0m.1 1.7h0m.1-1.8h0m.1 1.9h0m0-1.5h0m.2.2h0m.2-.8h0m0 .4h0m.1.9h0m0-.9h0m0 .4h0m.2 0h0m.1.6h0m.2-.3h0m0 .5h0m.1-1.2h0m0 .5h0m0-.2h0m.2.9h0m.1-1.3h0m0 2h0m.1-1.5h0m.2.9h0m.9.5h0m.1-.8h0m.6-1.4h0m.4-.3h0m.4 1h0m.1 1.4h0m0-2h0m.1 2.1h0m.1-2.4h0m0 2.5h0m.3-2.5h0m.2 2.1h0m.2-2h0m.3 2.3h0m.3-1.9h0m0 .3h0m.2.2h0m.1.1h0m.1.8h0m.3-1h0m.1-1h0m.1 1.8h0m.3.7h0m.6-1.9h0m.1-.6h0m0 1.4h0m.7 1h0m.3-.6h0m1.1-1.3h0m0-.5h0m.1 1h0m.3-1.1h0m.2 1.9h0m1.4-1.3h0m.1.7h0m6.8.2h0m-42.5 3.1h0m3-1.1h0m.5 1h0m2.9-.9h0m.1-.7h0m0 .6h0m1.5.2h0m.9-.6h0m.8.4h0m.1-.5h0m.6-.2h0m.1.4h0m.1 2h0m.2.3h0m.3-.3h0m.1-.1h0m.1.6h0m.1-2.4h0m.2 1.9h0m0-1.6h0m.1.7h0m.2-1.1h0m.1 2h0m.7-.6h0m.1-.9h0m.1.8h0m0 0h0m.1-.4h0m.1-.4h0m.2-.9h0m0 1h0m.2.5h0m.2 1.4h0m.3-.8h0m0 .6h0m0-.6h0m.2.3h0m.1-.4h0m0-1.1h0m.2-.8h0m.3.7h0m.5 1h0m.1-.4h0m.4-.3h0m.1 0h0m.1-.4h0m.2 1.1h0m.2-1.1h0m.1.8h0m.3.5h0m0-.9h0m.2-.6h0m.2-.5h0m.4 2h0m.1.6h0m0-1.9h0m.1 1h0m.1.1h0m.1.2h0m0-.9h0m.1-.6h0m.1.8h0m.1 1.2h0m0-.3h0m.2-.6h0m.1-.1h0m.1 1.3h0m.1-2.7h0m.1 1.9h0m0-.9h0m.1 1.8h0m.2-2.4h0m0 1.7h0m.2.3h0m0-1.4h0m0 .6h0m0-1h0m.1.2h0m.1 1.8h0m.3-1.8h0m0 0h0m.2-.9h0m.3 1.7h0m.1.8h0m.1-.6h0m.1-.2h0m0-.7h0m.1-.5h0m.2 0h0m.1.7h0m.1-1h0m.2 2.2h0m0-2.3h0m0 2.2h0m.2.1h0m0-1.8h0m.1 2.1h0m.1-1.9h0m.2 1.1h0m0-1.2h0m.3-.6h0m0 .8h0m0 .2h0m.1-.7h0m.1-.2h0m0-.1h0m.2.1h0m0-.1h0m.1 2.6h0m.1-1.3h0m0-.1h0m.1 0h0m.1-1.2h0m.1 2.1h0m.2-.8h0m.1-.2h0m.2.4h0m.2-1.4h0m.1 2.5h0m0-.8h0m.4-1.4h0m.1.7h0m.1-.6h0m.1 1.5h0m.1-1.5h0m0 .7h0m.1 1.4h0m.3-1.2h0m.2 1.3h0m.6-.3h0m.3-.3h0m.3-.9h0m.1-.2h0m.3-.3h0m0 .7h0m0-1.1h0m.3 2.2h0m0-2.4h0m.1 2.4h0m.1-1.2h0m.1-1.1h0m0 1.1h0m.4.9h0m0-1.9h0m.2 2.3h0m.2-1.5h0m.1.6h0m0 .6h0m.1-2.2h0m.3 1.1h0m.1.1h0m.9-.3h0m2.1 1h0m1.3-.5h0m.5.9h0m.3-.1h0m.3-1.4h0m-33.5 4.2h0m7.3-.9h0m1.3-1.1h0m1.8 1.5h0m1.1-.3h0m1-1.4h0m.3.6h0m.7-.6h0m.7.6h0m0 1.4h0m.5-1h0m.1-.9h0m.2.2h0m.2 0h0m0 1.9h0m.1-2.2h0m.9 1.3h0m.2.6h0m.2-.3h0m.6-1.1h0m.1.5h0m.5-1h0m.4 1.1h0m.1 1h0m0-2.1h0m.6.7h0m0 .9h0m.1-.6h0m.1 1.1h0m0-.5h0m.1.8h0m.1-1.6h0m.6 1.2h0m1.2-1.9h0m.7.6h0m.5.6h0m.3-.9h0m.3.3h0m0 .2h0m.6-.2h0m.1 1.3h0m.2-1.7h0m.1 1.8h0m.7-1.2h0m0-.4h0m.1-.3h0m.5.8h0m.6-.4h0m.4.9h0m1.1.2h0m.5-1h0m.7.5h0m.5-1.2h0m1.6.5h0m1.1 1.7h0m-20.4 2.5h0m1.6-1.5h0m1.4.5h0m4.7 1.1h0m.7-.4h0m.7-.3h0m2.9-.3h0m4.6-.2h0m4 .6h0m4.5.3h0m-23.5 1.8h0m7.6.5h0" stroke="#0a0414" stroke-width="1" stroke-linecap="square" stroke-opacity="0.95"/>
<path d="M352 539.8h0m-6.8 2.8h0m1.9.1h0m.5.1h0m2.6-2.8h0m2.6.5h0m1.5-.1h0m1 2.5h0m.3-.4h0m.3-.4h0m.2.4h0m1.3-.8h0m1.2 0h0m.1 0h0m.3.2h0m.7-.3h0m1.3-.1h0m2.1 1.1h0m1.7-.2h0m1.8 0h0m0 .3h0m.3-.5h0m2.3.1h0m.2.2h0m.2-.8h0m.3 0h0m2.8 1h0m-26.1.4h0m.3 1.8h0m.9-1.7h0m.7 2.7h0m.2-2.4h0m.1-.4h0m.6 1.6h0m.7-.1h0m.2-.2h0m1 .4h0m.1-.4h0m.2-.2h0m.1 1.5h0m.1-.2h0m.6-.5h0m.1-1.5h0m.4 1h0m.2 1h0m.1-1.6h0m.5.1h0m.4-.3h0m.3.4h0m.1.6h0m.6 0h0m0 0h0m.2-1.6h0m.2 2.2h0m0-.8h0m.1.2h0m.3.9h0m.2.1h0m.3-.2h0m.1-1.4h0m.9-.3h0m.1 1.2h0m.7-.8h0m.1 1.5h0m.2-1.9h0m.1.3h0m.3 1.5h0m0-1.8h0m.2 1.9h0m.2-.4h0m0 0h0m.1-.3h0m0-1.2h0m.9.1h0m.1 1.2h0m.2-2.1h0m0 .9h0m.2-.2h0m0 1.1h0m0-.1h0m.5-.5h0m.1 1.5h0m.1.2h0m0-1h0m.2.8h0m.2-.1h0m.1-2.4h0m.6.8h0m.3 1.1h0m.1.3h0m.6-1.9h0m0 1.8h0m.1-1.4h0m1.7.9h0m0-1.4h0m.2.1h0m.4.5h0m.6 1.1h0m.2-.5h0m.2-1.6h0m.2 1.6h0m0 .4h0m.3-1.9h0m.6 1.6h0m.1.8h0m.4-2.4h0m.6 1.4h0m0 0h0m.2 1h0m.9-.7h0m0-.1h0m.9.7h0m1 .4h0m.4-.3h0m.5-1.7h0m.5 1h0m1.3-.7h0m1.4.8h0m-37.2 2.2h0m3.4 1.7h0m.8-1.4h0m1-1.4h0m.5.5h0m1.5.4h0m1.1 1h0m.8-1.4h0m2-.1h0m1.1.9h0m.2-.6h0m0 1.9h0m.2-1h0m.4-.1h0m1.3-.4h0m.5.6h0m.3.8h0m.1-1.2h0m0-.6h0m.1.1h0m.2.5h0m.1 1.4h0m0 .2h0m.7-1.9h0m.1.9h0m.5-.3h0m0 .9h0m.1-.9h0m0-1.6h0m.3.6h0m.1 1h0m0-1.4h0m.2 1.4h0m.3-.7h0m0-.1h0m.3 1.3h0m0-1.1h0m0 .3h0m0-.2h0m.1-.8h0m.1 1.1h0m0-.6h0m0 2.1h0m0-2.1h0m0 2h0m.1-1.5h0m.1 1.4h0m.1-2h0m.4.5h0m0 .3h0m.4-1.5h0m0 .8h0m0 1.3h0m0-1.7h0m.1 2.3h0m0-.7h0m.2-.8h0m.2 1.4h0m0-1.8h0m.2-.6h0m.3 2.2h0m.1-1.1h0m.3-.2h0m.2.6h0m.1-.4h0m.3.8h0m0 .1h0m.1.1h0m.4-.4h0m0-.8h0m.1.8h0m.1.2h0m0-1h0m.1 1.6h0m0-2.1h0m.1-.1h0m.1 1.7h0m0-1.4h0m0-.5h0m.2 1.7h0m.2-1.2h0m0 1.7h0m0 .2h0m.1-1.5h0m0-.6h0m.1.2h0m0 1.8h0m.2-.5h0m.3-.2h0m.1-1.2h0m0-.1h0m.1 1.8h0m.1-.7h0m.1-1.5h0m.1-.1h0m0 2.5h0m0 .1h0m.1-.5h0m.2-.8h0m0-1h0m.1.5h0m0 1.6h0m.2-1.3h0m0-.4h0m.1 1.5h0m.2-1.3h0m.3.1h0m.2-.7h0m.2 2.5h0m.1-.8h0m.1-2h0m0 .8h0m.2 1.5h0m.3-1.1h0m0 1.2h0m.1-.5h0m.2-.5h0m0-.1h0m.2.3h0m.2-1.7h0m.6 2.2h0m0-1.7h0m.2 1.1h0m.1.6h0m.2 0h0m.4-1.5h0m0 1.9h0m0-.5h0m.7-1.4h0m.2 1.5h0m.1 0h0m.2-1.1h0m.1-.5h0m.4 1.4h0m.1-1.7h0m.4 2.4h0m.1-1h0m.2-.6h0m.4 1.6h0m0-2.6h0m.1.7h0m0 .5h0m0-1.3h0m.3 2.8h0m.2-2.6h0m1.2 2h0m.2-1.8h0m.4 2.4h0m2.5 0h0m.2.1h0m.2-1.8h0m1.2 1.6h0m-30.8.9h0m1.3 0h0m1.3-.2h0m.1 0h0m.6.9h0m.6-.8h0m1.2 2h0m.1-.6h0m.1-1.7h0m.8.3h0m.1 2.4h0m1.2 0h0m.1-1.8h0m.6-.3h0m0 1.3h0m.1-1.3h0m0-.4h0m.1 1.7h0m.1.5h0m.2.2h0m.3-.5h0m0 .2h0m.1.1h0m.1-1.6h0m.1.2h0m0 .9h0m.1-1.7h0m.2 0h0m0 .1h0m.3 1h0m.1.6h0m0 .4h0m.1-2.4h0m.2 1.8h0m0 0h0m.6-1.5h0m.3.1h0m0 1.5h0m.2-1.5h0m.1 1.5h0m.3.6h0m.2-2.6h0m0 1.7h0m.1 0h0m0-.7h0m0-.9h0m.2.2h0m.3.9h0m.3.3h0m.1-.5h0m.2.9h0m.3-.3h0m0-.7h0m.5 2h0m.7-1.8h0m.6-.3h0m.1 1h0m.3-1h0m0-.5h0m0 1.3h0m.2-.1h0m.2.8h0m.1-.1h0m0-.5h0m.1.6h0m0-1.9h0m.1-.4h0m.1.7h0m.1 1.5h0m.5-2.2h0m.4.7h0m.2 2.1h0m.2-.1h0m.3-2h0m.1.9h0m.3.1h0m0-1.5h0m.1 2.1h0m.2-.1h0m0-.9h0m0-.7h0m.2 2h0m0-2.1h0m.1 0h0m.2-.4h0m0 2.1h0m.3.7h0m.1-2.8h0m.4.5h0m.4-.6h0m.5 2.1h0m0-1.2h0m.2-.9h0m.2 1.3h0m.2.5h0m.1.3h0m.6 0h0m.4-.2h0m.2-.8h0m0-.5h0m.5-.3h0m1.6 2h0m.3-1h0m.7-.7h0m0-.2h0m.2 1.6h0m.1.8h0m.7-1.9h0m.3-.3h0m.9-.4h0m1.7 2h0m3.4-1.7h0m-28.3 4.2h0m.3.2h0m.5-.7h0m1.2.5h0m.1.1h0m.9-.6h0m1-.5h0m1.2.2h0m.4 1.3h0m1.6-1.5h0m.7 2.1h0m1.3-.4h0m.6-1.6h0m.2 1.6h0m.6-2.3h0m.2-.1h0m.2 1.6h0m.1-.1h0m.1-.8h0m.3-.5h0m1.4 2.1h0m.1-1.1h0m.1-.9h0m.2.6h0m.4-.4h0m.4.4h0m.1.6h0m.4-.1h0m.1-1.3h0m.2.6h0m1.9.2h0m.3.8h0m1.7.3h0m1.3-1h0m.4-.7h0m.2 1.8h0m1.4-1.8h0m.7 1h0m.4-.3h0m-32.4 4.3h0m10.4.3h0m2.5-2.4h0m10.1.9h0m1.8-.8h0m2.5 0h0m2.5.4h0m.4-.3h0" stroke="#2a0c40" stroke-width="1" stroke-linecap="square" stroke-opacity="0.92"/>
<path d="M360.7 539.4h0m11.8-2.2h0m-17.2 3.1h0m.4 1.3h0m3.8-.3h0m3.4.7h0m1.1 0h0m2.5 0h0m-26.2 2.3h0m9 1.3h0m1.6-1.2h0m3.3 1.5h0m.1 0h0m0-1.6h0m.6-1.1h0m.3-.1h0m.7 2.6h0m.7-2h0m.6-.1h0m.8-.5h0m.1 2h0m.2-1.1h0m.4 1.1h0m.8-1.6h0m1 1.9h0m.2-1.7h0m2 .4h0m.5 1.5h0m.6-.5h0m.9-1.2h0m.2 1.8h0m.4-.2h0m1.4-2.2h0m.6.3h0m.5.8h0m3.6.3h0m2.1.8h0m7.1.4h0m-32.7 2h0m1-.8h0m.4-.1h0m.4.4h0m1.8-1h0m1.7 1.4h0m.3-1.3h0m.6.8h0m.2.5h0m.7-1.6h0m.7.8h0m.6.4h0m.5-.2h0m.2-.5h0m.6 1h0m.1.9h0m.4-.2h0m.1-1.5h0m.2 1.7h0m.2-1.1h0m.2 1.3h0m.1-1.9h0m2.1 1.2h0m.3-.7h0m.5 1.2h0m.7-.9h0m.3-1.7h0m.4 1.5h0m0 .9h0m.3-1.2h0m0 1.5h0m.2-2.7h0m.3.7h0m.3.6h0m.5.1h0m.3-.2h0m.4 1.7h0m.2-.3h0m.5-1.7h0m1.1.9h0m1.4-1.7h0m0 1h0m1-.1h0m1 .8h0m.3-1.6h0m1 0h0m1.3 1.1h0m.9-.9h0m2.8 1.9h0m-31.2.7h0m2 1.9h0m4-.7h0m0-.4h0m.1.9h0m2.4-.9h0m.1-.6h0m.9-.2h0m0 1.3h0m.4.7h0m.6.8h0m0-.2h0m.2-1.4h0m.4-.9h0m.1 2.1h0m.7-.1h0m.1-1.5h0m1.2 1.8h0m1.4-1.8h0m.6.2h0m1 1.6h0m.5-1.9h0m2.7-.3h0m.2 1.1h0m1.3 0h0m.1.3h0m.5-.7h0m.1-.3h0m0-.1h0m.2-.1h0m2.2 1.7h0m1.6-.5h0m.6-1.2h0m.6.8h0m.4.6h0m.7-.2h0m-20.6 2.5h0m.9-.1h0m3.1-.8h0m2 .7h0m4.5.6h0m1.1 0h0m2.5-.1h0m.7.9h0m1.8-.2h0m.1.2h0m0-1.7h0m7 1.5h0m-18 1h0" stroke="#541454" stroke-width="1" stroke-linecap="square" stroke-opacity="0.9"/>
<path d="M352.3 532.5h0m-7.1 3.5h0m2.4.5h0m3.1.3h0m1-.5h0m1.3-.6h0m-13.9 2.1h0m3.4 1.7h0m1-1.6h0m1.6 2h0m.9-1.2h0m.1-.6h0m1.3.1h0m.8 1.3h0m.2.2h0m1.5-.6h0m2.3.2h0m.3-1h0m1.5-.5h0m1.2 1h0m-14.4 1.9h0m3.5 0h0m.2 1.1h0m.6 0h0m.2.5h0m.2-1.9h0m.6 1.1h0m.3 1.3h0m.1-.1h0m.6-2.1h0m.1 1.9h0m.3-2.2h0m.2.6h0m.8 1.4h0m.6.2h0m.8-1.3h0m0-.9h0m.1.9h0m.9.9h0m.4-1.8h0m.1.8h0m.2 1.8h0m.7-.1h0m.1-1.3h0m.5-1.5h0m.6.8h0m1.4 1.5h0m.3-1.2h0m.2-.7h0m1.3-.4h0m-14.2 3h0m.3 2h0m1.4-1.2h0m.8-.5h0m.1 1.8h0m.2-1.2h0m.1.1h0m.1-.3h0m0 .8h0m.4-.7h0m.3.1h0m.9 1.9h0m.1-.2h0m0-1.2h0m.4-.5h0m.1.2h0m.1.3h0m.2.6h0m1.1-.8h0m.2-.2h0m.5.9h0m.1-1.9h0m.2.2h0m.2.5h0m.1.1h0m.4 1.2h0m.2-1.3h0m.6-.7h0m.4 1.2h0m3.4-.1h0m1.1-1h0m-12.7 3.3h0m.7-.4h0m.1 1.9h0m.2.1h0m1-.6h0m.5-.8h0m.5-.3h0m.1 1.9h0m1.3-1.5h0m.5-.2h0m0 .7h0m.6 1h0m.2-.1h0m.3.4h0m.1-.9h0m.1.1h0m.1-.3h0m.2-1.2h0m0 1.8h0m.5-1.8h0m.3 2.1h0m.2-2.3h0m.5.8h0m.3.3h0m0 .8h0m.4 0h0m.2-.9h0m-8.1 3.4h0m.9-.2h0m.2-1.2h0m1.1 1.6h0m1.7-.7h0m4 .3h0m.6-.3h0m.1-.5h0m2.4.8h0m-16 3.5h0m13.9.9h0m-3.9 2.5h0" stroke="#2a0c40" stroke-width="1" stroke-linecap="square" stroke-opacity="0.9"/>
<path d="M344.8 535.1h0m4.6 1.8h0m.8-1h0m3.3.3h0m1.3-1.6h0m-13.9 3h0m3.3 2.2h0m.5-.4h0m.2-.7h0m2.6-.5h0m2.6-1.1h0m2.5 1.4h0m.1 1h0m0 .2h0m-11 1.7h0m1.1 1.5h0m.1-.5h0m.7-1.1h0m.1 1.3h0m0-2.3h0m1.2.7h0m0 .7h0m.2-1.3h0m.1.9h0m.2.6h0m.6.9h0m.3-1.1h0m.1 1h0m.7-1.2h0m.6-1.1h0m.4 1.9h0m.2-.5h0m.1-.6h0m.2-.3h0m.4-.2h0m.1 2.1h0m.6-1.1h0m.7 1h0m.4-2.7h0m.1 2.4h0m.1-1.7h0m.3 2h0m1.8-1.9h0m-11.3 4.8h0m.4-1.3h0m1.2-1.1h0m.6 1.7h0m.3-.2h0m.2-.2h0m.6-1.2h0m0 1.5h0m1.1.2h0m.1-.8h0m.1-.3h0m.4-.6h0m.2 2.2h0m.6.1h0m.3-1.6h0m.4.1h0m0 1.6h0m.3-.5h0m.3.3h0m.3-2h0m.4.1h0m.1 1.8h0m.4-1.3h0m.3-.6h0m.1 2.2h0m.2-1h0m.3-1.2h0m1.1 1.2h0m0 .1h0m.4-.9h0m.4 1.9h0m0-.4h0m1.8-1.4h0m.2 0h0m.1 1.4h0m-13.1 2.7h0m1.8-1.4h0m2.3-.4h0m.3-.3h0m.8 1.4h0m.7 1.4h0m.2-1.7h0m.3.1h0m.5.9h0m.5-.1h0m.7.5h0m.8-2h0m.1.5h0m.7 1.5h0m1.6-.3h0m-8.9 1h0m3 1.6h0m2-1.7h0m.8.8h0m2 .1h0m.6.3h0m-5.3 2.8h0" stroke="#5a1450" stroke-width="1" stroke-linecap="square" stroke-opacity="0.9"/>
<ellipse cx="355.14" cy="532.78" rx="9" ry="8.5" fill="#a83060" opacity="0.75" filter="url(#blur3)"/>
<path d="M363.3 509h0m-11.4 4.3h0m.2 1.3h0m-5.1 2.8h0m1.3-.9h0m.7 2.1h0m.8.3h0m3.1-.9h0m.6-.8h0m10.5-1.1h0m-15 5.8h0m1.4 0h0m2.3-2.2h0m1.2 1.2h0m.3-.7h0m1.1.2h0m0 .2h0m5.3.3h0m2.8.2h0m1.5.3h0m-20.3 2.5h0m3.4-1.9h0m.4 0h0m3.5 1.5h0m.8 0h0m1.2.9h0m1-1.3h0m.3-.9h0m4.2 2.2h0m.4.2h0m.5-1.3h0m1.1 0h0m-16.3 3.8h0m2.4-.6h0m.3-.4h0m1.1 1.1h0m.2.5h0m.2-2.6h0m0 2.4h0m.4-1.3h0m.1.6h0m.2-.6h0m.3-1.1h0m.3 1.4h0m.6-.1h0m.2 1h0m.6-.7h0m.9-.4h0m.4 1.2h0m3-.1h0m2.5-1.2h0m.3-1.2h0m.1 1.3h0m5.6.2h0m0 .1h0m-20.8 3.6h0m.7-1.9h0m.2 0h0m1.6.5h0m.2 1h0m.3.1h0m2.9-1.5h0m.7.9h0m.7-.5h0m0-.1h0m.4 1.1h0m.5.9h0m.7-.3h0m1.6-.6h0m.6.7h0m1.4-.7h0m1-1.6h0m2.2 1.7h0m.4.8h0m3.1-1.8h0m4 1.4h0m.2 0h0m1.8.6h0m1.3-1h0m-28.1 1.1h0m2.9 2.8h0m.1-2.1h0m.3 1.9h0m2.2.3h0m1.4-2.9h0m0 .2h0m.1.1h0m.3.5h0m.5.1h0m1.7-.8h0m.5 1h0m.1 1.6h0m.2-1.3h0m.1-1.2h0m.3 1.1h0m1.2 1.4h0m2.7-.3h0m.8-1.9h0m.1.4h0m.6-.5h0m1.1.2h0m1.7-.3h0m1.6 2.4h0m1.7-.8h0m1.2.8h0m4.7-.5h0m-31.6 2.5h0m1.6.3h0m.9.6h0m1.6-.2h0m3.5-.8h0m1.2-.7h0m.7 0h0m.2-.9h0m.3 1.6h0m.8-.1h0m.5-1.2h0m.3.4h0m.1.9h0m1.1 1h0m.1-1.4h0m.1-.2h0m.9 1.5h0m.3 0h0m.5.1h0m.3-2.3h0m1.1 1.8h0m.1-1.2h0m1.8-.2h0m.4-.4h0m.5 1.6h0m.6.4h0m.3-.6h0m2.3-.6h0m.1-.9h0m.2 1.7h0m1 .4h0m1.3-.4h0m1.1-1.6h0m7.5 1.3h0m-28.9 2h0m2.4-.2h0m.5 2.4h0m.8-1.3h0m.2.1h0m.7-1.1h0m1.5 1.1h0m.1-.4h0m.5-.5h0m.2.7h0m.6 1.1h0m.3-1.6h0m.1.4h0m1.4.6h0m.3.5h0m1.5.3h0m.2-1.3h0m.9.4h0m0-.3h0m0-.1h0m.4-.9h0m.2 1.2h0m.1-1.2h0m.1-.5h0m.4 2.5h0m0-1.3h0m.3 1h0m1.7-.7h0m.2.4h0m1.6.4h0m.2-1.4h0m.3.6h0m.3-.7h0m1.8-.5h0m-20.8 3.4h0m3.6 1h0m.4.1h0m.6-1.3h0m1.7 2.4h0m.3-1.5h0m.8-1.1h0m1.1 2.6h0m1-2.1h0m.3.2h0m1 1.5h0m1.3-1.7h0m0-.8h0m.5 2.1h0m0-.2h0m.6-1.6h0m.7-.2h0m.2 2.3h0m.1-1.7h0m.2-.3h0m2-.1h0m.3.4h0m.7-.3h0m.5 1h0m0-.5h0m1.1-.5h0m4-.3h0m-17.1 5.7h0m0-2.7h0m.5.2h0m1.3 0h0m.7 1.4h0m.1.9h0m.2-2.5h0m1 1.2h0m1.2.6h0m.8 1h0m.3 0h0m1.6-1.2h0m.2-.4h0m.8.7h0m.2-.2h0m1.1 1.1h0m6.5-.1h0m-15.9.3h0m2.6 2h0m1 .6h0m.1-2.2h0m4.1 1.1h0m.2-.9h0m.4-.4h0m3.6.3h0m-13.5 3.3h0m2.9.3h0m.8 0h0m7.9 0h0m2.1-.6h0" stroke="#3a0c40" stroke-width="1" stroke-linecap="square" stroke-opacity="0.92"/>
<path d="M351.6 514.4h0m1 3.5h0m.3-.2h0m1.5-.4h0m3.2 1.2h0m-7.4.7h0m1.6.3h0m.4-.5h0m.6 2.8h0m1.1-.9h0m7.2.8h0m2.8-.4h0m-17.7 3.3h0m3.6.3h0m.8-1h0m.8-1h0m.1.2h0m0 .7h0m.5-1h0m.5 0h0m.3.7h0m1.2.5h0m.5-1.2h0m.5-.5h0m1.2 1.4h0m1 .2h0m1 0h0m.7 0h0m.2-1.2h0m-13.1 2.7h0m.3 1.4h0m.1-.4h0m1.2.5h0m.1-.8h0m.4-.9h0m0 1.4h0m.8.7h0m1.1-1.3h0m.3.1h0m2 1.2h0m.7 0h0m.5-1.8h0m.8.9h0m.1-1.3h0m.5.1h0m.3-.2h0m0 1.5h0m.7.8h0m.3-.9h0m.2-.6h0m.8 1h0m.4.5h0m.4-2.2h0m.3 1.1h0m.2 1.3h0m.6-.7h0m1.3-1.5h0m2.1 1.5h0m-16.2 2.8h0m.8-1.6h0m.3.2h0m.8 1.1h0m.3 1.1h0m.2.5h0m.1-.8h0m.3-1.9h0m.2 2.7h0m.2-.4h0m.1-2h0m.1.5h0m.1-.7h0m0 1.6h0m.2-1.1h0m.1 1.4h0m.4-2.1h0m.4 2.5h0m.1 0h0m.1-.1h0m.5-1.2h0m0 .3h0m.3-.9h0m.4.3h0m.1 1.1h0m.1.2h0m.1-1.9h0m.2 1.2h0m.3-1.1h0m.1.6h0m.1-.8h0m.7.6h0m.2 0h0m.1-.9h0m.8 2.2h0m.1.2h0m.2-2.3h0m.5 2.7h0m.1-2.2h0m.2.1h0m.5.9h0m.3-1.2h0m.3.6h0m.4 1.7h0m.5-2.5h0m.2.3h0m.1.8h0m.2-1.3h0m1.2 1.2h0m0 .2h0m0 .4h0m1.3-1.3h0m.2.5h0m.4-.7h0m.1 2.6h0m.3-.1h0m.6-1.8h0m2.3.1h0m4.1 0h0m-25.1 4.2h0m1-2h0m.8 2.6h0m.6-.9h0m.7-.3h0m.1.7h0m1.8-2.3h0m.2 2.5h0m0-1.6h0m0-.9h0m.5 1.9h0m.3.4h0m.1 0h0m1.3-.9h0m0-1.1h0m.2 2.2h0m.7-2.6h0m.4 1.9h0m.1.4h0m.1.1h0m.3-1.6h0m.7.4h0m.2-.9h0m.1 1.1h0m.5-.5h0m0-.4h0m.1 1.2h0m1.2.6h0m.1.1h0m0-.5h0m1.2.9h0m0-2h0m.1 1.3h0m0-.3h0m.1-1.8h0m.9 2.3h0m.2 0h0m.6 0h0m.1-1.2h0m.3.4h0m.3.1h0m.2-1.6h0m.1 1.1h0m.2.5h0m.7-1h0m.7.4h0m.7 1h0m.4.6h0m1.8-2.1h0m.7 0h0m-22.3 3.6h0m4.3.4h0m.1-1.4h0m.5.1h0m.3 1.9h0m.3.1h0m.7-1.8h0m.8.7h0m.3.4h0m.1-.9h0m.3-.6h0m.4 2h0m.1-.7h0m0-1h0m.1.2h0m.1 2.1h0m.1.2h0m0-1.6h0m.1-1h0m.3 1.2h0m0-1.4h0m.5.2h0m.3.4h0m1.3.9h0m.1-.8h0m0-.3h0m.1 1h0m.1.2h0m.2 1.3h0m.9-1.3h0m.2-1.1h0m.9 1.4h0m0-.9h0m.3 1.2h0m.6-.8h0m.5-1.3h0m.9.3h0m.1 1.1h0m.3-.3h0m.6-.6h0m.9 0h0m.3 1h0m0-1.2h0m1.6.5h0m.1 1.1h0m.5-1.6h0m.9 2.3h0m0-2.3h0m.2.6h0m-18.5 3.3h0m.1.2h0m2.2-.5h0m1.2-.6h0m.7-.3h0m.6-.1h0m.8 1.3h0m0-.6h0m0 0h0m.1 1.3h0m.2-1.1h0m0-.2h0m0-.3h0m.1.9h0m0-1h0m.9-.3h0m.2 2.3h0m.2-.8h0m.2 1.1h0m.1-2.2h0m.4 1.3h0m.1-1.2h0m.1 1.5h0m0-.4h0m.7-1h0m0-.4h0m.8 2.4h0m.2-2.3h0m.3 2.4h0m.6-.8h0m0-.9h0m.3-.9h0m.5.4h0m.3.5h0m.1 1.9h0m.7-.3h0m.4-.6h0m.3-1.6h0m.3 1.7h0m.5-2h0m.1.2h0m.3.7h0m.1 1.7h0m.1-2.2h0m.2 2.2h0m1-.1h0m1.3-1.6h0m.4-.9h0m-18.2 2.9h0m1.3 2.3h0m.2-1.3h0m.6 1.5h0m1.8-.5h0m.8.3h0m.1-.8h0m0-.3h0m.1-.7h0m.8 2.4h0m.3-1.1h0m.3.3h0m.1-1.8h0m.5 1.2h0m.5-.2h0m.6 1.2h0m.6-1.5h0m.2-.7h0m.9 2.6h0m.7-1.6h0m.3-.1h0m.1 1.2h0m.3-.5h0m0-1.2h0m.5.1h0m.1 1.3h0m.3.5h0m.1-.8h0m0-1.7h0m.2-.1h0m.1 2.5h0m0-.6h0m.6-.8h0m.1.9h0m.3-2h0m.6 1.1h0m0-.8h0m.2-.3h0m1 1.5h0m6.4-.5h0m-16.9 2.6h0m2.7 2.3h0m.4-1.9h0m.9.5h0m.7 1.3h0m.7-.5h0m.4-1.8h0m.3.7h0m.2-.8h0m1.2 2.3h0m.6-.7h0m0-.9h0m.1-.8h0m.4 2.4h0m.7-2.6h0m.2 1.1h0m.1-1.2h0m1.9 2.2h0m-15.3 1.3h0m6.6.4h0m.8 0h0m1.2 1.8h0m5.4-1.3h0m-13.2 2.4h0m13.3 2.2h0" stroke="#6a1848" stroke-width="1" stroke-linecap="square" stroke-opacity="0.92"/>
<path d="M348.8 521.2h0m.4-1h0m2.1.3h0m1.4 1.4h0m10.6-2.5h0m-17 3.3h0m2.8 2.2h0m.8-2.8h0m.2 1.8h0m1 1h0m.2-1.1h0m1.9.6h0m.5-.3h0m.2-1.5h0m.2 2.3h0m2.1-.3h0m.1-1.7h0m1.6-.7h0m.3.7h0m.2 1.6h0m.9-1.1h0m-12.3 3.2h0m.5.6h0m1.4 0h0m.1-.5h0m.2.3h0m1.4-.3h0m.7-.8h0m.1.4h0m.1-1.2h0m.1.9h0m.8.8h0m.6-.3h0m.1.8h0m.1-1h0m1.1-.6h0m.6.9h0m.5.6h0m.3-.3h0m.2.4h0m.1-.8h0m.1.3h0m.6.1h0m.3.4h0m.3.5h0m.1 0h0m.4-1.1h0m0 .7h0m0 .5h0m.3-1.6h0m.8.1h0m1.1-.8h0m-15.5 4.7h0m2.5-.8h0m.1.6h0m.5.5h0m.6-1.3h0m.3.1h0m.1 1h0m1.2-1h0m.9.8h0m0 .3h0m.2-1h0m.3 1h0m.3-1h0m0 .4h0m.2-.2h0m.2-1.3h0m0 .2h0m.1.7h0m.6 1h0m.1-1.9h0m.4.5h0m.1 1.2h0m.1-1.2h0m.1-.7h0m.8 1h0m.2-.7h0m0 1.3h0m.1.2h0m0 .3h0m.2-.4h0m.2.9h0m.3-.4h0m.1-2.1h0m0 1.4h0m.1-1.6h0m.1 1.8h0m0 .2h0m.1.5h0m.3-1.4h0m.3.5h0m.8.7h0m.9-.4h0m.3-1.3h0m.7-.7h0m0 .7h0m.5.1h0m.5 1.5h0m.4.6h0m.7-1.4h0m.2-1.5h0m.5 1.3h0m.7 1.1h0m-14.1 3.2h0m.5-1.5h0m.5-1.1h0m.3 2.7h0m0-2.7h0m0 .1h0m.2-.1h0m.4 2h0m.4-1.7h0m.2.8h0m0-1h0m.2.6h0m.1 2.2h0m.5-.4h0m0-.2h0m.1.5h0m0-2.6h0m.2.9h0m.4 0h0m.5-.6h0m.2.6h0m.3-.2h0m.1-.4h0m.1 2.3h0m0-1.3h0m.1.3h0m.1-.6h0m.9 0h0m.1.2h0m.8-1.1h0m.1 1.9h0m.2-1.4h0m0-.1h0m.4.8h0m0 0h0m.1-1.5h0m.1 1.3h0m.3.7h0m.2-.6h0m.3 1h0m0-1.1h0m.3-.2h0m.1 1.5h0m.2-1.8h0m.2 2.1h0m.9 0h0m.3-2.1h0m.9 1.2h0m0-1.1h0m.3 1h0m.2.6h0m.1-1h0m.1-1.2h0m.1.7h0m.7 1.1h0m0-.6h0m.4-.6h0m1 1h0m.2-.4h0m-20.8 1.6h0m5.8 1.6h0m1.1-.6h0m.1-.6h0m.3 1.3h0m0-1h0m.4.2h0m.1-.9h0m.1 1.5h0m.3.1h0m.7-1h0m.4 2.1h0m.1-1h0m0-1.3h0m0-.4h0m.1 1.9h0m.1.5h0m0-.1h0m.3-1.7h0m0 0h0m.1 1.1h0m0-.7h0m.1-.5h0m.7-.4h0m.3 1.4h0m.1-.8h0m.5 1.4h0m.7-.5h0m.2-.1h0m0-.2h0m.1.9h0m0-1.7h0m.3-.2h0m.4.6h0m.6-.3h0m0-.1h0m.3-.1h0m.3 1.8h0m0-.1h0m0-.2h0m.6.2h0m0-1.9h0m.2.7h0m.2 1.7h0m.6-1.7h0m0-.1h0m.1 1.5h0m1-.5h0m.1 0h0m.2.4h0m.3.6h0m-13.5.1h0m.5 2.2h0m.5.1h0m.2-1.2h0m1.8.7h0m.5.6h0m.1-1.2h0m.5-.7h0m1.2 1.3h0m.5-1.8h0m.4.4h0m.1.9h0m.1.1h0m.3 1.4h0m.1-.1h0m.8-.1h0m0-2.3h0m.7.7h0m.1 1.5h0m0-1.2h0m.6-.8h0m.1.1h0m.5 1.8h0m.1-2.4h0m1.2 1.4h0m0-.7h0m.3.8h0m1.3.7h0m.4-1.4h0m0-.4h0m.7 1.9h0m.3-1.5h0m1.3.4h0m-10.5 2.3h0m.2-.2h0m.1-.2h0m.9.8h0m.6.6h0m.6 1.1h0m.6-1.5h0m.6.3h0m.3 1.3h0m1.6-1.1h0m1 .2h0m.5-.4h0m2 .1h0m0-.6h0m-11.6 2.1h0m3.9 1h0m.2.6h0m1.9 1.1h0m.1-.3h0m2.4-.3h0m1.5-1.7h0m-4.6 3.5h0m2.9-.7h0" stroke="#9a2450" stroke-width="1" stroke-linecap="square" stroke-opacity="0.92"/>
<path d="M345.6 520h0m4.9 1.2h0m1.8 3.6h0m.2-.8h0m.1.5h0m.8-.4h0m0 .8h0m.3-.3h0m1.8.1h0m2.6-2.7h0m6.4 1.8h0m-16.8 3.3h0m4.8-1h0m.5.6h0m.7-.9h0m.1.9h0m.8-.2h0m.4.3h0m.1-.8h0m.9.9h0m.2-.3h0m.3-1.2h0m1.9 2.3h0m.1-2.5h0m2.6 1.8h0m1.8-1h0m-13.7 3.8h0m.2-1.4h0m1.4 0h0m.4 2.5h0m.8-.2h0m1-2.6h0m0 1.3h0m.6 1.5h0m.4-2.1h0m.6 1.4h0m.2.5h0m.5-1.2h0m.4-1.3h0m.1 1.5h0m.3-1h0m0 .2h0m0 .9h0m.1.1h0m.1-1.5h0m0 .5h0m0 .3h0m.1.1h0m0 1.1h0m.3.5h0m.1-1.8h0m0 1h0m.9-1.6h0m.6-.5h0m0 2.7h0m.4-.5h0m.1-2h0m.1 2h0m.1-1.9h0m1.1 1.9h0m3.3-1.8h0m-15.2 3.5h0m1.1.8h0m.2-1h0m.2-.4h0m.7-.3h0m.3 0h0m.4.6h0m.1 1.9h0m.4-.4h0m.2.6h0m1.1-2h0m.1 2.1h0m.2.1h0m.3-1.1h0m0-1.5h0m0-.3h0m.1.8h0m.4 2.1h0m.1-2.9h0m.2 1.8h0m.3-1.6h0m.5 2.2h0m.3-2.4h0m.2 1.6h0m0-.5h0m0-.6h0m.1 1.1h0m.1.9h0m0-2.4h0m.3 2.1h0m.1-1.5h0m.2-.3h0m.1.8h0m.1 1.1h0m.3-1.4h0m.3-.1h0m1.6.5h0m.2.7h0m0-.1h0m.1-.1h0m.3-.9h0m.9 1.7h0m.9-1.9h0m0 .2h0m.2 1.9h0m1.6-1.4h0m-14.9 3h0m2-.5h0m.4 1.1h0m.2-.2h0m1.4-.5h0m.4-.6h0m.6 0h0m0-.4h0m.4 1.7h0m.1.5h0m0-2.3h0m.3.2h0m.4 1.3h0m.3-1.1h0m.3-.5h0m.4 1.8h0m.4-.2h0m.1 1.1h0m0-2.1h0m.1-.5h0m.3 2.6h0m0-1.3h0m0-1.3h0m.4.8h0m.2.9h0m.2-.9h0m.1.2h0m.3 1.1h0m0-.1h0m0-.9h0m1.1-.5h0m.7 1.2h0m.4-1.1h0m.7-.7h0m2.2-.1h0m.5 2.7h0m-12.9 1.4h0m1.3-1h0m.2 0h0m.2.2h0m.1-.1h0m.3.8h0m.6-.4h0m.4 1h0m.3.8h0m1.9-2.1h0m.2 1.1h0m.4.7h0m.2-1.7h0m1 .7h0m.1.9h0m.2-.1h0m.2-1.2h0m1.5-.4h0m.1 2h0m1.5.5h0m.5-2.8h0m-9.1 4.3h0m3.4-.2h0m1.8-.1h0m3.9 1h0" stroke="#c23a52" stroke-width="1" stroke-linecap="square" stroke-opacity="0.92"/>
<path d="M355.4 525.8h0m2.1 2.1h0m-5.4 1.1h0m.8-.4h0m.3 1.8h0m2-.5h0m.7-.4h0m.1-1.1h0m.3-.2h0m.2 2h0m.1.5h0m.2.1h0m1.1 0h0m1.9-.8h0m.7.7h0m-6.4 2.6h0m.2-1.5h0m.4-.4h0m.5.1h0m.7 2.2h0m.6-1.3h0m.3 1.5h0m0-1.6h0m1-.3h0m.9 1.7h0m0-2.7h0m1.8 1.2h0m.9-1.2h0m.8 1h0m-9.8 2.2h0m.2.6h0m4-.5h0m1.2-.3h0m.5 2h0m0-1.5h0m.8.5h0m.4.5h0m3 1h0m-12 1.2h0m2.8.1h0m.1-.8h0m1.1 4.3h0m2.7-.7h0m1.6-.1h0" stroke="#e06058" stroke-width="1" stroke-linecap="square" stroke-opacity="0.92"/>
<path d="M354.7 527.4h0m-.9 2.4h0m4.3 1.1h0m-.6 1.2h0m-4.3 5.3h0m3.5 1.9h0" stroke="#f08a6a" stroke-width="1" stroke-linecap="square" stroke-opacity="0.92"/>
<path d="M355.7 518.8h0m-8.9 1.7h0m.9 1.1h0m10.5-2h0m-9.9 5.2h0m1.1-2.2h0m1.3 2.3h0m-4.9 2.1h0m1.7-1.1h0m.8.1h0m3.2 1.2h0m12.6.1h0m-17.3 3h0m.2-1.2h0m.3 1.1h0m-2.7.8h0m1.1.4h0m19.1 1h0m3-1.4h0m-23.3 3.7h0m1.8 1.6h0m-7.7 1h0m10 1h0m.4.6h0m.9 1h0m1.4-.3h0m.3.2h0m1.1 0h0m7.7.1h0m.3-.4h0m3.2-1.5h0m.3.2h0m-16.9 2.1h0m2.1 2.1h0m1.1-.5h0m.4-.3h0m1-1.6h0m1.7 1.8h0m3.6-.4h0m.5-.9h0m.3 1.4h0m.6-1.7h0m.1 2.6h0m-15.3 2.7h0m9.3-1.8h0m.8-.4h0m2 1.7h0m.7.6h0m4.3-2.2h0m-10.1 3.8h0m2.8.6h0m11.4-1.3h0" stroke="#f6b49a" stroke-width="1" stroke-linecap="square" stroke-opacity="0.92"/>
</g>
<line x1="336.6" y1="521.8" x2="337.8" y2="521.8" stroke="#444" stroke-width="0.4" />
<text x="335.6" y="523.6" font-size="5.2" fill="#333" stroke="#333" stroke-width="0.16" text-anchor="end">0</text>
<line x1="336.6" y1="536.25" x2="337.8" y2="536.25" stroke="#444" stroke-width="0.4" />
<text x="335.6" y="538.05" font-size="5.2" fill="#333" stroke="#333" stroke-width="0.16" text-anchor="end">−0.05</text>
<line x1="336.6" y1="550.7" x2="337.8" y2="550.7" stroke="#444" stroke-width="0.4" />
<text x="335.6" y="552.5" font-size="5.2" fill="#333" stroke="#333" stroke-width="0.16" text-anchor="end">−0.10</text>
<line x1="342.1" y1="560.2" x2="342.1" y2="561.4" stroke="#444" stroke-width="0.4" />
<text x="342.1" y="567.2" font-size="5.2" fill="#333" stroke="#333" stroke-width="0.16" text-anchor="middle">−0.2</text>
<line x1="357.9" y1="560.2" x2="357.9" y2="561.4" stroke="#444" stroke-width="0.4" />
<text x="357.9" y="567.2" font-size="5.2" fill="#333" stroke="#333" stroke-width="0.16" text-anchor="middle">0</text>
<line x1="373.7" y1="560.2" x2="373.7" y2="561.4" stroke="#444" stroke-width="0.4" />
<text x="373.7" y="567.2" font-size="5.2" fill="#333" stroke="#333" stroke-width="0.16" text-anchor="middle">0.2</text>
<text x="360.4" y="575" font-size="6.2" fill="#333" stroke="#333" stroke-width="0.16" text-anchor="middle"><tspan>T</tspan><tspan dy="1.55" font-size="3.84">CM</tspan><tspan dy="-1.55"> score</tspan></text>
<text x="315.4" y="537.1" font-size="6.2" fill="#333" stroke="#333" stroke-width="0.16" text-anchor="middle" transform="rotate(-90 315.4 537.1)"><tspan>T</tspan><tspan dy="1.55" font-size="3.84">SM</tspan><tspan dy="-1.55"> score</tspan></text>
<rect x="388" y="524.3" width="3" height="22.6" fill="url(#mag)" />
<text x="386.4" y="519.7" font-size="5.4" fill="#333" stroke="#333" stroke-width="0.16">Density</text>
<text x="392.6" y="526.9" font-size="4.8" fill="#333" stroke="#333" stroke-width="0.16">4</text>
<text x="392.6" y="532.15" font-size="4.8" fill="#333" stroke="#333" stroke-width="0.16">3</text>
<text x="392.6" y="537.4" font-size="4.8" fill="#333" stroke="#333" stroke-width="0.16">2</text>
<text x="392.6" y="542.65" font-size="4.8" fill="#333" stroke="#333" stroke-width="0.16">1</text>
<text x="392.6" y="547.9" font-size="4.8" fill="#333" stroke="#333" stroke-width="0.16">0</text>
<text x="461.4" y="512.5" font-size="6.8" stroke="#222" stroke-width="0.16" text-anchor="middle" font-style="italic">Rgs1</text>
<rect x="438.8" y="515.5" width="45.2" height="44.7" fill="#fff" stroke="#999" stroke-width="0.6" />
<g clip-path="url(#mc2)">
<ellipse cx="462.06" cy="547.52" rx="19" ry="6" fill="#120822" filter="url(#blur3)"/>
<path d="M447.3 539.5h0m8.7-1h0m.7.4h0m.1-.1h0m3.8.2h0m5.8.6h0m-21.9 3.3h0m7-.8h0m1.2.1h0m.6-1h0m.2 1.2h0m.3.5h0m.5-.9h0m.3-1.9h0m2.1 1.2h0m.3 1h0m.1-.7h0m.8-.2h0m.3.3h0m.6-.1h0m2.2.1h0m.3.6h0m.4.6h0m.2-.6h0m1.1-.2h0m.7-1.2h0m1.4 2h0m.9-.3h0m.3-1.5h0m.6 1.4h0m.4.1h0m.8-1h0m.5.2h0m.9-1h0m.2.3h0m.3 1.1h0m.5.6h0m2.3-.3h0m2.1-1.4h0m5.4 1.3h0m1.5-1.8h0m-36.6 3.2h0m1.9 1.8h0m.8-1.4h0m.3-.1h0m1.2 1.6h0m.7-.1h0m.5-.1h0m.3-.8h0m.5.4h0m.9-1.4h0m.3-.6h0m0 2.8h0m.3-1.8h0m.5-.9h0m.1-.1h0m.4 2.2h0m.2-.2h0m.1-1.6h0m.2 2h0m0-.1h0m.2-1.7h0m.3 1.4h0m.3-.1h0m.4-.2h0m.1-.1h0m.1-1.3h0m.3 2.2h0m.1-.1h0m0-.5h0m.1-.4h0m.5 1.1h0m.1-2.7h0m.2 2.4h0m.1 0h0m0-.8h0m0 1h0m.1-2h0m.2 1.4h0m.2-.6h0m.1.7h0m.1-1.3h0m.9.7h0m0 .2h0m.1.7h0m.5.1h0m0 .2h0m0-.7h0m0 0h0m.1 0h0m.1.8h0m0-2.3h0m.1.9h0m.1-1.1h0m.2 1.7h0m0-.6h0m.1 1.4h0m.2-2.3h0m0 1.8h0m0 .4h0m.2-.5h0m0-.4h0m.1.1h0m.2.5h0m.1-2.2h0m0 2h0m.2-1.1h0m.5.9h0m0-1.5h0m.2.7h0m0-.7h0m0 1.7h0m.2.1h0m.2.2h0m.2-.1h0m.1-1.1h0m.1 0h0m0 1h0m0-1.8h0m.2 0h0m.4 1.6h0m.2.4h0m.1-2.3h0m.2.4h0m.2 1.4h0m.2 0h0m0-.6h0m.1-1.2h0m.2.8h0m0 .8h0m.1 0h0m.1-.1h0m0-.7h0m.1-.5h0m0 .4h0m.1.9h0m0-1h0m.1 1.7h0m.5-.5h0m0 .4h0m0-1.6h0m.3.6h0m.4 1.1h0m0-1.6h0m.2.6h0m.1-.6h0m.1 1.2h0m.1-.8h0m0-.5h0m.2.6h0m0 .5h0m.1.2h0m.2.3h0m0-2.3h0m0 0h0m0 2h0m.3.4h0m.3-1.2h0m.3-.6h0m.4.7h0m1-.3h0m.1-1h0m.3 2h0m.1-.7h0m.2.8h0m.1.1h0m.4.1h0m.2-.5h0m.1.8h0m.4-1.3h0m.1-.6h0m.1 1.3h0m0 .6h0m.1-2.2h0m.2-.1h0m.1 2.2h0m.2-.2h0m.2-1h0m.5-.3h0m.5 0h0m1.2 1.1h0m.1.5h0m.2-1.7h0m.2.5h0m1.4-.3h0m1.9.3h0m.7.7h0m-36.2 3.3h0m3.3-1.8h0m.1 1.7h0m.5-1.8h0m.6.6h0m0 0h0m.1-.9h0m1.6.5h0m.5 2.1h0m.2-1.8h0m.3-.8h0m0 1.7h0m.1-1.5h0m.2 2.2h0m0-2.1h0m.3-.5h0m.1 1.6h0m.2-.7h0m0 .7h0m.1-.8h0m.6-.8h0m.3.4h0m.4 1.2h0m.1-1.5h0m.1 2.2h0m0-2h0m.1.3h0m.5-.3h0m.3 1.6h0m.1.5h0m.1-.8h0m.3-1.2h0m.1 1.7h0m0-2.2h0m0 .7h0m.3.9h0m.1-1.2h0m.2 1.8h0m.1-2.1h0m.1.4h0m.2 1.2h0m.1.7h0m.1-.4h0m.1.7h0m0-1.8h0m.2-.4h0m0 2.3h0m.1-2h0m.1 2h0m.1-1.2h0m.1 1h0m.4-.7h0m.1-1.7h0m.1.8h0m.1.5h0m.4.5h0m0 .2h0m.1-.6h0m.4-1.2h0m0 1.9h0m0-1.6h0m0 0h0m.2 1.6h0m.1-1h0m0-1h0m.1 2.6h0m0-1h0m.2-1.3h0m0-.3h0m0 2.4h0m.2-.4h0m0-1.4h0m.1.4h0m0-.3h0m.3-.5h0m0 .4h0m0 1.9h0m.1-.7h0m.1-.8h0m.1 1.5h0m0-1.8h0m0 1.6h0m.1-1h0m.1.4h0m.1-.3h0m0 .6h0m.1-1.2h0m.1 1h0m.1-1.4h0m.1 1.9h0m0-1.6h0m.1 1.1h0m.2-1.7h0m.1 2.5h0m0-1h0m0 .2h0m.1-1.4h0m0 .4h0m.1.4h0m0 .6h0m.1.1h0m0 .5h0m.1-1.2h0m0 .6h0m.3-.8h0m.2.6h0m.1.8h0m0-.2h0m0 .2h0m0 .1h0m.1-.7h0m0-.2h0m0-.9h0m0 1.6h0m.1-.6h0m0 .3h0m.1-1h0m0-.5h0m0 0h0m.2.3h0m.1-1.1h0m.5 2.6h0m0-.7h0m0-1.3h0m0 0h0m.1.8h0m0-1h0m.2 1.4h0m.4.7h0m.1-1.4h0m.1 1.4h0m.1-1.9h0m0 .6h0m0 1.6h0m.1-1.3h0m.3.8h0m0-.6h0m.1-1h0m.4.2h0m.1 1.2h0m0-1h0m.1-1h0m.1 2.3h0m0-.1h0m.2-.9h0m.1.1h0m.1 0h0m0 1.2h0m0-.2h0m0-1.1h0m.1-1.3h0m.1 2.6h0m.4 0h0m.1-.5h0m.2-1.5h0m0 .5h0m.1.3h0m.1-1.4h0m.1 1.4h0m0 .1h0m0-1h0m.1 1.7h0m0 .6h0m.3-1.9h0m.3.7h0m0-1.4h0m.1 1.6h0m.1.5h0m.2-1.1h0m0 0h0m.3-.3h0m.1 1.4h0m.1-1.5h0m0-.8h0m.1 2.1h0m0 .3h0m.2-.9h0m.2-.8h0m0 2.1h0m.2-.1h0m0-2.7h0m.1 2.7h0m.3-2.3h0m0 1.7h0m0 .4h0m.3-.6h0m0-2h0m.3 1.1h0m0 .9h0m.1-.2h0m.1-.9h0m0 1.7h0m.1-.7h0m0-1h0m.1.5h0m0-.6h0m.1 1.8h0m.1-.5h0m0-1.2h0m.1-.3h0m0-.5h0m0 2h0m.1-1.3h0m.5.6h0m.2-.8h0m.2 1.6h0m0-.2h0m.1.6h0m.9-.3h0m.1-1h0m0 .4h0m0 .1h0m.2-.7h0m.2.4h0m0-1.1h0m.7 1.5h0m.1-1.7h0m1.3 1.3h0m.3-.1h0m.1.3h0m.2-1.3h0m.2 1.9h0m0-1.8h0m.3.7h0m.9-.2h0m.1 1.5h0m.1-.7h0m1.3-1h0m.2 2.1h0m-32.7 2h0m.6-1.5h0m1.6.3h0m.1 0h0m1.3-.4h0m.3 2.2h0m1.1.2h0m.6-2h0m.6-.7h0m.3 1.7h0m.1.7h0m0-1.9h0m.5.8h0m.2.6h0m.1-1.3h0m.3 2.1h0m.7-.6h0m0-2h0m.3.6h0m0 .7h0m.1-1.3h0m.1 2.5h0m.1-.5h0m.1-1.6h0m.5 1.5h0m.1.7h0m.1-.7h0m.2.6h0m.2-1.5h0m0-.6h0m.2.3h0m0 .3h0m.1-1.1h0m0 .8h0m0 .3h0m.1.2h0m0-.1h0m.3 1.1h0m.1-2h0m0 0h0m.4 1.2h0m.1-.4h0m.2.1h0m0-.8h0m.1.5h0m0 2h0m.2-.9h0m0-.4h0m.2-1.2h0m.7 2.1h0m.3-.2h0m.1-1.2h0m.1.1h0m.1 1.5h0m0-2.4h0m.1-.3h0m0 1.2h0m.1.4h0m.2-.3h0m0-1.2h0m.2.8h0m0-.9h0m.1 2.6h0m.2-1.7h0m.5 1h0m.1-1.9h0m.1 1.7h0m.1.4h0m0-2h0m.1.6h0m0 .1h0m.1 1.6h0m.1-2h0m.2 1.9h0m.2-1.2h0m0-.2h0m.1-.9h0m0 1.3h0m.1 1.4h0m0-.2h0m.3-2.4h0m0 2.7h0m.1-1.8h0m0-.4h0m.1-.1h0m0-.1h0m0 1.4h0m.1 1.1h0m0-2.3h0m.1 0h0m.1 1h0m.4.7h0m.4-1.3h0m.1 1h0m.1-1.6h0m.1 0h0m.1 1.7h0m.2-.4h0m0-1.3h0m.1.3h0m.1 2.1h0m.2-2h0m.1.3h0m.1-.1h0m.2-.8h0m0-.1h0m.1 1.1h0m0 .1h0m.1-.2h0m.3.4h0m0-.9h0m0 2.1h0m.3-.7h0m.1-2h0m0 1h0m.1.9h0m0-.3h0m.2-.1h0m.1.9h0m.1.2h0m.1-1h0m0-1.2h0m.1 1.9h0m0-.3h0m.3-.4h0m.1-1.4h0m.3 1.8h0m0-1.4h0m.1 1.5h0m.3-.3h0m.1-.3h0m.1-1h0m0 1.7h0m.1-2.2h0m.1.6h0m.3-.3h0m0 1.7h0m.3-1.6h0m.3-.2h0m.3 2.4h0m.2-.9h0m.1-.1h0m.1-1.5h0m.4 2.2h0m.2-.2h0m0-1.8h0m.3-.1h0m0 .1h0m0-.3h0m.2 2h0m.2.1h0m.3.4h0m0-1.2h0m.1-1h0m.1 1h0m.2 1.1h0m.4-.9h0m0-1.4h0m.1.6h0m.1 1.7h0m.2-2.2h0m0-.2h0m0 1.5h0m.3.1h0m.4.1h0m.4.6h0m.2-.6h0m.1-1.1h0m0 .9h0m.1-1.3h0m.2 1.5h0m0-.5h0m0 .9h0m.2-.5h0m.4.9h0m.2-2.4h0m.3 2.5h0m.2-1.9h0m.2-.5h0m.2.7h0m2.1-.7h0m.3-.1h0m-32 4.6h0m3.6 0h0m.9-.3h0m.2-1.3h0m1.9 1.3h0m.9-.6h0m.2-.6h0m.1 2.6h0m.5-2.1h0m.6-.3h0m.1.3h0m0-.7h0m.1 2.2h0m.2-1.5h0m.2.1h0m.7-.3h0m.1 1.3h0m.3.7h0m.3-2.1h0m.1 1.3h0m.1 1.1h0m.1-2.3h0m.1.2h0m.5 2.1h0m.5-1.6h0m.2-1h0m.4 1.1h0m.3-.9h0m.5.1h0m.5 2.3h0m.2-1.8h0m.4-1h0m0 2.8h0m.5-2.3h0m.1-.5h0m.4 1h0m.2.7h0m0 .6h0m.3-2.1h0m0 .5h0m.1-.3h0m.1 1.8h0m1.4-2h0m.3 1.3h0m0-.2h0m.2-.2h0m.2-1.1h0m0 2.8h0m0-2.2h0m.1-.4h0m.2 2.3h0m.1-2.2h0m.4.1h0m0 1.3h0m.1-1.4h0m.1.1h0m.1.8h0m.3-.9h0m.2 1.7h0m.1-.6h0m.8-1.1h0m.2-.2h0m.1.7h0m1.2.9h0m0-1.6h0m1.7 1h0m.4-.5h0m.4-.4h0m.8.9h0m0 .7h0m.6-.9h0m3.4.5h0m6.6 0h0m-22.5 2.3h0m1.1.7h0m13.2-1.4h0m-10.7 4.9h0" stroke="#0a0414" stroke-width="1" stroke-linecap="square" stroke-opacity="0.95"/>
<path d="M450.5 539.6h0m14.9-.6h0m.8.5h0m.7-1h0m-22.5 1.6h0m5.8.5h0m.4 1.9h0m.4.2h0m.7-1.3h0m2.4.4h0m1-1h0m1.4 1.9h0m.2-1.4h0m1.9.8h0m1.1-1.4h0m.7 1.7h0m.9-.6h0m.2-.1h0m1 .2h0m.8 1h0m.2-.4h0m.5.3h0m.1-.9h0m.2-.1h0m.7-.5h0m.3.4h0m1.7 1.1h0m.7-1.2h0m.8-.3h0m.1-.4h0m.3 1.5h0m1-.5h0m.3-.3h0m.9 1.1h0m.1-.1h0m-28.3 2.1h0m4.2.2h0m3.3.4h0m.5-1.4h0m.5 1.8h0m0-.7h0m.1.2h0m0-1h0m.3-.6h0m.1 1.2h0m.2-1.4h0m.7 2.1h0m.1-2.5h0m.1.2h0m.1.1h0m.1 2.6h0m.3-.6h0m.1-.9h0m.5-.6h0m.2.5h0m1.4 1h0m.1.3h0m.3-1h0m.5 1.1h0m0 .2h0m0-1h0m.5-.9h0m.7 1.6h0m.1-.8h0m.5 1h0m.6-2.8h0m.1 2.2h0m0-1.2h0m.2.4h0m0 .8h0m.2-1.4h0m.6-.4h0m.5 2.4h0m.1-2.1h0m.4 0h0m.5.4h0m.3 1.4h0m.2-.6h0m.2-1.1h0m.4 1h0m0-.7h0m.2-.2h0m.5.3h0m.1 1.7h0m.7-1.3h0m.3.5h0m.1-.9h0m.1.8h0m.2-.2h0m.5-.2h0m.4.6h0m.4-1.7h0m.1 1.1h0m.3-.6h0m.1 1.2h0m.3-1.9h0m.4 2h0m.1-.1h0m.7.1h0m.1-.4h0m.1.5h0m.1-1.9h0m0 .9h0m.8-1.1h0m1.1 2.4h0m.5-.8h0m1 0h0m0-.8h0m.5.3h0m1.1.2h0m1.1-.9h0m2.5.8h0m-29.8 2.3h0m1.5-.8h0m.1 1.9h0m.1.2h0m.9-.3h0m1.1-1.2h0m.1 0h0m.3.8h0m.1-.4h0m.5 1.9h0m.6-2.2h0m.3 1.6h0m.7-.2h0m.3-1.5h0m.3-.6h0m0 2.8h0m0-1h0m.3 1.1h0m.9-1.9h0m0 1.3h0m.1-1.3h0m.1-.3h0m.2-.2h0m.2 1h0m0-.5h0m0 1.1h0m.3-2.1h0m.1.1h0m.1 0h0m.7 1.1h0m.3-.4h0m.2.1h0m.2 1.9h0m.1-1.6h0m0-.8h0m.6-.3h0m.1 2.5h0m.2-1.5h0m.2-.5h0m.3 1.1h0m0-1.2h0m.1 1.9h0m0-.3h0m.1 0h0m.1.2h0m.1.3h0m0-2.6h0m.3 1.3h0m.1-.4h0m.4.7h0m.5.5h0m0 .6h0m0-1.6h0m.1.5h0m0-.8h0m.2.6h0m.1 1.1h0m.1-2.4h0m.2 1.7h0m.1 0h0m.2-1h0m0 .8h0m.2 1.3h0m0-.1h0m.2-.5h0m.1-.9h0m.2-.8h0m.1 2.3h0m.1-2.2h0m.2 1.8h0m0-.4h0m.1-.3h0m.3.7h0m.1-1.3h0m.2 1.3h0m0-.1h0m.5-.2h0m.2-2h0m.3 2h0m.1-1.6h0m.2 2.1h0m.2 0h0m0 0h0m.3-1.4h0m.1 1.4h0m.1-1.5h0m.1 1.4h0m.5-.4h0m.1 0h0m.1 0h0m0 .2h0m.1-1h0m0-.1h0m.1.2h0m.3 1.1h0m.2-.6h0m.2-1.6h0m.2 2.2h0m.1-2.1h0m.2 2.2h0m0-1.2h0m.1-.2h0m.2-.7h0m0 1.7h0m0-2.3h0m.2 1.5h0m0-.5h0m.1-.3h0m.1-.1h0m.2 1.6h0m.6.3h0m.2-.6h0m.3.2h0m.1-1h0m.1.1h0m0 1.1h0m.7-.6h0m.2-.2h0m.2-.1h0m.7-.1h0m.4-.9h0m.1 2.5h0m.4-1.2h0m3.2-.3h0m1.6 1.4h0m3.2-.8h0m-37.2 1.9h0m4.7 1h0m.7.4h0m1.1-1h0m1.4-.3h0m.2 0h0m.2 0h0m.5.2h0m.1-.9h0m.4-.2h0m1.1.4h0m0 1.1h0m.4-.4h0m.2.7h0m.5.1h0m.3-.7h0m.1.1h0m.3-.9h0m0 .8h0m0-1.3h0m.1 2.4h0m.1-1.4h0m.3.4h0m0-.9h0m.4.5h0m.1 0h0m.6.9h0m.1-1.6h0m.1-.3h0m.3 1.4h0m.1-1.3h0m.3.7h0m1-.2h0m.1 1.6h0m.2.6h0m.2-2.1h0m0 .4h0m0 1.1h0m.1-.9h0m0 .3h0m.1 1.2h0m.2-1.1h0m.1-.1h0m0-1.4h0m.3.8h0m.2-.1h0m.1.4h0m0 .3h0m0-.8h0m0 1.4h0m1-2.1h0m.1.7h0m.1.8h0m.3-1.2h0m.1 1.6h0m.6-1.4h0m0 1h0m.3-.2h0m0 1.1h0m.1-.9h0m0 .2h0m.1-.9h0m.2.4h0m0 .4h0m.2-.8h0m.2-.1h0m.5-.5h0m.3.6h0m0-.3h0m0 1h0m.2 1.3h0m0-1.1h0m.2-1.2h0m.1-.6h0m.1 1.8h0m.2.4h0m.2-.7h0m.3 1.4h0m.8-2.4h0m.1 1.1h0m.4-.1h0m.8-.2h0m.1-1.2h0m.4 0h0m.1.7h0m.1.3h0m.1-.3h0m.7 1h0m.3-.1h0m.1-1.1h0m.3.4h0m.5-.9h0m.4.6h0m.3 1.1h0m0-1.8h0m1 .3h0m.2 1.2h0m3.6 1.4h0m12.4-2h0m-42.2 3.1h0m4.3-.5h0m.9-.1h0m1 .2h0m.4 0h0m0-.5h0m.6 1.1h0m5.2-.7h0m.6.7h0m.1-1.2h0m.5.4h0m.2.5h0m1.3-.1h0m.4 0h0m0 1h0m.4-1.1h0m.5-.4h0m.7 0h0m.3-.1h0m1 .7h0m0 .9h0m0-1.2h0m.6.3h0m1.2 0h0m.3.6h0m.2-.4h0m.1 0h0m0-.4h0m0 .9h0m1.1.2h0m.3.1h0m1.1-.7h0m1.3-.9h0m1.4.8h0m1.3-1.1h0m.1.1h0m.4.1h0m2.4 1.8h0m2.9-1.7h0m-22.1 3.2h0m.9.1h0m.5-.4h0m4.3-.1h0m12.2.8h0m-16.5 3.2h0" stroke="#2a0c40" stroke-width="1" stroke-linecap="square" stroke-opacity="0.92"/>
<path d="M457.3 540.2h0m.1 1.8h0m5.4.7h0m.3-1.2h0m.8-.2h0m1.2.9h0m.6-.5h0m1.8.4h0m-17.7 1.8h0m1 1.2h0m1.7.5h0m.4-1.5h0m.9 1.6h0m.9.1h0m.3-.5h0m.9-.1h0m1.2-.3h0m.2-1.7h0m.2 2.1h0m.2-.1h0m.1-.3h0m.1-.6h0m.4-1.3h0m.2.8h0m.2 1.4h0m1-.6h0m0 .5h0m0 .6h0m.1.1h0m.4-1.2h0m.6-.1h0m.2-.9h0m0 .8h0m.3.3h0m.1.7h0m.3-1.1h0m.7 1.4h0m.4-1.3h0m.5.5h0m.2.3h0m.1.2h0m.2.1h0m.2-.1h0m.4-2.1h0m.7-.3h0m.1 1.6h0m.2-.3h0m.9 1.4h0m.2-.4h0m.1-.5h0m.4.1h0m2.3-.2h0m.1-1.1h0m4.7 2h0m2.1-1.7h0m-33 3.2h0m6.2-.4h0m.7 1.7h0m.6.3h0m1.1-.5h0m.6-1.4h0m2.7-.1h0m.6-.6h0m1.5-.1h0m1.9 2.9h0m0-2h0m1 .2h0m.1.5h0m.1-.4h0m.5.5h0m.3-.8h0m.1 1.5h0m1.4.1h0m.2-.1h0m.1-1.2h0m.1.4h0m.1-1.6h0m0 .6h0m.5-.4h0m.2 2.2h0m0-1.8h0m.1 2.3h0m.6-1.5h0m.1 1.5h0m1-1.3h0m.1.1h0m.1-1h0m.5-.6h0m.2.9h0m1.3.9h0m.8 1h0m.5-2.7h0m.6 1.9h0m.8-.6h0m.3-.6h0m.8-.7h0m.9.6h0m1.8.7h0m1.2-1.2h0m1.7.7h0m-27.3 2.5h0m5.9.4h0m.1-.2h0m.5 0h0m.1-.5h0m.5-.2h0m.4 0h0m.1 1.1h0m.9 1.1h0m.3-1h0m.1-.9h0m.1 1.7h0m0-.3h0m.7 0h0m.1-1.6h0m.1 1.2h0m.5.8h0m.8-1.9h0m.7 0h0m.8.2h0m0 2.4h0m.4.1h0m1.5-1.2h0m.7.8h0m.3-.9h0m.5 1.1h0m.9-2.4h0m1.6 2.2h0m1.1-2.5h0m.2 1.3h0m.6-1h0m2.5 1h0m1 .7h0m.7-1.4h0m-21.5 4.9h0m1.2-.8h0m1-.9h0m5.1 1.8h0m1.4-2.2h0m1.3-.3h0m4.7.7h0m.5-.7h0m3.6 1.3h0" stroke="#541454" stroke-width="1" stroke-linecap="square" stroke-opacity="0.9"/>
<path d="M443.1 536.3h0m10.9-.7h0m-8.7 2h0m.1-.1h0m.7 1.8h0m.2.3h0m.2-.5h0m.2-.5h0m3.5 0h0m.3-1h0m.4 1.7h0m.3-1h0m.6 1.2h0m2-1.6h0m-11.3 3.4h0m1.6.6h0m.2-.6h0m.2 1.2h0m.1-2.2h0m.9 2.4h0m.2-1h0m.8-.2h0m.5-.2h0m1.1.9h0m.2.3h0m1.3-.4h0m.3-.3h0m.1 0h0m.2 1.1h0m1-.2h0m.2-.1h0m0-1.2h0m1.2 1.2h0m.6-1.2h0m.8.7h0m1.5-.3h0m.3-.2h0m-12.7 1.9h0m.5 1.4h0m.9.1h0m.1-.7h0m.4 1.6h0m.1-2.7h0m.5-.2h0m.9 0h0m.2 1.2h0m.5-.7h0m.1 2.1h0m.3-1.2h0m.6-1.1h0m.2-.3h0m.5 1.6h0m.5-1h0m.6-.4h0m.3.9h0m.2 1h0m.3-1.4h0m.5.9h0m.4.2h0m.1-.2h0m1-1.2h0m.4 1.8h0m.1.6h0m.9-1.2h0m.5-.2h0m.4-.4h0m.1-.7h0m1.6 2.2h0m-17.9 2.2h0m3.3.6h0m.3-2.2h0m.3 1.6h0m.8.1h0m1.4-1.3h0m.6 2.1h0m.1-2.2h0m.3.1h0m1.3-.4h0m0 1.4h0m.1-.7h0m.6 1.2h0m.4-1.7h0m1 2.6h0m1.1-2h0m.1 1.5h0m.2-2.3h0m.4 1.4h0m.3-.5h0m.3 1.1h0m.3.1h0m0-.7h0m.2-.7h0m5.1-.5h0m2.1 1.5h0m-13.4 3.5h0m.5-.1h0m1.5-1.2h0m1.6 0h0m.6.3h0m.6-.7h0m.4-.2h0m1.1.1h0m1.4 0h0m-6.5 3.1h0m2.5-.3h0m4.3-.3h0m2.2 0h0m-5.3 3.4h0" stroke="#2a0c40" stroke-width="1" stroke-linecap="square" stroke-opacity="0.9"/>
<path d="M446.5 539.1h0m1.2-2.1h0m.5 2.1h0m1.2-1.6h0m1.3 0h0m1.1 1.8h0m.3-.5h0m1.1 1.1h0m-10.8 2.4h0m2.4 0h0m.3-2h0m.8 1.5h0m.8-.2h0m.2-.3h0m.3-.3h0m.8.1h0m.2-.3h0m.1.2h0m.1-.5h0m.5 1.2h0m.2-.3h0m.1 1.5h0m.1-1.4h0m1.2-.1h0m0 1.2h0m.2-1.4h0m.2-.9h0m.4.8h0m.7.1h0m0 1.3h0m.1.1h0m.1.1h0m.5-.1h0m.8-2.5h0m2.5 2.4h0m-11.4 2.7h0m.1-.3h0m.4-1.1h0m.1-.7h0m.1.3h0m1.3 2.2h0m.1.3h0m.8-1.5h0m.1-.7h0m.6 1.3h0m.5-.8h0m.5.1h0m.2 1.5h0m.1-2.6h0m.6 2.3h0m.1.4h0m.2-1.2h0m1-.4h0m.2 1.5h0m.3-.6h0m.4.2h0m.1-1.3h0m.2 1h0m.2-1.7h0m1-.4h0m.1 2.3h0m.6-2.3h0m.1 2.6h0m.8-1.2h0m2.5.1h0m-13.5 2.6h0m.7-.1h0m.5 1h0m.9 0h0m.4-2h0m.8.8h0m.9-.2h0m.2-.5h0m.3 0h0m.7 2h0m.1.6h0m.1-2.7h0m.1 2.8h0m.2-1.2h0m.7-.8h0m0 1.5h0m1 .5h0m.1-1.4h0m0 1.5h0m.5-.9h0m.4-1.2h0m.4 1.3h0m1.3.5h0m.2-2.1h0m.7-.3h0m-13.4 4.4h0m2.3-.8h0m0 .2h0m2.7.5h0m0 1.1h0m.2-.2h0m.8-1.2h0m.2.7h0m1.7-1.6h0m.6.8h0m.1-.6h0m1.2.9h0m1.1.2h0m.1.5h0m.2-1h0m2.5-.6h0m.4.1h0m-9.4 3.5h0m.3.9h0m2.7-.7h0m.1-.2h0m3.2.2h0" stroke="#5a1450" stroke-width="1" stroke-linecap="square" stroke-opacity="0.9"/>
<ellipse cx="456.14" cy="532.78" rx="9" ry="8.5" fill="#902858" opacity="0.75" filter="url(#blur3)"/>
<path d="M446.8 517.6h0m1.1-1.4h0m4.7.4h0m16.7 2.3h0m-22.9.3h0m3.2.4h0m2.4 2.2h0m2.9-1.3h0m.1.4h0m1.2-.2h0m.5-1.6h0m.7.7h0m.2-.7h0m2.6 1.3h0m.5.4h0m.4-.4h0m-17 4.2h0m4.1-.4h0m.9-1.3h0m.6 1.7h0m.5-.8h0m.5.9h0m.3-1.8h0m.4 1.5h0m.4.4h0m.6-1.1h0m1.4-1.3h0m0 1h0m1.9.2h0m1.3.8h0m1.1.4h0m1-2.5h0m.3 2h0m.4-1.5h0m1.5-.4h0m-19.3 4.7h0m5.4-1.5h0m0 1.4h0m1.4.9h0m1.1-.2h0m.4-1.7h0m.2.8h0m.4.1h0m.3.2h0m.1.8h0m.6-.4h0m.2-1.9h0m.5.4h0m1.6 1.2h0m1.1.2h0m.3-.7h0m2.8-.9h0m.9.5h0m2.4 1.3h0m.5-.5h0m.1-.2h0m.7-1.5h0m.5 0h0m.7 1.2h0m-21.7 2.2h0m2.5 0h0m1.2-.3h0m.5 1h0m1.2.1h0m.7 1.1h0m.5-.1h0m.1.3h0m.6-1.4h0m.1-.5h0m.1 1.2h0m.2.3h0m1.1-1.3h0m.9-1.1h0m.4 2.5h0m.2-2.2h0m.4.4h0m.5 2.1h0m.5-2.7h0m.1 1.9h0m1.1-1.7h0m1.4 1.2h0m.4.6h0m.1-1.4h0m.1-.5h0m.1 1.2h0m1.6 1h0m.1.4h0m.2-.1h0m1.3-.7h0m.2-1.8h0m.1-.2h0m.3.6h0m.8 1.6h0m3.2-.2h0m.7-1.5h0m1.8.3h0m-26.5 4.1h0m2.1.4h0m.8-2.3h0m1.6.3h0m.9 1.8h0m.3-1.5h0m.8-.4h0m.4 2.1h0m.1-1.2h0m1.5 1.5h0m0-.5h0m.2-.4h0m.6.9h0m.1-.8h0m.4-.1h0m.1-.9h0m0-.3h0m.1 2.3h0m.3-1.4h0m.2.6h0m.1-1.5h0m.2 1.8h0m.2-1.3h0m.2 1h0m.1-1.9h0m.2 2.1h0m.7 0h0m.1-.7h0m.7-.7h0m.9.8h0m.1.7h0m0-2.1h0m.1-.1h0m.1 1.2h0m.7 1.1h0m.5-1.8h0m1.6 1.2h0m.1.1h0m.2-.1h0m1-.1h0m.4.5h0m1.7.2h0m0-1.1h0m1.1 0h0m.1 1.1h0m0-.1h0m0-1h0m.1 1.3h0m0-1.5h0m.4.6h0m3.4-1.2h0m1.3 1.6h0m-23.6 1.2h0m1 1.2h0m.4-1.6h0m.3.6h0m1 1.6h0m.3-2h0m.9 1.8h0m.1-1.3h0m.2 1.8h0m.3-1.1h0m.2-.6h0m1.4 1.5h0m.6.6h0m.1-2.3h0m.3.2h0m.4-.3h0m.2 2.4h0m0-2.8h0m.4.2h0m.1 2.1h0m.7-.9h0m0-1.5h0m.3 2.1h0m.2.4h0m0-.4h0m.4-.7h0m0-1.3h0m.2-.1h0m.1 2.8h0m.1-2.8h0m.2 2.4h0m.2-.4h0m0-.3h0m.1-.3h0m0-.4h0m.1 1.5h0m.6.2h0m0-.1h0m.6-1.4h0m.7.1h0m.3-.6h0m.9 0h0m.2 1.3h0m.3-1h0m.3 1.7h0m0-.8h0m.3-1.8h0m.4 1.2h0m.4-.6h0m0-.4h0m.4.6h0m.2-.3h0m1.2.2h0m.1 1.7h0m1.5-1.6h0m.9 0h0m3.1.1h0m-24.7 2.9h0m1.9-.4h0m.6 2.4h0m.3-2.8h0m.3.9h0m2.1.9h0m.2.1h0m.3-1.3h0m1-.2h0m.2 1.1h0m.7.7h0m.3-2.1h0m.7 1.7h0m0-.6h0m.1-.6h0m.3 1.2h0m.2-.6h0m.9.2h0m.5.5h0m.6-.4h0m.2.4h0m0-1.9h0m.7 1.9h0m.2-1.6h0m.3-.4h0m.1 2.6h0m.1-1.9h0m.1.4h0m.6-.6h0m.1 1.3h0m.6-.3h0m.2.8h0m.3-1h0m.9.8h0m.2-.9h0m.1 1.3h0m.4.4h0m1.3-2.3h0m1.8 1.3h0m.3-1.7h0m1.4 2.1h0m1.5.2h0m.8-.2h0m1.1-1.4h0m1.7.1h0m-28.3 3.3h0m7.8 1.5h0m.6-.8h0m.4-1.5h0m.5-.4h0m.6 1.9h0m.4.6h0m1.7-1.8h0m.4-.2h0m0-.2h0m.3 2h0m.4-1.6h0m.3 1.8h0m.2-.1h0m.8-.5h0m.2.1h0m0-1h0m.1-1.1h0m.2 2.8h0m.3-2.3h0m.4 0h0m.1 2.3h0m.1-1.4h0m.1-.6h0m.3 1.9h0m.8-1.5h0m.3.9h0m.6-1.8h0m1 .7h0m1.4 1.4h0m.5-.2h0m.3-.8h0m1.2-.6h0m3.8-.6h0m.6 1.4h0m4.1-1.6h0m-24.1 4.5h0m5.1-.3h0m.3-.7h0m.9 1.9h0m.1-1.2h0m.3.2h0m1.5-1.4h0m0 0h0m1 2.2h0m.8.5h0m1.2-2.7h0m1 .1h0m1.2 0h0m.1.6h0m1.7 1h0m2.7-.3h0m-19.3 1.6h0m1.4 1.8h0m.4-.5h0m1.2-.9h0m.2.4h0m1.8.9h0m5.2.1h0m1-1h0m1.4.5h0m4 0h0m5.7 1.3h0m-18.2 2h0m5.8-.4h0m.5 1h0m2.4-2h0" stroke="#3a0c40" stroke-width="1" stroke-linecap="square" stroke-opacity="0.92"/>
<path d="M450.1 518h0m14.6-2h0m-14.9 4.3h0m1.8-.8h0m6.1 1.4h0m1.5.1h0m.6-1.8h0m1.6 1h0m-17.2 3.5h0m6.8-1.3h0m.1.9h0m1.5.3h0m.1-.2h0m1.4 1.2h0m.8-.4h0m1-.7h0m1.5-1.3h0m.2 2.5h0m1.1-.6h0m.9.1h0m.4-1.8h0m.8 2h0m.5 0h0m1.3-2.2h0m-17.2 3.6h0m2.4.8h0m2.8.3h0m1.2-1.6h0m1 .6h0m.1 1h0m.3-1.7h0m.4 1.7h0m.3.8h0m.1-.6h0m.2.1h0m.7-.9h0m.3-.4h0m.2 1.9h0m1-2.7h0m1 2.7h0m1.2-.6h0m1.2-1.6h0m.4-.4h0m0 1.5h0m1.5-1.4h0m1.8 2.4h0m1.7-.2h0m-23.6 1.5h0m4.3.9h0m1.2-.2h0m1.9 1.2h0m.6-2.7h0m.2 1.2h0m.6 1.3h0m.3 0h0m.2 0h0m.6-1.2h0m0 .2h0m.1-.9h0m0 1.5h0m0-.4h0m.3.4h0m.2.6h0m.4-.3h0m.2-2.4h0m.5 2.5h0m.1-.4h0m.2.4h0m.2-2h0m.1-.2h0m0 2.3h0m.1-2.2h0m0 .9h0m.2 1.2h0m.1-1.3h0m1.2-1.2h0m.3.5h0m.5-.1h0m0 1.2h0m.1.6h0m.2-.5h0m.1-.9h0m0 .1h0m.4 1.7h0m.5-.2h0m1.1-.8h0m0 .4h0m0 .1h0m.5-.4h0m.7-1.9h0m.1.6h0m.3 2.3h0m.2-.7h0m3.8-.7h0m.8 1.4h0m.7-1.2h0m-22.1 1.7h0m1.9 2.5h0m1.7-1.4h0m1.2 0h0m.5-1h0m.3 2h0m.5-1.3h0m.1.4h0m0-1.6h0m.5.3h0m.2.3h0m.3 1.7h0m.1-1.7h0m.1 1.8h0m.2-.8h0m0-.8h0m.5.9h0m.2-1h0m.2-.4h0m.2.5h0m.2.4h0m.1.6h0m.7 1.1h0m0 0h0m.2-2.3h0m0-.1h0m.4 1.1h0m.2-.2h0m.1.5h0m.2-1.7h0m.2 2.7h0m1.3-.3h0m.2-.3h0m.1-2.1h0m.7 2.6h0m.3-2.6h0m.1-.1h0m.2 1h0m0-.6h0m.1 1.3h0m.2.5h0m.4-1.9h0m.2-.4h0m.1 2.9h0m.8-.1h0m.1-2.1h0m.2-.2h0m.9 2h0m1.6.2h0m.8-2.3h0m.1 1.7h0m.1-1.3h0m.2-.2h0m.4 1.1h0m.4-.8h0m1.6-.9h0m-20.9 3h0m3 .5h0m.5 1.9h0m.2-2.2h0m.4-.2h0m.7 2.2h0m.6-.1h0m.6-.8h0m.1-.7h0m.2 2.3h0m.2-.4h0m.2-2.5h0m.3 2.5h0m.9-1h0m.1-1.2h0m.7 1.3h0m0-1h0m0-.1h0m.2.6h0m.2 1.7h0m0-1h0m.1.8h0m.4-1h0m.2-.7h0m.4 1.4h0m.2-1.3h0m0-.5h0m.1-.1h0m.2 2.3h0m0-.6h0m.3.5h0m.2.2h0m.1-1.1h0m.1-1.1h0m.4.9h0m.4-.4h0m.1-.4h0m0-.6h0m.2 2.1h0m.5.4h0m0-.9h0m0-.4h0m1.1 0h0m0-.9h0m.1.5h0m.3.1h0m.3.6h0m.2-1.3h0m.3 1h0m0-.2h0m.4 1.8h0m0-1.9h0m.6-.1h0m.4 1h0m.1.8h0m2.1-2.1h0m.4.8h0m1.6-1.4h0m.8 0h0m1.4 2.3h0m-23.7 3.4h0m2.2-2.6h0m2.7 2.3h0m.3 0h0m.2-1.5h0m.1.9h0m.3.5h0m.9-.6h0m.3-1.3h0m.1 1.2h0m.6.6h0m.4-1.5h0m.1 0h0m.1 1.1h0m.4.6h0m.2-.9h0m.3.4h0m.2-1.2h0m.3-.5h0m.2 2.6h0m.4-.8h0m.1-1.2h0m.5.2h0m.1.9h0m.6.8h0m.1-2.4h0m.4 1.9h0m.4-2.2h0m.6 1.9h0m.1 0h0m0-.5h0m.1-1.1h0m.1.4h0m.9-.1h0m.3-.5h0m.2 1.3h0m.4 1h0m.1-1.6h0m0-.6h0m.1 1.4h0m.3.4h0m.1-1.2h0m.2 1.5h0m.2-2.1h0m.1.7h0m.9 1.7h0m.3-.3h0m0-.2h0m.3-.7h0m.3.4h0m.2-1.8h0m.2.1h0m.4.1h0m.5.4h0m.6 1.8h0m-17.2 2.9h0m3.4-.4h0m.5 0h0m.4-1h0m.1 1h0m1.7-1.5h0m1.1.2h0m.4.6h0m.5-1.2h0m.8 2.3h0m0-1.3h0m.3-.5h0m.6-.5h0m.2.5h0m.6-.5h0m.1 1.1h0m.4-.4h0m.3-.3h0m.7-.4h0m.5.7h0m.3 1.3h0m2.5-.8h0m1.2.5h0m-10.1 2.1h0m1.3 1.6h0m1.7-.8h0m2.8-1h0m.7-.3h0m1.4.3h0m.7.2h0m3 .3h0m-20.8 2.1h0m9.6.6h0m2.7.4h0m5.2.5h0" stroke="#6a1848" stroke-width="1" stroke-linecap="square" stroke-opacity="0.92"/>
<path d="M458.2 518.2h0m-4.7 3.3h0m3.7-1.9h0m1.4 1h0m0 0h0m2.9 1.1h0m-13.8 1.8h0m3.5.2h0m5.9.8h0m0 .2h0m.1-2h0m.1 1.8h0m.4-1.3h0m1.5.6h0m.3-.9h0m.8 1.3h0m.4.2h0m4.8.2h0m-21.3.8h0m4.2 1.7h0m.3-1.6h0m.2 1h0m2.1.9h0m.5.5h0m.2-2.3h0m.8 1.5h0m.1-1h0m.7 1.5h0m.1.1h0m.3 0h0m.2-.2h0m.7-.5h0m.2.4h0m.5-.6h0m1.3-1.2h0m.4 2h0m.6-1.2h0m.7-1.4h0m.3 1.6h0m.2-.3h0m.1.2h0m0 .2h0m.1-1.6h0m.2 2.7h0m.2-.4h0m.7-1.8h0m.5 0h0m.4.6h0m.1-.3h0m.1-.5h0m.7 0h0m1.7 2.2h0m1.6-.9h0m-17.4 2h0m.4 1.5h0m.2.3h0m1.4-2.3h0m.7 1.8h0m.1-1.8h0m.1 2.4h0m.1-1.1h0m.8.8h0m.7-1.1h0m.2-.9h0m.4 2.2h0m.3-.5h0m.1-1.3h0m.1 2.1h0m.7-1.2h0m0 .9h0m.1.3h0m.6-.3h0m.2-1.6h0m0 1.5h0m.1-.8h0m.5.6h0m.2 0h0m0 .1h0m.5-.5h0m.1-.7h0m0 1.1h0m.3-.2h0m.4-.1h0m0 1h0m.1-1.1h0m.2-.9h0m.1.4h0m.2.9h0m.2-.3h0m0 0h0m0 .1h0m.6-.2h0m.3 0h0m.5-1.6h0m.6.5h0m.9 1.6h0m.7-1.5h0m.3-.8h0m.8.7h0m.1-.3h0m.1.5h0m5.1 1.3h0m-19.4 2.8h0m0-2h0m.7 1.9h0m1.2.1h0m.2.5h0m.2-.1h0m.1-2.2h0m1 1.2h0m.1.2h0m0-.7h0m.2 1.4h0m.1-1.1h0m0 .1h0m.1-.1h0m.4-1.2h0m.1 1.4h0m.2.9h0m.9-.8h0m0-1.5h0m.2 1.6h0m.2.4h0m0-.5h0m.1.7h0m.4.1h0m0-1.9h0m.2.7h0m.1-.7h0m.1 2.3h0m.1-2.7h0m.1 1.2h0m.3 0h0m.1 1.1h0m0-.4h0m.1-1.2h0m0-.2h0m.2.4h0m.1.6h0m.2 1.1h0m.2-2.3h0m.1 1h0m.1.8h0m0-.9h0m.1-1.1h0m.8 1.3h0m0-.8h0m.6 1.9h0m0 0h0m.2-1.6h0m.3.9h0m.4-1h0m.1-.5h0m.3 1.3h0m.4 1.3h0m0-1.7h0m.4-.6h0m1.5 1.4h0m0-1.2h0m.4.4h0m.3-.2h0m1.2 1.7h0m4.3-.6h0m-22.5 3.4h0m.8-1.3h0m1.7-1h0m.4 1.2h0m.3 1.1h0m.4.1h0m.4-2.2h0m.1 2.3h0m.8-1.6h0m.4.1h0m.4 1.5h0m.1-1.9h0m.2 1.1h0m.1-1h0m.2 1.1h0m.1 0h0m.6-1.9h0m.3 2.8h0m.2-2.4h0m.1 2.1h0m.3-2.3h0m.2.7h0m.8 1.9h0m.3-1.6h0m.3-1.2h0m.4.7h0m.1-.6h0m.3 2.1h0m0-1.6h0m.2 1h0m.1 1.2h0m0-.1h0m.1-2.5h0m.2.4h0m.1 1.7h0m.1-.4h0m.2-.6h0m.1-.8h0m.2 1.7h0m0-.7h0m.2-.7h0m.1-.2h0m0-.1h0m.1.8h0m.9.5h0m0-1h0m.6.8h0m.9-.2h0m.1.8h0m.3.6h0m.1-2.4h0m.2.6h0m.2-.5h0m.9-.5h0m.1 1.6h0m.1 1.1h0m1.1-.4h0m.2-1.4h0m.1 1.5h0m.5-1.5h0m.6.4h0m-15.6 2.1h0m.9 1.6h0m.1-2h0m.6 2h0m.5.1h0m.5.7h0m.4-1.1h0m1.4-1.6h0m.6 1.5h0m.2.2h0m.3-.7h0m0-.6h0m1.1 2.1h0m0-1.3h0m.2-.7h0m.3.4h0m.1 1.2h0m.1-.1h0m0-2.1h0m.2 2.8h0m.4-1.8h0m.9.9h0m.1-1.6h0m.1.3h0m3.2 1.1h0m0-.8h0m0-.6h0m.4.1h0m1.9.6h0m.5 1.3h0m2.6 0h0m-14.4 3.2h0m0-2.1h0m1.3-.1h0m.1.6h0m.3-.2h0m.4 2.1h0m0-2.4h0m.4-.2h0m1.3.8h0m0-.6h0m.3.2h0m1.1.2h0m1.2 1.9h0m0-.7h0m2.1-2h0m3.5.9h0m-12.2 3.4h0m1.1-1.3h0m1.6.1h0m.7 2.2h0m.3-1.4h0m1.2 1.3h0m.1-.6h0m1.6-1h0m.4.1h0m-7.1 3h0m3.1 1.5h0" stroke="#9a2450" stroke-width="1" stroke-linecap="square" stroke-opacity="0.92"/>
<path d="M455.5 524.5h0m1-.1h0m1-.2h0m.5-1.9h0m.8.5h0m.6.2h0m.7 1.5h0m-10.2 2.8h0m1.6.2h0m1.9-1.2h0m1 1h0m.3-1.1h0m.5-1.2h0m.7 1.7h0m0 .5h0m.9.5h0m2.5-1.6h0m1.2-.1h0m1.1 1.4h0m.9-.1h0m.8-1h0m-14.2 3.9h0m.2-.4h0m1.6-.1h0m.3.8h0m.6 0h0m.1.1h0m.8-2.6h0m.6 1.9h0m.2.8h0m1.2-1.8h0m.3-.6h0m.1.7h0m.1-.8h0m0 1.6h0m.3.8h0m.7-.2h0m.1-.1h0m.3-1.1h0m0 .1h0m.2 1.2h0m.4-1.6h0m.2 1.8h0m.2-1.1h0m.4-1h0m0 .8h0m.1 1h0m.1-2h0m.3 1.3h0m.2.9h0m.2-.1h0m.2-1.9h0m.8 1.3h0m.4-.2h0m1.9 1.2h0m-9.5 2h0m2.8.4h0m.7-.6h0m.3-.3h0m.1.2h0m.3.5h0m0-.5h0m0-1.5h0m.3.3h0m.3 2.3h0m.1-2.3h0m.6 1.7h0m0-2h0m1 2h0m1.7 0h0m.2-.3h0m1.5-1.1h0m-10.8 3h0m.3.8h0m1 .6h0m1.1-.4h0m0-1h0m.6.6h0m0-.2h0m.4.8h0m.5-.1h0m.4 1.1h0m.5-2.4h0m.1 2h0m.6-1.9h0m.4.3h0m1.9 0h0m1.4-.1h0m.2.3h0m-9.5 4.3h0m1.3-2.3h0m.3 2.4h0m.4-2.4h0m1.2 2h0m.6-.5h0m.7.2h0m.6-.7h0m.5-.6h0m1 1.7h0m.3-.4h0m3.8-.8h0m.9.9h0m-10.5 4h0m0-.7h0m4.4-.1h0m.7.8h0m3.3-.7h0m.7 0h0m-7 2h0m1.2-.8h0" stroke="#c23a52" stroke-width="1" stroke-linecap="square" stroke-opacity="0.92"/>
<path d="M453.5 522.2h0m3.6 4.6h0m5.4 1h0m-7.3 1.7h0m.2.6h0m.2-1.2h0m2.2 1.6h0m4.4.4h0m-8.3.1h0m.1 0h0m1.4.7h0m1.2-.3h0m2.2 2.2h0m3.6-2.2h0m-8.9 2.8h0m1.3 1.9h0m.7-1.8h0m.1-.2h0m.7.2h0m1.7.4h0m-2.2 4.5h0m.2-1.1h0m-3.1 2.4h0" stroke="#e06058" stroke-width="1" stroke-linecap="square" stroke-opacity="0.92"/>
<path d="M457.8 527.5h0m-5.3 1h0m3.7 3.6h0m-1.4 1.9h0m3.4.2h0" stroke="#f08a6a" stroke-width="1" stroke-linecap="square" stroke-opacity="0.92"/>
<path d="M456.5 514.3h0m-4.7 1.9h0m-1.4 2.9h0m3.9 1.3h0m3.1-1.4h0m.7.1h0m.7 2.8h0m-8.4 2.3h0m1.5.1h0m10.4-1.8h0m-12.6 3.8h0m-3.8 4.2h0m19.9-2.5h0m-19.4 5.5h0m1.2-.7h0m.1-1.7h0m.3 0h0m.2 1h0m1.2-.4h0m.5 1.8h0m14.9-.3h0m2 .1h0m-20.1.9h0m2.1.8h0m15 1h0m2.1 0h0m-13.6 2.5h0m1.3.6h0m6.8.8h0m1.8 0h0m-13.7.9h0m2.7 2h0m.2-2.3h0m.7 1.7h0m.7-1.5h0m.5.6h0m.4 1.5h0m.1-.8h0m.9-.3h0m.6.8h0m0-2.5h0m.5 1.3h0m.7-.2h0m1.7-.6h0m.1-.2h0m3.6-.2h0m5.8.5h0m-17.9 2.4h0m2.9.6h0m1.7.4h0m.5-.7h0m1.5 1.4h0m1.4-1.5h0m.5.2h0m1.2.7h0m.6-.3h0m-12.2 3.1h0m3.2-.5h0m2.4-.1h0m1.4 1.7h0m10.3-.1h0" stroke="#f6b49a" stroke-width="1" stroke-linecap="square" stroke-opacity="0.92"/>
</g>
<line x1="437.6" y1="521.8" x2="438.8" y2="521.8" stroke="#444" stroke-width="0.4" />
<text x="436.6" y="523.6" font-size="5.2" fill="#333" stroke="#333" stroke-width="0.16" text-anchor="end">0</text>
<line x1="437.6" y1="536.25" x2="438.8" y2="536.25" stroke="#444" stroke-width="0.4" />
<text x="436.6" y="538.05" font-size="5.2" fill="#333" stroke="#333" stroke-width="0.16" text-anchor="end">−0.05</text>
<line x1="437.6" y1="550.7" x2="438.8" y2="550.7" stroke="#444" stroke-width="0.4" />
<text x="436.6" y="552.5" font-size="5.2" fill="#333" stroke="#333" stroke-width="0.16" text-anchor="end">−0.10</text>
<line x1="443.1" y1="560.2" x2="443.1" y2="561.4" stroke="#444" stroke-width="0.4" />
<text x="443.1" y="567.2" font-size="5.2" fill="#333" stroke="#333" stroke-width="0.16" text-anchor="middle">−0.2</text>
<line x1="458.9" y1="560.2" x2="458.9" y2="561.4" stroke="#444" stroke-width="0.4" />
<text x="458.9" y="567.2" font-size="5.2" fill="#333" stroke="#333" stroke-width="0.16" text-anchor="middle">0</text>
<line x1="474.7" y1="560.2" x2="474.7" y2="561.4" stroke="#444" stroke-width="0.4" />
<text x="474.7" y="567.2" font-size="5.2" fill="#333" stroke="#333" stroke-width="0.16" text-anchor="middle">0.2</text>
<text x="461.4" y="575" font-size="6.2" fill="#333" stroke="#333" stroke-width="0.16" text-anchor="middle"><tspan>T</tspan><tspan dy="1.55" font-size="3.84">CM</tspan><tspan dy="-1.55"> score</tspan></text>
<text x="416.4" y="537.1" font-size="6.2" fill="#333" stroke="#333" stroke-width="0.16" text-anchor="middle" transform="rotate(-90 416.4 537.1)"><tspan>T</tspan><tspan dy="1.55" font-size="3.84">SM</tspan><tspan dy="-1.55"> score</tspan></text>
<rect x="489" y="524.3" width="3" height="22.6" fill="url(#mag)" />
<text x="487.4" y="519.7" font-size="5.4" fill="#333" stroke="#333" stroke-width="0.16">Density</text>
<text x="493.6" y="526.9" font-size="4.8" fill="#333" stroke="#333" stroke-width="0.16">4</text>
<text x="493.6" y="532.15" font-size="4.8" fill="#333" stroke="#333" stroke-width="0.16">3</text>
<text x="493.6" y="537.4" font-size="4.8" fill="#333" stroke="#333" stroke-width="0.16">2</text>
<text x="493.6" y="542.65" font-size="4.8" fill="#333" stroke="#333" stroke-width="0.16">1</text>
<text x="493.6" y="547.9" font-size="4.8" fill="#333" stroke="#333" stroke-width="0.16">0</text>
<text x="360.4" y="589.2" font-size="6.8" stroke="#222" stroke-width="0.16" text-anchor="middle" font-style="italic">Nr4a1</text>
<rect x="337.8" y="592.2" width="45.2" height="44.7" fill="#fff" stroke="#999" stroke-width="0.6" />
<g clip-path="url(#mc3)">
<ellipse cx="361.06" cy="624.22" rx="19" ry="6" fill="#120822" filter="url(#blur3)"/>
<path d="M349.3 616.5h0m6.2 1.2h0m.9-1.3h0m2-.1h0m1.2.9h0m.3.2h0m.3.3h0m0-.8h0m7.8-1h0m2.8-.2h0m.7 2.2h0m1.1-1.1h0m.4.5h0m-25.8 2.4h0m.2-.6h0m.6.8h0m1.3 0h0m.7.1h0m.2-.4h0m.2.9h0m.6-.9h0m.1-1.2h0m.1 1.4h0m0-.6h0m.1 1.7h0m.5-.2h0m.5-.6h0m.1.5h0m1-.7h0m.5-1.9h0m.4 1.2h0m0 .8h0m.5.4h0m.1.5h0m.1-.3h0m.5-.1h0m.3-1.5h0m.1 1.6h0m.1 0h0m.1-1.7h0m0-.5h0m1.1 0h0m.1 1.8h0m0-.2h0m.1.9h0m1-.5h0m.2-.6h0m.3.1h0m0-1.2h0m.2 2h0m.1.2h0m0-2.7h0m.1 1.4h0m.1 1.1h0m.4-.7h0m.6-1.3h0m.4 1.6h0m.1.4h0m.3-.8h0m.2-1.8h0m1.2 2.2h0m.4-.4h0m0 1h0m.2 0h0m.3-.5h0m.1-2.1h0m.1.8h0m.1.4h0m.2-.8h0m.3.2h0m.1.6h0m.3 1.3h0m.3-.8h0m.5-.5h0m.1 0h0m.5.7h0m.3-.7h0m.3.9h0m.2-1.5h0m.1 1.7h0m.5-.2h0m.3.2h0m.2-.7h0m.2.4h0m.1-1.2h0m1 .7h0m.8.7h0m.7-2.1h0m.3 1h0m.5-.5h0m.5.3h0m-30.1 4.4h0m5.2-1.4h0m.1-1.2h0m1.5.6h0m.8.5h0m.3 1.6h0m.6-.8h0m.1-1.3h0m1 2.1h0m.1-1.7h0m.1.7h0m.2-.8h0m.1 1.5h0m.3-2.1h0m0-.3h0m.5 2.7h0m.1-1h0m.1.3h0m0-1.4h0m.4 2h0m.2-.3h0m0-.6h0m.1-.4h0m1 1.3h0m0-1.9h0m0 .4h0m0 .9h0m.1-.3h0m.3-.4h0m.1-.6h0m0 1.4h0m.3.7h0m.3-2.3h0m.2 1.3h0m.1-.6h0m.1.1h0m.3-.7h0m.1-.6h0m0 1.1h0m0 1.3h0m.1 0h0m.1-2.3h0m.3 1.7h0m0 .2h0m.1-.3h0m.1.7h0m.2-1.6h0m0 .7h0m.2-.8h0m0 .1h0m.3 1.1h0m.1-1.9h0m.1 0h0m.3.4h0m0 2h0m.1-1.3h0m0 0h0m0 1h0m.1-1.9h0m0 .3h0m0 .1h0m0 1.5h0m0 .3h0m.2 0h0m0-.1h0m.2.2h0m0-2.5h0m.1 2.1h0m.1.3h0m.1.3h0m.1-1.1h0m.1-1.3h0m.2-.1h0m.1.9h0m0 1.4h0m0-2.3h0m.2-.2h0m.1 1.3h0m.1.6h0m.1-.9h0m.1-.7h0m.2-.2h0m.3.7h0m.2 1.4h0m.1-.4h0m0 .1h0m.4-1.6h0m0 .9h0m.1 1.4h0m.2-1.7h0m0 1.6h0m.1-1.4h0m0 .8h0m0-.3h0m.1.7h0m0-2h0m0 1.5h0m.1 1.1h0m0-.6h0m.1-2.1h0m0 .8h0m.1-1h0m0 2.5h0m0-1.8h0m.3 1.6h0m0 .2h0m.1.4h0m.3-.4h0m.3-.1h0m.3-1h0m.1.9h0m.3.4h0m0-2.5h0m0 1h0m.2.3h0m.2 1.2h0m.1-.5h0m0-.2h0m.1.8h0m.1-1.7h0m0-.7h0m.3 1.6h0m.1-.1h0m.1-1.3h0m.2 1h0m.1 1.1h0m.2-.1h0m.1-.7h0m.1-1.7h0m0 .5h0m0 .4h0m.1 1.4h0m.1-.3h0m.1-2h0m.1 2.5h0m0-.6h0m0-1.9h0m.2 2.1h0m.1.4h0m0-.8h0m0-.5h0m.2 1h0m.2-2.4h0m0 1.1h0m0-1h0m0 1.1h0m.5.3h0m0 1.4h0m.5-1.2h0m.1-1.4h0m.3.8h0m0 1h0m0-.2h0m.1.2h0m0-.3h0m.1-.3h0m.1.8h0m.1.5h0m0-.1h0m.1-.9h0m.4-.6h0m.1-.3h0m.1-.9h0m.1 1.5h0m.2 1.4h0m.3-.4h0m0 0h0m.3-1.6h0m.2 1.3h0m.5-.6h0m.1-1.3h0m.2 1.1h0m.1-1h0m.4.6h0m.2-.4h0m1.1 1.3h0m0-1h0m.7 1.6h0m.7-2.4h0m.9 2.1h0m.2.2h0m.2.1h0m.3-.2h0m2.3-2.3h0m.2 2.6h0m3.8-1.2h0m-38.7 4.2h0m.7-1.6h0m.2-.7h0m.1 1.3h0m1.6-1.4h0m.6.6h0m.1-.4h0m.5 2.5h0m.2-1.3h0m.1.1h0m.2-.1h0m.2-1.3h0m.2.4h0m.4 0h0m.6.5h0m.2-1h0m.2 1.7h0m.5.9h0m0-.7h0m.1-.9h0m.3-.4h0m.3-.6h0m.1 1h0m.2.2h0m.1 1.3h0m.2.1h0m0-1.3h0m.1 1.4h0m.1-.4h0m.3.4h0m.4-1.8h0m.1.5h0m0-1.5h0m.2 1h0m.1 1.4h0m0-.2h0m.1-2.2h0m.5 1.5h0m.3 1h0m.1-1.6h0m0 .8h0m.3-1.3h0m.4.5h0m.1 1.8h0m.1-2.3h0m.1 0h0m0-.3h0m.2.7h0m.1.7h0m.1.9h0m.1-2.3h0m.2 2.5h0m0-1.3h0m.2 1.1h0m.1-2.5h0m0 1.9h0m.1-.9h0m.1.1h0m.1-.9h0m.2 1.3h0m.1 1.4h0m.1-2.8h0m0 1h0m.2.1h0m0-.7h0m.2 1.2h0m.1.6h0m0-1.9h0m0 .3h0m.1 1.4h0m0-1.6h0m.2 1.9h0m0-1.5h0m.3 1.3h0m.2.1h0m.1-.3h0m.1-1.3h0m0-.2h0m0 1.4h0m.2-1.6h0m.2 1.2h0m0 .1h0m.1.1h0m0 .8h0m.1.2h0m.1-1.3h0m.1-.8h0m.1 1.2h0m0 .7h0m.2-1.2h0m0 .3h0m0-.8h0m0 0h0m.1 1.9h0m.3-.9h0m0-.3h0m0-.4h0m.1-.2h0m0 .8h0m.1-.7h0m0-.1h0m0 1.6h0m.1.4h0m0-1.2h0m.1-1.6h0m.1.9h0m.1.7h0m.1.4h0m.1-.5h0m0-.9h0m0 1.7h0m0-1.5h0m.1.9h0m.1.6h0m0 .2h0m.1.2h0m.1-2.2h0m.2-.1h0m.1 0h0m.1.5h0m0-.7h0m0 2.5h0m.1-1.9h0m.2.2h0m0-1h0m.1.1h0m.1 2.7h0m.3-2.3h0m.1-.5h0m0 2.2h0m0-1.1h0m.1.5h0m.1.4h0m0-1h0m.1.1h0m0-1.2h0m0 1.7h0m.1.2h0m.1.8h0m0-.2h0m.1-2.3h0m0 1.2h0m.1-1.3h0m0 2.2h0m.2-.7h0m.2-1.1h0m0 1.8h0m.3-.3h0m0-.9h0m.1-.6h0m.1 1.8h0m0 0h0m.1-1.3h0m0 .4h0m0-.6h0m.1 2h0m.3.1h0m.1-.6h0m.2-.2h0m0 0h0m0 .2h0m.1-.3h0m0-1.7h0m0-.3h0m.1.6h0m0 .3h0m0-.4h0m.1.3h0m.1-.2h0m.1.8h0m.1-.6h0m0 1h0m.3.9h0m.4-2h0m.1-.4h0m0 .4h0m.1-.3h0m0 2h0m.1-.9h0m.1-.5h0m.1 1h0m.1-.4h0m0-.6h0m.3 1.4h0m.2-1.9h0m.2.3h0m0 1.3h0m.1-1.9h0m0 1.2h0m.1-1.1h0m.2 1h0m0 .5h0m.3.1h0m0 .4h0m.1-1.8h0m.1-.5h0m.2 2.1h0m0-1.5h0m0 1.7h0m.1-1.2h0m.3.3h0m.4 0h0m0 1.2h0m.3-1.1h0m0-1.5h0m.2.8h0m0-.7h0m.1 0h0m.3 1h0m.2-.6h0m0-.2h0m.1-.1h0m0 .6h0m0 .6h0m.1-.7h0m.1 2.2h0m.2-2.8h0m.2 1.1h0m.2-.7h0m.5 0h0m0 1.2h0m.4-.8h0m.1.6h0m.3.3h0m.2-.4h0m.1-.3h0m2.4 1.4h0m.1.3h0m.1-.7h0m.6.1h0m1.2-2.1h0m1.2 2.7h0m2-2.4h0m1-.2h0m2.7-.2h0m-37.9 3.3h0m2.3.4h0m.9-.6h0m.3.8h0m.2.3h0m1.2-1.2h0m.5.8h0m0-.8h0m.2 1h0m.6.4h0m.2-1.2h0m.4.3h0m.4 1.9h0m.3-1.5h0m.7-.5h0m.1.2h0m.2 1.7h0m.3-.8h0m.1.8h0m0-1.4h0m.1.8h0m.3-.5h0m.6-.2h0m.2 1.5h0m0-1.2h0m.2 0h0m.1 1h0m.3-1.9h0m0 2.5h0m0-.6h0m.6-2h0m.1.6h0m.1 0h0m.2-.6h0m.2 1.3h0m0-1.1h0m.3 1.6h0m.2-1.5h0m.2 1.3h0m.1.5h0m0 .4h0m.5-2.4h0m0 0h0m.1.8h0m.1-.1h0m.4-.9h0m.3-.1h0m0 1.1h0m.1.3h0m0-1.4h0m.1 2.1h0m.4-.5h0m0-1.7h0m.3.6h0m.1 1.1h0m.3.6h0m0-2.2h0m0 1h0m.1 1.1h0m0-1.9h0m.1 2h0m.1-1.6h0m0 1.2h0m.6-.9h0m0-.6h0m.2 1.8h0m.3-2.2h0m0 1.3h0m.1-.9h0m0 1.2h0m.2-1.2h0m.1-.2h0m.1.1h0m0 .1h0m.1 2.1h0m0-1.2h0m0 .1h0m.1-.2h0m.1 1.1h0m.1-.9h0m.1.6h0m.1-1.2h0m.1-.1h0m.1 1.6h0m.5-1.2h0m0-.7h0m.4-.4h0m.3 1.9h0m.1-.3h0m.5-.1h0m0 1.4h0m.2-2.7h0m.6.1h0m0 .9h0m.1-.9h0m0 0h0m.2 1.1h0m0 .6h0m.2-1.8h0m.8.7h0m.5-.9h0m.2 2.1h0m0-1.7h0m.2 1.8h0m.1-2.2h0m0 1.6h0m.5.3h0m.3.7h0m0-2.5h0m.2 1.2h0m.1-.8h0m.3.1h0m.2-.2h0m0-.4h0m.3 2.6h0m.6-1.6h0m.3-.2h0m.1.1h0m.9-.9h0m1.1 2.6h0m.3-.3h0m.3-1.2h0m.3-1h0m.2 2.6h0m1.7-1.4h0m4.4 1.5h0m-32.4 1h0m3.7.2h0m1.8-1h0m2.6 1.2h0m2 .5h0m.2-.6h0m.8-1h0m.1 0h0m.7-.1h0m.7.3h0m.1.7h0m.2-.5h0m.5-.2h0m.5.3h0m.2.1h0m.4-.5h0m.5 1.7h0m1.1-.8h0m.2.7h0m.3-1.6h0m.5 1h0m.3-.6h0m.1-.5h0m.2-.1h0m.1 1.3h0m.2.9h0m1.6-1.4h0m.5-.2h0m.6-.4h0m.5-.1h0m.4.6h0m.2-.1h0m3 1.4h0m2.2.2h0m-32.2 2.3h0m5.9.6h0m13.6-1.9h0m.1.2h0m2.5 0h0m5.7.7h0" stroke="#0a0414" stroke-width="1" stroke-linecap="square" stroke-opacity="0.95"/>
<path d="M345.6 616.3h0m5.2 1.3h0m2.1-.9h0m.3.4h0m0 .8h0m3.5-.8h0m7.4.4h0m2.3-1.1h0m0 1.4h0m.9 0h0m4.7-1.6h0m-21 4h0m.2.7h0m.6-.1h0m.7-1.4h0m1.2.8h0m.5-1h0m2.1.3h0m.2.3h0m.3.2h0m.4.8h0m1.5-.2h0m.4-1.6h0m.3.4h0m.5-.5h0m.1 1.8h0m.1-.1h0m.1-2.5h0m.4 2.5h0m1.1-1.8h0m0-.2h0m1.1.3h0m.4.9h0m.3-.2h0m1.5-1h0m.5.9h0m.2.9h0m1.2.2h0m.8.1h0m.3-.7h0m.7-.9h0m.4.9h0m.1.1h0m.3.4h0m.8.3h0m.5-.4h0m.6.3h0m.4-1.3h0m2.3.7h0m.6.4h0m-31.3 3.1h0m.3-.3h0m1.5.2h0m2.1-.7h0m1.9-.4h0m.1.1h0m0 .3h0m.1-1.3h0m.1 2.2h0m.3-2.5h0m.5 1.4h0m1.4-.3h0m.3-.3h0m0 1.1h0m.1 0h0m0-.1h0m.6-.9h0m.3 1.2h0m.5-.4h0m.3 0h0m0 .6h0m.1-1.1h0m.1.9h0m.1-.8h0m.2.7h0m0 0h0m.1 0h0m.1-1.7h0m0 1.6h0m.1-2h0m.2 1.2h0m.1.5h0m.2-.6h0m.1-.5h0m.2-.3h0m.2.1h0m.1.4h0m.4.5h0m0 .5h0m.1-.5h0m.1-.6h0m0 2h0m.2-2.5h0m0 2.4h0m0 .1h0m.4-2.1h0m.7 1.3h0m0-.7h0m.1-.1h0m.3.2h0m0-1.3h0m.1.9h0m.4.6h0m.1-.9h0m.1 1.3h0m.4-1.1h0m0 1.4h0m.1-.6h0m.1 1.1h0m0-.6h0m.3-.7h0m0-.6h0m0 1.5h0m.3-1.2h0m.2 1.7h0m0-1.9h0m.2 1.2h0m.1-1.1h0m.1 1h0m.1.3h0m.4-2.2h0m.1 2h0m.4-1.3h0m.3.3h0m.2-.5h0m0 .5h0m.5-.9h0m.3 1.6h0m0 .6h0m.1-1.4h0m0 1.1h0m0-1h0m.1 1.2h0m.1-.9h0m.1 1.2h0m.1-.7h0m.1.9h0m0-1.1h0m0-.2h0m.2-1.2h0m.1 0h0m.1.8h0m.1-.2h0m0-.6h0m.1.8h0m0-.1h0m.7 1.7h0m.4-.9h0m.6-1.6h0m0 .9h0m.3 1.2h0m.8-1.4h0m0 .8h0m.3-.4h0m.1-1.4h0m.1.8h0m.3 1.6h0m0-.9h0m.5.2h0m.4-.7h0m0-1h0m.1 2h0m.2-.9h0m0 .9h0m.3.6h0m0-.9h0m0 .7h0m.2-.7h0m.3.1h0m.8-1.1h0m.3 1.5h0m1.1-.3h0m.4.5h0m.2-.6h0m.1-.3h0m2.7.2h0m1.4.2h0m1.7-.7h0m-38.6 4h0m4.7.4h0m.7-1.4h0m1.5-.3h0m.7 2h0m1.7-2.6h0m.5 1.7h0m.3-.1h0m.6-.2h0m.4-1.7h0m.4 1.1h0m.1-.5h0m1-.3h0m.6-.2h0m.4 2.3h0m.1-1.4h0m0 .4h0m.2-.6h0m.2.5h0m.7.1h0m.1-.9h0m.1-.5h0m.3 2.4h0m.2-.2h0m1-1.9h0m.5.9h0m.1 0h0m0-.3h0m.1 1.5h0m.6-1.6h0m.2 1.6h0m0-1.2h0m.1 1h0m.1.4h0m.1-.1h0m0-1.7h0m.4 0h0m.1-.1h0m.1 1.9h0m0-1.8h0m.2.8h0m.2-.7h0m.2 1.4h0m.2-1.6h0m.1-.5h0m.1.5h0m0 1h0m.4 1.2h0m0-.7h0m0 .4h0m.1-2.2h0m0 .4h0m.2 1h0m0 1h0m.1-1.3h0m.2-.9h0m.2 1.6h0m.2.1h0m.4-.1h0m.1-.7h0m.1.2h0m.3.9h0m.1-2.1h0m.4 0h0m.1.9h0m.1 1.2h0m.2-.1h0m0-2h0m.1.4h0m.2-.9h0m0 .9h0m.1-.5h0m.1 1.2h0m.1-1.4h0m.1 1.2h0m.1.3h0m.1-1.3h0m.2 2.1h0m.4-.2h0m.2-.2h0m.3-.7h0m.1-.3h0m0 0h0m.1.3h0m.3-1.3h0m.2 2.6h0m.3-2h0m.1 2h0m.1-.3h0m0-2h0m0 1.1h0m.2.2h0m.2.8h0m.2-1.8h0m.4 0h0m.5 1.1h0m.1-.2h0m.7-1.3h0m.1.4h0m.7.5h0m0-.5h0m.2 2.2h0m.1-1.6h0m.2-1.2h0m.9 1.2h0m0 1.1h0m.9-.9h0m.1-.2h0m.2-.2h0m.2 1.7h0m.7-2h0m.1 2.1h0m0 0h0m0-.3h0m1.6-1.8h0m2.2.5h0m1.1.4h0m.2-1.1h0m-32.7 4.3h0m2.6-.1h0m.9-.9h0m.4 1.5h0m.2-1.7h0m2.5-.3h0m.4.7h0m.2.1h0m.1 1.5h0m.9-1.2h0m.7-.7h0m.6.3h0m.3-.8h0m0 .7h0m0-.8h0m.2 1.3h0m.3-1.4h0m.3 1.6h0m.2.9h0m0-1.9h0m.3.2h0m.2-.3h0m.3-.1h0m0 1.2h0m.2-1.7h0m.1.9h0m.1.4h0m0 1.2h0m.3-2.1h0m.1-.1h0m.6 1.1h0m0 1.3h0m.6-2.3h0m.4-.1h0m.3.2h0m0 2.1h0m.2-1.1h0m1.1-1.5h0m.2 2.8h0m.1-2.3h0m.6 1.6h0m0 .6h0m.1-2.5h0m.6 1.7h0m0-.2h0m.3-1.7h0m.1 0h0m.1.9h0m.3.8h0m.5-.6h0m0-.8h0m0 1.6h0m.4-1.4h0m.1 2h0m.1-.3h0m.1-1h0m.1.5h0m.3 1.2h0m.5-2.7h0m.1.4h0m.1.6h0m.9-.7h0m0 1.9h0m.4-.6h0m.2.8h0m.3-2.5h0m4 1.1h0m1.4.5h0m6-1.3h0m-23.1 3.3h0m1 1.5h0m.9-1.2h0m1 1.1h0m.5-1.2h0m.1-.7h0m5.2.5h0m1.1-.4h0m1-.3h0m.2 1.7h0m.2-.7h0m.7.1h0m1.6-1h0m1.5.6h0m.9.9h0m.2-.7h0m-16.7 2.9h0m5.7 0h0m2.2.6h0m3-1.1h0" stroke="#2a0c40" stroke-width="1" stroke-linecap="square" stroke-opacity="0.92"/>
<path d="M359 614.5h0m-12.6 2.3h0m-2.3 1.2h0m8.1.9h0m.2 1.4h0m.2-1.6h0m2.4 2.1h0m1.2-.7h0m6.5-.4h0m.6.6h0m.3-1.6h0m.8-.6h0m2.6 2.7h0m2.7-.8h0m1.3.1h0m2.3-.1h0m-33.9 3.1h0m5.9.6h0m1.4-1h0m1.8-.6h0m2.4 1.5h0m3.3.3h0m.9-.9h0m.1-1.2h0m1.1 1.6h0m.2-1.1h0m.3.9h0m.6.4h0m.7-.9h0m.4.8h0m.1-2.4h0m.5 2.4h0m.1.2h0m.2-.2h0m.5-.4h0m.9-1.7h0m.1 2.5h0m.5-2.3h0m.2-.2h0m.1-.2h0m0 .7h0m.1.3h0m.9 1.4h0m.3-1.4h0m.2.7h0m.4-1h0m.3 1.4h0m.5-1.9h0m.6 2.3h0m0-2.5h0m1.2 2.1h0m.2-.4h0m.2-.6h0m.2-.2h0m.4-.9h0m.2 1.4h0m3.4-.5h0m8.7 1.7h0m-33.3 2.9h0m2.5.1h0m.4-1.3h0m2.1.9h0m.8.4h0m.7-.8h0m2 0h0m.6-.1h0m.3 1h0m.1-2.8h0m1.4.1h0m.1 1.1h0m.2 1.6h0m.8-.6h0m0 .6h0m.2-.4h0m.1-.5h0m1.2-1.4h0m0 .8h0m.4 0h0m0-.8h0m0-.4h0m.2.3h0m.5 1.3h0m.2-.5h0m.2.8h0m.4-.4h0m.1.8h0m.7-1.1h0m.2-.6h0m2.1-.6h0m.3 0h0m.9 1.8h0m.2.3h0m.2.5h0m.1-1.1h0m.3.4h0m.3-2h0m.2.6h0m.4 1.8h0m1.1-2.4h0m.4.9h0m.2.5h0m.1-.5h0m.4-.2h0m.8-.3h0m.4.9h0m1.4-.9h0m1.9 1.2h0m1.7-.8h0m.6-.4h0m1.1.6h0m-25.9 1.9h0m1.4.8h0m.6.3h0m1.3-.8h0m.4 1.3h0m.4-1.6h0m2.1.8h0m.4.4h0m0-1.1h0m.2 1.9h0m1.3-.7h0m.8-.2h0m.9-.4h0m1.6 1.9h0m.7-.9h0m.6-1.6h0m.5 0h0m.4.4h0m3.1 1.9h0m-23.2.7h0m13.6.3h0m5.8-.1h0m5-.3h0m2.1.1h0m.2 1.7h0m.3-.4h0m-8 2h0" stroke="#541454" stroke-width="1" stroke-linecap="square" stroke-opacity="0.9"/>
<path d="M346 611.3h0m2.1.3h0m.5-1.5h0m-3.6 3.1h0m1.2.2h0m2.4 1.4h0m.6-.3h0m.6-.3h0m1.2.1h0m-6.8 3.5h0m.1-1.4h0m2.5 1h0m.3-1.4h0m1.3.6h0m.4.5h0m.3-1h0m0 .9h0m.2-.5h0m.6-.3h0m.3 1.7h0m1.3-.2h0m2.5.2h0m-13.2.5h0m1 2.4h0m1.3-1.2h0m.4-1.4h0m.3 2.2h0m1.1-.8h0m.7-.2h0m.2 1.3h0m.6-.6h0m.3-2.1h0m.1 1.3h0m.3.4h0m0 .5h0m.5-.2h0m.4.7h0m.4-1.4h0m.2.4h0m.3-1.5h0m.2.5h0m0 .4h0m.1-.8h0m.2.9h0m0 0h0m.3-.6h0m.1.9h0m.1-.8h0m.6 1h0m.3-1.5h0m.2 2h0m.4-.8h0m.2 1.5h0m.1-.1h0m.3-.2h0m.4.1h0m.6-2.1h0m.2 1.3h0m2.2-.9h0m.9 1.3h0m-15.8 1.5h0m2.3 1.9h0m.7-1.1h0m.2.6h0m.2-1.2h0m1.5 0h0m.4-.9h0m.3 1.9h0m.3.7h0m.1-.7h0m.7-.5h0m.5 1.2h0m.4-1h0m.1-1.5h0m.5 1.3h0m.3.9h0m.2-.7h0m.1-.9h0m0 .9h0m.2-.6h0m0 1.5h0m.6-.5h0m.3.2h0m.3-.1h0m.1-.5h0m.1-1.7h0m.3 2h0m.4.2h0m.1-1.5h0m.1-.4h0m.6.8h0m.5-.8h0m-11.9 5.6h0m.6-1.1h0m1.8-1.1h0m.4-.5h0m.6 1.7h0m.7.7h0m.1-.9h0m.7-.2h0m.9-1.1h0m.1-.3h0m.2.3h0m0 2.2h0m0-1.3h0m.5-.7h0m0 .2h0m1.2 2.1h0m.2-2.2h0m0-.7h0m.1 1.9h0m.2-1.1h0m1.1 1.3h0m.1-2h0m.6 0h0m.1 2.6h0m.7.2h0m.5-1.7h0m.2-.4h0m2.4 1.8h0m-11.5 2.9h0m1.2.2h0m.7-2.6h0m3.9 2.4h0m.1-1.1h0m.8-.5h0m1.8-.9h0m.2 1.1h0m.5 1h0m-5.1 2.8h0" stroke="#2a0c40" stroke-width="1" stroke-linecap="square" stroke-opacity="0.9"/>
<path d="M345.3 614h0m.2.9h0m.9-.5h0m.7-1.9h0m4.9 2.2h0m-8.3 3.2h0m.1-1h0m.1.8h0m1.3.2h0m.1-.7h0m.4-1.5h0m3 1.1h0m.6-.3h0m.2 1h0m1.9-1.7h0m1.1 0h0m.8.9h0m.1.3h0m-11.9 3h0m2.5-1.6h0m.1 1.7h0m.9-1.9h0m.9.7h0m.6 1.2h0m.1-.7h0m.4-.2h0m.4.6h0m.2.8h0m.6-2h0m.1 1.9h0m.2-2h0m.2-.3h0m.6 1.8h0m.1.4h0m.2.2h0m.6-1.6h0m.8 1.7h0m.7-2.4h0m.2 1.6h0m.7.6h0m.2-.7h0m0 .3h0m1.2-1.8h0m1.6.6h0m-14.9 3h0m.4.6h0m1-.1h0m1.4 1.1h0m.7-1h0m.7-1.5h0m0 .7h0m0 1.5h0m.1-1.6h0m.6.1h0m.1.8h0m.3-1.4h0m1.4 1.8h0m1.2.9h0m1.5-.6h0m.3.6h0m0-1.9h0m0 .3h0m0 1h0m.1-1.2h0m.2-.8h0m.2 1.7h0m.4.7h0m.5-1.3h0m.9 1.5h0m3.3-1.2h0m-11.7 2.8h0m.7-.4h0m.1-.6h0m2.1.3h0m1.6-.1h0m.5-.6h0m.4 2.1h0m1.2-1.9h0m1 2h0m.1-1.9h0m1.1 0h0m.8.6h0m.7.4h0m-12.4 3.1h0m3.6-1.3h0m2.3 1.6h0m1-1.3h0m1.8 2h0m-1.2.7h0m1.1.2h0" stroke="#5a1450" stroke-width="1" stroke-linecap="square" stroke-opacity="0.9"/>
<ellipse cx="355.14" cy="609.48" rx="9" ry="8.5" fill="#6a1a48" opacity="0.75" filter="url(#blur3)"/>
<path d="M352.6 592.2h0m1.4 1.7h0m2.8-1.2h0m2.1 1h0m-6.9 2.4h0m.6-.5h0m.7-.1h0m.2.7h0m.9-1.9h0m2.4 2.3h0m.5-2.3h0m.6 1.3h0m0 .6h0m1.1-.4h0m2.8-.5h0m5.1-.3h0m-24.7 4.3h0m5.4-2.2h0m.3 2.6h0m1.8-1.5h0m.4 1.7h0m2.6-1h0m.1.8h0m.7-.2h0m1.2-2.1h0m.8.7h0m.3-1h0m.3 2.4h0m.4-.1h0m.1-.9h0m1.1-.7h0m0 1.8h0m.6 0h0m1.8-.5h0m2.4-1.1h0m.6-.5h0m-18.3 2.7h0m.1 2.4h0m1.2-2.5h0m1.3.7h0m.1-.1h0m.4 1.1h0m.6-1.2h0m.7 1.8h0m.8.2h0m.8-.1h0m.1-.7h0m.1-.2h0m.8-1.4h0m0 1.4h0m.1 0h0m.4.3h0m.4.8h0m.5.1h0m.2-1.3h0m.7-1.1h0m.7 1.9h0m.1-1.7h0m1.2.5h0m.1-.8h0m.4 1.9h0m.4.1h0m.5-1.1h0m.3 1.2h0m.4-.4h0m.4-1.9h0m.5.5h0m.8 1h0m1.3.3h0m.7-1.4h0m.3.6h0m.4 1.3h0m1.2-1.2h0m.8-.6h0m-24.7 2.6h0m4.4 1.8h0m1.4-1.3h0m.5 2h0m.6.1h0m0 0h0m0 .1h0m.7-.7h0m.1-1.6h0m.3.6h0m.9 1.7h0m.9-1.2h0m.2-.6h0m.1 1.8h0m.4-1.3h0m0 .6h0m.2-.7h0m.6 1.4h0m.3-1h0m.2.9h0m.5-.6h0m.2-1.5h0m0 .5h0m.1.9h0m.2-1.8h0m0 .1h0m.1 0h0m.1 1.5h0m.1-1.1h0m.1 1.6h0m1 0h0m.4-2.2h0m.4.8h0m.2.1h0m.6-1.1h0m.6.4h0m.1.1h0m.3 2.1h0m.1-.5h0m0 .1h0m.3-1.2h0m.9.6h0m.1-.6h0m.3 1.5h0m.3-1.4h0m.3-1h0m.3.1h0m0 .6h0m.2 1.3h0m.3-.2h0m.1-1.4h0m.1-.2h0m.3.4h0m.4 1.3h0m.5.7h0m0 .2h0m.2-2.6h0m.6-.2h0m0 1h0m.9 1h0m.8-.9h0m.9 1.3h0m-21.6 2.1h0m1.4-.3h0m.4.6h0m1.3-1h0m.2.5h0m.2-.6h0m.4 2h0m.1.1h0m0-.5h0m.3-1.3h0m.3 1.6h0m0-1.2h0m.2-1.2h0m0 .8h0m.1 1.2h0m.1.3h0m.1-.1h0m.3-.4h0m.3 0h0m0-.5h0m.2.3h0m.3-.8h0m0 1.4h0m0 .3h0m.6-1.3h0m.1 1.1h0m.1-1.8h0m.1-.8h0m.1 1.1h0m.1.8h0m.1-.8h0m.1-.7h0m.1.7h0m.4-.2h0m.3 1.7h0m.2-1.5h0m.1-.9h0m.1 2.1h0m0-.9h0m.1-1.3h0m.3-.1h0m.3.8h0m.2 2h0m.1-1.4h0m.1-1h0m.1 2.1h0m.1-.1h0m0-1.1h0m.3.2h0m.8-.1h0m.1 0h0m.4-1.1h0m.5 1.8h0m.2.4h0m.1-.7h0m.1-.5h0m.1 1.1h0m.1-2.1h0m.5 1.9h0m.6-1.8h0m.4-.3h0m0 2.1h0m.9-2h0m0 .1h0m1-.2h0m.5 1.7h0m.1-1.4h0m.2 1h0m.3-1.3h0m.2.6h0m.1 2.2h0m.5-2.2h0m.3 1.9h0m.1.3h0m.2-1.7h0m.8 1.5h0m.1-1.6h0m.2 1.7h0m0-2.1h0m3.3 1.3h0m.1.8h0m1.2-2.1h0m-24.1 3.7h0m1.1-.4h0m.4-.9h0m1 2.1h0m.5.7h0m0-.8h0m.1-.6h0m.1 1h0m0-1.6h0m.5.8h0m.1-1.6h0m1 1h0m.1.4h0m.6-1.2h0m.5 1.3h0m.1-.7h0m.1-.5h0m.1.8h0m.1 1.7h0m0-.5h0m.1.5h0m.1-1.3h0m.1 1h0m.3-1.9h0m.1 2.1h0m0-1.3h0m.7.8h0m.5-1.5h0m.3 1.8h0m.6-2.3h0m.5 1.9h0m0-2.2h0m.2 2.6h0m.2-1h0m.2.5h0m.7-.8h0m.1.3h0m.1 1.1h0m0-2.5h0m.1 2.1h0m.3.1h0m.2-.4h0m0-2h0m.2 2.8h0m0-.9h0m0-.6h0m.3-.3h0m.1-1h0m.7 1.4h0m0-1.4h0m.6 1.9h0m.4-1.8h0m.9.4h0m.2 2.3h0m0-.1h0m0-2.2h0m.1 2.1h0m.6-1.4h0m0-.2h0m.1 1.7h0m.4-.9h0m0-.5h0m.1-.5h0m.1 1.4h0m.1-1.9h0m.7 2.4h0m.1-.6h0m0-.8h0m.2.5h0m0-1h0m.2-.7h0m.4 2.5h0m0-2.3h0m.3 0h0m.1 2.6h0m.6-.4h0m0-2.3h0m.4.9h0m.7.2h0m.1.7h0m.4-.9h0m.2-.9h0m.2.5h0m.1 0h0m.1-.2h0m-20.3 4h0m.7-1.2h0m1 .3h0m.2 1.4h0m0-1.5h0m.5.1h0m1.2 1.6h0m.6 0h0m0-2.1h0m.2 2.4h0m.2.4h0m.3-1.3h0m.3.3h0m.3-1.6h0m.1.3h0m0-.4h0m.3 0h0m.3 1.6h0m.1.7h0m0-.6h0m.1.4h0m0-1h0m.2-1.2h0m.1.4h0m.1 2.4h0m.3-.7h0m0-1.6h0m.2-.2h0m.1 1.4h0m.2.4h0m0-1.3h0m.1.3h0m.4 1.2h0m0-1.3h0m.1-.7h0m.3 1.9h0m0-.7h0m0 0h0m0-1.1h0m.2.7h0m0-.1h0m.1.8h0m0-.9h0m.2.5h0m.1 0h0m.1 0h0m.1.4h0m.5.5h0m.1-.8h0m.1-.4h0m.1 1.7h0m0-1.8h0m.6.9h0m.2.8h0m.5-1.8h0m.1.8h0m0-1.5h0m.2.6h0m.4 1.1h0m.4.1h0m.4-1.6h0m.5 1.6h0m.1-1.4h0m.2 2.1h0m.3-.5h0m.1.3h0m.1-2.3h0m.1 2.5h0m.2-.7h0m.1-2h0m.2.3h0m.3 1.8h0m.8-1.3h0m.2 0h0m1 1.1h0m.2-1.8h0m.5 1.3h0m.1-.8h0m1.3 1.1h0m.3-1.2h0m.6 0h0m.3 1.8h0m1.5-1.7h0m4.1 1.6h0m-27 2.9h0m1.1-.2h0m1-.5h0m.5-.6h0m.6 1.9h0m.4-.9h0m.1-.2h0m.7-.8h0m.1.8h0m0-.8h0m0-.4h0m.9 1.7h0m.3-1.7h0m.7.7h0m.3-.4h0m.3.4h0m0-.6h0m.1 1.1h0m.2-1.5h0m.1 1.6h0m.1-.6h0m.2-.6h0m.1 1.8h0m.3-1.4h0m.3 1.5h0m0-.2h0m0-1.3h0m0-.8h0m.3 0h0m.2 1.8h0m.4.7h0m0-1.2h0m.1 0h0m.2.6h0m0-2.1h0m.2 2.6h0m.6-1.3h0m.2-1.2h0m.3 1.2h0m0-1.2h0m.1.9h0m.1 1.2h0m.2-1.8h0m.2 1.2h0m0-.9h0m.2.6h0m0-.7h0m.4 0h0m.3-.2h0m.2 2.4h0m.1-.5h0m0-1.6h0m.1 1.5h0m.1.1h0m0-.4h0m.7.6h0m.2-1.4h0m.2-.4h0m.2-.1h0m.1 1.8h0m.1-2h0m.3 2.5h0m.3-.6h0m.1.5h0m.5-1.3h0m0-1.3h0m.1 1.4h0m.4.2h0m.3-1.2h0m.1-.4h0m.3 2.3h0m.1-1.3h0m.2 1h0m.1-1.1h0m.7-.5h0m.6.5h0m.3 1.2h0m.5-1h0m.8-1.1h0m.4.7h0m.3.6h0m.4-.1h0m0-.9h0m4 1.6h0m-26.7 1.4h0m.2-.2h0m1.1 2.2h0m.2-.4h0m1 .5h0m.7-2h0m1.1-.1h0m.4.9h0m.5-1.1h0m2-.3h0m.3 0h0m.9.1h0m.1.7h0m0-.6h0m.6-.2h0m.2 2.5h0m.7-2.3h0m.1.7h0m0-.3h0m.2-.2h0m.3-.3h0m.8 1.3h0m0-.6h0m.2 1.7h0m.1-.5h0m.4-1.9h0m.4.9h0m.3.4h0m.4-.1h0m0-.1h0m.5-.8h0m.1 1.1h0m.2-.6h0m.1 0h0m0-.3h0m.3-.5h0m.7 2.1h0m.1.1h0m0-2.3h0m.4 2.6h0m.4-1.2h0m.1.7h0m.1.2h0m.2-.5h0m.3.7h0m.5-1.9h0m.1-.6h0m1.8 0h0m1.1.6h0m-16.5 4.8h0m1.1-2.4h0m1.8.9h0m.3.7h0m.5-.9h0m2.2.8h0m.3-1.3h0m.1 0h0m1.4.3h0m.8.2h0m.8-.7h0m.8 1.5h0m.1-.5h0m.8-.2h0m.3.6h0m.5.3h0m.1.9h0m1-.1h0m.3-.8h0m2.8-.5h0m2.4 1h0m-16 2.3h0m1.2 1.4h0m0-2.9h0m.3 1h0m2.5.7h0m2.8-.7h0m1 0h0m1.1-1h0m3.3 1.5h0m.2 1.8h0" stroke="#3a0c40" stroke-width="1" stroke-linecap="square" stroke-opacity="0.92"/>
<path d="M349.5 594.2h0m1.4.9h0m2.5 3.8h0m.1.8h0m2.1-.5h0m.2-1.4h0m.7 1.8h0m1.3-2.1h0m.8.1h0m.2-.1h0m1.1.5h0m-11.3 2h0m.5.2h0m1 2h0m.2-1.6h0m.6 1.6h0m.8.2h0m1.1 0h0m.6.1h0m.2-1.4h0m.5 1.4h0m.1.4h0m.4-.9h0m2 .7h0m.3 0h0m1-1.7h0m.1 1h0m.2-1.5h0m0 .2h0m.4 1.9h0m.4-.2h0m.1-2.4h0m.1 1.4h0m1.8.4h0m1.1-1.6h0m3.1.1h0m-20.4 3.7h0m4.4 1h0m.3-.2h0m.5.9h0m.4-1.2h0m.3.5h0m.8-1.3h0m.1 1.7h0m0 .4h0m1.4-1.2h0m0 .2h0m.4-.9h0m0 .7h0m.2.2h0m0 .5h0m.6-.8h0m.4-.7h0m0 .7h0m.4-1.2h0m.3 1.3h0m.4.6h0m.2-.8h0m0 .1h0m.2-1.5h0m.2.9h0m0 .5h0m1.2 1.4h0m.3-.2h0m.8-1.5h0m.5-.6h0m3.6.2h0m.5 1.5h0m2.4-1h0m-17.3 4.4h0m1.4-.3h0m.1-.5h0m.1 1h0m.2-1.3h0m.2 1.3h0m0-2.1h0m.1 1.2h0m.1.6h0m.3-.6h0m.9.9h0m.1 0h0m.3-.8h0m.2-.4h0m.1 1h0m0-1.4h0m0 .3h0m.1-1.4h0m0 1.1h0m0 1.2h0m.1-.4h0m.9-.3h0m.3-1.7h0m0 .4h0m.5.2h0m.2-.2h0m.2 2.2h0m.2-2.6h0m0 2.3h0m0-.9h0m.5 0h0m.3 1.2h0m.2-1.7h0m0 1.4h0m0-.2h0m.1.4h0m0-1.3h0m.1 1.7h0m.3-1.5h0m.3-1.1h0m.2 2.3h0m.2-1.9h0m0 1.5h0m.1-.5h0m.4-1.6h0m0 2.6h0m0 0h0m.4.1h0m0-.3h0m0-.2h0m.3-.5h0m.1 0h0m.6-1.1h0m.1-.2h0m0 .3h0m.4-.6h0m0 2.4h0m.2-2.2h0m.4 1.9h0m.2-1.1h0m0-.1h0m.6 1.4h0m1.9-.6h0m.3-.2h0m.3-.5h0m0 .7h0m-17.2 2.7h0m.9-.9h0m2 .3h0m.6 1.8h0m1.1-.8h0m0-1.5h0m.8 1.9h0m.3.5h0m.2-2.4h0m.1.6h0m.1.1h0m.2 1.7h0m0-.1h0m0-1.9h0m.1.7h0m.1-.1h0m.2-.5h0m.1 1.4h0m0-.2h0m0-.6h0m.6 1h0m.1-.5h0m.2-.5h0m.5-.2h0m.1-.8h0m.2 2.1h0m.2-.5h0m0-.4h0m.3-1.6h0m.1 2.7h0m.3 0h0m.1-.6h0m.1-1h0m0-.1h0m0-.7h0m.2 2.4h0m0-2.2h0m.1.8h0m.2 1.3h0m0-2.8h0m.4 1.8h0m.5.9h0m0-.7h0m.9-.8h0m.1 1.7h0m0-1.5h0m.4.6h0m.2.9h0m0-2.1h0m.4 1.6h0m.2-2.3h0m.3 1.5h0m.4-.7h0m.2 1.3h0m.1-.1h0m0-1.7h0m.1 1.3h0m0-.6h0m0-.1h0m.3 1.5h0m.2.2h0m1.2-2.6h0m.1-.1h0m.1.7h0m1.2.1h0m-16.1 5h0m.6-.2h0m.4 0h0m.3-2.6h0m.6.6h0m.2 1.8h0m.2-2.2h0m.7.1h0m.3 1h0m.6 1.4h0m.3-.7h0m.1-1.8h0m.4.5h0m.1-.2h0m.3.9h0m.1-.7h0m.4.7h0m.1.8h0m.2-1.5h0m.1-.6h0m.1.9h0m0-.3h0m.1 1.7h0m.2-2h0m.2 2.3h0m.1-1.8h0m.2 1.7h0m.7-.7h0m.3-1.4h0m.2 2.4h0m.3-2.5h0m.3 1.5h0m.1.5h0m.1-.3h0m.4-.8h0m1.3-.3h0m.2-.8h0m.8-.1h0m.2.6h0m.4 1.2h0m.5-1.9h0m.1.2h0m.2 1.2h0m.2-.5h0m.9 1.5h0m.5.4h0m1.1-2.4h0m-15.7 4.5h0m.3.8h0m.4.2h0m.5-2.8h0m.6 1.4h0m.6 1h0m.2-.2h0m1.7-2h0m.3.1h0m.3 0h0m1.8 2h0m.6 0h0m.4-1.5h0m.1 1.9h0m.1-2h0m.3 2h0m0-.6h0m.8 0h0m.3-.4h0m.1 1h0m.1-2.6h0m.4 1.6h0m0-.4h0m.4-.1h0m.2-1.2h0m.2.5h0m.2.2h0m.4 1.4h0m.1-1.7h0m.6.1h0m1.5 0h0m.3-.1h0m.9.7h0m1.2-.9h0m4-.3h0m-21.6 4.6h0m3.3-1.1h0m.6 2h0m4.4-1.9h0m.5.9h0m.3-1.1h0m.1 1.1h0m2.4-1.3h0m.3-.1h0m4.5.9h0m-7.4 2.9h0m2.1.6h0" stroke="#6a1848" stroke-width="1" stroke-linecap="square" stroke-opacity="0.92"/>
<path d="M352.8 593.1h0m-3.9 5.9h0m2.9.6h0m2.1 0h0m.9-.7h0m3.7-.5h0m-7.8 3.3h0m.1.2h0m2 .5h0m.6-1.5h0m.2.7h0m1.3.7h0m.4-2.3h0m.8 1.6h0m.4.6h0m0 .5h0m3.7-1.3h0m-10.8 3.3h0m.7-.3h0m1.2 1h0m.7-1.3h0m.2.6h0m2 .7h0m.6-.9h0m.3 1.1h0m.3-1.8h0m0 .1h0m.4-.6h0m0 .5h0m.3.9h0m0 .5h0m.2-.9h0m.6 1h0m1-2h0m0 1.9h0m.2-.4h0m.1-1.6h0m0 2.2h0m.5.1h0m.7-.1h0m.2-2.3h0m.9 1.6h0m1.3.4h0m1.3.6h0m-18.4 2.5h0m5.3-1.3h0m0 .5h0m.3 1.2h0m.3-2.2h0m1.5 1.7h0m.5.4h0m.1-.7h0m.1-1.8h0m.1 1.6h0m.4 1.2h0m0-1.9h0m.1 1.4h0m.1-1.3h0m.3-.5h0m.2.3h0m.1 0h0m.3.6h0m.2-.7h0m0 1.9h0m.1-1.3h0m.1 1.4h0m.2-1.4h0m.1-.4h0m.5.2h0m.4-.2h0m.3 1.5h0m.2-1.7h0m0 1.9h0m.1-.1h0m.2-2.5h0m.7 1.7h0m.6-.6h0m.1 1.8h0m.2-1.9h0m2-.1h0m.9-.2h0m1-.1h0m3.1-.2h0m-15.3 3.3h0m.3.2h0m.1-.4h0m.2 2.4h0m.6-.2h0m.1-1h0m.6.4h0m.3-.9h0m0-.2h0m.2 1.5h0m0-.7h0m0-1.1h0m.3.9h0m.3.6h0m0-.7h0m.5 0h0m.4.9h0m0-1.3h0m.1.4h0m.1.4h0m.7.2h0m.5-1.3h0m.2 1.9h0m.1.2h0m.1-2h0m.2-.9h0m.4 2.8h0m.2-1.9h0m.1.8h0m.5.2h0m.1-.3h0m.5-.8h0m.1 2h0m.2-2.8h0m.1 1.1h0m.9.9h0m1-1.2h0m.6.3h0m.2-.6h0m.1-.2h0m1.1 1.5h0m2.7-.7h0m-13.7 2.9h0m.6 0h0m.6-.7h0m1.7 1.2h0m.2 0h0m.1 0h0m.1-1h0m.6 1.7h0m.1-1.2h0m.4.4h0m.2-.2h0m.1-.9h0m1.4 1.1h0m.1-.1h0m.3 1.2h0m.6-2.3h0m.4 1.9h0m0-1.6h0m.1-.2h0m1.4.7h0m-11.4 3.6h0m2.2.2h0m2.4-.4h0m.6-1h0m1.8 0h0m1.6-.2h0m.1.5h0m.5 1.2h0m1.7-1.7h0m.1.5h0m1.3.8h0m-4.9 2h0m1.1-.1h0m.5 1.1h0m-5.9 3.3h0" stroke="#9a2450" stroke-width="1" stroke-linecap="square" stroke-opacity="0.92"/>
<path d="M358 599.5h0m-2 2.3h0m.6 1.1h0m.6-.8h0m1.1-1.1h0m0 .9h0m-6.6 3.2h0m.7-1.1h0m.5.8h0m.1-.9h0m2.3.2h0m1.6 1.4h0m.8-2.1h0m.9-.1h0m0 1.4h0m.9-.2h0m-7.9 1.8h0m2.9 1.5h0m.2.1h0m.3.9h0m.5-.2h0m0-.4h0m.2-.7h0m1.4-.1h0m.6 0h0m.1.5h0m4.6-.8h0m-10.5 4.8h0m.3-1.9h0m.6 1.9h0m.5-1h0m.2-.6h0m.8.2h0m.1-.2h0m.2.9h0m1.1-1.4h0m4.1-.5h0m.7-.2h0m-7.1 5.4h0m.7-2.4h0m1.8.8h0m4.6-.9h0m-9 3.5h0m7.4-.4h0m-8.3 5.7h0" stroke="#c23a52" stroke-width="1" stroke-linecap="square" stroke-opacity="0.92"/>
<path d="M358.2 603.5h0m-3.8 3.6h0m.9.5h0m4.2 1.7h0" stroke="#e06058" stroke-width="1" stroke-linecap="square" stroke-opacity="0.92"/>
<path d="M351 598.1h0m3.3.6h0m-14.8 3.8h0m7.7-.5h0m3.3-.2h0m1.1-1.4h0m10.9.1h0m0 1.7h0m1.3-1.3h0m-22.5 7.2h0m4.2-2h0m1.7 2h0m.2-.1h0m.2-2h0m1.3.3h0m-1.4 6.9h0m.1.6h0m1.2-.5h0m.9 1h0m.3-.1h0m.2-1.2h0m11.8 1.4h0m2.2-1h0m.1.6h0m-17.4 3.1h0m.4-1.7h0m.8-.4h0m2.8 1.5h0m.7-.4h0m1.2 1h0m.6-.3h0m0-.1h0m3.3.9h0m3.1-.4h0m4.1-.4h0m-17.1 3.1h0m1.6 1h0m1.3-.4h0m3.2-.6h0m.2.5h0m1.5-.5h0m1.1-1.9h0m1.6 1.3h0m-4.7 2.8h0m6 .2h0m.4 1h0" stroke="#f6b49a" stroke-width="1" stroke-linecap="square" stroke-opacity="0.92"/>
</g>
<line x1="336.6" y1="598.5" x2="337.8" y2="598.5" stroke="#444" stroke-width="0.4" />
<text x="335.6" y="600.3" font-size="5.2" fill="#333" stroke="#333" stroke-width="0.16" text-anchor="end">0</text>
<line x1="336.6" y1="612.95" x2="337.8" y2="612.95" stroke="#444" stroke-width="0.4" />
<text x="335.6" y="614.75" font-size="5.2" fill="#333" stroke="#333" stroke-width="0.16" text-anchor="end">−0.05</text>
<line x1="336.6" y1="627.4" x2="337.8" y2="627.4" stroke="#444" stroke-width="0.4" />
<text x="335.6" y="629.2" font-size="5.2" fill="#333" stroke="#333" stroke-width="0.16" text-anchor="end">−0.10</text>
<line x1="342.1" y1="636.9" x2="342.1" y2="638.1" stroke="#444" stroke-width="0.4" />
<text x="342.1" y="643.9" font-size="5.2" fill="#333" stroke="#333" stroke-width="0.16" text-anchor="middle">−0.2</text>
<line x1="357.9" y1="636.9" x2="357.9" y2="638.1" stroke="#444" stroke-width="0.4" />
<text x="357.9" y="643.9" font-size="5.2" fill="#333" stroke="#333" stroke-width="0.16" text-anchor="middle">0</text>
<line x1="373.7" y1="636.9" x2="373.7" y2="638.1" stroke="#444" stroke-width="0.4" />
<text x="373.7" y="643.9" font-size="5.2" fill="#333" stroke="#333" stroke-width="0.16" text-anchor="middle">0.2</text>
<text x="360.4" y="651.7" font-size="6.2" fill="#333" stroke="#333" stroke-width="0.16" text-anchor="middle"><tspan>T</tspan><tspan dy="1.55" font-size="3.84">CM</tspan><tspan dy="-1.55"> score</tspan></text>
<text x="315.4" y="613.8" font-size="6.2" fill="#333" stroke="#333" stroke-width="0.16" text-anchor="middle" transform="rotate(-90 315.4 613.8)"><tspan>T</tspan><tspan dy="1.55" font-size="3.84">SM</tspan><tspan dy="-1.55"> score</tspan></text>
<rect x="388" y="601" width="3" height="22.6" fill="url(#mag)" />
<text x="386.4" y="596.4" font-size="5.4" fill="#333" stroke="#333" stroke-width="0.16">Density</text>
<text x="392.6" y="603.6" font-size="4.8" fill="#333" stroke="#333" stroke-width="0.16">2</text>
<text x="392.6" y="614.1" font-size="4.8" fill="#333" stroke="#333" stroke-width="0.16">1</text>
<text x="392.6" y="624.6" font-size="4.8" fill="#333" stroke="#333" stroke-width="0.16">0</text>
<text x="461.4" y="589.2" font-size="6.8" stroke="#222" stroke-width="0.16" text-anchor="middle" font-style="italic">Bhlhe40</text>
<rect x="438.8" y="592.2" width="45.2" height="44.7" fill="#fff" stroke="#999" stroke-width="0.6" />
<g clip-path="url(#mc4)">
<ellipse cx="462.06" cy="624.22" rx="19" ry="6" fill="#120822" filter="url(#blur3)"/>
<path d="M446.9 616.6h0m10 .7h0m.7-.5h0m.9-.1h0m0-.7h0m.6 1.8h0m.2-2.1h0m1.1.9h0m.8-.8h0m.6 1.2h0m.1.8h0m.3-1.3h0m.3 1.2h0m2.9-1h0m2.2.8h0m.2.4h0m3-2.1h0m3.7 1h0m-33.2 1.2h0m5.1 2.7h0m.2-1.7h0m1.8.6h0m1.5-.2h0m1.5-.9h0m.1.8h0m.3 1.4h0m.9-1.9h0m.4-.8h0m.3 2.7h0m.5-1.2h0m.5.8h0m.1.4h0m.5-1.1h0m.5 1.1h0m.1-.4h0m0-.9h0m.5 1.5h0m.3-.1h0m.4-1.5h0m.2 1.2h0m0-.4h0m0-1.1h0m.1 1h0m.8-1.8h0m.1.3h0m.7 1.7h0m.3 0h0m0-1.3h0m.5 1.4h0m0-.5h0m0-1.5h0m.2 1.4h0m.1 1.2h0m.2-1h0m1.7.5h0m.3.1h0m.5-1.3h0m.4 1.6h0m.4-1h0m0-1.2h0m.2 1.3h0m.4-1h0m.1 1.1h0m.1.8h0m.3-2.7h0m.6 2.8h0m.1-2.1h0m.4 1.8h0m.4.2h0m.2-1.1h0m.2-.6h0m.6.2h0m.2 1.4h0m.1-1.3h0m.1 1.4h0m.2-2.5h0m.4 1.7h0m.5.2h0m.5-1.3h0m.1.9h0m.3.3h0m.4-.4h0m.2-1.7h0m.1 1.7h0m.2 1.1h0m.3-.9h0m0-.9h0m.3-.1h0m.2 1.4h0m.1-.4h0m.1-1.4h0m1.4 2.3h0m.3-.8h0m0-.3h0m.1 1.1h0m.5-2.6h0m.4 2.4h0m.1.3h0m.3-.9h0m.6.5h0m.6-.6h0m2.9.5h0m5.1-.2h0m-40.8 3.4h0m.8-1.8h0m.2.2h0m1.5 1.7h0m1.6-.4h0m.6.6h0m.1-.4h0m1.8-1.2h0m1.6 1.4h0m.3-1.7h0m.8 1.1h0m.2.8h0m.2-.7h0m.7-1.9h0m.3 2.3h0m.1-.8h0m.1 1.1h0m.7-.2h0m.2-1.4h0m.6.5h0m0 .7h0m.2.4h0m.5-.5h0m.2-2.2h0m.1 1.4h0m0 .5h0m.1.2h0m.1-.6h0m.3-.8h0m.2 1.6h0m0-.8h0m.1 1.1h0m.3-2.3h0m.1-.4h0m.1 2h0m.1.8h0m.3-2.3h0m0 1.9h0m0-1h0m0-.6h0m.1.5h0m.1.6h0m.6.6h0m.2-2.3h0m.2 1.9h0m.2.2h0m.1-2h0m0 2.3h0m.1-.2h0m0-2.1h0m.1 1h0m.2.3h0m0-1.2h0m.1 1h0m0 1.3h0m.1-.3h0m.1-.4h0m0-1.6h0m.1.1h0m.1 2.1h0m.1-1.3h0m0 1h0m.1.1h0m.1-.4h0m.5-1.6h0m0 1.8h0m0-.8h0m.2.6h0m.1-1.4h0m.1.4h0m0 .9h0m0-1.2h0m0 2.1h0m.1-.8h0m.1-.3h0m.2-.3h0m.2-.7h0m.1.4h0m0 0h0m.1.8h0m0 .6h0m0-2.4h0m.3 2.5h0m.1.2h0m.2-.5h0m0-.7h0m.1-.9h0m.1.7h0m0-.4h0m.1-.7h0m0 .5h0m.1.6h0m0-.2h0m.1-.9h0m0-.2h0m0 2.3h0m0-1.1h0m.2.2h0m0-1.3h0m.1.1h0m0 1.3h0m.1-1.4h0m.3-.1h0m.1.5h0m.1 1.8h0m.2-1.1h0m0 1.5h0m.3-.8h0m0 .8h0m.1-1.1h0m.2-1.7h0m.3.4h0m0 .5h0m.1 1.2h0m0-.6h0m.1-.9h0m.2 1.6h0m0-.9h0m.2-.4h0m0-.1h0m.2-.6h0m.1.3h0m0 1.5h0m.2-.5h0m.1-.2h0m0-.5h0m.1.9h0m.1-1.1h0m.1.5h0m0-.6h0m.6-.1h0m0 1.5h0m.1-1.3h0m.1.3h0m.4 0h0m.1 1h0m0-1.1h0m.1 0h0m.5.3h0m.4.2h0m.1 1.1h0m.3-1.2h0m.1.5h0m.1 1h0m.1-.1h0m.5-1.6h0m.5-.6h0m.3 1.7h0m.5.6h0m0-1.6h0m0-.9h0m.6 1.8h0m.3-.4h0m.1-.6h0m.1 1.6h0m.1-.9h0m.1.3h0m.4-.6h0m.1-1h0m.2.8h0m1 1h0m.4-1h0m.7 1.4h0m1.3-1.1h0m.8-1.4h0m.1 2h0m.4-1h0m.5-.1h0m1.5 1h0m-42.9 2.4h0m8.3 0h0m.3 0h0m.5 1.2h0m.3-2.7h0m.7 1.6h0m1.3-.6h0m.1 1.2h0m1.6.3h0m.1-.3h0m.2-.7h0m0 .6h0m.3-.3h0m0-.1h0m0 .2h0m.3.8h0m.1-1h0m0-.8h0m.6.9h0m.4-.1h0m.2.6h0m.2-1.4h0m.1 1.1h0m.1-1.5h0m0 1.7h0m.2-1.2h0m.2-.3h0m.6 2h0m.1-1.1h0m.1-1.4h0m.1 2.5h0m.1-1.7h0m.5 1.6h0m0 .2h0m0-.9h0m.1 0h0m.2.9h0m.2-1.7h0m0-.5h0m0 0h0m.1 1.3h0m.1-.6h0m.3 0h0m.1-1h0m0 .7h0m0 1.6h0m.1 0h0m0-1.7h0m.1.6h0m0-1.2h0m.2-.1h0m0 2.5h0m.1-2.5h0m0 .4h0m.4 1.6h0m0 0h0m.3-1.8h0m0 .2h0m.1 2.2h0m.1-1.6h0m.1 1.5h0m.1-1.4h0m0-.7h0m.1 1.3h0m.2-.2h0m.1.2h0m.2-1.9h0m0 1.7h0m.1.2h0m.1-1.1h0m.1-.6h0m.3.7h0m0 0h0m.2 1.7h0m0-2.4h0m0 .6h0m.1-.2h0m0 2.2h0m.2-1.2h0m0-.5h0m0 1.3h0m.2-2.3h0m.1.1h0m0 .1h0m.2 1h0m0 .6h0m0-.5h0m.3.1h0m.1-1.5h0m0 2h0m0 .3h0m.2-1.4h0m0 .7h0m0-.1h0m.4-1h0m0 .4h0m.3-.5h0m0 .6h0m.3-.1h0m.1 1.4h0m0-.4h0m0-.6h0m.3-1.3h0m0 1.3h0m.1-.6h0m0 .2h0m0-.9h0m.5 2.7h0m.1-2.2h0m.1.5h0m0 .1h0m.1.5h0m.2.1h0m0 .9h0m.1-1.7h0m.1-.9h0m0 .3h0m.1 2.2h0m0-1.1h0m.1-1.2h0m0 1.9h0m.1-.9h0m.1.2h0m.3 1.1h0m0-1.4h0m.1.5h0m.1-.9h0m.1 1.8h0m.1-1.6h0m.2 1.5h0m.1-1.6h0m.5 1.1h0m0 .9h0m.2-1h0m0-1.6h0m0 1.5h0m.1-1.6h0m0 .9h0m.2 1.5h0m0-2.5h0m0 1.5h0m0 0h0m.1 1.3h0m.1-2.1h0m.1 1.9h0m0-1h0m.4.4h0m0-2h0m.2.5h0m0 1.8h0m.1-.2h0m.2-1.9h0m0 1.3h0m0 .9h0m0-2.4h0m0 1.5h0m.1-.7h0m.3 2.1h0m0-1.9h0m.1-.3h0m.1 1.2h0m0-.6h0m.1.7h0m0-.9h0m0 1.1h0m.2.6h0m.1-2.8h0m0 .4h0m0-.4h0m0 .2h0m.1 1.7h0m0-1.5h0m.1 1.3h0m.4-.6h0m0-.8h0m.5 1.2h0m0 .5h0m.1.8h0m.4-2h0m.1.7h0m.4.3h0m.2-.2h0m.1-.1h0m.2.8h0m.1.3h0m0-1h0m.2 1.1h0m0-1.5h0m.1-.8h0m.1.3h0m0 0h0m0 .1h0m.3-.3h0m.1 1h0m.1.6h0m0 .4h0m.3-1.9h0m.5 2.1h0m0-2.4h0m.1.2h0m.2.5h0m.1 1.6h0m.3-1h0m.2-1.5h0m.2 2.2h0m.2-1h0m.1 0h0m.4.4h0m.4-1.4h0m.2 1.1h0m1.1.7h0m.3-.1h0m1.4-1.1h0m0-.5h0m1.2 1.3h0m1 .4h0m.1.4h0m1.5-1.8h0m.1 1.3h0m-39 2.5h0m4-.5h0m.8-.2h0m2.1 0h0m.1.8h0m.5-1.3h0m.2.9h0m.4-1h0m1.2 1.5h0m0 0h0m.4-1.4h0m.3 1.2h0m.6-1.2h0m.9-.3h0m1.2.3h0m.4 1.2h0m.2.9h0m.5-1.5h0m.2 1.5h0m.1-1.6h0m.2.9h0m.1-.7h0m.2 1.3h0m.2-.2h0m.7-.3h0m.1-1h0m.2-.4h0m.6.6h0m.1.3h0m.1-.2h0m0-.2h0m.1.5h0m.2.6h0m.2-2h0m.2 1.1h0m.7.6h0m0-1.3h0m.3 1.7h0m.1-1.5h0m.2-.3h0m.4 1.3h0m0-1.1h0m.4-.1h0m0 .3h0m0 .4h0m.1.3h0m.1 1.3h0m.1-2.5h0m.1.5h0m0 .1h0m.1.5h0m.1.6h0m0-.3h0m.7-.2h0m0 1h0m0-1.2h0m0 1.4h0m.3-1.8h0m0 1.4h0m.1-1.9h0m.2.4h0m.1.6h0m0 1.4h0m.1-2.6h0m.1.6h0m0-.1h0m.4 1.4h0m.3-.4h0m.2-1.2h0m0 1.9h0m0 .3h0m.1-2.3h0m.6.5h0m.2-.3h0m.3-.1h0m.5 2.3h0m0-1.5h0m.4-1.1h0m0 2.8h0m.1-2.5h0m.3.2h0m.7.7h0m.1-.6h0m0 1.6h0m.2-2.1h0m.2.5h0m.3-.6h0m.3 2.3h0m.5-1h0m0-.2h0m.6 0h0m0 1.3h0m.2-1.9h0m.1 2.1h0m.4-.9h0m.3-.5h0m.8 1.2h0m.1-2.1h0m.3-.1h0m.1 2.6h0m1.1-2.4h0m1.4 1.6h0m.4.3h0m.2-.5h0m2-1.4h0m2.1.4h0m.7.2h0m-30.4 2h0m1.6 2h0m3-.9h0m.7-.9h0m1.4 1.7h0m.1-.3h0m.1-1.4h0m.1 1.4h0m.6.2h0m.7-1.7h0m.1.4h0m.4.2h0m.4 1.8h0m2.1-2.6h0m0 .1h0m.7.6h0m.9.5h0m.7-1.1h0m.3 2.8h0m.4-2.4h0m.2.8h0m.7.2h0m0-1.3h0m.6 1.2h0m.3-.6h0m.4 0h0m.7.2h0m0-.6h0m0 .5h0m.6-.6h0m.6.1h0m1.9 0h0m7.7.9h0m-26.2 2.1h0m3.2.2h0m8.6-.3h0m2.8.6h0" stroke="#0a0414" stroke-width="1" stroke-linecap="square" stroke-opacity="0.95"/>
<path d="M450.5 614.5h0m7.2 3h0m2.3-.6h0m0-.7h0m.6.1h0m2.1 1.1h0m.5-.9h0m.8.9h0m-19.3.8h0m1.4 2.4h0m3.2-2.1h0m4.2.1h0m0-.2h0m.5 1h0m.3 0h0m.1.5h0m.6-.6h0m.6 0h0m1.1.5h0m.2.4h0m.3.4h0m1.1-2.3h0m.4 2h0m.6.4h0m.3-.5h0m.6.2h0m.3-1h0m1.7.5h0m.6-1.4h0m.2 2.4h0m0-2.4h0m.5 2.4h0m.2-1h0m.2.1h0m0-.5h0m.7-.8h0m1 .7h0m.2-.1h0m.5-.4h0m0 1.4h0m.1-.7h0m.2 1.1h0m.3 0h0m.3-1.4h0m0-.6h0m0 1.9h0m.4-.1h0m0-1.4h0m.3.2h0m3.3-.4h0m2.4.6h0m.2.8h0m.4-.5h0m3.4 1.1h0m-32 2.3h0m.5-.5h0m3.9 1h0m.4-1.8h0m.4.9h0m.7-.1h0m1.1 1.1h0m1-2.2h0m.3.2h0m0 .9h0m.2-.1h0m0 1h0m0-1.1h0m0-.8h0m.3.3h0m.2-.5h0m0 1.6h0m.2-.1h0m.2-.3h0m.1-.1h0m.3.8h0m.6.5h0m.1-1.7h0m.4.7h0m.3 0h0m0 .8h0m.1-2.2h0m0 2.3h0m0-.5h0m.2-2h0m.6 1.3h0m0 .2h0m.1-1.1h0m.1.4h0m.5 1h0m.2-.1h0m.1-.2h0m.1.1h0m.3-.7h0m.1.6h0m.1.1h0m.2.5h0m.5-1.8h0m.1.3h0m.2.2h0m.3.7h0m.2 0h0m.1-.9h0m0 1.2h0m.1-1.7h0m.2.5h0m.2 1.7h0m0-.3h0m.1-.1h0m.1-.9h0m0 .9h0m.1-1.8h0m.1 1.8h0m.1.6h0m.1-1.1h0m0 .1h0m.2-.2h0m.2.9h0m0-1.8h0m.1.3h0m0 .6h0m.3-.1h0m.1-1.4h0m0 2.1h0m.1-1.6h0m.2-.2h0m.2 1.1h0m.2.5h0m.3-1.8h0m.1.1h0m0 1.8h0m0-1.1h0m.2-.4h0m.4 1.5h0m0 .5h0m.6-1.5h0m.1-1.1h0m.2.7h0m.1-.3h0m.1-.4h0m.1.6h0m.1 1.5h0m0-.7h0m.1 0h0m.2 1h0m.1-.5h0m.6.3h0m.1.1h0m.4-.8h0m.4.8h0m.1-2.1h0m.1 1.6h0m.2.9h0m.3-2.7h0m.2.2h0m0 2.6h0m.1-2.2h0m.2.9h0m.9 1.1h0m.3-2.4h0m.4 1h0m.4-.1h0m.1.5h0m.1-.8h0m.1 1.7h0m.8.2h0m.3-.4h0m.1-.8h0m.3.2h0m.5-1.3h0m.5 2.3h0m.6-.4h0m.4-.5h0m.4-1.1h0m.8 1.3h0m2.6.7h0m-33.6.6h0m1.4.9h0m1.8 0h0m1.7-.3h0m.8.7h0m.2-1h0m.3-.4h0m.5 2h0m.1.2h0m.5-1.4h0m.1.3h0m.3-.2h0m.7.8h0m0-.4h0m.1-1.4h0m.2 2.6h0m.3-2.6h0m0 1.3h0m.1-.4h0m.1.1h0m.4-.9h0m0 .7h0m.6 1.7h0m.2-2.4h0m.1.6h0m0 .4h0m0 1.7h0m.1-2.6h0m.1 1.4h0m.1-.7h0m.4-.1h0m.2-.8h0m0 1.5h0m.2.9h0m.3-1.2h0m.1-.2h0m0-.4h0m.2 1.2h0m.1-1.8h0m.2 1.3h0m0 1.5h0m.3-2.5h0m.1.7h0m.3 1.3h0m0-.6h0m.7-1.3h0m.2-.1h0m.2 1.4h0m.1-1.6h0m.3.1h0m0 1.6h0m.4-1.5h0m.2 2.5h0m.1-2.2h0m0-.3h0m.2 2.5h0m.2-2.7h0m.2 1h0m0-1.2h0m.1.1h0m0 1.8h0m.7-1.5h0m.1 2.5h0m.1-.7h0m.2-.5h0m.1-1.2h0m0 .9h0m.1-.1h0m.1 1.4h0m0-1.4h0m0 .5h0m.1-.7h0m0-1.1h0m0 2h0m.2-.1h0m.2.6h0m0-2.3h0m.1.7h0m.3 1.7h0m.1-1.2h0m.1-1.2h0m.3 2.6h0m.3-2.8h0m.2 0h0m.1 2.5h0m.1-1.3h0m.1 1.7h0m0-.6h0m.2.3h0m.1-2.1h0m0 .2h0m0 .8h0m.1 1.4h0m0-1h0m.2-1.8h0m0 .1h0m0 .4h0m.3 1.3h0m.2.5h0m.1.5h0m.5-2.7h0m0 2.7h0m0-.2h0m.2-.5h0m.1-1.3h0m0-.8h0m.3 1h0m0 1.4h0m.3-1.2h0m0-.3h0m.3-.9h0m.2.9h0m.1 1.4h0m.6-1h0m.1-.9h0m.1.8h0m0-1.1h0m.3 1.2h0m.1-1.1h0m.1.7h0m.4-1h0m0 1h0m0 .4h0m.3-.2h0m.2-1.1h0m.6 2.7h0m.7-1h0m0 .7h0m.3-.6h0m.1-1.2h0m.2-.3h0m.1 1.9h0m.3.5h0m.7-2.8h0m1.5 2.1h0m.5-1.3h0m.3-.6h0m1.8 1.7h0m-30.3 1.6h0m2.7.5h0m.6 0h0m.1-1h0m0 .6h0m.7.5h0m.8 0h0m.1-.6h0m.3.3h0m.1 1.1h0m1.6-1.3h0m.5-.3h0m.3-.1h0m.4 2.7h0m.1-2.5h0m.4.2h0m.7 2h0m.1-2h0m.5 1.6h0m.6-2.1h0m.5 1.2h0m.1-.1h0m.6-.1h0m0 .8h0m.3.5h0m.9-1.5h0m.1 1.7h0m.4-1.9h0m.3.9h0m.2.5h0m.3-1.6h0m0 1.7h0m.1-2.2h0m.3.2h0m0 1.9h0m.6.4h0m.1-.7h0m.1-.4h0m.2-1.3h0m.2.8h0m.1-.9h0m.3 1.6h0m.3-1.3h0m.1.9h0m0-1h0m.2-.1h0m.3 1.6h0m1 0h0m.9-.7h0m.2 1.4h0m.2-2.4h0m0 2.2h0m.1-1.7h0m0 1h0m.3-.5h0m.2-.3h0m.1.6h0m.3.6h0m.4-1h0m.3.7h0m0 .8h0m.8-.3h0m.9.5h0m.3-2.6h0m0 .8h0m.1-.4h0m0 1.6h0m.2-2h0m.9 1h0m.3.3h0m.3-.9h0m.5-.2h0m.5.9h0m.2-.4h0m.9.8h0m.4-1.4h0m1.2.3h0m-28.5 2.7h0m1.1-.1h0m2.2 1.1h0m2-.1h0m.4.6h0m2.5.9h0m.6-2.4h0m.7 0h0m.5.3h0m1.6.1h0m9.1 1.6h0m1.5 0h0m0-.5h0m.4-1.3h0m4.3 1h0m-16.8 3.6h0m1.9-1.7h0m3.1-.2h0m4.4 1.7h0m-4.7 2.7h0" stroke="#2a0c40" stroke-width="1" stroke-linecap="square" stroke-opacity="0.92"/>
<path d="M446.5 617.7h0m6.5.2h0m7.5-1h0m4.6.8h0m.3-1.5h0m1.4 1.5h0m2.8-1.1h0m2.9-.5h0m-22.1 3.5h0m1 .9h0m.2-.9h0m5.6 1h0m1.1 0h0m.3-1.3h0m.5.8h0m.6-1h0m.7-1.1h0m.9 2.5h0m2.3.4h0m0-1.7h0m2.1 1.5h0m2.1-2.6h0m.8 1.5h0m2.4 1.1h0m5.5-1h0m-24.4 1.8h0m1.2 1.8h0m.6-1.8h0m1.3 1.3h0m.3.6h0m.7-1.7h0m1 1.9h0m0-.3h0m1.9.1h0m.4-2.1h0m.2 2.3h0m.9-1.4h0m.6-.5h0m1.1 1.2h0m.3.6h0m.1-.2h0m.8-1.9h0m0 1.7h0m.1.1h0m.4.2h0m.7-1.2h0m.1 1.5h0m.1-1h0m.6-1.2h0m.3 1.2h0m.6.1h0m.1.5h0m.4.5h0m.1-2.3h0m.5 1.8h0m.1-1.4h0m1.1-.9h0m.2 2.9h0m2.1-1.4h0m1.6.2h0m0-.7h0m2 1.1h0m5.2-2h0m.2 2.5h0m-32.6 1.3h0m5.4 2h0m.8-1.8h0m1.8 1.7h0m.5-2h0m.2-.7h0m.6 2.2h0m.2-.7h0m.9.6h0m.3-2.2h0m0 2.6h0m.9-1.6h0m0-.9h0m.4-.1h0m0 .7h0m.4.8h0m.4.5h0m.1.8h0m.4-1.1h0m.7-.7h0m.2-.9h0m.1 2.8h0m.2-.6h0m.2-.4h0m.2-1.5h0m.9 1.5h0m.1-.5h0m.2.2h0m.1 1h0m.2-1.8h0m.2.3h0m.1-.4h0m.9-.1h0m.4 1.9h0m.2 0h0m.4-1.9h0m.1 1.7h0m.4-1.4h0m.1-.7h0m.3 2h0m.9-.7h0m.2 1.3h0m.1-1.6h0m2.9-1h0m1.1 2.1h0m.2-2.2h0m2.2 1.4h0m.6-1h0m.6 2.3h0m-31.6 1.5h0m6.1 0h0m1.9-.2h0m.3 1.4h0m.5-.4h0m.1-1.6h0m.4.3h0m1.7-.7h0m.2 1.1h0m.5-.5h0m.1.4h0m.5.4h0m1-.9h0m3.5-.1h0m1 1.9h0m1.3-2h0m.7 1.9h0m.6-.9h0m.8-.2h0m.2.4h0m.3-.4h0m.3-1.1h0m.5.9h0m.5.4h0m.3-.8h0m0 0h0m.6 1.9h0m.5-1.7h0m.6 1.4h0m2.6-1.2h0m.4 1h0m.3.3h0m.3-1.2h0m5.3 1h0m1.8.3h0m5.6-2.4h0m-26.2 3.4h0m.1 0h0m3.1.8h0m13.3-.4h0m-12.8 4.2h0m8.9-1.5h0" stroke="#541454" stroke-width="1" stroke-linecap="square" stroke-opacity="0.9"/>
<path d="M443.5 610.8h0m4.7-.7h0m4.1.7h0m-6 2.8h0m1.6 1.1h0m.3-2.2h0m1.5.3h0m.5.7h0m.8-1h0m.1.9h0m.5.3h0m.2.2h0m.1.9h0m1.8-1.8h0m.2 1.1h0m1.7.1h0m-16.5 2.2h0m6.1 1h0m.7-.6h0m.6-1.7h0m0 .2h0m.1 1.1h0m1.2.3h0m.3.2h0m.8.8h0m.2-2.4h0m.2 1.5h0m.6-.8h0m.9.8h0m.3.7h0m.5-1.2h0m2.5-.1h0m.2 1.4h0m.6-1.5h0m.6.9h0m-18.9 3h0m3.3.8h0m4.6-2.6h0m.5 2.6h0m.7 0h0m.3-.4h0m.1.4h0m.2-.6h0m.1.7h0m.4-2.1h0m.1.7h0m.1.3h0m.2-.3h0m.7-.1h0m.5-1.3h0m.3-.1h0m.2.1h0m.2.1h0m.2 1.3h0m.1-.8h0m.3.2h0m.2.9h0m.5.5h0m.1.2h0m.4.2h0m.1-2.4h0m.1-.1h0m0-.1h0m.2 2.2h0m0-.4h0m0 .7h0m.4-1.7h0m.6 1.2h0m.4.4h0m.2.1h0m.8-.8h0m.5.2h0m1.5-.3h0m-12.7 3.4h0m.4-1.3h0m.5-.8h0m.3 1h0m.5-.6h0m.1 2.3h0m.3-1.6h0m.4 1h0m1 0h0m.1-1.1h0m.7.7h0m.3-.7h0m.3-.5h0m.1-.2h0m0 1.7h0m.9.6h0m.1-1.8h0m.2.2h0m1.1.8h0m.2-1.8h0m0 1.3h0m.5 1.4h0m0-.2h0m0-.5h0m1 .3h0m0-.8h0m.1 1h0m.4-2.5h0m.3.3h0m0 1.3h0m.2.6h0m1.3-1.3h0m2.5.3h0m-13.1 3.8h0m.2-2h0m.2 1h0m.5 1.7h0m.1-2.7h0m.2 1.8h0m1.2-.9h0m1.1-.8h0m.3 2.5h0m.4-1.2h0m.1-1.3h0m.5.3h0m.6.3h0m.3.3h0m.6-.5h0m.4 2h0m.1-1.2h0m0-.4h0m.5 1.2h0m.8-.7h0m-7 1.8h0m4.2 1.6h0m.9-.9h0m.5-.7h0m5.2 1.1h0m3.2 1.6h0m-8.2.8h0" stroke="#2a0c40" stroke-width="1" stroke-linecap="square" stroke-opacity="0.9"/>
<path d="M444.8 610.9h0m-2.8 1.4h0m5.1-.3h0m.4.9h0m.7 1.3h0m2.4-.2h0m.4-.7h0m3.2-1h0m-9.3 3.7h0m.7 1.7h0m1.1-1h0m1.1-.8h0m0-.2h0m.7 1.7h0m.1-1.3h0m.4 1.6h0m2.8.2h0m.8-2.1h0m.4 1.6h0m1.4.4h0m.3-.2h0m-10.9 2.8h0m.7-1.7h0m.9 1.7h0m.1.4h0m.3-.4h0m.5.4h0m.3-1.9h0m.2-.9h0m.2 1.5h0m.4-.1h0m.9-.2h0m.5.7h0m1 .4h0m.2-.2h0m.5-1.2h0m0 1.8h0m0-1h0m.4.5h0m.4-1h0m.3-.7h0m.1 1.9h0m.1.1h0m.1-.8h0m.1.6h0m.2-.6h0m-9.6 3.3h0m2.4.7h0m.3-2h0m.4 1h0m1-1.7h0m.3 1.4h0m.8-1h0m.4 1.3h0m0 .2h0m.8-1.7h0m.1 1.9h0m.3-.9h0m1.1.4h0m.2-.6h0m.2-.5h0m.1 1.3h0m1-.6h0m.2-1.2h0m.3.4h0m.1.5h0m1 .7h0m3.4.3h0m5-1.5h0m-19.2 2.9h0m1 1.4h0m4.5.5h0m1.7-.1h0m.1-1.9h0m2 1.2h0m0 1.1h0m1.8-1.8h0m2-.5h0m-7.7 4.1h0m.3.3h0m1.8-1.4h0m2.1 1.9h0m2.6-1.9h0m.6 2h0m1-1h0m-3.2 2.5h0m1.6.1h0" stroke="#5a1450" stroke-width="1" stroke-linecap="square" stroke-opacity="0.9"/>
<ellipse cx="456.14" cy="609.48" rx="9" ry="8.5" fill="#b03a5a" opacity="0.75" filter="url(#blur3)"/>
<path d="M453.7 589.5h0m-3.7 3.2h0m-2.1 1.4h0m1.5 2.4h0m1.6.1h0m.6-.8h0m5.1.1h0m4.4-.6h0m.1-.5h0m1 1.8h0m-15.6 1.7h0m1.7-.8h0m2.7-.2h0m.9.8h0m.5 1.3h0m.6-2.4h0m4.8 1.3h0m.7 1.3h0m2.3-.2h0m1.7-.6h0m-14.8 1.6h0m1.9 1h0m.6.2h0m1.2 1.2h0m2.1-.7h0m.3-.7h0m1.1-.8h0m6.9 1.7h0m.5.1h0m1.3-2.1h0m-15.3 2.7h0m2.6.4h0m0 1.6h0m.4.7h0m1-2h0m1.7-.7h0m.2 1.5h0m0 .7h0m.2.1h0m1.6-.2h0m2.8 0h0m.4-.8h0m2.5.9h0m2.1-.3h0m1.3-.7h0m-21.7 2.2h0m4.9-.2h0m.1 2.6h0m0-1.5h0m.8.7h0m.2-1.1h0m.9 1.2h0m1.1-.6h0m0 .8h0m1.8-1.9h0m2.6 0h0m2.5-.3h0m2.3-.1h0m3.4 2.7h0m3.6-2.5h0m-26.2 4.5h0m3.5.5h0m1.6.5h0m.3-2h0m.1.5h0m.3 0h0m.9-.1h0m.8.7h0m.9 0h0m2-.8h0m.2-.4h0m2.1-.3h0m.6 2.3h0m.3-2.4h0m1.8 2.4h0m1-.4h0m.3.3h0m.3-.1h0m1.3-1.9h0m.8 1.5h0m4 .3h0m-22 2.3h0m2.2-.8h0m.4-.8h0m2.3.4h0m.2 1.2h0m.9-1.3h0m1.3 2.3h0m.2-1.7h0m.3.3h0m.2-.9h0m.3 2.2h0m.7-1.3h0m.2.1h0m.5 1.1h0m.1-2.1h0m.4 2.2h0m.9-.9h0m.2.7h0m.5.2h0m.3-1.7h0m.2.7h0m1 1.1h0m.6-1.7h0m1 .2h0m.1-.6h0m0-.4h0m1.8 2.2h0m1.8-1.3h0m.1.7h0m.2 1.1h0m.9-2.6h0m2.2 1.1h0m4.4.8h0m-27.7 2.1h0m2.2-1.2h0m.1 2.5h0m2.7-1.1h0m.4-.5h0m.9.9h0m.2-.9h0m.3.1h0m1.6 1.9h0m.6-1.6h0m.1.1h0m.2-1h0m.9.4h0m.1-.1h0m.6 1.5h0m.9.7h0m.1-2.7h0m.2 2.7h0m.3-2.3h0m.5.1h0m1.9 1.9h0m.4-.9h0m1.9.7h0m.3-.3h0m0-.7h0m.5 1.5h0m.1-1.9h0m1.4.3h0m1-1.1h0m.6 1.4h0m3.4-1.6h0m1.5 1.5h0m-24.1 4.1h0m4.2-2.5h0m1 2.5h0m6.4-.8h0m.6.4h0m1.3-.3h0m.3 1h0m1.1-1.6h0m0-.1h0m.4-.6h0m.7 1.3h0m.3-.2h0m.7.2h0m.3-.3h0m1.9.8h0m1.2-2.1h0m.6 1h0m7.6 1.5h0m-22.6 1.7h0m0-.5h0m.7-.2h0m.4.9h0m3.9-.5h0m1-.5h0m.3.7h0m.4-.3h0m.4 1.8h0m0-1.4h0m.6-1h0m.9-.2h0m.2 2.3h0m.3-1.8h0m.2.4h0m.4-.2h0m-6.2 2.3h0m4.1 1.4h0m.9-.7h0m0-.6h0m.3 3.2h0m2.1 2h0" stroke="#3a0c40" stroke-width="1" stroke-linecap="square" stroke-opacity="0.92"/>
<path d="M456.8 592.7h0m4.3-.2h0m-10.7 2.3h0m2.1 1.2h0m4.6.5h0m2.6-1.5h0m.7 1.3h0m2-.4h0m-15.1 3.4h0m2.1-1.6h0m3.7-.1h0m.1-.5h0m1.5.9h0m.4 1h0m0 .9h0m2-.6h0m.5-.3h0m.6-1.1h0m.2 1.1h0m1.6-1.3h0m.3 1.7h0m1.3.5h0m2-1.5h0m1.2 0h0m-16.9 4.3h0m.6-1.2h0m.9-1.1h0m.5 1.9h0m.3-.2h0m1.3.4h0m.1-1.2h0m.3 1.1h0m.5.2h0m.4-1h0m.7-1.3h0m1.1 2.5h0m.4-1h0m.1-.2h0m.2.4h0m.5-1.6h0m.4 1.5h0m.6.3h0m.5.6h0m.7-2.4h0m1.5.7h0m.5.3h0m1.7.8h0m3.6-1.8h0m-19.2 4.4h0m1.5.5h0m2.9-1.8h0m.3 1.3h0m.3-.2h0m.8 1.2h0m.4-1h0m0 .7h0m.1-2.5h0m.1 2.1h0m0 0h0m.3.8h0m.4 0h0m.3-1.8h0m.3-.1h0m.1-.5h0m.1.7h0m0 .6h0m.6.5h0m.5-.2h0m.4-.5h0m0 .1h0m.2.5h0m.8-1.4h0m1-.5h0m.4 2h0m.8-1.3h0m.6.7h0m.2-1.4h0m.7.7h0m.4.7h0m.5 1h0m.6-1.3h0m0 .6h0m3.9-.6h0m.3 0h0m.1-1.1h0m.1 1h0m2.6-.5h0m-20.1 2.5h0m.8 1.2h0m0 .6h0m.3-1.9h0m.8 2.2h0m.4.4h0m.2-2.1h0m.6.4h0m.5.4h0m.5.5h0m.1.8h0m.1-2h0m.3 1.2h0m.3-.1h0m.1.2h0m.7-.4h0m.6-.5h0m.4-.4h0m.2-.2h0m0 0h0m2.4 1.6h0m.1-1.5h0m1.6-.6h0m0 .6h0m0 .3h0m1-1h0m.7.1h0m1.6 1.8h0m1.3.7h0m1.3-2.4h0m.3 1.4h0m.9-.5h0m-20.6 4.6h0m1-1.5h0m.1-.3h0m0-.9h0m1.1 1.4h0m.3.5h0m.6.1h0m1.4.9h0m.4-.7h0m.2.5h0m0-1.2h0m0-1.2h0m.1 2.3h0m.1-2h0m.1 1.1h0m.1-.1h0m.9 1.2h0m0-2.5h0m.4 2.1h0m.3-.7h0m.3-.3h0m.2-.3h0m.1.5h0m.2-.6h0m.1.8h0m.4-.3h0m1 .6h0m0-1.9h0m.2 1.8h0m.3-.1h0m.5-.9h0m.6.3h0m.2.5h0m.6.5h0m.5-.9h0m.4.8h0m1.6-.7h0m1.4-.6h0m1-.3h0m.9 1h0m4.9.8h0m2.3-1h0m-24.7 2.5h0m.1 1.7h0m.1-1.1h0m0-.6h0m.6 0h0m1.7 1.7h0m.1-2.3h0m.8 2.2h0m.6-2h0m.2 1.5h0m.1-.6h0m.4-.6h0m.4 1.6h0m0-.2h0m.3-1.6h0m.1 2.2h0m.1-2.1h0m0-.2h0m.2.8h0m.1.7h0m.4-.1h0m.3-.5h0m.2.3h0m.4-.6h0m.1.9h0m0-.6h0m.4.7h0m.4.2h0m.7-.9h0m.3 1.2h0m.4.3h0m0-1.8h0m.2 0h0m.5-.9h0m.3 2.2h0m.2-.4h0m.4-1.8h0m.4 2.2h0m.1.2h0m0-2h0m.2 2.2h0m.8-2.2h0m.5 1.2h0m.4-.7h0m0-.5h0m.4.3h0m.4.7h0m0-.8h0m.5 1.8h0m1.6-.9h0m.6-.8h0m.1.1h0m.8 1.1h0m.2-1.2h0m.3 1.7h0m.1-2h0m5.9 1.7h0m-23.8 1.1h0m1.2 1.9h0m.1-.4h0m1.1-1.9h0m.4 1.7h0m2.6-1.2h0m.5 0h0m.9-.5h0m.1.8h0m.5-.3h0m1.1.2h0m.3.8h0m.5.7h0m.4-2.1h0m.1 2.1h0m.5-1.3h0m.7-.8h0m.4 1.3h0m0-1.1h0m.6.6h0m.2 1.4h0m.6-.2h0m.5-2.1h0m.5 0h0m.1 1.5h0m0-.7h0m.2 1.9h0m2.4-2.5h0m-14.4 3.2h0m2.4.3h0m.1 1.6h0m.2-1.1h0m.5 1.2h0m.8-1.1h0m.7-1h0m.3 2h0m.9-1.5h0m.7.3h0m.7.8h0m.8-1.3h0m.3-.4h0m1.9.3h0m2 2.3h0m0-.6h0m-11.5 1.6h0m.9 1.1h0m1.4-1.5h0m2 .2h0m.1-.6h0m2.4.1h0m.1 1h0m.6.8h0m.1-.3h0m0-.3h0m.1-1.2h0m1.5 2.4h0m-3.3.8h0m3.3 2.2h0m-.1 1.3h0" stroke="#6a1848" stroke-width="1" stroke-linecap="square" stroke-opacity="0.92"/>
<path d="M454.3 595.8h0m.6-1.5h0m1.2 2.6h0m2.3 1.7h0m.3 1.2h0m.8-1.6h0m-9.6 2.7h0m1.8 1.4h0m.2-1.1h0m0 1h0m.1-1.3h0m.9 1.3h0m.7-1.6h0m.8 2.3h0m1.2-.2h0m.6.1h0m1.1-.6h0m.7-1.6h0m2.3 1.7h0m1.2.4h0m.4-1.6h0m.5 1h0m.7.8h0m-14.4.5h0m.9 2.1h0m.1-.9h0m0 .1h0m.2.7h0m.4-.6h0m.2 0h0m.4-1.2h0m.3 1.2h0m.1-.4h0m0 1.3h0m.2-2.7h0m.3 1.3h0m.7-.6h0m.2.7h0m.1-.9h0m.4 1.1h0m.4-.8h0m.6-.7h0m0 .1h0m.3.8h0m.1 1.7h0m.2-1.8h0m.3 1.6h0m.1-.9h0m.1-1.6h0m0 1.1h0m.1-.9h0m.1 1.5h0m.1.3h0m.1-1.4h0m.1-.3h0m.1 0h0m.6 1.4h0m.6.2h0m.1-.2h0m1.2.6h0m.3-.3h0m.2-1h0m.2 1.6h0m.2.2h0m.1-.5h0m.9-2h0m.7 1.7h0m.7-1.5h0m0 1.2h0m1.3-1.2h0m2.4 2h0m-17.3 1.1h0m.8.9h0m.5 1.3h0m.3-.8h0m.5-1.8h0m0 .7h0m.1-.4h0m.6 1.2h0m.3-.1h0m.4.6h0m.2.2h0m.5 0h0m1.3-.1h0m.1.1h0m.1.1h0m0-1.7h0m.1.2h0m0 .3h0m.4-.5h0m.3 0h0m.1 1.6h0m.2-2.1h0m.2 1.7h0m.3-.1h0m.2-1.3h0m.1 2.2h0m.1-1.6h0m.1.3h0m.1-1.5h0m.1 1h0m.3 1.5h0m.2-.1h0m.3-2.4h0m.3.3h0m.2 2.5h0m.2-2.8h0m.2 1.9h0m0 .1h0m.2-1.6h0m.3.4h0m.2-.3h0m0 .1h0m.2.3h0m0 .5h0m.1-1h0m0 .6h0m.1 1.6h0m.2-1.4h0m.4 1.5h0m.1.2h0m.2-1.1h0m.3-1.7h0m.1 1.5h0m.1-.5h0m.3-.6h0m.7-.3h0m.2 2.1h0m.8.1h0m1.4-2h0m.9 1.7h0m.2-1.3h0m1.9 1.2h0m1.7.5h0m-21.7 1h0m.9-.2h0m1.5 1h0m.1.1h0m.2.2h0m.1.1h0m0-1.3h0m.3.8h0m.1-.7h0m.2 1.9h0m.8-2.1h0m.3-.3h0m.4.1h0m.1 2.2h0m.4-1h0m.4.3h0m.2.8h0m.4-1.2h0m.3-.6h0m.1 1.6h0m0-.7h0m.1 1h0m0-.1h0m0-1h0m.3-.4h0m.1-.8h0m.6 1.9h0m0-1.3h0m.2.5h0m.1.6h0m.2-1.8h0m.1.5h0m.3 1.7h0m.1-.3h0m.2-.5h0m0-.1h0m0-.2h0m.4-.7h0m.4 0h0m.2 1.1h0m0-.8h0m.6 1.7h0m.2-1.5h0m.1 1.3h0m.2-2h0m.1 2.1h0m0-1h0m.5.3h0m.3.1h0m.3-.3h0m0-.3h0m.2.8h0m0-1.4h0m.7-.2h0m.1 1.6h0m2.7-2h0m.5 2.1h0m.1-.9h0m.7.7h0m.9-1.3h0m.3.4h0m1.2.4h0m-21.9 2.3h0m.2 0h0m.7-.3h0m.9.8h0m.2-.6h0m1.4.4h0m.3.4h0m1.5 1.3h0m.1-.6h0m.7-1.5h0m.5 2.3h0m1.2-1.6h0m.3.6h0m0-.3h0m.2-.4h0m.5.5h0m.1-1.3h0m.6.3h0m.3.9h0m.4-1.6h0m.2 2.8h0m.4-2.2h0m.2.8h0m.3.3h0m.3-.4h0m.5.8h0m.2-1.9h0m.4 2h0m.1.5h0m.2-1.2h0m.1.3h0m0-1h0m.2-.6h0m.6.2h0m.1 1.4h0m.3.4h0m0-1.5h0m.1 1.5h0m.1.5h0m.3-.1h0m0-2.2h0m.4.8h0m.3.7h0m.3-.9h0m.7 1.3h0m.5-2.1h0m1.4.6h0m1.3.3h0m1.8-.1h0m1.6-.7h0m-19.1 3.1h0m1-.3h0m.8.9h0m.9 1.5h0m.9-2h0m.5 2.1h0m.1-.8h0m.2.5h0m.3-.1h0m.2-.5h0m0-.5h0m.2-.3h0m.2 1.1h0m.1-2h0m1 2h0m.1-.6h0m.1-1.4h0m.3 1.6h0m.2 1h0m.6-.8h0m.8.5h0m.1-2.2h0m.7 1.7h0m.3-.4h0m1.1.6h0m.2-1.5h0m.4.2h0m0-.3h0m.3 2.2h0m.1-2.3h0m.6.1h0m.4 2.5h0m.2-2h0m.3-.9h0m0 0h0m.8 1.1h0m.4 0h0m.1.8h0m.5-1.5h0m3.4 1.9h0m-15.9 1.6h0m.1 1.4h0m.8-1.9h0m.4-.1h0m0-.1h0m2.4 1.1h0m.8 1.5h0m1.1-2.7h0m.1 2.5h0m0-1.5h0m5.7-.3h0m1.7.3h0m-14.2 2.3h0m4.6-.2h0m7.1 1.8h0m-2 2.5h0" stroke="#9a2450" stroke-width="1" stroke-linecap="square" stroke-opacity="0.92"/>
<path d="M454.5 599.9h0m8.3-2.1h0m-13.4 4.7h0m1.5.3h0m.6-.2h0m.7-2.3h0m2.4-.1h0m.8 2.3h0m0 .4h0m.1-.9h0m.1.1h0m.2-.4h0m.1-.3h0m.1.3h0m.2.8h0m0 .4h0m.1-1h0m.9-1.6h0m1.3 1.6h0m1.2-.6h0m2-1.1h0m-13.2 4.7h0m.4-.7h0m1.9-.8h0m.9.1h0m.4-.2h0m.4 1.4h0m.2 1h0m.5-1.2h0m.1-.6h0m.1.3h0m.4.2h0m.1 1.5h0m.1-1.2h0m.6-1.2h0m.4 2.2h0m.1-1.8h0m.6 1.7h0m.2-1.2h0m1-.5h0m.2 1.4h0m.2-.5h0m.8.6h0m.2-1.6h0m.1.6h0m.9 1h0m.9-.1h0m.6-1.8h0m.2-.3h0m.1 2.1h0m1.8-.2h0m-14.2 3.3h0m1.3-.5h0m.2-1.4h0m1-.4h0m.7.3h0m0 2.1h0m1.1-1h0m.1-1.4h0m.2 2h0m.2-.5h0m.1-.6h0m.1-.6h0m.3 2.4h0m.2-1.6h0m.2 1.6h0m.1-.6h0m.2.4h0m.3-1.8h0m.2.8h0m.1-.8h0m0 .2h0m.1.1h0m.2-.7h0m0 1.2h0m.1 0h0m.3-1.5h0m0 1.9h0m1.4-.9h0m.4-1.1h0m0 1.4h0m.1.1h0m.1.9h0m.7-2.4h0m.1 2.6h0m.3-.9h0m.1.6h0m.1-1.6h0m.1-.6h0m0 .5h0m.1 1.2h0m.3-.3h0m.1-1.4h0m.2 1h0m0 .9h0m.7-1.1h0m.3-.3h0m0-.1h0m0 2.4h0m0-1.3h0m0 0h0m.6.3h0m.1.7h0m.3-1.7h0m.4 1h0m1.2-.5h0m0 0h0m1.2-.6h0m-17.1 2.6h0m3.1 2.1h0m.5.3h0m.1-2.3h0m.5.1h0m.2 1.8h0m.2-1.6h0m.2 0h0m0-.4h0m.7.6h0m.1 1.9h0m.1-1.3h0m.2-.6h0m0-.6h0m.2-.3h0m.2 1.4h0m.3-1h0m.1 1.6h0m0-.3h0m.1-1.5h0m.2 1.9h0m.1-1.2h0m0-1h0m.2 1.2h0m.2-.1h0m.3-.6h0m.3 1.2h0m.3-1.5h0m.1 1.4h0m.2.2h0m0-1h0m.2 1.9h0m.6-2h0m0 0h0m.2 1.4h0m0 0h0m.3.1h0m0-1.5h0m.3.8h0m.1-1.5h0m.1 2.2h0m0-.7h0m.2 1.2h0m.2-.2h0m0-.4h0m.1-1.7h0m.1 2.5h0m.1-1.3h0m.2-.1h0m0-.5h0m.1 1h0m0-1.1h0m1.5 2h0m.1-1.5h0m0-.6h0m.3.8h0m.2-1.4h0m.1 1.8h0m.7-.9h0m.5.1h0m1.6 1.1h0m.6-1.5h0m-16.4 4.1h0m.3-1.5h0m2.3-.4h0m.1 1.8h0m.3-1.6h0m.2 1.3h0m.3.3h0m.8-.4h0m.7-.9h0m0-.2h0m.1.3h0m.6 1.5h0m.8-1.5h0m.1 2.3h0m0-.2h0m.6-1.9h0m.1.1h0m.5.6h0m0-.1h0m0-1.3h0m.1.9h0m.1.2h0m.1-.3h0m.4.4h0m.1-.9h0m.6 2.1h0m.3-1.4h0m.2-1h0m.6 1.1h0m1 .9h0m.3-2.1h0m1 1.5h0m.3 0h0m-16.7 2.6h0m9.2-1.1h0m.1 1.9h0m.1-.8h0m.6-.4h0m.8-.3h0m.9.5h0m.8 1.1h0m1-.8h0m1.6 0h0m1-1.2h0m.3 1.1h0m.2-1.1h0m1.5 1.2h0m2.6-.6h0m-11.8 2.5h0m4.4.1h0m.1 1.6h0m1.3-.6h0m2.2-.2h0" stroke="#c23a52" stroke-width="1" stroke-linecap="square" stroke-opacity="0.92"/>
<path d="M459.4 600.8h0m-6.1 2.3h0m1.2 1h0m.2 1.6h0m1-.3h0m1.9-.7h0m0 .3h0m.7 0h0m.2-1h0m2.6.7h0m-8.4 1.5h0m1.3.1h0m1.1 2.5h0m.1 0h0m.5-2.3h0m.5-.5h0m.4 1.1h0m0 .2h0m.3.2h0m.8.4h0m.1-1.1h0m.9-.5h0m1 .2h0m0 1.1h0m.1 1.3h0m.2-2.5h0m1 .5h0m1.4 2h0m.1-2.2h0m.8 2h0m-11.3 2.9h0m1.5-1.8h0m1.2.1h0m.7.4h0m.1-.1h0m.7 1.5h0m.2-1.9h0m.1-.6h0m.2-.1h0m.8 2.6h0m4.6-1.5h0m-7.8 2.4h0m.3 1.5h0m.7-1.3h0m0-.3h0m.3 0h0m2.8 2.2h0m.3-2.5h0m1.1.1h0m.5 1.8h0m.3 4.5h0" stroke="#e06058" stroke-width="1" stroke-linecap="square" stroke-opacity="0.92"/>
<path d="M455.5 604.4h0m4.2 1h0m-5.6 2.5h0m1.4 0h0m5.2-.3h0m-.5 3.4h0m-1.7 3.7h0" stroke="#f08a6a" stroke-width="1" stroke-linecap="square" stroke-opacity="0.92"/>
<path d="M455 595.9h0m.3-1.4h0m1.3 2.3h0m-.4 1.1h0m1.3 0h0m.9-.8h0m-9.5 4.3h0m1.8 1.2h0m.3-1.3h0m.9-.9h0m11.6 1.2h0m-13.6 1.5h0m14.2.1h0m2.4 1.7h0m-19.2 1.5h0m1.5.4h0m-4.1 2.7h0m3.5 2.3h0m.5-.5h0m.2-1.5h0m.1-.3h0m.6 1.8h0m.3-2h0m14.7.5h0m.7 2h0m-19.8 3.1h0m2.9-.4h0m.3-.1h0m.9-.9h0m.6-1.4h0m.8 2.4h0m16-1h0m-14.8 3.8h0m1 0h0m.6-.5h0m.3-.5h0m3.8 1.3h0m4.3-1.9h0m.3 2.1h0m-17.9.2h0m8.8 1.6h0m0 0h0m.3.6h0m.1-1.1h0m1.6 1.5h0m1.9-1h0m.7-.4h0m.4-1h0m2.1 2.1h0m1.4-1.6h0m.1-.2h0m-4.7 4.2h0m-.8 1.7h0m7.8 5.3h0" stroke="#f6b49a" stroke-width="1" stroke-linecap="square" stroke-opacity="0.92"/>
</g>
<line x1="437.6" y1="598.5" x2="438.8" y2="598.5" stroke="#444" stroke-width="0.4" />
<text x="436.6" y="600.3" font-size="5.2" fill="#333" stroke="#333" stroke-width="0.16" text-anchor="end">0</text>
<line x1="437.6" y1="612.95" x2="438.8" y2="612.95" stroke="#444" stroke-width="0.4" />
<text x="436.6" y="614.75" font-size="5.2" fill="#333" stroke="#333" stroke-width="0.16" text-anchor="end">−0.05</text>
<line x1="437.6" y1="627.4" x2="438.8" y2="627.4" stroke="#444" stroke-width="0.4" />
<text x="436.6" y="629.2" font-size="5.2" fill="#333" stroke="#333" stroke-width="0.16" text-anchor="end">−0.10</text>
<line x1="443.1" y1="636.9" x2="443.1" y2="638.1" stroke="#444" stroke-width="0.4" />
<text x="443.1" y="643.9" font-size="5.2" fill="#333" stroke="#333" stroke-width="0.16" text-anchor="middle">−0.2</text>
<line x1="458.9" y1="636.9" x2="458.9" y2="638.1" stroke="#444" stroke-width="0.4" />
<text x="458.9" y="643.9" font-size="5.2" fill="#333" stroke="#333" stroke-width="0.16" text-anchor="middle">0</text>
<line x1="474.7" y1="636.9" x2="474.7" y2="638.1" stroke="#444" stroke-width="0.4" />
<text x="474.7" y="643.9" font-size="5.2" fill="#333" stroke="#333" stroke-width="0.16" text-anchor="middle">0.2</text>
<text x="461.4" y="651.7" font-size="6.2" fill="#333" stroke="#333" stroke-width="0.16" text-anchor="middle"><tspan>T</tspan><tspan dy="1.55" font-size="3.84">CM</tspan><tspan dy="-1.55"> score</tspan></text>
<text x="416.4" y="613.8" font-size="6.2" fill="#333" stroke="#333" stroke-width="0.16" text-anchor="middle" transform="rotate(-90 416.4 613.8)"><tspan>T</tspan><tspan dy="1.55" font-size="3.84">SM</tspan><tspan dy="-1.55"> score</tspan></text>
<rect x="489" y="601" width="3" height="22.6" fill="url(#mag)" />
<text x="487.4" y="596.4" font-size="5.4" fill="#333" stroke="#333" stroke-width="0.16">Density</text>
<text x="493.6" y="603.6" font-size="4.8" fill="#333" stroke="#333" stroke-width="0.16">3</text>
<text x="493.6" y="610.6" font-size="4.8" fill="#333" stroke="#333" stroke-width="0.16">2</text>
<text x="493.6" y="617.6" font-size="4.8" fill="#333" stroke="#333" stroke-width="0.16">1</text>
<text x="493.6" y="624.6" font-size="4.8" fill="#333" stroke="#333" stroke-width="0.16">0</text>
</svg></body></html>
